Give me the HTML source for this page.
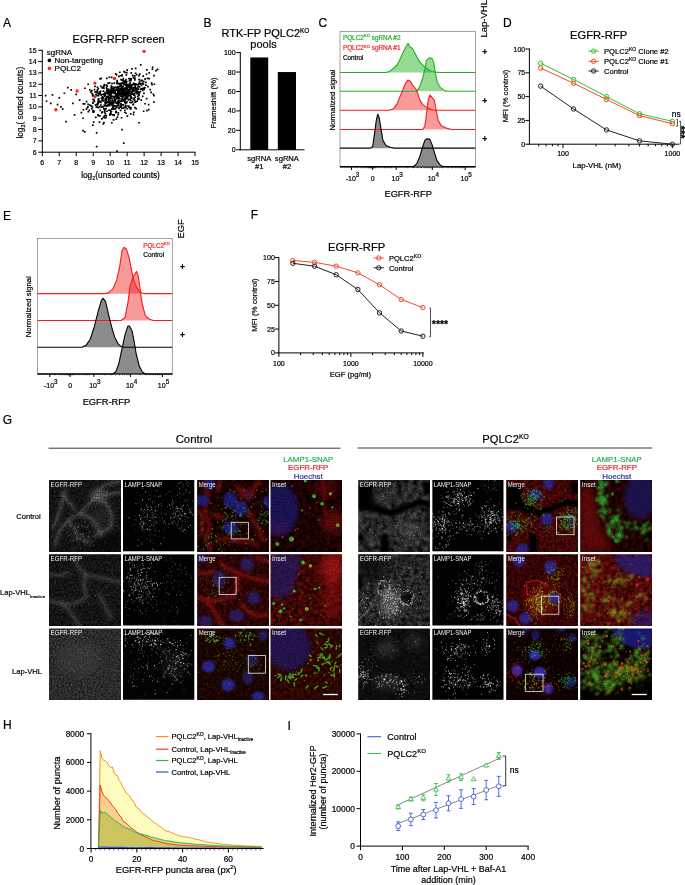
<!DOCTYPE html><html><head><meta charset="utf-8"><style>html,body{margin:0;padding:0;background:#fff;width:685px;height:885px;overflow:hidden;}svg{display:block;font-family:"Liberation Sans",sans-serif;will-change:transform;}</style></head><body><svg width="685" height="885" viewBox="0 0 685 885" font-family="'Liberation Sans', sans-serif"><defs>
<filter id="bl05" x="-20%" y="-20%" width="140%" height="140%"><feGaussianBlur stdDeviation="0.5"/></filter>
<filter id="bl1" x="-20%" y="-20%" width="140%" height="140%"><feGaussianBlur stdDeviation="1"/></filter>
<filter id="bl2" x="-30%" y="-30%" width="160%" height="160%"><feGaussianBlur stdDeviation="2"/></filter>
<filter id="bl4" x="-50%" y="-50%" width="200%" height="200%"><feGaussianBlur stdDeviation="4"/></filter>
<filter id="grainW" x="0" y="0" width="100%" height="100%"><feTurbulence type="fractalNoise" baseFrequency="0.9" numOctaves="1" seed="4"/><feColorMatrix type="matrix" values="0 0 0 0 1  0 0 0 0 1  0 0 0 0 1  2.2 0 0 0 -1.0"/></filter>
<filter id="grainK" x="0" y="0" width="100%" height="100%"><feTurbulence type="fractalNoise" baseFrequency="0.7" numOctaves="2" seed="9"/><feColorMatrix type="matrix" values="0 0 0 0 0  0 0 0 0 0  0 0 0 0 0  2.0 0 0 0 -0.85"/></filter>
<filter id="grainR" x="0" y="0" width="100%" height="100%"><feTurbulence type="fractalNoise" baseFrequency="0.45" numOctaves="2" seed="11"/><feColorMatrix type="matrix" values="0 0 0 0 0.85  0 0 0 0 0.05  0 0 0 0 0.05  2.4 0 0 0 -1.05"/></filter>
<filter id="nf1" x="0" y="0" width="100%" height="100%" color-interpolation-filters="sRGB"><feTurbulence type="fractalNoise" baseFrequency="0.4" numOctaves="2" seed="1"/><feColorMatrix type="matrix" values="0.275 0 0 0 -0.035  0.275 0 0 0 -0.035  0.275 0 0 0 -0.035  0 0 0 0 1.0"/></filter><filter id="nf2" x="0" y="0" width="100%" height="100%" color-interpolation-filters="sRGB"><feTurbulence type="fractalNoise" baseFrequency="0.8" numOctaves="1" seed="101"/><feColorMatrix type="matrix" values="0.000 0 0 0 0.000  0.000 0 0 0 0.000  0.000 0 0 0 0.000  0 1.375 0 0 -0.412"/></filter><filter id="nf3" x="0" y="0" width="100%" height="100%" color-interpolation-filters="sRGB"><feTurbulence type="fractalNoise" baseFrequency="0.3" numOctaves="3" seed="3"/><feColorMatrix type="matrix" values="0.461 0 0 0 -0.107  0.039 0 0 0 -0.012  0.039 0 0 0 -0.012  0 0 0 0 1.0"/></filter><filter id="nf4" x="0" y="0" width="100%" height="100%" color-interpolation-filters="sRGB"><feTurbulence type="fractalNoise" baseFrequency="0.8" numOctaves="1" seed="103"/><feColorMatrix type="matrix" values="0.000 0 0 0 0.000  0.000 0 0 0 0.000  0.000 0 0 0 0.000  0 1.125 0 0 -0.337"/></filter><filter id="nf5" x="0" y="0" width="100%" height="100%" color-interpolation-filters="sRGB"><feTurbulence type="fractalNoise" baseFrequency="0.25" numOctaves="3" seed="4"/><feColorMatrix type="matrix" values="0.510 0 0 0 -0.122  0.049 0 0 0 -0.015  0.049 0 0 0 -0.015  0 0 0 0 1.0"/></filter><filter id="nf6" x="0" y="0" width="100%" height="100%" color-interpolation-filters="sRGB"><feTurbulence type="fractalNoise" baseFrequency="0.8" numOctaves="1" seed="104"/><feColorMatrix type="matrix" values="0.000 0 0 0 0.000  0.000 0 0 0 0.000  0.000 0 0 0 0.000  0 1.125 0 0 -0.337"/></filter><filter id="nf7" x="0" y="0" width="100%" height="100%" color-interpolation-filters="sRGB"><feTurbulence type="fractalNoise" baseFrequency="0.4" numOctaves="2" seed="5"/><feColorMatrix type="matrix" values="0.255 0 0 0 -0.022  0.255 0 0 0 -0.022  0.255 0 0 0 -0.022  0 0 0 0 1.0"/></filter><filter id="nf8" x="0" y="0" width="100%" height="100%" color-interpolation-filters="sRGB"><feTurbulence type="fractalNoise" baseFrequency="0.8" numOctaves="1" seed="105"/><feColorMatrix type="matrix" values="0.000 0 0 0 0.000  0.000 0 0 0 0.000  0.000 0 0 0 0.000  0 1.250 0 0 -0.375"/></filter><filter id="nf9" x="0" y="0" width="100%" height="100%" color-interpolation-filters="sRGB"><feTurbulence type="fractalNoise" baseFrequency="0.3" numOctaves="3" seed="7"/><feColorMatrix type="matrix" values="0.549 0 0 0 -0.071  0.059 0 0 0 -0.010  0.059 0 0 0 -0.010  0 0 0 0 1.0"/></filter><filter id="nf10" x="0" y="0" width="100%" height="100%" color-interpolation-filters="sRGB"><feTurbulence type="fractalNoise" baseFrequency="0.8" numOctaves="1" seed="107"/><feColorMatrix type="matrix" values="0.000 0 0 0 0.000  0.000 0 0 0 0.000  0.000 0 0 0 0.000  0 1.000 0 0 -0.300"/></filter><filter id="nf11" x="0" y="0" width="100%" height="100%" color-interpolation-filters="sRGB"><feTurbulence type="fractalNoise" baseFrequency="0.25" numOctaves="3" seed="8"/><feColorMatrix type="matrix" values="0.686 0 0 0 -0.049  0.088 0 0 0 -0.015  0.088 0 0 0 -0.015  0 0 0 0 1.0"/></filter><filter id="nf12" x="0" y="0" width="100%" height="100%" color-interpolation-filters="sRGB"><feTurbulence type="fractalNoise" baseFrequency="0.8" numOctaves="1" seed="108"/><feColorMatrix type="matrix" values="0.000 0 0 0 0.000  0.000 0 0 0 0.000  0.000 0 0 0 0.000  0 1.000 0 0 -0.300"/></filter><filter id="nf13" x="0" y="0" width="100%" height="100%" color-interpolation-filters="sRGB"><feTurbulence type="fractalNoise" baseFrequency="0.5" numOctaves="2" seed="9"/><feColorMatrix type="matrix" values="0.353 0 0 0 0.027  0.353 0 0 0 0.027  0.353 0 0 0 0.027  0 0 0 0 1.0"/></filter><filter id="nf14" x="0" y="0" width="100%" height="100%" color-interpolation-filters="sRGB"><feTurbulence type="fractalNoise" baseFrequency="0.9" numOctaves="1" seed="109"/><feColorMatrix type="matrix" values="0.000 0 0 0 0.000  0.000 0 0 0 0.000  0.000 0 0 0 0.000  0 0.875 0 0 -0.263"/></filter><filter id="nf15" x="0" y="0" width="100%" height="100%" color-interpolation-filters="sRGB"><feTurbulence type="fractalNoise" baseFrequency="0.35" numOctaves="3" seed="11"/><feColorMatrix type="matrix" values="0.353 0 0 0 -0.051  0.059 0 0 0 -0.010  0.020 0 0 0 -0.006  0 0 0 0 1.0"/></filter><filter id="nf16" x="0" y="0" width="100%" height="100%" color-interpolation-filters="sRGB"><feTurbulence type="fractalNoise" baseFrequency="0.8" numOctaves="1" seed="111"/><feColorMatrix type="matrix" values="0.000 0 0 0 0.000  0.000 0 0 0 0.000  0.000 0 0 0 0.000  0 0.875 0 0 -0.263"/></filter><filter id="nf17" x="0" y="0" width="100%" height="100%" color-interpolation-filters="sRGB"><feTurbulence type="fractalNoise" baseFrequency="0.3" numOctaves="3" seed="12"/><feColorMatrix type="matrix" values="0.490 0 0 0 -0.029  0.078 0 0 0 -0.008  0.020 0 0 0 -0.006  0 0 0 0 1.0"/></filter><filter id="nf18" x="0" y="0" width="100%" height="100%" color-interpolation-filters="sRGB"><feTurbulence type="fractalNoise" baseFrequency="0.8" numOctaves="1" seed="112"/><feColorMatrix type="matrix" values="0.000 0 0 0 0.000  0.000 0 0 0 0.000  0.000 0 0 0 0.000  0 1.000 0 0 -0.300"/></filter><filter id="nf19" x="0" y="0" width="100%" height="100%" color-interpolation-filters="sRGB"><feTurbulence type="fractalNoise" baseFrequency="0.18" numOctaves="4" seed="13"/><feColorMatrix type="matrix" values="0.549 0 0 0 -0.078  0.549 0 0 0 -0.078  0.549 0 0 0 -0.078  0 0 0 0 1.0"/></filter><filter id="nf20" x="0" y="0" width="100%" height="100%" color-interpolation-filters="sRGB"><feTurbulence type="fractalNoise" baseFrequency="0.8" numOctaves="1" seed="113"/><feColorMatrix type="matrix" values="0.000 0 0 0 0.000  0.000 0 0 0 0.000  0.000 0 0 0 0.000  0 1.125 0 0 -0.337"/></filter><filter id="nf21" x="0" y="0" width="100%" height="100%" color-interpolation-filters="sRGB"><feTurbulence type="fractalNoise" baseFrequency="0.35" numOctaves="3" seed="15"/><feColorMatrix type="matrix" values="0.686 0 0 0 -0.029  0.098 0 0 0 -0.022  0.098 0 0 0 -0.022  0 0 0 0 1.0"/></filter><filter id="nf22" x="0" y="0" width="100%" height="100%" color-interpolation-filters="sRGB"><feTurbulence type="fractalNoise" baseFrequency="0.8" numOctaves="1" seed="115"/><feColorMatrix type="matrix" values="0.000 0 0 0 0.000  0.000 0 0 0 0.000  0.000 0 0 0 0.000  0 1.000 0 0 -0.300"/></filter><filter id="nf23" x="0" y="0" width="100%" height="100%" color-interpolation-filters="sRGB"><feTurbulence type="fractalNoise" baseFrequency="0.25" numOctaves="3" seed="16"/><feColorMatrix type="matrix" values="0.471 0 0 0 -0.094  0.049 0 0 0 -0.015  0.049 0 0 0 -0.015  0 0 0 0 1.0"/></filter><filter id="nf24" x="0" y="0" width="100%" height="100%" color-interpolation-filters="sRGB"><feTurbulence type="fractalNoise" baseFrequency="0.8" numOctaves="1" seed="116"/><feColorMatrix type="matrix" values="0.000 0 0 0 0.000  0.000 0 0 0 0.000  0.000 0 0 0 0.000  0 0.875 0 0 -0.263"/></filter><filter id="nf25" x="0" y="0" width="100%" height="100%" color-interpolation-filters="sRGB"><feTurbulence type="fractalNoise" baseFrequency="0.25" numOctaves="3" seed="17"/><feColorMatrix type="matrix" values="0.451 0 0 0 -0.057  0.451 0 0 0 -0.057  0.451 0 0 0 -0.057  0 0 0 0 1.0"/></filter><filter id="nf26" x="0" y="0" width="100%" height="100%" color-interpolation-filters="sRGB"><feTurbulence type="fractalNoise" baseFrequency="0.8" numOctaves="1" seed="117"/><feColorMatrix type="matrix" values="0.000 0 0 0 0.000  0.000 0 0 0 0.000  0.000 0 0 0 0.000  0 1.000 0 0 -0.300"/></filter><filter id="nf27" x="0" y="0" width="100%" height="100%" color-interpolation-filters="sRGB"><feTurbulence type="fractalNoise" baseFrequency="0.35" numOctaves="3" seed="19"/><feColorMatrix type="matrix" values="0.637 0 0 0 -0.074  0.078 0 0 0 -0.024  0.078 0 0 0 -0.024  0 0 0 0 1.0"/></filter><filter id="nf28" x="0" y="0" width="100%" height="100%" color-interpolation-filters="sRGB"><feTurbulence type="fractalNoise" baseFrequency="0.8" numOctaves="1" seed="119"/><feColorMatrix type="matrix" values="0.000 0 0 0 0.000  0.000 0 0 0 0.000  0.000 0 0 0 0.000  0 0.875 0 0 -0.263"/></filter><filter id="nf29" x="0" y="0" width="100%" height="100%" color-interpolation-filters="sRGB"><feTurbulence type="fractalNoise" baseFrequency="0.25" numOctaves="3" seed="20"/><feColorMatrix type="matrix" values="0.882 0 0 0 -0.069  0.118 0 0 0 -0.020  0.118 0 0 0 -0.020  0 0 0 0 1.0"/></filter><filter id="nf30" x="0" y="0" width="100%" height="100%" color-interpolation-filters="sRGB"><feTurbulence type="fractalNoise" baseFrequency="0.8" numOctaves="1" seed="120"/><feColorMatrix type="matrix" values="0.000 0 0 0 0.000  0.000 0 0 0 0.000  0.000 0 0 0 0.000  0 0.875 0 0 -0.263"/></filter><filter id="nf31" x="0" y="0" width="100%" height="100%" color-interpolation-filters="sRGB"><feTurbulence type="fractalNoise" baseFrequency="0.4" numOctaves="3" seed="21"/><feColorMatrix type="matrix" values="0.137 0 0 0 -0.018  0.137 0 0 0 -0.018  0.137 0 0 0 -0.018  0 0 0 0 1.0"/></filter><filter id="nf32" x="0" y="0" width="100%" height="100%" color-interpolation-filters="sRGB"><feTurbulence type="fractalNoise" baseFrequency="0.35" numOctaves="3" seed="23"/><feColorMatrix type="matrix" values="0.216 0 0 0 -0.049  0.020 0 0 0 -0.006  0.020 0 0 0 -0.006  0 0 0 0 1.0"/></filter><filter id="nf33" x="0" y="0" width="100%" height="100%" color-interpolation-filters="sRGB"><feTurbulence type="fractalNoise" baseFrequency="0.3" numOctaves="3" seed="24"/><feColorMatrix type="matrix" values="0.157 0 0 0 -0.039  0.029 0 0 0 -0.009  0.000 0 0 0 0.000  0 0 0 0 1.0"/></filter><filter id="nf34" x="0" y="0" width="100%" height="100%" color-interpolation-filters="sRGB"><feTurbulence type="fractalNoise" baseFrequency="0.8" numOctaves="1" seed="124"/><feColorMatrix type="matrix" values="0.000 0 0 0 0.000  0.000 0 0 0 0.000  0.000 0 0 0 0.000  0 0.875 0 0 -0.263"/></filter></defs><rect width="685" height="885" fill="#fff"/><text x="3.10" y="26.90" font-size="12" text-anchor="start" fill="#000" stroke="#000" stroke-width="0.2" >A</text>
<text x="203.40" y="26.80" font-size="12" text-anchor="start" fill="#000" stroke="#000" stroke-width="0.2" >B</text>
<text x="318.40" y="26.80" font-size="12" text-anchor="start" fill="#000" stroke="#000" stroke-width="0.2" >C</text>
<text x="502.90" y="26.60" font-size="12" text-anchor="start" fill="#000" stroke="#000" stroke-width="0.2" >D</text>
<text x="3.10" y="219.50" font-size="12" text-anchor="start" fill="#000" stroke="#000" stroke-width="0.2" >E</text>
<text x="250.70" y="219.40" font-size="12" text-anchor="start" fill="#000" stroke="#000" stroke-width="0.2" >F</text>
<text x="2.70" y="423.60" font-size="12" text-anchor="start" fill="#000" stroke="#000" stroke-width="0.2" >G</text>
<text x="3.10" y="728.80" font-size="12" text-anchor="start" fill="#000" stroke="#000" stroke-width="0.2" >H</text>
<text x="287.40" y="729.50" font-size="12" text-anchor="start" fill="#000" stroke="#000" stroke-width="0.2" >I</text>
<text x="118.60" y="42.80" font-size="11" text-anchor="middle" fill="#000" stroke="#000" stroke-width="0.2" >EGFR-RFP screen</text>
<line x1="42.30" y1="49.73" x2="42.30" y2="152.70" stroke="#000" stroke-width="1" />
<line x1="41.80" y1="152.20" x2="195.53" y2="152.20" stroke="#000" stroke-width="1" />
<line x1="38.30" y1="152.20" x2="42.30" y2="152.20" stroke="#000" stroke-width="1" />
<text x="36.60" y="154.70" font-size="7" text-anchor="end" fill="#000" stroke="#000" stroke-width="0.2" >6</text>
<line x1="42.30" y1="152.20" x2="42.30" y2="156.20" stroke="#000" stroke-width="1" />
<text x="42.30" y="164.60" font-size="7" text-anchor="middle" fill="#000" stroke="#000" stroke-width="0.2" >6</text>
<line x1="38.30" y1="140.87" x2="42.30" y2="140.87" stroke="#000" stroke-width="1" />
<text x="36.60" y="143.37" font-size="7" text-anchor="end" fill="#000" stroke="#000" stroke-width="0.2" >7</text>
<line x1="59.27" y1="152.20" x2="59.27" y2="156.20" stroke="#000" stroke-width="1" />
<text x="59.27" y="164.60" font-size="7" text-anchor="middle" fill="#000" stroke="#000" stroke-width="0.2" >7</text>
<line x1="38.30" y1="129.54" x2="42.30" y2="129.54" stroke="#000" stroke-width="1" />
<text x="36.60" y="132.04" font-size="7" text-anchor="end" fill="#000" stroke="#000" stroke-width="0.2" >8</text>
<line x1="76.24" y1="152.20" x2="76.24" y2="156.20" stroke="#000" stroke-width="1" />
<text x="76.24" y="164.60" font-size="7" text-anchor="middle" fill="#000" stroke="#000" stroke-width="0.2" >8</text>
<line x1="38.30" y1="118.21" x2="42.30" y2="118.21" stroke="#000" stroke-width="1" />
<text x="36.60" y="120.71" font-size="7" text-anchor="end" fill="#000" stroke="#000" stroke-width="0.2" >9</text>
<line x1="93.21" y1="152.20" x2="93.21" y2="156.20" stroke="#000" stroke-width="1" />
<text x="93.21" y="164.60" font-size="7" text-anchor="middle" fill="#000" stroke="#000" stroke-width="0.2" >9</text>
<line x1="38.30" y1="106.88" x2="42.30" y2="106.88" stroke="#000" stroke-width="1" />
<text x="36.60" y="109.38" font-size="7" text-anchor="end" fill="#000" stroke="#000" stroke-width="0.2" >10</text>
<line x1="110.18" y1="152.20" x2="110.18" y2="156.20" stroke="#000" stroke-width="1" />
<text x="110.18" y="164.60" font-size="7" text-anchor="middle" fill="#000" stroke="#000" stroke-width="0.2" >10</text>
<line x1="38.30" y1="95.55" x2="42.30" y2="95.55" stroke="#000" stroke-width="1" />
<text x="36.60" y="98.05" font-size="7" text-anchor="end" fill="#000" stroke="#000" stroke-width="0.2" >11</text>
<line x1="127.15" y1="152.20" x2="127.15" y2="156.20" stroke="#000" stroke-width="1" />
<text x="127.15" y="164.60" font-size="7" text-anchor="middle" fill="#000" stroke="#000" stroke-width="0.2" >11</text>
<line x1="38.30" y1="84.22" x2="42.30" y2="84.22" stroke="#000" stroke-width="1" />
<text x="36.60" y="86.72" font-size="7" text-anchor="end" fill="#000" stroke="#000" stroke-width="0.2" >12</text>
<line x1="144.12" y1="152.20" x2="144.12" y2="156.20" stroke="#000" stroke-width="1" />
<text x="144.12" y="164.60" font-size="7" text-anchor="middle" fill="#000" stroke="#000" stroke-width="0.2" >12</text>
<line x1="38.30" y1="72.89" x2="42.30" y2="72.89" stroke="#000" stroke-width="1" />
<text x="36.60" y="75.39" font-size="7" text-anchor="end" fill="#000" stroke="#000" stroke-width="0.2" >13</text>
<line x1="161.09" y1="152.20" x2="161.09" y2="156.20" stroke="#000" stroke-width="1" />
<text x="161.09" y="164.60" font-size="7" text-anchor="middle" fill="#000" stroke="#000" stroke-width="0.2" >13</text>
<line x1="38.30" y1="61.56" x2="42.30" y2="61.56" stroke="#000" stroke-width="1" />
<text x="36.60" y="64.06" font-size="7" text-anchor="end" fill="#000" stroke="#000" stroke-width="0.2" >14</text>
<line x1="178.06" y1="152.20" x2="178.06" y2="156.20" stroke="#000" stroke-width="1" />
<text x="178.06" y="164.60" font-size="7" text-anchor="middle" fill="#000" stroke="#000" stroke-width="0.2" >14</text>
<line x1="38.30" y1="50.23" x2="42.30" y2="50.23" stroke="#000" stroke-width="1" />
<text x="36.60" y="52.73" font-size="7" text-anchor="end" fill="#000" stroke="#000" stroke-width="0.2" >15</text>
<line x1="195.03" y1="152.20" x2="195.03" y2="156.20" stroke="#000" stroke-width="1" />
<text x="195.03" y="164.60" font-size="7" text-anchor="middle" fill="#000" stroke="#000" stroke-width="0.2" >15</text>
<text x="120.50" y="177.60" font-size="8.3" text-anchor="middle" fill="#000" stroke="#000" stroke-width="0.2" >log<tspan font-size="5.5" dy="2">2</tspan><tspan dy="-2">(unsorted counts)</tspan></text>
<text x="22.60" y="102.70" font-size="8.3" text-anchor="middle" fill="#000" stroke="#000" stroke-width="0.2" transform="rotate(-90 22.60 102.70)" >log<tspan font-size="5.5" dy="2">2</tspan><tspan dy="-2">( sorted counts)</tspan></text>
<path d="M114.3,91.2h1.7v1.7h-1.7zM114.7,98.3h1.7v1.7h-1.7zM105.2,100.1h1.7v1.7h-1.7zM132.9,86.7h1.7v1.7h-1.7zM131.9,88.6h1.7v1.7h-1.7zM123.2,91.6h1.7v1.7h-1.7zM95.2,93.5h1.7v1.7h-1.7zM124.7,88.4h1.7v1.7h-1.7zM94.9,116.6h1.7v1.7h-1.7zM105.7,102.2h1.7v1.7h-1.7zM122.0,93.9h1.7v1.7h-1.7zM124.9,98.4h1.7v1.7h-1.7zM122.0,90.0h1.7v1.7h-1.7zM108.8,82.0h1.7v1.7h-1.7zM125.4,82.0h1.7v1.7h-1.7zM109.4,103.6h1.7v1.7h-1.7zM113.1,97.0h1.7v1.7h-1.7zM126.4,90.1h1.7v1.7h-1.7zM111.7,104.9h1.7v1.7h-1.7zM110.7,85.9h1.7v1.7h-1.7zM106.8,95.6h1.7v1.7h-1.7zM123.6,106.2h1.7v1.7h-1.7zM118.5,83.0h1.7v1.7h-1.7zM90.5,105.2h1.7v1.7h-1.7zM116.4,102.3h1.7v1.7h-1.7zM124.6,93.4h1.7v1.7h-1.7zM97.9,93.0h1.7v1.7h-1.7zM126.9,83.8h1.7v1.7h-1.7zM137.4,86.0h1.7v1.7h-1.7zM119.4,105.7h1.7v1.7h-1.7zM126.2,97.8h1.7v1.7h-1.7zM111.7,107.6h1.7v1.7h-1.7zM104.7,103.1h1.7v1.7h-1.7zM135.3,107.7h1.7v1.7h-1.7zM98.0,98.1h1.7v1.7h-1.7zM137.4,84.1h1.7v1.7h-1.7zM92.0,124.2h1.7v1.7h-1.7zM122.7,99.8h1.7v1.7h-1.7zM102.6,90.3h1.7v1.7h-1.7zM132.8,89.1h1.7v1.7h-1.7zM121.2,89.9h1.7v1.7h-1.7zM139.5,83.2h1.7v1.7h-1.7zM124.9,87.9h1.7v1.7h-1.7zM96.5,89.3h1.7v1.7h-1.7zM130.8,86.4h1.7v1.7h-1.7zM91.0,107.8h1.7v1.7h-1.7zM129.3,107.5h1.7v1.7h-1.7zM115.3,86.4h1.7v1.7h-1.7zM100.0,85.5h1.7v1.7h-1.7zM125.3,93.9h1.7v1.7h-1.7zM122.2,87.7h1.7v1.7h-1.7zM119.4,84.1h1.7v1.7h-1.7zM108.8,100.9h1.7v1.7h-1.7zM132.0,90.5h1.7v1.7h-1.7zM105.9,89.7h1.7v1.7h-1.7zM137.7,93.1h1.7v1.7h-1.7zM99.1,101.1h1.7v1.7h-1.7zM115.8,97.9h1.7v1.7h-1.7zM136.9,98.4h1.7v1.7h-1.7zM134.9,101.1h1.7v1.7h-1.7zM107.1,92.1h1.7v1.7h-1.7zM133.1,82.8h1.7v1.7h-1.7zM122.5,92.1h1.7v1.7h-1.7zM119.9,89.0h1.7v1.7h-1.7zM115.4,92.9h1.7v1.7h-1.7zM125.6,92.5h1.7v1.7h-1.7zM128.2,86.8h1.7v1.7h-1.7zM145.1,84.2h1.7v1.7h-1.7zM112.0,99.6h1.7v1.7h-1.7zM117.6,86.6h1.7v1.7h-1.7zM113.2,92.6h1.7v1.7h-1.7zM142.8,110.4h1.7v1.7h-1.7zM102.6,96.8h1.7v1.7h-1.7zM123.2,91.1h1.7v1.7h-1.7zM112.0,90.6h1.7v1.7h-1.7zM121.6,98.2h1.7v1.7h-1.7zM150.8,82.3h1.7v1.7h-1.7zM110.3,97.7h1.7v1.7h-1.7zM114.8,96.1h1.7v1.7h-1.7zM82.5,108.9h1.7v1.7h-1.7zM131.5,101.2h1.7v1.7h-1.7zM116.9,86.5h1.7v1.7h-1.7zM129.4,78.3h1.7v1.7h-1.7zM94.7,104.3h1.7v1.7h-1.7zM113.2,90.5h1.7v1.7h-1.7zM132.6,113.5h1.7v1.7h-1.7zM132.6,103.3h1.7v1.7h-1.7zM127.1,105.3h1.7v1.7h-1.7zM120.2,83.5h1.7v1.7h-1.7zM115.8,93.6h1.7v1.7h-1.7zM128.6,90.4h1.7v1.7h-1.7zM116.6,81.5h1.7v1.7h-1.7zM132.0,93.3h1.7v1.7h-1.7zM153.1,94.9h1.7v1.7h-1.7zM130.2,93.6h1.7v1.7h-1.7zM119.6,88.0h1.7v1.7h-1.7zM120.8,88.2h1.7v1.7h-1.7zM97.1,113.9h1.7v1.7h-1.7zM126.2,100.9h1.7v1.7h-1.7zM103.9,111.6h1.7v1.7h-1.7zM135.0,83.3h1.7v1.7h-1.7zM137.8,97.4h1.7v1.7h-1.7zM117.8,104.8h1.7v1.7h-1.7zM128.2,77.7h1.7v1.7h-1.7zM105.7,84.3h1.7v1.7h-1.7zM131.2,92.5h1.7v1.7h-1.7zM91.0,89.8h1.7v1.7h-1.7zM116.5,100.4h1.7v1.7h-1.7zM123.2,89.6h1.7v1.7h-1.7zM138.2,98.0h1.7v1.7h-1.7zM133.2,77.2h1.7v1.7h-1.7zM137.5,90.8h1.7v1.7h-1.7zM107.7,88.5h1.7v1.7h-1.7zM119.4,93.2h1.7v1.7h-1.7zM137.2,91.6h1.7v1.7h-1.7zM86.6,106.9h1.7v1.7h-1.7zM92.6,94.5h1.7v1.7h-1.7zM122.1,98.9h1.7v1.7h-1.7zM117.7,87.4h1.7v1.7h-1.7zM118.9,82.7h1.7v1.7h-1.7zM117.0,85.7h1.7v1.7h-1.7zM138.1,74.8h1.7v1.7h-1.7zM108.7,89.5h1.7v1.7h-1.7zM92.3,111.4h1.7v1.7h-1.7zM91.2,92.7h1.7v1.7h-1.7zM101.1,99.5h1.7v1.7h-1.7zM115.2,95.7h1.7v1.7h-1.7zM109.8,94.9h1.7v1.7h-1.7zM142.1,87.5h1.7v1.7h-1.7zM125.0,83.8h1.7v1.7h-1.7zM115.1,106.6h1.7v1.7h-1.7zM110.3,87.3h1.7v1.7h-1.7zM95.5,106.3h1.7v1.7h-1.7zM131.5,83.9h1.7v1.7h-1.7zM117.9,87.6h1.7v1.7h-1.7zM120.1,104.5h1.7v1.7h-1.7zM96.6,106.3h1.7v1.7h-1.7zM130.3,96.2h1.7v1.7h-1.7zM105.6,104.9h1.7v1.7h-1.7zM97.0,101.6h1.7v1.7h-1.7zM101.8,96.0h1.7v1.7h-1.7zM85.8,100.8h1.7v1.7h-1.7zM109.1,114.3h1.7v1.7h-1.7zM127.7,94.4h1.7v1.7h-1.7zM87.5,110.9h1.7v1.7h-1.7zM121.8,97.6h1.7v1.7h-1.7zM128.4,85.1h1.7v1.7h-1.7zM126.9,89.3h1.7v1.7h-1.7zM135.9,83.8h1.7v1.7h-1.7zM123.9,111.4h1.7v1.7h-1.7zM130.0,79.7h1.7v1.7h-1.7zM113.8,100.0h1.7v1.7h-1.7zM144.2,102.9h1.7v1.7h-1.7zM124.2,71.5h1.7v1.7h-1.7zM105.2,92.1h1.7v1.7h-1.7zM143.4,88.6h1.7v1.7h-1.7zM125.4,84.6h1.7v1.7h-1.7zM105.5,98.9h1.7v1.7h-1.7zM121.8,86.3h1.7v1.7h-1.7zM117.3,96.6h1.7v1.7h-1.7zM104.0,101.7h1.7v1.7h-1.7zM129.9,90.4h1.7v1.7h-1.7zM106.2,105.4h1.7v1.7h-1.7zM153.1,74.7h1.7v1.7h-1.7zM126.5,115.2h1.7v1.7h-1.7zM126.3,88.1h1.7v1.7h-1.7zM140.7,84.5h1.7v1.7h-1.7zM116.9,90.3h1.7v1.7h-1.7zM91.4,93.0h1.7v1.7h-1.7zM122.2,99.7h1.7v1.7h-1.7zM135.8,73.7h1.7v1.7h-1.7zM98.8,105.9h1.7v1.7h-1.7zM121.8,92.0h1.7v1.7h-1.7zM112.4,104.8h1.7v1.7h-1.7zM146.6,77.5h1.7v1.7h-1.7zM101.6,111.1h1.7v1.7h-1.7zM140.9,79.5h1.7v1.7h-1.7zM142.5,80.6h1.7v1.7h-1.7zM106.0,95.7h1.7v1.7h-1.7zM88.5,109.5h1.7v1.7h-1.7zM117.0,90.3h1.7v1.7h-1.7zM107.9,98.6h1.7v1.7h-1.7zM124.0,89.6h1.7v1.7h-1.7zM126.5,90.4h1.7v1.7h-1.7zM113.4,89.0h1.7v1.7h-1.7zM118.5,101.8h1.7v1.7h-1.7zM109.3,97.1h1.7v1.7h-1.7zM116.3,93.7h1.7v1.7h-1.7zM117.8,93.1h1.7v1.7h-1.7zM116.0,106.3h1.7v1.7h-1.7zM123.5,83.8h1.7v1.7h-1.7zM123.7,94.7h1.7v1.7h-1.7zM123.9,101.5h1.7v1.7h-1.7zM92.1,101.4h1.7v1.7h-1.7zM105.2,91.7h1.7v1.7h-1.7zM103.1,121.8h1.7v1.7h-1.7zM103.7,84.7h1.7v1.7h-1.7zM112.6,108.3h1.7v1.7h-1.7zM107.5,93.0h1.7v1.7h-1.7zM124.6,91.2h1.7v1.7h-1.7zM138.0,82.8h1.7v1.7h-1.7zM117.5,89.5h1.7v1.7h-1.7zM140.3,79.8h1.7v1.7h-1.7zM131.7,100.4h1.7v1.7h-1.7zM115.8,88.8h1.7v1.7h-1.7zM113.8,86.4h1.7v1.7h-1.7zM125.9,84.4h1.7v1.7h-1.7zM114.9,73.0h1.7v1.7h-1.7zM134.6,91.9h1.7v1.7h-1.7zM119.0,71.4h1.7v1.7h-1.7zM113.2,88.3h1.7v1.7h-1.7zM131.1,90.9h1.7v1.7h-1.7zM102.0,97.5h1.7v1.7h-1.7zM122.7,83.3h1.7v1.7h-1.7zM128.4,91.5h1.7v1.7h-1.7zM129.4,86.7h1.7v1.7h-1.7zM120.6,93.4h1.7v1.7h-1.7zM114.5,89.6h1.7v1.7h-1.7zM103.5,104.3h1.7v1.7h-1.7zM117.9,107.6h1.7v1.7h-1.7zM111.9,114.1h1.7v1.7h-1.7zM108.5,92.3h1.7v1.7h-1.7zM125.5,93.0h1.7v1.7h-1.7zM114.7,108.1h1.7v1.7h-1.7zM142.6,83.2h1.7v1.7h-1.7zM132.7,98.3h1.7v1.7h-1.7zM115.3,111.5h1.7v1.7h-1.7zM128.4,83.5h1.7v1.7h-1.7zM92.1,102.4h1.7v1.7h-1.7zM126.4,107.9h1.7v1.7h-1.7zM93.0,111.1h1.7v1.7h-1.7zM109.3,109.5h1.7v1.7h-1.7zM118.2,92.4h1.7v1.7h-1.7zM126.4,86.1h1.7v1.7h-1.7zM138.2,78.7h1.7v1.7h-1.7zM100.0,104.2h1.7v1.7h-1.7zM103.4,108.3h1.7v1.7h-1.7zM116.7,95.0h1.7v1.7h-1.7zM124.5,106.9h1.7v1.7h-1.7zM101.0,99.6h1.7v1.7h-1.7zM115.1,98.2h1.7v1.7h-1.7zM117.0,101.7h1.7v1.7h-1.7zM127.3,88.9h1.7v1.7h-1.7zM116.6,101.0h1.7v1.7h-1.7zM115.5,118.3h1.7v1.7h-1.7zM104.5,98.1h1.7v1.7h-1.7zM97.4,98.7h1.7v1.7h-1.7zM119.8,106.3h1.7v1.7h-1.7zM114.4,98.4h1.7v1.7h-1.7zM124.1,87.5h1.7v1.7h-1.7zM117.3,102.4h1.7v1.7h-1.7zM115.9,95.8h1.7v1.7h-1.7zM127.8,89.3h1.7v1.7h-1.7zM108.0,109.4h1.7v1.7h-1.7zM112.7,102.7h1.7v1.7h-1.7zM102.7,100.0h1.7v1.7h-1.7zM111.1,95.6h1.7v1.7h-1.7zM124.9,96.4h1.7v1.7h-1.7zM149.4,88.7h1.7v1.7h-1.7zM132.8,89.4h1.7v1.7h-1.7zM133.0,111.4h1.7v1.7h-1.7zM107.6,95.4h1.7v1.7h-1.7zM126.0,71.8h1.7v1.7h-1.7zM122.2,82.2h1.7v1.7h-1.7zM128.2,83.4h1.7v1.7h-1.7zM124.7,94.1h1.7v1.7h-1.7zM124.7,102.3h1.7v1.7h-1.7zM133.9,99.2h1.7v1.7h-1.7zM121.2,75.0h1.7v1.7h-1.7zM114.8,95.4h1.7v1.7h-1.7zM133.6,90.0h1.7v1.7h-1.7zM106.9,95.5h1.7v1.7h-1.7zM125.7,86.2h1.7v1.7h-1.7zM107.3,82.2h1.7v1.7h-1.7zM140.4,88.2h1.7v1.7h-1.7zM121.5,97.5h1.7v1.7h-1.7zM137.0,95.5h1.7v1.7h-1.7zM127.0,96.4h1.7v1.7h-1.7zM108.4,91.0h1.7v1.7h-1.7zM135.9,89.7h1.7v1.7h-1.7zM108.6,90.1h1.7v1.7h-1.7zM117.1,92.1h1.7v1.7h-1.7zM138.5,78.9h1.7v1.7h-1.7zM110.8,76.5h1.7v1.7h-1.7zM117.9,87.7h1.7v1.7h-1.7zM109.0,97.6h1.7v1.7h-1.7zM94.1,85.6h1.7v1.7h-1.7zM136.4,100.2h1.7v1.7h-1.7zM97.4,114.8h1.7v1.7h-1.7zM133.8,94.3h1.7v1.7h-1.7zM117.0,97.7h1.7v1.7h-1.7zM116.2,104.8h1.7v1.7h-1.7zM118.1,107.3h1.7v1.7h-1.7zM116.8,92.2h1.7v1.7h-1.7zM124.2,95.0h1.7v1.7h-1.7zM105.5,96.7h1.7v1.7h-1.7zM111.2,82.7h1.7v1.7h-1.7zM128.2,92.8h1.7v1.7h-1.7zM111.4,102.7h1.7v1.7h-1.7zM105.1,101.4h1.7v1.7h-1.7zM121.8,89.0h1.7v1.7h-1.7zM125.5,74.0h1.7v1.7h-1.7zM108.2,97.3h1.7v1.7h-1.7zM153.1,101.3h1.7v1.7h-1.7zM110.7,95.2h1.7v1.7h-1.7zM119.9,90.5h1.7v1.7h-1.7zM114.6,92.4h1.7v1.7h-1.7zM118.5,87.7h1.7v1.7h-1.7zM92.1,109.7h1.7v1.7h-1.7zM117.8,103.8h1.7v1.7h-1.7zM103.6,93.1h1.7v1.7h-1.7zM109.0,91.6h1.7v1.7h-1.7zM127.9,89.2h1.7v1.7h-1.7zM124.7,93.7h1.7v1.7h-1.7zM98.7,100.3h1.7v1.7h-1.7zM124.0,97.6h1.7v1.7h-1.7zM116.5,88.5h1.7v1.7h-1.7zM105.9,92.4h1.7v1.7h-1.7zM143.1,92.5h1.7v1.7h-1.7zM119.8,95.5h1.7v1.7h-1.7zM138.7,86.0h1.7v1.7h-1.7zM130.0,97.4h1.7v1.7h-1.7zM117.6,94.8h1.7v1.7h-1.7zM93.7,88.7h1.7v1.7h-1.7zM130.0,106.7h1.7v1.7h-1.7zM127.9,93.0h1.7v1.7h-1.7zM123.9,89.8h1.7v1.7h-1.7zM97.5,102.3h1.7v1.7h-1.7zM138.1,94.1h1.7v1.7h-1.7zM103.9,110.6h1.7v1.7h-1.7zM101.2,96.4h1.7v1.7h-1.7zM140.8,84.5h1.7v1.7h-1.7zM121.1,74.0h1.7v1.7h-1.7zM110.8,102.6h1.7v1.7h-1.7zM125.0,87.8h1.7v1.7h-1.7zM104.0,108.9h1.7v1.7h-1.7zM121.8,91.4h1.7v1.7h-1.7zM100.1,101.5h1.7v1.7h-1.7zM110.4,92.7h1.7v1.7h-1.7zM116.2,95.9h1.7v1.7h-1.7zM113.0,86.7h1.7v1.7h-1.7zM136.7,92.6h1.7v1.7h-1.7zM129.3,98.2h1.7v1.7h-1.7zM118.8,87.8h1.7v1.7h-1.7zM138.4,92.3h1.7v1.7h-1.7zM116.8,93.2h1.7v1.7h-1.7zM97.5,100.3h1.7v1.7h-1.7zM108.6,94.0h1.7v1.7h-1.7zM102.5,116.5h1.7v1.7h-1.7zM118.3,92.3h1.7v1.7h-1.7zM110.4,88.9h1.7v1.7h-1.7zM114.1,101.1h1.7v1.7h-1.7zM124.3,106.7h1.7v1.7h-1.7zM108.6,97.5h1.7v1.7h-1.7zM129.3,92.9h1.7v1.7h-1.7zM122.0,99.3h1.7v1.7h-1.7zM121.9,78.9h1.7v1.7h-1.7zM108.5,76.4h1.7v1.7h-1.7zM109.1,97.0h1.7v1.7h-1.7zM120.2,85.0h1.7v1.7h-1.7zM101.0,118.0h1.7v1.7h-1.7zM126.0,85.4h1.7v1.7h-1.7zM126.3,69.3h1.7v1.7h-1.7zM120.6,91.7h1.7v1.7h-1.7zM130.4,87.9h1.7v1.7h-1.7zM140.4,99.3h1.7v1.7h-1.7zM112.7,119.1h1.7v1.7h-1.7zM128.8,94.9h1.7v1.7h-1.7zM130.4,72.1h1.7v1.7h-1.7zM117.7,97.0h1.7v1.7h-1.7zM111.0,104.0h1.7v1.7h-1.7zM109.3,91.5h1.7v1.7h-1.7zM118.3,94.0h1.7v1.7h-1.7zM115.5,87.3h1.7v1.7h-1.7zM124.5,94.1h1.7v1.7h-1.7zM126.8,93.5h1.7v1.7h-1.7zM102.2,86.2h1.7v1.7h-1.7zM124.1,101.4h1.7v1.7h-1.7zM132.5,87.5h1.7v1.7h-1.7zM96.6,86.4h1.7v1.7h-1.7zM122.3,85.6h1.7v1.7h-1.7zM120.5,95.3h1.7v1.7h-1.7zM96.8,92.0h1.7v1.7h-1.7zM118.2,97.1h1.7v1.7h-1.7zM122.6,92.7h1.7v1.7h-1.7zM127.0,95.4h1.7v1.7h-1.7zM117.3,113.7h1.7v1.7h-1.7zM112.1,90.3h1.7v1.7h-1.7zM136.0,92.8h1.7v1.7h-1.7zM116.2,81.2h1.7v1.7h-1.7zM113.4,89.5h1.7v1.7h-1.7zM140.6,88.0h1.7v1.7h-1.7zM134.5,96.3h1.7v1.7h-1.7zM120.6,94.6h1.7v1.7h-1.7zM119.4,84.3h1.7v1.7h-1.7zM150.3,91.5h1.7v1.7h-1.7zM110.0,92.5h1.7v1.7h-1.7zM103.5,94.3h1.7v1.7h-1.7zM125.6,95.0h1.7v1.7h-1.7zM125.0,106.4h1.7v1.7h-1.7zM128.1,105.5h1.7v1.7h-1.7zM108.4,102.3h1.7v1.7h-1.7zM112.4,88.6h1.7v1.7h-1.7zM118.9,97.9h1.7v1.7h-1.7zM125.2,78.7h1.7v1.7h-1.7zM117.9,91.4h1.7v1.7h-1.7zM134.6,87.6h1.7v1.7h-1.7zM100.4,77.6h1.7v1.7h-1.7zM147.8,103.8h1.7v1.7h-1.7zM117.3,91.2h1.7v1.7h-1.7zM130.9,85.1h1.7v1.7h-1.7zM114.1,105.0h1.7v1.7h-1.7zM119.2,85.2h1.7v1.7h-1.7zM103.0,107.9h1.7v1.7h-1.7zM117.5,111.9h1.7v1.7h-1.7zM114.3,99.5h1.7v1.7h-1.7zM123.9,99.2h1.7v1.7h-1.7zM105.8,101.5h1.7v1.7h-1.7zM117.1,100.8h1.7v1.7h-1.7zM118.0,88.0h1.7v1.7h-1.7zM133.9,75.1h1.7v1.7h-1.7zM107.2,101.4h1.7v1.7h-1.7zM84.1,87.4h1.7v1.7h-1.7zM108.0,97.8h1.7v1.7h-1.7zM124.9,104.7h1.7v1.7h-1.7zM124.1,93.2h1.7v1.7h-1.7zM93.0,99.1h1.7v1.7h-1.7zM134.0,106.7h1.7v1.7h-1.7zM128.8,89.8h1.7v1.7h-1.7zM124.3,89.0h1.7v1.7h-1.7zM135.5,91.7h1.7v1.7h-1.7zM129.7,95.0h1.7v1.7h-1.7zM127.7,99.1h1.7v1.7h-1.7zM116.3,79.8h1.7v1.7h-1.7zM123.9,94.4h1.7v1.7h-1.7zM102.3,106.0h1.7v1.7h-1.7zM120.4,85.7h1.7v1.7h-1.7zM123.6,88.4h1.7v1.7h-1.7zM117.2,82.9h1.7v1.7h-1.7zM112.5,101.0h1.7v1.7h-1.7zM129.9,90.8h1.7v1.7h-1.7zM114.0,100.9h1.7v1.7h-1.7zM114.3,90.2h1.7v1.7h-1.7zM122.6,104.0h1.7v1.7h-1.7zM123.6,91.5h1.7v1.7h-1.7zM104.2,91.7h1.7v1.7h-1.7zM114.0,98.7h1.7v1.7h-1.7zM128.6,80.0h1.7v1.7h-1.7zM108.5,93.4h1.7v1.7h-1.7zM105.9,77.6h1.7v1.7h-1.7zM111.1,86.0h1.7v1.7h-1.7zM109.0,90.0h1.7v1.7h-1.7zM147.9,108.7h1.7v1.7h-1.7zM111.9,91.9h1.7v1.7h-1.7zM116.6,101.0h1.7v1.7h-1.7zM147.0,85.8h1.7v1.7h-1.7zM95.5,93.4h1.7v1.7h-1.7zM94.4,91.1h1.7v1.7h-1.7zM110.0,95.6h1.7v1.7h-1.7zM134.9,88.9h1.7v1.7h-1.7zM98.9,115.0h1.7v1.7h-1.7zM133.9,83.7h1.7v1.7h-1.7zM106.7,90.2h1.7v1.7h-1.7zM124.6,87.1h1.7v1.7h-1.7zM87.1,106.0h1.7v1.7h-1.7zM130.0,84.8h1.7v1.7h-1.7zM129.8,113.1h1.7v1.7h-1.7zM120.1,89.7h1.7v1.7h-1.7zM152.5,93.4h1.7v1.7h-1.7zM113.3,95.6h1.7v1.7h-1.7zM129.8,95.2h1.7v1.7h-1.7zM133.4,97.3h1.7v1.7h-1.7zM121.4,98.3h1.7v1.7h-1.7zM120.0,100.2h1.7v1.7h-1.7zM96.1,91.1h1.7v1.7h-1.7zM121.9,98.5h1.7v1.7h-1.7zM120.5,85.2h1.7v1.7h-1.7zM104.5,99.4h1.7v1.7h-1.7zM125.1,88.0h1.7v1.7h-1.7zM113.3,114.6h1.7v1.7h-1.7zM134.7,87.1h1.7v1.7h-1.7zM118.0,97.1h1.7v1.7h-1.7zM121.4,97.5h1.7v1.7h-1.7zM103.9,105.1h1.7v1.7h-1.7zM109.7,102.4h1.7v1.7h-1.7zM102.1,93.5h1.7v1.7h-1.7zM100.0,93.9h1.7v1.7h-1.7zM104.0,95.4h1.7v1.7h-1.7zM136.5,87.7h1.7v1.7h-1.7zM107.9,97.1h1.7v1.7h-1.7zM119.8,109.5h1.7v1.7h-1.7zM109.6,95.6h1.7v1.7h-1.7zM111.4,95.8h1.7v1.7h-1.7zM127.8,85.1h1.7v1.7h-1.7zM130.1,86.1h1.7v1.7h-1.7zM113.9,96.0h1.7v1.7h-1.7zM114.1,98.5h1.7v1.7h-1.7zM115.4,110.6h1.7v1.7h-1.7zM113.3,96.2h1.7v1.7h-1.7zM104.6,98.6h1.7v1.7h-1.7zM124.8,94.2h1.7v1.7h-1.7zM146.0,109.8h1.7v1.7h-1.7zM115.0,111.6h1.7v1.7h-1.7zM131.1,68.0h1.7v1.7h-1.7zM83.8,103.1h1.7v1.7h-1.7zM124.9,95.4h1.7v1.7h-1.7zM125.3,112.4h1.7v1.7h-1.7zM129.4,88.2h1.7v1.7h-1.7zM118.1,99.8h1.7v1.7h-1.7zM126.5,96.6h1.7v1.7h-1.7zM120.8,98.4h1.7v1.7h-1.7zM87.3,103.5h1.7v1.7h-1.7zM120.6,87.3h1.7v1.7h-1.7zM105.9,98.3h1.7v1.7h-1.7zM126.2,91.1h1.7v1.7h-1.7zM134.7,72.4h1.7v1.7h-1.7zM105.5,115.1h1.7v1.7h-1.7zM129.4,77.9h1.7v1.7h-1.7zM130.3,84.0h1.7v1.7h-1.7zM109.4,103.4h1.7v1.7h-1.7zM129.9,99.4h1.7v1.7h-1.7zM93.2,110.4h1.7v1.7h-1.7zM151.6,68.2h1.7v1.7h-1.7zM108.5,103.8h1.7v1.7h-1.7zM121.0,100.4h1.7v1.7h-1.7zM135.6,90.4h1.7v1.7h-1.7zM103.1,87.3h1.7v1.7h-1.7zM109.9,95.0h1.7v1.7h-1.7zM117.6,97.5h1.7v1.7h-1.7zM122.2,99.6h1.7v1.7h-1.7zM92.8,121.2h1.7v1.7h-1.7zM100.6,106.2h1.7v1.7h-1.7zM117.5,94.3h1.7v1.7h-1.7zM125.4,91.5h1.7v1.7h-1.7zM107.0,104.0h1.7v1.7h-1.7zM89.1,104.3h1.7v1.7h-1.7zM124.4,88.2h1.7v1.7h-1.7zM116.2,96.7h1.7v1.7h-1.7zM130.5,91.0h1.7v1.7h-1.7zM127.8,86.7h1.7v1.7h-1.7zM120.7,82.3h1.7v1.7h-1.7zM110.0,100.1h1.7v1.7h-1.7zM106.8,104.8h1.7v1.7h-1.7zM138.9,73.2h1.7v1.7h-1.7zM118.1,89.6h1.7v1.7h-1.7zM133.8,83.1h1.7v1.7h-1.7zM134.2,101.3h1.7v1.7h-1.7zM109.1,93.1h1.7v1.7h-1.7zM137.3,88.3h1.7v1.7h-1.7zM106.2,101.1h1.7v1.7h-1.7zM108.8,104.8h1.7v1.7h-1.7zM138.2,94.5h1.7v1.7h-1.7zM118.1,75.5h1.7v1.7h-1.7zM133.9,87.2h1.7v1.7h-1.7zM109.5,93.4h1.7v1.7h-1.7zM139.8,83.0h1.7v1.7h-1.7zM134.9,89.0h1.7v1.7h-1.7zM124.8,94.5h1.7v1.7h-1.7zM123.6,81.6h1.7v1.7h-1.7zM98.4,100.7h1.7v1.7h-1.7zM121.1,98.8h1.7v1.7h-1.7zM113.6,88.9h1.7v1.7h-1.7zM145.0,81.5h1.7v1.7h-1.7zM122.2,107.2h1.7v1.7h-1.7zM144.0,86.7h1.7v1.7h-1.7zM117.4,104.7h1.7v1.7h-1.7zM117.0,104.6h1.7v1.7h-1.7zM118.8,90.3h1.7v1.7h-1.7zM118.2,92.1h1.7v1.7h-1.7zM106.3,85.3h1.7v1.7h-1.7zM108.9,113.3h1.7v1.7h-1.7zM115.3,102.2h1.7v1.7h-1.7zM104.1,101.7h1.7v1.7h-1.7zM121.8,104.0h1.7v1.7h-1.7zM115.9,82.6h1.7v1.7h-1.7zM127.1,93.4h1.7v1.7h-1.7zM119.5,95.3h1.7v1.7h-1.7zM117.2,88.4h1.7v1.7h-1.7zM116.6,116.3h1.7v1.7h-1.7zM117.5,102.6h1.7v1.7h-1.7zM126.7,97.6h1.7v1.7h-1.7zM119.8,74.9h1.7v1.7h-1.7zM103.6,108.6h1.7v1.7h-1.7zM98.7,121.2h1.7v1.7h-1.7zM92.3,98.6h1.7v1.7h-1.7zM109.2,113.6h1.7v1.7h-1.7zM97.7,94.9h1.7v1.7h-1.7zM107.3,100.9h1.7v1.7h-1.7zM122.3,81.5h1.7v1.7h-1.7zM144.2,78.2h1.7v1.7h-1.7zM119.8,92.5h1.7v1.7h-1.7zM142.3,75.2h1.7v1.7h-1.7zM113.6,91.8h1.7v1.7h-1.7zM121.7,93.1h1.7v1.7h-1.7zM111.0,108.3h1.7v1.7h-1.7zM110.6,110.4h1.7v1.7h-1.7zM134.4,85.3h1.7v1.7h-1.7zM101.4,87.0h1.7v1.7h-1.7zM129.9,108.2h1.7v1.7h-1.7zM142.8,80.5h1.7v1.7h-1.7zM145.8,97.7h1.7v1.7h-1.7zM125.0,88.9h1.7v1.7h-1.7zM120.6,92.4h1.7v1.7h-1.7zM132.1,103.9h1.7v1.7h-1.7zM101.0,111.7h1.7v1.7h-1.7zM110.2,102.2h1.7v1.7h-1.7zM122.8,90.9h1.7v1.7h-1.7zM118.2,100.6h1.7v1.7h-1.7zM111.8,88.0h1.7v1.7h-1.7zM128.2,90.9h1.7v1.7h-1.7zM113.4,82.2h1.7v1.7h-1.7zM109.7,91.2h1.7v1.7h-1.7zM133.5,92.7h1.7v1.7h-1.7zM129.0,101.4h1.7v1.7h-1.7zM131.6,89.1h1.7v1.7h-1.7zM96.3,94.8h1.7v1.7h-1.7zM105.7,86.8h1.7v1.7h-1.7zM108.6,98.7h1.7v1.7h-1.7zM121.7,96.6h1.7v1.7h-1.7zM121.3,98.6h1.7v1.7h-1.7zM126.9,92.1h1.7v1.7h-1.7zM120.7,116.9h1.7v1.7h-1.7zM133.6,90.0h1.7v1.7h-1.7zM93.6,100.6h1.7v1.7h-1.7zM124.2,83.5h1.7v1.7h-1.7zM103.1,85.1h1.7v1.7h-1.7zM115.7,74.1h1.7v1.7h-1.7zM115.8,89.2h1.7v1.7h-1.7zM112.8,106.0h1.7v1.7h-1.7zM132.7,82.5h1.7v1.7h-1.7zM138.7,81.3h1.7v1.7h-1.7zM110.0,111.6h1.7v1.7h-1.7zM109.0,103.1h1.7v1.7h-1.7zM106.7,92.7h1.7v1.7h-1.7zM122.3,95.8h1.7v1.7h-1.7zM120.2,95.3h1.7v1.7h-1.7zM120.7,87.2h1.7v1.7h-1.7zM130.8,97.1h1.7v1.7h-1.7zM97.4,87.8h1.7v1.7h-1.7zM119.4,84.5h1.7v1.7h-1.7zM95.5,103.9h1.7v1.7h-1.7zM118.2,107.3h1.7v1.7h-1.7zM110.8,90.3h1.7v1.7h-1.7zM132.5,76.5h1.7v1.7h-1.7zM106.1,110.4h1.7v1.7h-1.7zM124.9,84.4h1.7v1.7h-1.7zM120.4,105.5h1.7v1.7h-1.7zM128.4,84.7h1.7v1.7h-1.7zM125.3,96.9h1.7v1.7h-1.7zM121.9,86.6h1.7v1.7h-1.7zM110.2,113.1h1.7v1.7h-1.7zM122.3,89.2h1.7v1.7h-1.7zM118.0,86.8h1.7v1.7h-1.7zM109.9,97.7h1.7v1.7h-1.7zM113.7,90.8h1.7v1.7h-1.7zM139.5,90.8h1.7v1.7h-1.7zM145.7,73.4h1.7v1.7h-1.7zM128.5,86.5h1.7v1.7h-1.7zM141.9,89.6h1.7v1.7h-1.7zM116.3,104.5h1.7v1.7h-1.7zM124.2,81.0h1.7v1.7h-1.7zM125.0,88.9h1.7v1.7h-1.7zM115.1,94.0h1.7v1.7h-1.7zM98.5,90.9h1.7v1.7h-1.7zM112.2,106.0h1.7v1.7h-1.7zM107.6,104.8h1.7v1.7h-1.7zM129.4,82.1h1.7v1.7h-1.7zM99.4,91.7h1.7v1.7h-1.7zM129.9,96.4h1.7v1.7h-1.7zM97.6,106.9h1.7v1.7h-1.7zM109.2,94.1h1.7v1.7h-1.7zM113.0,114.0h1.7v1.7h-1.7zM121.0,107.4h1.7v1.7h-1.7zM130.1,101.9h1.7v1.7h-1.7zM108.4,104.9h1.7v1.7h-1.7zM110.4,85.3h1.7v1.7h-1.7zM129.4,86.1h1.7v1.7h-1.7zM122.1,107.2h1.7v1.7h-1.7zM110.7,101.6h1.7v1.7h-1.7zM104.5,93.9h1.7v1.7h-1.7zM107.8,103.8h1.7v1.7h-1.7zM103.6,116.9h1.7v1.7h-1.7zM125.9,80.7h1.7v1.7h-1.7zM120.2,102.7h1.7v1.7h-1.7zM82.5,103.1h1.7v1.7h-1.7zM134.3,87.4h1.7v1.7h-1.7zM130.4,78.1h1.7v1.7h-1.7zM133.1,94.3h1.7v1.7h-1.7zM132.1,83.8h1.7v1.7h-1.7zM96.9,104.1h1.7v1.7h-1.7zM98.5,101.1h1.7v1.7h-1.7zM125.7,101.9h1.7v1.7h-1.7zM89.9,91.1h1.7v1.7h-1.7zM122.9,80.3h1.7v1.7h-1.7zM99.8,90.4h1.7v1.7h-1.7zM146.0,69.1h1.7v1.7h-1.7zM115.0,93.1h1.7v1.7h-1.7zM115.7,86.5h1.7v1.7h-1.7zM131.9,90.0h1.7v1.7h-1.7zM99.4,93.3h1.7v1.7h-1.7zM111.4,90.9h1.7v1.7h-1.7zM121.4,79.3h1.7v1.7h-1.7zM133.3,94.4h1.7v1.7h-1.7zM122.6,77.8h1.7v1.7h-1.7zM110.5,92.9h1.7v1.7h-1.7zM134.0,79.1h1.7v1.7h-1.7zM124.9,104.4h1.7v1.7h-1.7zM100.7,97.3h1.7v1.7h-1.7zM123.1,70.7h1.7v1.7h-1.7zM106.1,87.9h1.7v1.7h-1.7zM128.3,106.5h1.7v1.7h-1.7zM106.7,96.3h1.7v1.7h-1.7zM111.1,97.9h1.7v1.7h-1.7zM124.2,100.1h1.7v1.7h-1.7zM124.1,98.5h1.7v1.7h-1.7zM110.4,92.0h1.7v1.7h-1.7zM110.0,94.3h1.7v1.7h-1.7zM139.5,88.4h1.7v1.7h-1.7zM115.8,88.8h1.7v1.7h-1.7zM112.9,86.5h1.7v1.7h-1.7zM100.4,94.1h1.7v1.7h-1.7zM110.9,103.7h1.7v1.7h-1.7zM141.8,95.5h1.7v1.7h-1.7zM141.7,82.2h1.7v1.7h-1.7zM137.5,97.8h1.7v1.7h-1.7zM134.1,77.3h1.7v1.7h-1.7zM116.2,96.3h1.7v1.7h-1.7zM151.2,83.8h1.7v1.7h-1.7zM112.1,101.9h1.7v1.7h-1.7zM123.9,90.1h1.7v1.7h-1.7zM120.2,78.8h1.7v1.7h-1.7zM113.4,91.8h1.7v1.7h-1.7zM137.6,98.0h1.7v1.7h-1.7zM131.9,74.6h1.7v1.7h-1.7zM99.4,109.6h1.7v1.7h-1.7zM103.7,115.0h1.7v1.7h-1.7zM124.0,109.4h1.7v1.7h-1.7zM124.6,80.0h1.7v1.7h-1.7zM95.9,103.6h1.7v1.7h-1.7zM91.8,95.1h1.7v1.7h-1.7zM107.8,99.9h1.7v1.7h-1.7zM118.6,89.7h1.7v1.7h-1.7zM113.1,95.9h1.7v1.7h-1.7zM110.4,95.8h1.7v1.7h-1.7zM101.9,98.6h1.7v1.7h-1.7zM91.6,106.4h1.7v1.7h-1.7zM143.8,86.7h1.7v1.7h-1.7zM100.7,97.2h1.7v1.7h-1.7zM104.6,113.0h1.7v1.7h-1.7zM107.8,91.0h1.7v1.7h-1.7zM123.0,94.1h1.7v1.7h-1.7zM105.2,107.8h1.7v1.7h-1.7zM136.1,87.4h1.7v1.7h-1.7zM104.9,117.0h1.7v1.7h-1.7zM99.2,78.0h1.7v1.7h-1.7zM102.2,99.8h1.7v1.7h-1.7zM120.7,95.3h1.7v1.7h-1.7zM114.0,107.9h1.7v1.7h-1.7zM103.5,83.8h1.7v1.7h-1.7zM107.5,90.1h1.7v1.7h-1.7zM44.8,94.7h1.7v1.7h-1.7zM45.7,100.4h1.7v1.7h-1.7zM51.6,94.1h1.7v1.7h-1.7zM56.7,103.8h1.7v1.7h-1.7zM60.1,106.0h1.7v1.7h-1.7zM63.5,92.4h1.7v1.7h-1.7zM66.9,86.8h1.7v1.7h-1.7zM70.3,89.0h1.7v1.7h-1.7zM73.7,114.0h1.7v1.7h-1.7zM65.2,120.8h1.7v1.7h-1.7zM82.2,129.8h1.7v1.7h-1.7zM83.9,131.0h1.7v1.7h-1.7zM95.8,132.1h1.7v1.7h-1.7zM95.8,145.7h1.7v1.7h-1.7zM116.1,150.2h1.7v1.7h-1.7zM122.9,142.3h1.7v1.7h-1.7zM121.2,128.7h1.7v1.7h-1.7zM138.2,121.9h1.7v1.7h-1.7zM82.2,117.4h1.7v1.7h-1.7zM102.5,123.0h1.7v1.7h-1.7zM111.0,121.9h1.7v1.7h-1.7zM155.1,69.8h1.7v1.7h-1.7zM151.8,66.4h1.7v1.7h-1.7zM148.4,72.0h1.7v1.7h-1.7zM139.9,64.1h1.7v1.7h-1.7zM153.5,83.4h1.7v1.7h-1.7zM148.4,77.7h1.7v1.7h-1.7zM156.8,68.6h1.7v1.7h-1.7zM134.8,67.5h1.7v1.7h-1.7zM58.4,97.0h1.7v1.7h-1.7zM72.0,102.6h1.7v1.7h-1.7zM78.8,99.2h1.7v1.7h-1.7zM75.4,93.6h1.7v1.7h-1.7zM85.6,108.3h1.7v1.7h-1.7zM80.5,111.7h1.7v1.7h-1.7zM49.9,102.6h1.7v1.7h-1.7zM61.8,108.3h1.7v1.7h-1.7zM89.0,89.0h1.7v1.7h-1.7zM87.3,83.4h1.7v1.7h-1.7zM90.7,104.9h1.7v1.7h-1.7z" fill="#000" stroke="none" stroke-width="1" />
<circle cx="55.88" cy="109.71" r="1.7" fill="#ee2a24"/>
<circle cx="77.09" cy="91.02" r="1.7" fill="#ee2a24"/>
<circle cx="94.91" cy="83.09" r="1.7" fill="#ee2a24"/>
<circle cx="94.91" cy="96.68" r="1.7" fill="#ee2a24"/>
<circle cx="114.42" cy="78.55" r="1.7" fill="#ee2a24"/>
<circle cx="144.12" cy="51.36" r="1.7" fill="#ee2a24"/>
<text x="46.70" y="54.60" font-size="8" text-anchor="start" fill="#000" stroke="#000" stroke-width="0.2" >sgRNA</text>
<circle cx="49.4" cy="60.4" r="1.8" fill="#000"/>
<text x="54.60" y="63.30" font-size="8" text-anchor="start" fill="#000" stroke="#000" stroke-width="0.2" >Non-targeting</text>
<circle cx="49.4" cy="68.4" r="1.8" fill="#ee2a24"/>
<text x="54.60" y="71.30" font-size="8" text-anchor="start" fill="#000" stroke="#000" stroke-width="0.2" >PQLC2</text>
<text x="265.50" y="37.00" font-size="11" text-anchor="middle" fill="#000" stroke="#000" stroke-width="0.2" >RTK-FP PQLC2<tspan font-size="6.5" dy="-4">KO</tspan></text>
<text x="263.50" y="47.50" font-size="11" text-anchor="middle" fill="#000" stroke="#000" stroke-width="0.2" >pools</text>
<line x1="240.30" y1="52.10" x2="240.30" y2="150.30" stroke="#000" stroke-width="1" />
<line x1="239.80" y1="149.80" x2="304.60" y2="149.80" stroke="#000" stroke-width="1" />
<line x1="236.30" y1="149.80" x2="240.30" y2="149.80" stroke="#000" stroke-width="1" />
<text x="235.60" y="152.30" font-size="7" text-anchor="end" fill="#000" stroke="#000" stroke-width="0.2" >0</text>
<line x1="236.30" y1="130.36" x2="240.30" y2="130.36" stroke="#000" stroke-width="1" />
<text x="235.60" y="132.86" font-size="7" text-anchor="end" fill="#000" stroke="#000" stroke-width="0.2" >20</text>
<line x1="236.30" y1="110.92" x2="240.30" y2="110.92" stroke="#000" stroke-width="1" />
<text x="235.60" y="113.42" font-size="7" text-anchor="end" fill="#000" stroke="#000" stroke-width="0.2" >40</text>
<line x1="236.30" y1="91.48" x2="240.30" y2="91.48" stroke="#000" stroke-width="1" />
<text x="235.60" y="93.98" font-size="7" text-anchor="end" fill="#000" stroke="#000" stroke-width="0.2" >60</text>
<line x1="236.30" y1="72.04" x2="240.30" y2="72.04" stroke="#000" stroke-width="1" />
<text x="235.60" y="74.54" font-size="7" text-anchor="end" fill="#000" stroke="#000" stroke-width="0.2" >80</text>
<line x1="236.30" y1="52.60" x2="240.30" y2="52.60" stroke="#000" stroke-width="1" />
<text x="235.60" y="55.10" font-size="7" text-anchor="end" fill="#000" stroke="#000" stroke-width="0.2" >100</text>
<rect x="250.3" y="57.46" width="17.9" height="92.34" fill="#000"/>
<rect x="277.8" y="72.04" width="18.2" height="77.76" fill="#000"/>
<text x="259.30" y="160.80" font-size="7.6" text-anchor="middle" fill="#000" stroke="#000" stroke-width="0.2" >sgRNA</text>
<text x="259.30" y="169.30" font-size="7.6" text-anchor="middle" fill="#000" stroke="#000" stroke-width="0.2" >#1</text>
<text x="286.90" y="160.80" font-size="7.6" text-anchor="middle" fill="#000" stroke="#000" stroke-width="0.2" >sgRNA</text>
<text x="286.90" y="169.30" font-size="7.6" text-anchor="middle" fill="#000" stroke="#000" stroke-width="0.2" >#2</text>
<text x="216.20" y="103.00" font-size="7.8" text-anchor="middle" fill="#000" stroke="#000" stroke-width="0.2" transform="rotate(-90 216.20 103.00)" >Frameshift (%)</text>
<rect x="340.0" y="31.6" width="135.39999999999998" height="135.4" fill="none" stroke="#8a8a8a" stroke-width="0.8"/>
<path d="M384.96,72.51 L384.96,72.51 L389.05,71.90 L394.98,66.99 L397.22,64.74 L399.47,60.45 L402.33,53.91 L405.20,47.98 L408.06,43.28 L409.90,46.96 L412.14,47.98 L414.60,52.48 L416.84,56.77 L419.71,61.88 L424.20,66.38 L427.88,69.24 L431.56,71.49 L435.85,72.10 L440.14,72.51 L440.14,72.51 Z" fill="#22b022" stroke="none" stroke-width="1" fill-opacity="0.48"/>
<path d="M415.62,91.31 L415.62,91.31 L416.84,91.11 L419.71,86.61 L422.77,78.03 L424.82,69.24 L426.45,60.45 L429.31,57.79 L432.17,58.61 L433.60,61.88 L435.03,70.67 L437.28,82.32 L440.35,87.43 L445.05,91.11 L448.32,91.31 L448.32,91.31 Z" fill="#22b022" stroke="none" stroke-width="1" fill-opacity="0.48"/>
<path d="M389.05,110.32 L389.05,110.32 L393.55,108.68 L397.22,103.57 L398.66,99.90 L402.33,91.11 L405.20,83.75 L407.85,80.07 L410.71,81.50 L412.55,85.18 L415.41,88.25 L416.84,91.11 L419.71,99.90 L422.77,104.60 L426.86,107.66 L431.97,109.71 L436.06,110.32 L436.06,110.32 Z" fill="#f41c1c" stroke="none" stroke-width="1" fill-opacity="0.45"/>
<path d="M422.77,129.53 L422.77,129.53 L424.82,126.06 L426.86,111.75 L428.29,99.49 L429.92,94.99 L431.97,97.44 L434.42,100.51 L436.06,109.71 L438.10,119.92 L441.16,125.65 L446.27,128.10 L451.38,129.53 L451.38,129.53 Z" fill="#f41c1c" stroke="none" stroke-width="1" fill-opacity="0.45"/>
<path d="M370.66,148.13 L370.66,148.13 L372.70,146.49 L374.74,132.19 L376.38,119.92 L377.81,114.20 L379.24,117.88 L380.87,128.10 L382.92,140.36 L385.98,145.47 L390.07,147.31 L394.16,148.13 L394.16,148.13 Z" fill="#000" stroke="none" stroke-width="1" fill-opacity="0.45"/>
<path d="M413.57,166.52 L413.57,166.52 L416.64,163.86 L419.71,156.71 L422.77,146.49 L424.82,140.36 L426.86,138.73 L429.92,139.34 L431.97,144.45 L434.42,152.62 L437.08,160.80 L440.14,164.89 L442.19,166.52 L442.19,166.52 Z" fill="#000" stroke="none" stroke-width="1" fill-opacity="0.45"/>
<path d="M340.00,72.51 L384.96,72.51 L389.05,71.90 L394.98,66.99 L397.22,64.74 L399.47,60.45 L402.33,53.91 L405.20,47.98 L408.06,43.28 L409.90,46.96 L412.14,47.98 L414.60,52.48 L416.84,56.77 L419.71,61.88 L424.20,66.38 L427.88,69.24 L431.56,71.49 L435.85,72.10 L440.14,72.51 L475.40,72.51" fill="none" stroke="#22b022" stroke-width="1.1" stroke-linejoin="round"/>
<path d="M340.00,91.31 L415.62,91.31 L416.84,91.11 L419.71,86.61 L422.77,78.03 L424.82,69.24 L426.45,60.45 L429.31,57.79 L432.17,58.61 L433.60,61.88 L435.03,70.67 L437.28,82.32 L440.35,87.43 L445.05,91.11 L448.32,91.31 L475.40,91.31" fill="none" stroke="#22b022" stroke-width="1.1" stroke-linejoin="round"/>
<path d="M340.00,110.32 L389.05,110.32 L393.55,108.68 L397.22,103.57 L398.66,99.90 L402.33,91.11 L405.20,83.75 L407.85,80.07 L410.71,81.50 L412.55,85.18 L415.41,88.25 L416.84,91.11 L419.71,99.90 L422.77,104.60 L426.86,107.66 L431.97,109.71 L436.06,110.32 L475.40,110.32" fill="none" stroke="#f41c1c" stroke-width="1.1" stroke-linejoin="round"/>
<path d="M340.00,129.53 L422.77,129.53 L424.82,126.06 L426.86,111.75 L428.29,99.49 L429.92,94.99 L431.97,97.44 L434.42,100.51 L436.06,109.71 L438.10,119.92 L441.16,125.65 L446.27,128.10 L451.38,129.53 L475.40,129.53" fill="none" stroke="#f41c1c" stroke-width="1.1" stroke-linejoin="round"/>
<path d="M340.00,148.13 L370.66,148.13 L372.70,146.49 L374.74,132.19 L376.38,119.92 L377.81,114.20 L379.24,117.88 L380.87,128.10 L382.92,140.36 L385.98,145.47 L390.07,147.31 L394.16,148.13 L475.40,148.13" fill="none" stroke="#000" stroke-width="1.1" stroke-linejoin="round"/>
<path d="M340.00,166.52 L413.57,166.52 L416.64,163.86 L419.71,156.71 L422.77,146.49 L424.82,140.36 L426.86,138.73 L429.92,139.34 L431.97,144.45 L434.42,152.62 L437.08,160.80 L440.14,164.89 L442.19,166.52 L475.40,166.52" fill="none" stroke="#000" stroke-width="1.1" stroke-linejoin="round"/>
<line x1="340.00" y1="167.00" x2="475.40" y2="167.00" stroke="#000" stroke-width="1" />
<line x1="351.50" y1="167.00" x2="351.50" y2="170.00" stroke="#000" stroke-width="1" />
<line x1="372.70" y1="167.00" x2="372.70" y2="170.00" stroke="#000" stroke-width="1" />
<line x1="396.20" y1="167.00" x2="396.20" y2="170.00" stroke="#000" stroke-width="1" />
<line x1="432.30" y1="167.00" x2="432.30" y2="170.00" stroke="#000" stroke-width="1" />
<line x1="465.20" y1="167.00" x2="465.20" y2="170.00" stroke="#000" stroke-width="1" />
<line x1="407.07" y1="167.00" x2="407.07" y2="168.30" stroke="#000" stroke-width="0.6" />
<line x1="413.42" y1="167.00" x2="413.42" y2="168.30" stroke="#000" stroke-width="0.6" />
<line x1="417.93" y1="167.00" x2="417.93" y2="168.30" stroke="#000" stroke-width="0.6" />
<line x1="421.43" y1="167.00" x2="421.43" y2="168.30" stroke="#000" stroke-width="0.6" />
<line x1="424.29" y1="167.00" x2="424.29" y2="168.30" stroke="#000" stroke-width="0.6" />
<line x1="426.71" y1="167.00" x2="426.71" y2="168.30" stroke="#000" stroke-width="0.6" />
<line x1="428.80" y1="167.00" x2="428.80" y2="168.30" stroke="#000" stroke-width="0.6" />
<line x1="430.65" y1="167.00" x2="430.65" y2="168.30" stroke="#000" stroke-width="0.6" />
<line x1="442.20" y1="167.00" x2="442.20" y2="168.30" stroke="#000" stroke-width="0.6" />
<line x1="448.00" y1="167.00" x2="448.00" y2="168.30" stroke="#000" stroke-width="0.6" />
<line x1="452.11" y1="167.00" x2="452.11" y2="168.30" stroke="#000" stroke-width="0.6" />
<line x1="455.30" y1="167.00" x2="455.30" y2="168.30" stroke="#000" stroke-width="0.6" />
<line x1="457.90" y1="167.00" x2="457.90" y2="168.30" stroke="#000" stroke-width="0.6" />
<line x1="460.10" y1="167.00" x2="460.10" y2="168.30" stroke="#000" stroke-width="0.6" />
<line x1="462.01" y1="167.00" x2="462.01" y2="168.30" stroke="#000" stroke-width="0.6" />
<line x1="463.69" y1="167.00" x2="463.69" y2="168.30" stroke="#000" stroke-width="0.6" />
<line x1="356.80" y1="167.00" x2="356.80" y2="168.30" stroke="#000" stroke-width="0.6" />
<line x1="362.10" y1="167.00" x2="362.10" y2="168.30" stroke="#000" stroke-width="0.6" />
<line x1="364.64" y1="167.00" x2="364.64" y2="168.30" stroke="#000" stroke-width="0.6" />
<line x1="366.76" y1="167.00" x2="366.76" y2="168.30" stroke="#000" stroke-width="0.6" />
<line x1="368.46" y1="167.00" x2="368.46" y2="168.30" stroke="#000" stroke-width="0.6" />
<line x1="369.73" y1="167.00" x2="369.73" y2="168.30" stroke="#000" stroke-width="0.6" />
<line x1="370.58" y1="167.00" x2="370.58" y2="168.30" stroke="#000" stroke-width="0.6" />
<line x1="371.22" y1="167.00" x2="371.22" y2="168.30" stroke="#000" stroke-width="0.6" />
<line x1="371.85" y1="167.00" x2="371.85" y2="168.30" stroke="#000" stroke-width="0.6" />
<line x1="372.28" y1="167.00" x2="372.28" y2="168.30" stroke="#000" stroke-width="0.6" />
<line x1="373.64" y1="167.00" x2="373.64" y2="168.30" stroke="#000" stroke-width="0.6" />
<line x1="374.58" y1="167.00" x2="374.58" y2="168.30" stroke="#000" stroke-width="0.6" />
<line x1="375.52" y1="167.00" x2="375.52" y2="168.30" stroke="#000" stroke-width="0.6" />
<line x1="377.40" y1="167.00" x2="377.40" y2="168.30" stroke="#000" stroke-width="0.6" />
<line x1="380.93" y1="167.00" x2="380.93" y2="168.30" stroke="#000" stroke-width="0.6" />
<line x1="384.45" y1="167.00" x2="384.45" y2="168.30" stroke="#000" stroke-width="0.6" />
<line x1="387.27" y1="167.00" x2="387.27" y2="168.30" stroke="#000" stroke-width="0.6" />
<line x1="389.62" y1="167.00" x2="389.62" y2="168.30" stroke="#000" stroke-width="0.6" />
<line x1="391.50" y1="167.00" x2="391.50" y2="168.30" stroke="#000" stroke-width="0.6" />
<text x="352.50" y="180.70" font-size="7" text-anchor="middle" fill="#000" stroke="#000" stroke-width="0.2" >-10<tspan font-size="6.3" dy="-3.4">3</tspan></text>
<text x="372.70" y="180.70" font-size="7" text-anchor="middle" fill="#000" stroke="#000" stroke-width="0.2" >0</text>
<text x="397.20" y="180.70" font-size="7" text-anchor="middle" fill="#000" stroke="#000" stroke-width="0.2" >10<tspan font-size="6.3" dy="-3.4">3</tspan></text>
<text x="433.30" y="180.70" font-size="7" text-anchor="middle" fill="#000" stroke="#000" stroke-width="0.2" >10<tspan font-size="6.3" dy="-3.4">4</tspan></text>
<text x="466.20" y="180.70" font-size="7" text-anchor="middle" fill="#000" stroke="#000" stroke-width="0.2" >10<tspan font-size="6.3" dy="-3.4">5</tspan></text>
<text x="408.20" y="197.20" font-size="9.3" text-anchor="middle" fill="#000" stroke="#000" stroke-width="0.2" >EGFR-RFP</text>
<text x="334.50" y="100.00" font-size="7.7" text-anchor="middle" fill="#000" stroke="#000" stroke-width="0.2" transform="rotate(-90 334.50 100.00)" >Normalized signal</text>
<text x="342.90" y="39.50" font-size="6.4" text-anchor="start" fill="#22b022" stroke="#22b022" stroke-width="0.2" >PQLC2<tspan font-size="4.2" dy="-2.3">KO</tspan><tspan dy="2.3"> sgRNA #2</tspan></text>
<text x="342.90" y="50.20" font-size="6.4" text-anchor="start" fill="#f41c1c" stroke="#f41c1c" stroke-width="0.2" >PQLC2<tspan font-size="4.2" dy="-2.3">KO</tspan><tspan dy="2.3"> sgRNA #1</tspan></text>
<text x="342.90" y="60.20" font-size="6.4" text-anchor="start" fill="#000" stroke="#000" stroke-width="0.2" >Control</text>
<text x="487.20" y="0.00" font-size="9.5" text-anchor="end" fill="#000" stroke="#000" stroke-width="0.2" transform="rotate(-90 487.20 0.00)" >Lap-VHL</text>
<text x="484.80" y="55.00" font-size="8.5" text-anchor="middle" fill="#000" stroke="#000" stroke-width="0.2" font-weight="bold">+</text>
<text x="484.80" y="103.80" font-size="8.5" text-anchor="middle" fill="#000" stroke="#000" stroke-width="0.2" font-weight="bold">+</text>
<text x="484.80" y="141.80" font-size="8.5" text-anchor="middle" fill="#000" stroke="#000" stroke-width="0.2" font-weight="bold">+</text>
<text x="598.60" y="38.80" font-size="11.2" text-anchor="middle" fill="#000" stroke="#000" stroke-width="0.2" >EGFR-RFP</text>
<line x1="529.40" y1="48.50" x2="529.40" y2="144.70" stroke="#000" stroke-width="1" />
<line x1="528.90" y1="144.20" x2="679.00" y2="144.20" stroke="#000" stroke-width="1" />
<line x1="525.40" y1="144.20" x2="529.40" y2="144.20" stroke="#000" stroke-width="1" />
<text x="525.20" y="146.70" font-size="7" text-anchor="end" fill="#000" stroke="#000" stroke-width="0.2" >0</text>
<line x1="525.40" y1="120.40" x2="529.40" y2="120.40" stroke="#000" stroke-width="1" />
<text x="525.20" y="122.90" font-size="7" text-anchor="end" fill="#000" stroke="#000" stroke-width="0.2" >25</text>
<line x1="525.40" y1="96.60" x2="529.40" y2="96.60" stroke="#000" stroke-width="1" />
<text x="525.20" y="99.10" font-size="7" text-anchor="end" fill="#000" stroke="#000" stroke-width="0.2" >50</text>
<line x1="525.40" y1="72.80" x2="529.40" y2="72.80" stroke="#000" stroke-width="1" />
<text x="525.20" y="75.30" font-size="7" text-anchor="end" fill="#000" stroke="#000" stroke-width="0.2" >75</text>
<line x1="525.40" y1="49.00" x2="529.40" y2="49.00" stroke="#000" stroke-width="1" />
<text x="525.20" y="51.50" font-size="7" text-anchor="end" fill="#000" stroke="#000" stroke-width="0.2" >100</text>
<line x1="538.73" y1="144.20" x2="538.73" y2="146.40" stroke="#000" stroke-width="1" />
<line x1="546.05" y1="144.20" x2="546.05" y2="146.40" stroke="#000" stroke-width="1" />
<line x1="552.40" y1="144.20" x2="552.40" y2="146.40" stroke="#000" stroke-width="1" />
<line x1="557.99" y1="144.20" x2="557.99" y2="146.40" stroke="#000" stroke-width="1" />
<line x1="563.00" y1="144.20" x2="563.00" y2="148.20" stroke="#000" stroke-width="1" />
<line x1="595.93" y1="144.20" x2="595.93" y2="146.40" stroke="#000" stroke-width="1" />
<line x1="615.20" y1="144.20" x2="615.20" y2="146.40" stroke="#000" stroke-width="1" />
<line x1="628.87" y1="144.20" x2="628.87" y2="146.40" stroke="#000" stroke-width="1" />
<line x1="639.47" y1="144.20" x2="639.47" y2="146.40" stroke="#000" stroke-width="1" />
<line x1="648.13" y1="144.20" x2="648.13" y2="146.40" stroke="#000" stroke-width="1" />
<line x1="655.45" y1="144.20" x2="655.45" y2="146.40" stroke="#000" stroke-width="1" />
<line x1="661.80" y1="144.20" x2="661.80" y2="146.40" stroke="#000" stroke-width="1" />
<line x1="667.39" y1="144.20" x2="667.39" y2="146.40" stroke="#000" stroke-width="1" />
<line x1="672.40" y1="144.20" x2="672.40" y2="148.20" stroke="#000" stroke-width="1" />
<text x="563.00" y="156.40" font-size="7" text-anchor="middle" fill="#000" stroke="#000" stroke-width="0.2" >100</text>
<text x="672.40" y="156.40" font-size="7" text-anchor="middle" fill="#000" stroke="#000" stroke-width="0.2" >1000</text>
<text x="596.80" y="167.90" font-size="7.75" text-anchor="middle" fill="#000" stroke="#000" stroke-width="0.2" >Lap-VHL (nM)</text>
<text x="508.30" y="96.00" font-size="7.7" text-anchor="middle" fill="#000" stroke="#000" stroke-width="0.2" transform="rotate(-90 508.30 96.00)" >MFI (% control)</text>
<path d="M540.67,63.28 L573.60,79.46 L606.53,96.60 L639.47,113.74 L672.40,121.35" fill="none" stroke="#2cc52c" stroke-width="1" />
<circle cx="540.67" cy="63.28" r="2.2" fill="#fff" fill-opacity="0.0" stroke="#2cc52c" stroke-width="1"/>
<circle cx="573.60" cy="79.46" r="2.2" fill="#fff" fill-opacity="0.0" stroke="#2cc52c" stroke-width="1"/>
<circle cx="606.53" cy="96.60" r="2.2" fill="#fff" fill-opacity="0.0" stroke="#2cc52c" stroke-width="1"/>
<circle cx="639.47" cy="113.74" r="2.2" fill="#fff" fill-opacity="0.0" stroke="#2cc52c" stroke-width="1"/>
<circle cx="672.40" cy="121.35" r="2.2" fill="#fff" fill-opacity="0.0" stroke="#2cc52c" stroke-width="1"/>
<path d="M540.67,68.04 L573.60,83.27 L606.53,99.46 L639.47,115.64 L672.40,123.73" fill="none" stroke="#f04a30" stroke-width="1" />
<circle cx="540.67" cy="68.04" r="2.2" fill="#fff" fill-opacity="0.0" stroke="#f04a30" stroke-width="1"/>
<circle cx="573.60" cy="83.27" r="2.2" fill="#fff" fill-opacity="0.0" stroke="#f04a30" stroke-width="1"/>
<circle cx="606.53" cy="99.46" r="2.2" fill="#fff" fill-opacity="0.0" stroke="#f04a30" stroke-width="1"/>
<circle cx="639.47" cy="115.64" r="2.2" fill="#fff" fill-opacity="0.0" stroke="#f04a30" stroke-width="1"/>
<circle cx="672.40" cy="123.73" r="2.2" fill="#fff" fill-opacity="0.0" stroke="#f04a30" stroke-width="1"/>
<path d="M540.67,86.13 L573.60,108.98 L606.53,129.92 L639.47,140.87 L672.40,144.20" fill="none" stroke="#222" stroke-width="1" />
<circle cx="540.67" cy="86.13" r="2.2" fill="#fff" fill-opacity="0.0" stroke="#222" stroke-width="1"/>
<circle cx="573.60" cy="108.98" r="2.2" fill="#fff" fill-opacity="0.0" stroke="#222" stroke-width="1"/>
<circle cx="606.53" cy="129.92" r="2.2" fill="#fff" fill-opacity="0.0" stroke="#222" stroke-width="1"/>
<circle cx="639.47" cy="140.87" r="2.2" fill="#fff" fill-opacity="0.0" stroke="#222" stroke-width="1"/>
<circle cx="672.40" cy="144.20" r="2.2" fill="#fff" fill-opacity="0.0" stroke="#222" stroke-width="1"/>
<line x1="588.40" y1="51.10" x2="598.80" y2="51.10" stroke="#2cc52c" stroke-width="1" />
<circle cx="593.6" cy="51.1" r="2.2" fill="none" stroke="#2cc52c" stroke-width="1"/>
<text x="604.00" y="53.80" font-size="7.6" text-anchor="start" fill="#000" stroke="#000" stroke-width="0.2" >PQLC2<tspan font-size="5" dy="-3">KO</tspan><tspan dy="3"> Clone #2</tspan></text>
<line x1="588.40" y1="61.30" x2="598.80" y2="61.30" stroke="#f04a30" stroke-width="1" />
<circle cx="593.6" cy="61.3" r="2.2" fill="none" stroke="#f04a30" stroke-width="1"/>
<text x="604.00" y="64.00" font-size="7.6" text-anchor="start" fill="#000" stroke="#000" stroke-width="0.2" >PQLC2<tspan font-size="5" dy="-3">KO</tspan><tspan dy="3"> Clone #1</tspan></text>
<line x1="588.40" y1="71.00" x2="598.80" y2="71.00" stroke="#222" stroke-width="1" />
<circle cx="593.6" cy="71" r="2.2" fill="none" stroke="#222" stroke-width="1"/>
<text x="604.00" y="73.70" font-size="7.6" text-anchor="start" fill="#000" stroke="#000" stroke-width="0.2" >Control</text>
<text x="671.80" y="117.40" font-size="8.4" text-anchor="start" fill="#000" stroke="#000" stroke-width="0.2" >ns</text>
<path d="M676.2,119.3 h1.2 v6.8 h-1.2" fill="none" stroke="#000" stroke-width="0.7" />
<path d="M679.2,121.3 h1.4 v22.7 h-1.4" fill="none" stroke="#000" stroke-width="0.7" />
<text x="677.30" y="132.20" font-size="11" text-anchor="middle" fill="#000" stroke="#000" stroke-width="0.2" transform="rotate(90 677.30 132.20)" font-weight="bold">***</text>
<rect x="37.5" y="238.5" width="134.8" height="135.5" fill="none" stroke="#8a8a8a" stroke-width="0.8"/>
<path d="M104.49,293.66 L104.49,293.66 L108.57,292.63 L112.66,289.16 L116.75,279.96 L119.82,265.66 L121.86,251.35 L123.90,247.26 L126.56,249.31 L129.01,257.48 L131.06,267.70 L133.10,277.92 L135.14,284.05 L137.19,288.14 L139.23,291.20 L142.30,293.25 L145.36,293.66 L145.36,293.66 Z" fill="#f41c1c" stroke="none" stroke-width="1" fill-opacity="0.45"/>
<path d="M120.84,320.43 L120.84,320.43 L124.92,317.77 L127.99,302.44 L130.03,286.09 L133.10,276.90 L135.14,273.83 L136.57,271.38 L138.21,275.87 L140.25,290.18 L142.30,304.49 L145.36,315.73 L149.45,319.20 L153.54,320.43 L153.54,320.43 Z" fill="#f41c1c" stroke="none" stroke-width="1" fill-opacity="0.45"/>
<path d="M82.01,347.20 L82.01,347.20 L86.09,345.36 L90.18,339.23 L94.27,326.97 L98.36,310.62 L101.42,300.40 L103.06,298.36 L105.51,301.42 L108.57,314.71 L111.64,326.97 L114.71,337.19 L117.77,343.32 L120.84,346.38 L124.92,347.20 L124.92,347.20 Z" fill="#000" stroke="none" stroke-width="1" fill-opacity="0.45"/>
<path d="M112.66,373.97 L112.66,373.97 L115.73,371.93 L118.79,363.76 L121.86,349.45 L124.92,335.14 L127.99,325.95 L129.42,325.95 L132.08,331.06 L134.12,341.27 L136.16,353.54 L139.23,365.80 L142.30,371.93 L145.36,373.97 L145.36,373.97 Z" fill="#000" stroke="none" stroke-width="1" fill-opacity="0.45"/>
<path d="M37.50,293.66 L104.49,293.66 L108.57,292.63 L112.66,289.16 L116.75,279.96 L119.82,265.66 L121.86,251.35 L123.90,247.26 L126.56,249.31 L129.01,257.48 L131.06,267.70 L133.10,277.92 L135.14,284.05 L137.19,288.14 L139.23,291.20 L142.30,293.25 L145.36,293.66 L172.30,293.66" fill="none" stroke="#f41c1c" stroke-width="1.1" stroke-linejoin="round"/>
<path d="M37.50,320.43 L120.84,320.43 L124.92,317.77 L127.99,302.44 L130.03,286.09 L133.10,276.90 L135.14,273.83 L136.57,271.38 L138.21,275.87 L140.25,290.18 L142.30,304.49 L145.36,315.73 L149.45,319.20 L153.54,320.43 L172.30,320.43" fill="none" stroke="#f41c1c" stroke-width="1.1" stroke-linejoin="round"/>
<path d="M37.50,347.20 L82.01,347.20 L86.09,345.36 L90.18,339.23 L94.27,326.97 L98.36,310.62 L101.42,300.40 L103.06,298.36 L105.51,301.42 L108.57,314.71 L111.64,326.97 L114.71,337.19 L117.77,343.32 L120.84,346.38 L124.92,347.20 L172.30,347.20" fill="none" stroke="#000" stroke-width="1.1" stroke-linejoin="round"/>
<path d="M37.50,373.97 L112.66,373.97 L115.73,371.93 L118.79,363.76 L121.86,349.45 L124.92,335.14 L127.99,325.95 L129.42,325.95 L132.08,331.06 L134.12,341.27 L136.16,353.54 L139.23,365.80 L142.30,371.93 L145.36,373.97 L172.30,373.97" fill="none" stroke="#000" stroke-width="1.1" stroke-linejoin="round"/>
<line x1="37.50" y1="374.00" x2="172.30" y2="374.00" stroke="#000" stroke-width="1" />
<line x1="49.80" y1="374.00" x2="49.80" y2="377.00" stroke="#000" stroke-width="1" />
<line x1="70.10" y1="374.00" x2="70.10" y2="377.00" stroke="#000" stroke-width="1" />
<line x1="93.80" y1="374.00" x2="93.80" y2="377.00" stroke="#000" stroke-width="1" />
<line x1="130.60" y1="374.00" x2="130.60" y2="377.00" stroke="#000" stroke-width="1" />
<line x1="162.50" y1="374.00" x2="162.50" y2="377.00" stroke="#000" stroke-width="1" />
<line x1="104.88" y1="374.00" x2="104.88" y2="375.30" stroke="#000" stroke-width="0.6" />
<line x1="111.36" y1="374.00" x2="111.36" y2="375.30" stroke="#000" stroke-width="0.6" />
<line x1="115.96" y1="374.00" x2="115.96" y2="375.30" stroke="#000" stroke-width="0.6" />
<line x1="119.52" y1="374.00" x2="119.52" y2="375.30" stroke="#000" stroke-width="0.6" />
<line x1="122.44" y1="374.00" x2="122.44" y2="375.30" stroke="#000" stroke-width="0.6" />
<line x1="124.90" y1="374.00" x2="124.90" y2="375.30" stroke="#000" stroke-width="0.6" />
<line x1="127.03" y1="374.00" x2="127.03" y2="375.30" stroke="#000" stroke-width="0.6" />
<line x1="128.92" y1="374.00" x2="128.92" y2="375.30" stroke="#000" stroke-width="0.6" />
<line x1="140.20" y1="374.00" x2="140.20" y2="375.30" stroke="#000" stroke-width="0.6" />
<line x1="145.82" y1="374.00" x2="145.82" y2="375.30" stroke="#000" stroke-width="0.6" />
<line x1="149.81" y1="374.00" x2="149.81" y2="375.30" stroke="#000" stroke-width="0.6" />
<line x1="152.90" y1="374.00" x2="152.90" y2="375.30" stroke="#000" stroke-width="0.6" />
<line x1="155.42" y1="374.00" x2="155.42" y2="375.30" stroke="#000" stroke-width="0.6" />
<line x1="157.56" y1="374.00" x2="157.56" y2="375.30" stroke="#000" stroke-width="0.6" />
<line x1="159.41" y1="374.00" x2="159.41" y2="375.30" stroke="#000" stroke-width="0.6" />
<line x1="161.04" y1="374.00" x2="161.04" y2="375.30" stroke="#000" stroke-width="0.6" />
<line x1="54.88" y1="374.00" x2="54.88" y2="375.30" stroke="#000" stroke-width="0.6" />
<line x1="59.95" y1="374.00" x2="59.95" y2="375.30" stroke="#000" stroke-width="0.6" />
<line x1="62.39" y1="374.00" x2="62.39" y2="375.30" stroke="#000" stroke-width="0.6" />
<line x1="64.42" y1="374.00" x2="64.42" y2="375.30" stroke="#000" stroke-width="0.6" />
<line x1="66.04" y1="374.00" x2="66.04" y2="375.30" stroke="#000" stroke-width="0.6" />
<line x1="67.26" y1="374.00" x2="67.26" y2="375.30" stroke="#000" stroke-width="0.6" />
<line x1="68.07" y1="374.00" x2="68.07" y2="375.30" stroke="#000" stroke-width="0.6" />
<line x1="68.68" y1="374.00" x2="68.68" y2="375.30" stroke="#000" stroke-width="0.6" />
<line x1="69.29" y1="374.00" x2="69.29" y2="375.30" stroke="#000" stroke-width="0.6" />
<line x1="69.69" y1="374.00" x2="69.69" y2="375.30" stroke="#000" stroke-width="0.6" />
<line x1="71.05" y1="374.00" x2="71.05" y2="375.30" stroke="#000" stroke-width="0.6" />
<line x1="72.00" y1="374.00" x2="72.00" y2="375.30" stroke="#000" stroke-width="0.6" />
<line x1="72.94" y1="374.00" x2="72.94" y2="375.30" stroke="#000" stroke-width="0.6" />
<line x1="74.84" y1="374.00" x2="74.84" y2="375.30" stroke="#000" stroke-width="0.6" />
<line x1="78.39" y1="374.00" x2="78.39" y2="375.30" stroke="#000" stroke-width="0.6" />
<line x1="81.95" y1="374.00" x2="81.95" y2="375.30" stroke="#000" stroke-width="0.6" />
<line x1="84.79" y1="374.00" x2="84.79" y2="375.30" stroke="#000" stroke-width="0.6" />
<line x1="87.16" y1="374.00" x2="87.16" y2="375.30" stroke="#000" stroke-width="0.6" />
<line x1="89.06" y1="374.00" x2="89.06" y2="375.30" stroke="#000" stroke-width="0.6" />
<text x="50.80" y="387.60" font-size="7" text-anchor="middle" fill="#000" stroke="#000" stroke-width="0.2" >-10<tspan font-size="6.3" dy="-3.4">3</tspan></text>
<text x="70.10" y="387.60" font-size="7" text-anchor="middle" fill="#000" stroke="#000" stroke-width="0.2" >0</text>
<text x="94.80" y="387.60" font-size="7" text-anchor="middle" fill="#000" stroke="#000" stroke-width="0.2" >10<tspan font-size="6.3" dy="-3.4">3</tspan></text>
<text x="131.60" y="387.60" font-size="7" text-anchor="middle" fill="#000" stroke="#000" stroke-width="0.2" >10<tspan font-size="6.3" dy="-3.4">4</tspan></text>
<text x="163.50" y="387.60" font-size="7" text-anchor="middle" fill="#000" stroke="#000" stroke-width="0.2" >10<tspan font-size="6.3" dy="-3.4">5</tspan></text>
<text x="106.40" y="405.00" font-size="9.3" text-anchor="middle" fill="#000" stroke="#000" stroke-width="0.2" >EGFR-RFP</text>
<text x="31.00" y="306.80" font-size="7.7" text-anchor="middle" fill="#000" stroke="#000" stroke-width="0.2" transform="rotate(-90 31.00 306.80)" >Normalized signal</text>
<text x="143.20" y="247.50" font-size="7.0" text-anchor="start" fill="#f41c1c" stroke="#f41c1c" stroke-width="0.2" textLength="26.6" lengthAdjust="spacingAndGlyphs">PQLC2<tspan font-size="4.4" dy="-2.1">KO</tspan></text>
<text x="143.20" y="257.10" font-size="7.0" text-anchor="start" fill="#000" stroke="#000" stroke-width="0.2" textLength="21" lengthAdjust="spacingAndGlyphs">Control</text>
<text x="184.00" y="238.50" font-size="9.3" text-anchor="start" fill="#000" stroke="#000" stroke-width="0.2" transform="rotate(-90 184.00 238.50)" >EGF</text>
<text x="182.40" y="270.10" font-size="8.5" text-anchor="middle" fill="#000" stroke="#000" stroke-width="0.2" font-weight="bold">+</text>
<text x="182.40" y="337.80" font-size="8.5" text-anchor="middle" fill="#000" stroke="#000" stroke-width="0.2" font-weight="bold">+</text>
<text x="356.60" y="250.60" font-size="11.2" text-anchor="middle" fill="#000" stroke="#000" stroke-width="0.2" >EGFR-RFP</text>
<line x1="278.90" y1="257.10" x2="278.90" y2="353.40" stroke="#000" stroke-width="1" />
<line x1="278.40" y1="352.90" x2="424.00" y2="352.90" stroke="#000" stroke-width="1" />
<line x1="274.90" y1="352.90" x2="278.90" y2="352.90" stroke="#000" stroke-width="1" />
<text x="274.80" y="355.40" font-size="7" text-anchor="end" fill="#000" stroke="#000" stroke-width="0.2" >0</text>
<line x1="274.90" y1="329.07" x2="278.90" y2="329.07" stroke="#000" stroke-width="1" />
<text x="274.80" y="331.57" font-size="7" text-anchor="end" fill="#000" stroke="#000" stroke-width="0.2" >25</text>
<line x1="274.90" y1="305.25" x2="278.90" y2="305.25" stroke="#000" stroke-width="1" />
<text x="274.80" y="307.75" font-size="7" text-anchor="end" fill="#000" stroke="#000" stroke-width="0.2" >50</text>
<line x1="274.90" y1="281.42" x2="278.90" y2="281.42" stroke="#000" stroke-width="1" />
<text x="274.80" y="283.92" font-size="7" text-anchor="end" fill="#000" stroke="#000" stroke-width="0.2" >75</text>
<line x1="274.90" y1="257.60" x2="278.90" y2="257.60" stroke="#000" stroke-width="1" />
<text x="274.80" y="260.10" font-size="7" text-anchor="end" fill="#000" stroke="#000" stroke-width="0.2" >100</text>
<line x1="278.90" y1="352.90" x2="278.90" y2="356.90" stroke="#000" stroke-width="1" />
<line x1="300.57" y1="352.90" x2="300.57" y2="355.10" stroke="#000" stroke-width="1" />
<line x1="313.25" y1="352.90" x2="313.25" y2="355.10" stroke="#000" stroke-width="1" />
<line x1="322.25" y1="352.90" x2="322.25" y2="355.10" stroke="#000" stroke-width="1" />
<line x1="329.23" y1="352.90" x2="329.23" y2="355.10" stroke="#000" stroke-width="1" />
<line x1="334.93" y1="352.90" x2="334.93" y2="355.10" stroke="#000" stroke-width="1" />
<line x1="339.75" y1="352.90" x2="339.75" y2="355.10" stroke="#000" stroke-width="1" />
<line x1="343.92" y1="352.90" x2="343.92" y2="355.10" stroke="#000" stroke-width="1" />
<line x1="347.61" y1="352.90" x2="347.61" y2="355.10" stroke="#000" stroke-width="1" />
<line x1="350.90" y1="352.90" x2="350.90" y2="356.90" stroke="#000" stroke-width="1" />
<line x1="372.57" y1="352.90" x2="372.57" y2="355.10" stroke="#000" stroke-width="1" />
<line x1="385.25" y1="352.90" x2="385.25" y2="355.10" stroke="#000" stroke-width="1" />
<line x1="394.25" y1="352.90" x2="394.25" y2="355.10" stroke="#000" stroke-width="1" />
<line x1="401.23" y1="352.90" x2="401.23" y2="355.10" stroke="#000" stroke-width="1" />
<line x1="406.93" y1="352.90" x2="406.93" y2="355.10" stroke="#000" stroke-width="1" />
<line x1="411.75" y1="352.90" x2="411.75" y2="355.10" stroke="#000" stroke-width="1" />
<line x1="415.92" y1="352.90" x2="415.92" y2="355.10" stroke="#000" stroke-width="1" />
<line x1="419.61" y1="352.90" x2="419.61" y2="355.10" stroke="#000" stroke-width="1" />
<line x1="422.90" y1="352.90" x2="422.90" y2="356.90" stroke="#000" stroke-width="1" />
<text x="278.90" y="365.60" font-size="7" text-anchor="middle" fill="#000" stroke="#000" stroke-width="0.2" >100</text>
<text x="350.90" y="365.60" font-size="7" text-anchor="middle" fill="#000" stroke="#000" stroke-width="0.2" >1000</text>
<text x="422.90" y="365.60" font-size="7" text-anchor="middle" fill="#000" stroke="#000" stroke-width="0.2" >10000</text>
<text x="350.40" y="376.80" font-size="7.6" text-anchor="middle" fill="#000" stroke="#000" stroke-width="0.2" >EGF (pg/ml)</text>
<text x="257.30" y="305.00" font-size="7.8" text-anchor="middle" fill="#000" stroke="#000" stroke-width="0.2" transform="rotate(-90 257.30 305.00)" >MFI (% control)</text>
<path d="M292.86,260.46 L314.53,262.37 L336.20,266.18 L357.88,272.85 L379.55,284.76 L401.23,299.53 L422.90,307.63" fill="none" stroke="#f04a30" stroke-width="1" />
<circle cx="292.86" cy="260.46" r="2.2" fill="none" stroke="#f04a30" stroke-width="1"/>
<circle cx="314.53" cy="262.37" r="2.2" fill="none" stroke="#f04a30" stroke-width="1"/>
<circle cx="336.20" cy="266.18" r="2.2" fill="none" stroke="#f04a30" stroke-width="1"/>
<circle cx="357.88" cy="272.85" r="2.2" fill="none" stroke="#f04a30" stroke-width="1"/>
<circle cx="379.55" cy="284.76" r="2.2" fill="none" stroke="#f04a30" stroke-width="1"/>
<circle cx="401.23" cy="299.53" r="2.2" fill="none" stroke="#f04a30" stroke-width="1"/>
<circle cx="422.90" cy="307.63" r="2.2" fill="none" stroke="#f04a30" stroke-width="1"/>
<path d="M292.86,263.32 L314.53,266.18 L336.20,274.75 L357.88,289.53 L379.55,312.87 L401.23,330.98 L422.90,336.22" fill="none" stroke="#222" stroke-width="1" />
<circle cx="292.86" cy="263.32" r="2.2" fill="none" stroke="#222" stroke-width="1"/>
<circle cx="314.53" cy="266.18" r="2.2" fill="none" stroke="#222" stroke-width="1"/>
<circle cx="336.20" cy="274.75" r="2.2" fill="none" stroke="#222" stroke-width="1"/>
<circle cx="357.88" cy="289.53" r="2.2" fill="none" stroke="#222" stroke-width="1"/>
<circle cx="379.55" cy="312.87" r="2.2" fill="none" stroke="#222" stroke-width="1"/>
<circle cx="401.23" cy="330.98" r="2.2" fill="none" stroke="#222" stroke-width="1"/>
<circle cx="422.90" cy="336.22" r="2.2" fill="none" stroke="#222" stroke-width="1"/>
<line x1="373.60" y1="258.00" x2="383.80" y2="258.00" stroke="#f04a30" stroke-width="1" />
<circle cx="378.7" cy="258" r="2.2" fill="none" stroke="#f04a30" stroke-width="1"/>
<text x="388.90" y="260.70" font-size="7.6" text-anchor="start" fill="#000" stroke="#000" stroke-width="0.2" >PQLC2<tspan font-size="5" dy="-3">KO</tspan></text>
<line x1="373.60" y1="267.80" x2="383.80" y2="267.80" stroke="#222" stroke-width="1" />
<circle cx="378.7" cy="267.8" r="2.2" fill="none" stroke="#222" stroke-width="1"/>
<text x="388.90" y="270.50" font-size="7.6" text-anchor="start" fill="#000" stroke="#000" stroke-width="0.2" >Control</text>
<path d="M429.2,308.2 h1.3 v28.6 h-1.3" fill="none" stroke="#222" stroke-width="0.8" />
<text x="440.00" y="328.40" font-size="10.5" text-anchor="middle" fill="#000" stroke="#000" stroke-width="0.2" font-weight="bold">****</text>
<path d="M91.10,848.50 L91.10,848.50 L98.42,848.50 L100.25,750.78 L101.97,758.20 L103.68,760.52 L105.40,760.96 L107.11,762.21 L108.83,765.92 L110.54,767.44 L112.26,766.88 L113.97,772.20 L115.69,775.30 L117.41,775.59 L119.12,780.49 L120.84,782.33 L122.55,786.54 L124.27,789.09 L125.98,792.94 L127.70,793.95 L129.42,795.73 L131.13,798.99 L132.85,800.84 L134.56,803.38 L136.28,807.05 L137.99,807.98 L139.71,809.98 L141.43,812.07 L143.14,814.08 L144.86,814.19 L146.57,816.40 L148.29,817.57 L150.00,818.90 L151.72,820.71 L153.43,821.63 L155.15,823.49 L156.87,824.17 L158.58,825.77 L160.30,826.41 L162.01,827.67 L163.73,829.62 L165.44,830.73 L167.16,831.33 L168.88,831.36 L170.59,832.48 L172.31,833.00 L174.02,833.92 L175.74,834.45 L177.45,835.20 L179.17,835.89 L180.88,836.08 L182.60,836.42 L184.32,836.58 L186.03,837.05 L187.75,837.25 L189.46,837.63 L191.18,837.91 L192.89,838.41 L194.61,839.10 L196.32,839.22 L198.04,839.63 L199.76,840.11 L201.47,840.70 L203.19,841.09 L204.90,841.71 L206.62,841.92 L208.33,842.25 L210.05,842.57 L211.77,842.87 L213.48,842.89 L215.20,843.09 L216.91,843.57 L218.63,843.63 L220.34,843.95 L222.06,844.18 L223.78,844.32 L225.49,844.40 L227.21,844.55 L228.92,844.89 L230.64,844.95 L232.35,845.23 L234.07,845.28 L235.78,845.41 L237.50,845.41 L239.22,845.47 L240.93,845.62 L242.65,845.63 L244.36,845.80 L246.08,845.91 L247.79,845.92 L249.51,846.07 L251.22,846.12 L252.94,846.18 L254.66,846.23 L256.37,846.36 L258.09,846.45 L259.80,846.44 L261.52,846.57 L261.52,848.50 Z" fill="#fefbbf" stroke="none" stroke-width="1" />
<path d="M91.10,848.50 L91.10,848.50 L98.42,848.50 L100.25,785.10 L101.97,791.62 L103.68,795.37 L105.40,797.14 L107.11,799.00 L108.83,800.69 L110.54,802.88 L112.26,805.31 L113.97,807.53 L115.69,809.17 L117.41,812.52 L119.12,815.04 L120.84,816.85 L122.55,820.08 L124.27,822.30 L125.98,822.75 L127.70,824.79 L129.42,826.10 L131.13,828.13 L132.85,828.97 L134.56,830.13 L136.28,832.06 L137.99,832.81 L139.71,833.73 L141.43,835.08 L143.14,835.48 L144.86,836.46 L146.57,837.18 L148.29,838.26 L150.00,838.91 L151.72,839.77 L153.43,840.56 L155.15,840.97 L156.87,841.13 L158.58,841.46 L160.30,842.18 L162.01,842.54 L163.73,842.94 L165.44,843.46 L167.16,843.68 L168.88,843.93 L170.59,844.15 L172.31,844.33 L174.02,844.64 L175.74,844.85 L177.45,845.01 L179.17,845.39 L180.88,845.36 L182.60,845.39 L184.32,845.54 L186.03,845.62 L187.75,845.59 L189.46,845.75 L191.18,845.83 L192.89,845.86 L194.61,845.88 L196.32,846.04 L198.04,846.08 L199.76,846.14 L201.47,846.14 L203.19,846.26 L204.90,846.28 L206.62,846.42 L208.33,846.44 L210.05,846.44 L211.77,846.46 L213.48,846.55 L215.20,846.62 L216.91,846.68 L218.63,846.67 L220.34,846.75 L222.06,846.73 L223.78,846.77 L225.49,846.88 L227.21,846.91 L228.92,846.90 L230.64,846.94 L232.35,846.94 L234.07,847.01 L235.78,847.05 L237.50,847.05 L239.22,847.03 L240.93,847.10 L242.65,847.11 L244.36,847.13 L246.08,847.15 L247.79,847.17 L249.51,847.15 L251.22,847.24 L252.94,847.27 L254.66,847.22 L256.37,847.25 L258.09,847.26 L259.80,847.32 L261.52,847.31 L261.52,848.50 Z" fill="rgb(244,140,60)" stroke="none" stroke-width="1" fill-opacity="0.38"/>
<path d="M91.10,848.50 L91.10,848.50 L98.42,848.50 L100.25,810.04 L101.97,813.25 L103.68,812.28 L105.40,812.58 L107.11,814.11 L108.83,815.56 L110.54,817.15 L112.26,818.36 L113.97,819.90 L115.69,821.49 L117.41,821.98 L119.12,823.79 L120.84,824.38 L122.55,826.79 L124.27,827.02 L125.98,828.06 L127.70,828.47 L129.42,829.19 L131.13,829.88 L132.85,830.91 L134.56,832.16 L136.28,832.10 L137.99,833.32 L139.71,833.72 L141.43,833.91 L143.14,834.54 L144.86,835.14 L146.57,835.24 L148.29,836.00 L150.00,836.71 L151.72,837.28 L153.43,837.32 L155.15,838.02 L156.87,838.29 L158.58,838.99 L160.30,839.52 L162.01,839.79 L163.73,840.10 L165.44,840.86 L167.16,840.81 L168.88,841.00 L170.59,841.29 L172.31,841.52 L174.02,842.09 L175.74,842.08 L177.45,842.23 L179.17,842.76 L180.88,842.84 L182.60,843.01 L184.32,843.08 L186.03,843.28 L187.75,843.43 L189.46,843.50 L191.18,843.89 L192.89,844.03 L194.61,844.13 L196.32,844.24 L198.04,844.38 L199.76,844.27 L201.47,844.42 L203.19,844.72 L204.90,844.74 L206.62,844.90 L208.33,845.02 L210.05,845.13 L211.77,845.19 L213.48,845.32 L215.20,845.49 L216.91,845.63 L218.63,845.73 L220.34,845.87 L222.06,845.85 L223.78,845.88 L225.49,845.98 L227.21,846.08 L228.92,846.12 L230.64,846.14 L232.35,846.16 L234.07,846.19 L235.78,846.29 L237.50,846.29 L239.22,846.37 L240.93,846.44 L242.65,846.50 L244.36,846.54 L246.08,846.57 L247.79,846.65 L249.51,846.67 L251.22,846.75 L252.94,846.82 L254.66,846.85 L256.37,846.88 L258.09,846.99 L259.80,847.01 L261.52,847.07 L261.52,848.50 Z" fill="rgb(150,180,40)" stroke="none" stroke-width="1" fill-opacity="0.45"/>
<path d="M91.10,848.50 L98.42,848.50 L100.25,750.78 L101.97,758.20 L103.68,760.52 L105.40,760.96 L107.11,762.21 L108.83,765.92 L110.54,767.44 L112.26,766.88 L113.97,772.20 L115.69,775.30 L117.41,775.59 L119.12,780.49 L120.84,782.33 L122.55,786.54 L124.27,789.09 L125.98,792.94 L127.70,793.95 L129.42,795.73 L131.13,798.99 L132.85,800.84 L134.56,803.38 L136.28,807.05 L137.99,807.98 L139.71,809.98 L141.43,812.07 L143.14,814.08 L144.86,814.19 L146.57,816.40 L148.29,817.57 L150.00,818.90 L151.72,820.71 L153.43,821.63 L155.15,823.49 L156.87,824.17 L158.58,825.77 L160.30,826.41 L162.01,827.67 L163.73,829.62 L165.44,830.73 L167.16,831.33 L168.88,831.36 L170.59,832.48 L172.31,833.00 L174.02,833.92 L175.74,834.45 L177.45,835.20 L179.17,835.89 L180.88,836.08 L182.60,836.42 L184.32,836.58 L186.03,837.05 L187.75,837.25 L189.46,837.63 L191.18,837.91 L192.89,838.41 L194.61,839.10 L196.32,839.22 L198.04,839.63 L199.76,840.11 L201.47,840.70 L203.19,841.09 L204.90,841.71 L206.62,841.92 L208.33,842.25 L210.05,842.57 L211.77,842.87 L213.48,842.89 L215.20,843.09 L216.91,843.57 L218.63,843.63 L220.34,843.95 L222.06,844.18 L223.78,844.32 L225.49,844.40 L227.21,844.55 L228.92,844.89 L230.64,844.95 L232.35,845.23 L234.07,845.28 L235.78,845.41 L237.50,845.41 L239.22,845.47 L240.93,845.62 L242.65,845.63 L244.36,845.80 L246.08,845.91 L247.79,845.92 L249.51,846.07 L251.22,846.12 L252.94,846.18 L254.66,846.23 L256.37,846.36 L258.09,846.45 L259.80,846.44 L261.52,846.57" fill="none" stroke="#f7941d" stroke-width="1" stroke-linejoin="round"/>
<path d="M91.10,848.50 L98.42,848.50 L100.25,785.10 L101.97,791.62 L103.68,795.37 L105.40,797.14 L107.11,799.00 L108.83,800.69 L110.54,802.88 L112.26,805.31 L113.97,807.53 L115.69,809.17 L117.41,812.52 L119.12,815.04 L120.84,816.85 L122.55,820.08 L124.27,822.30 L125.98,822.75 L127.70,824.79 L129.42,826.10 L131.13,828.13 L132.85,828.97 L134.56,830.13 L136.28,832.06 L137.99,832.81 L139.71,833.73 L141.43,835.08 L143.14,835.48 L144.86,836.46 L146.57,837.18 L148.29,838.26 L150.00,838.91 L151.72,839.77 L153.43,840.56 L155.15,840.97 L156.87,841.13 L158.58,841.46 L160.30,842.18 L162.01,842.54 L163.73,842.94 L165.44,843.46 L167.16,843.68 L168.88,843.93 L170.59,844.15 L172.31,844.33 L174.02,844.64 L175.74,844.85 L177.45,845.01 L179.17,845.39 L180.88,845.36 L182.60,845.39 L184.32,845.54 L186.03,845.62 L187.75,845.59 L189.46,845.75 L191.18,845.83 L192.89,845.86 L194.61,845.88 L196.32,846.04 L198.04,846.08 L199.76,846.14 L201.47,846.14 L203.19,846.26 L204.90,846.28 L206.62,846.42 L208.33,846.44 L210.05,846.44 L211.77,846.46 L213.48,846.55 L215.20,846.62 L216.91,846.68 L218.63,846.67 L220.34,846.75 L222.06,846.73 L223.78,846.77 L225.49,846.88 L227.21,846.91 L228.92,846.90 L230.64,846.94 L232.35,846.94 L234.07,847.01 L235.78,847.05 L237.50,847.05 L239.22,847.03 L240.93,847.10 L242.65,847.11 L244.36,847.13 L246.08,847.15 L247.79,847.17 L249.51,847.15 L251.22,847.24 L252.94,847.27 L254.66,847.22 L256.37,847.25 L258.09,847.26 L259.80,847.32 L261.52,847.31" fill="none" stroke="#ef3a24" stroke-width="1" stroke-linejoin="round"/>
<path d="M91.10,848.50 L98.42,848.50 L100.25,810.04 L101.97,813.25 L103.68,812.28 L105.40,812.58 L107.11,814.11 L108.83,815.56 L110.54,817.15 L112.26,818.36 L113.97,819.90 L115.69,821.49 L117.41,821.98 L119.12,823.79 L120.84,824.38 L122.55,826.79 L124.27,827.02 L125.98,828.06 L127.70,828.47 L129.42,829.19 L131.13,829.88 L132.85,830.91 L134.56,832.16 L136.28,832.10 L137.99,833.32 L139.71,833.72 L141.43,833.91 L143.14,834.54 L144.86,835.14 L146.57,835.24 L148.29,836.00 L150.00,836.71 L151.72,837.28 L153.43,837.32 L155.15,838.02 L156.87,838.29 L158.58,838.99 L160.30,839.52 L162.01,839.79 L163.73,840.10 L165.44,840.86 L167.16,840.81 L168.88,841.00 L170.59,841.29 L172.31,841.52 L174.02,842.09 L175.74,842.08 L177.45,842.23 L179.17,842.76 L180.88,842.84 L182.60,843.01 L184.32,843.08 L186.03,843.28 L187.75,843.43 L189.46,843.50 L191.18,843.89 L192.89,844.03 L194.61,844.13 L196.32,844.24 L198.04,844.38 L199.76,844.27 L201.47,844.42 L203.19,844.72 L204.90,844.74 L206.62,844.90 L208.33,845.02 L210.05,845.13 L211.77,845.19 L213.48,845.32 L215.20,845.49 L216.91,845.63 L218.63,845.73 L220.34,845.87 L222.06,845.85 L223.78,845.88 L225.49,845.98 L227.21,846.08 L228.92,846.12 L230.64,846.14 L232.35,846.16 L234.07,846.19 L235.78,846.29 L237.50,846.29 L239.22,846.37 L240.93,846.44 L242.65,846.50 L244.36,846.54 L246.08,846.57 L247.79,846.65 L249.51,846.67 L251.22,846.75 L252.94,846.82 L254.66,846.85 L256.37,846.88 L258.09,846.99 L259.80,847.01 L261.52,847.07" fill="none" stroke="#2db34a" stroke-width="1" stroke-linejoin="round"/>
<path d="M91.10,848.50 L98.42,848.50 L100.25,847.01 L101.97,847.01 L103.68,847.31 L105.40,847.07 L107.11,847.15 L108.83,847.42 L110.54,847.35 L112.26,847.52 L113.97,847.23 L115.69,847.32 L117.41,847.24 L119.12,847.31 L120.84,847.38 L122.55,847.37 L124.27,847.47 L125.98,847.67 L127.70,847.50 L129.42,847.74 L131.13,847.70 L132.85,847.49 L134.56,847.77 L136.28,847.77 L137.99,847.79 L139.71,847.54 L141.43,847.79 L143.14,847.85 L144.86,847.61 L146.57,847.85 L148.29,847.64 L150.00,847.71 L151.72,847.68 L153.43,847.67 L155.15,847.79 L156.87,847.75 L158.58,847.97 L160.30,847.79 L162.01,847.87 L163.73,847.84 L165.44,848.00 L167.16,847.87 L168.88,847.84 L170.59,848.05 L172.31,848.01 L174.02,847.98 L175.74,847.94 L177.45,848.07 L179.17,848.10 L180.88,848.10 L182.60,848.05 L184.32,848.03 L186.03,848.10 L187.75,848.11 L189.46,848.11 L191.18,848.12 L192.89,848.12 L194.61,848.18 L196.32,848.12 L198.04,848.05 L199.76,848.14 L201.47,848.10 L203.19,848.19 L204.90,848.12 L206.62,848.12 L208.33,848.14 L210.05,848.17 L211.77,848.18 L213.48,848.16 L215.20,848.14 L216.91,848.24 L218.63,848.25 L220.34,848.18 L222.06,848.16 L223.78,848.22 L225.49,848.23 L227.21,848.21 L228.92,848.27 L230.64,848.27 L232.35,848.28 L234.07,848.25 L235.78,848.28 L237.50,848.29 L239.22,848.26 L240.93,848.24 L242.65,848.30 L244.36,848.27 L246.08,848.30 L247.79,848.28 L249.51,848.30 L251.22,848.33 L252.94,848.34 L254.66,848.36 L256.37,848.34 L258.09,848.35 L259.80,848.37 L261.52,848.36" fill="none" stroke="#2850e8" stroke-width="1.2" stroke-linejoin="round"/>
<line x1="90.90" y1="733.20" x2="90.90" y2="849.00" stroke="#000" stroke-width="1" />
<line x1="90.40" y1="848.50" x2="263.66" y2="848.50" stroke="#000" stroke-width="1" />
<line x1="86.90" y1="848.50" x2="90.90" y2="848.50" stroke="#000" stroke-width="1" />
<text x="84.20" y="851.50" font-size="8.3" text-anchor="end" fill="#000" stroke="#000" stroke-width="0.2" >0</text>
<line x1="86.90" y1="819.80" x2="90.90" y2="819.80" stroke="#000" stroke-width="1" />
<text x="84.20" y="822.80" font-size="8.3" text-anchor="end" fill="#000" stroke="#000" stroke-width="0.2" >2000</text>
<line x1="86.90" y1="791.10" x2="90.90" y2="791.10" stroke="#000" stroke-width="1" />
<text x="84.20" y="794.10" font-size="8.3" text-anchor="end" fill="#000" stroke="#000" stroke-width="0.2" >4000</text>
<line x1="86.90" y1="762.40" x2="90.90" y2="762.40" stroke="#000" stroke-width="1" />
<text x="84.20" y="765.40" font-size="8.3" text-anchor="end" fill="#000" stroke="#000" stroke-width="0.2" >6000</text>
<line x1="86.90" y1="733.70" x2="90.90" y2="733.70" stroke="#000" stroke-width="1" />
<text x="84.20" y="736.70" font-size="8.3" text-anchor="end" fill="#000" stroke="#000" stroke-width="0.2" >8000</text>
<line x1="91.10" y1="848.50" x2="91.10" y2="852.50" stroke="#000" stroke-width="1" />
<line x1="95.67" y1="848.50" x2="95.67" y2="850.50" stroke="#1c2d8c" stroke-width="0.7" />
<line x1="100.25" y1="848.50" x2="100.25" y2="850.50" stroke="#1c2d8c" stroke-width="0.7" />
<line x1="104.82" y1="848.50" x2="104.82" y2="850.50" stroke="#1c2d8c" stroke-width="0.7" />
<line x1="109.40" y1="848.50" x2="109.40" y2="850.50" stroke="#1c2d8c" stroke-width="0.7" />
<line x1="113.97" y1="848.50" x2="113.97" y2="850.50" stroke="#1c2d8c" stroke-width="0.7" />
<line x1="118.55" y1="848.50" x2="118.55" y2="850.50" stroke="#1c2d8c" stroke-width="0.7" />
<line x1="123.12" y1="848.50" x2="123.12" y2="850.50" stroke="#1c2d8c" stroke-width="0.7" />
<line x1="127.70" y1="848.50" x2="127.70" y2="850.50" stroke="#1c2d8c" stroke-width="0.7" />
<line x1="132.28" y1="848.50" x2="132.28" y2="850.50" stroke="#1c2d8c" stroke-width="0.7" />
<line x1="136.85" y1="848.50" x2="136.85" y2="852.50" stroke="#000" stroke-width="1" />
<line x1="141.43" y1="848.50" x2="141.43" y2="850.50" stroke="#1c2d8c" stroke-width="0.7" />
<line x1="146.00" y1="848.50" x2="146.00" y2="850.50" stroke="#1c2d8c" stroke-width="0.7" />
<line x1="150.57" y1="848.50" x2="150.57" y2="850.50" stroke="#1c2d8c" stroke-width="0.7" />
<line x1="155.15" y1="848.50" x2="155.15" y2="850.50" stroke="#1c2d8c" stroke-width="0.7" />
<line x1="159.72" y1="848.50" x2="159.72" y2="850.50" stroke="#1c2d8c" stroke-width="0.7" />
<line x1="164.30" y1="848.50" x2="164.30" y2="850.50" stroke="#1c2d8c" stroke-width="0.7" />
<line x1="168.88" y1="848.50" x2="168.88" y2="850.50" stroke="#1c2d8c" stroke-width="0.7" />
<line x1="173.45" y1="848.50" x2="173.45" y2="850.50" stroke="#1c2d8c" stroke-width="0.7" />
<line x1="178.02" y1="848.50" x2="178.02" y2="850.50" stroke="#1c2d8c" stroke-width="0.7" />
<line x1="182.60" y1="848.50" x2="182.60" y2="852.50" stroke="#000" stroke-width="1" />
<line x1="187.18" y1="848.50" x2="187.18" y2="850.50" stroke="#1c2d8c" stroke-width="0.7" />
<line x1="191.75" y1="848.50" x2="191.75" y2="850.50" stroke="#1c2d8c" stroke-width="0.7" />
<line x1="196.32" y1="848.50" x2="196.32" y2="850.50" stroke="#1c2d8c" stroke-width="0.7" />
<line x1="200.90" y1="848.50" x2="200.90" y2="850.50" stroke="#1c2d8c" stroke-width="0.7" />
<line x1="205.47" y1="848.50" x2="205.47" y2="850.50" stroke="#1c2d8c" stroke-width="0.7" />
<line x1="210.05" y1="848.50" x2="210.05" y2="850.50" stroke="#1c2d8c" stroke-width="0.7" />
<line x1="214.62" y1="848.50" x2="214.62" y2="850.50" stroke="#1c2d8c" stroke-width="0.7" />
<line x1="219.20" y1="848.50" x2="219.20" y2="850.50" stroke="#1c2d8c" stroke-width="0.7" />
<line x1="223.78" y1="848.50" x2="223.78" y2="850.50" stroke="#1c2d8c" stroke-width="0.7" />
<line x1="228.35" y1="848.50" x2="228.35" y2="852.50" stroke="#000" stroke-width="1" />
<line x1="232.93" y1="848.50" x2="232.93" y2="850.50" stroke="#1c2d8c" stroke-width="0.7" />
<line x1="237.50" y1="848.50" x2="237.50" y2="850.50" stroke="#1c2d8c" stroke-width="0.7" />
<line x1="242.07" y1="848.50" x2="242.07" y2="850.50" stroke="#1c2d8c" stroke-width="0.7" />
<line x1="246.65" y1="848.50" x2="246.65" y2="850.50" stroke="#1c2d8c" stroke-width="0.7" />
<line x1="251.22" y1="848.50" x2="251.22" y2="850.50" stroke="#1c2d8c" stroke-width="0.7" />
<line x1="255.80" y1="848.50" x2="255.80" y2="850.50" stroke="#1c2d8c" stroke-width="0.7" />
<line x1="260.38" y1="848.50" x2="260.38" y2="850.50" stroke="#1c2d8c" stroke-width="0.7" />
<text x="91.10" y="862.40" font-size="8.3" text-anchor="middle" fill="#000" stroke="#000" stroke-width="0.2" >0</text>
<text x="136.85" y="862.40" font-size="8.3" text-anchor="middle" fill="#000" stroke="#000" stroke-width="0.2" >20</text>
<text x="182.60" y="862.40" font-size="8.3" text-anchor="middle" fill="#000" stroke="#000" stroke-width="0.2" >40</text>
<text x="228.35" y="862.40" font-size="8.3" text-anchor="middle" fill="#000" stroke="#000" stroke-width="0.2" >60</text>
<text x="176.20" y="872.60" font-size="9.3" text-anchor="middle" fill="#000" stroke="#000" stroke-width="0.2" >EGFR-RFP puncta area (px<tspan font-size="6" dy="-3.5">2</tspan><tspan dy="3.5">)</tspan></text>
<text x="59.80" y="793.20" font-size="9.2" text-anchor="middle" fill="#000" stroke="#000" stroke-width="0.2" transform="rotate(-90 59.80 793.20)" >Number of puncta</text>
<line x1="156.00" y1="736.60" x2="168.40" y2="736.60" stroke="#f7941d" stroke-width="1.2" />
<text x="171.50" y="739.30" font-size="7.6" text-anchor="start" fill="#000" stroke="#000" stroke-width="0.2" >PQLC2<tspan font-size="5" dy="-3">KO</tspan><tspan dy="3">, Lap-VHL</tspan><tspan font-size="4.5" dy="2">Inactive</tspan></text>
<line x1="156.00" y1="749.20" x2="168.40" y2="749.20" stroke="#ef3a24" stroke-width="1.2" />
<text x="171.50" y="751.90" font-size="7.6" text-anchor="start" fill="#000" stroke="#000" stroke-width="0.2" >Control, Lap-VHL<tspan font-size="4.5" dy="2">Inactive</tspan></text>
<line x1="156.00" y1="760.50" x2="168.40" y2="760.50" stroke="#2db34a" stroke-width="1.2" />
<text x="171.50" y="763.20" font-size="7.6" text-anchor="start" fill="#000" stroke="#000" stroke-width="0.2" >PQLC2<tspan font-size="5" dy="-3">KO</tspan><tspan dy="3">, Lap-VHL</tspan></text>
<line x1="156.00" y1="772.00" x2="168.40" y2="772.00" stroke="#2850e8" stroke-width="1.2" />
<text x="171.50" y="774.70" font-size="7.6" text-anchor="start" fill="#000" stroke="#000" stroke-width="0.2" >Control, Lap-VHL</text>
<line x1="360.50" y1="733.40" x2="360.50" y2="846.60" stroke="#000" stroke-width="1" />
<line x1="360.00" y1="846.10" x2="528.60" y2="846.10" stroke="#000" stroke-width="1" />
<line x1="356.50" y1="846.10" x2="360.50" y2="846.10" stroke="#000" stroke-width="1" />
<text x="355.00" y="849.10" font-size="8.4" text-anchor="end" fill="#000" stroke="#000" stroke-width="0.2" >0</text>
<line x1="356.50" y1="808.70" x2="360.50" y2="808.70" stroke="#000" stroke-width="1" />
<text x="355.00" y="811.70" font-size="8.4" text-anchor="end" fill="#000" stroke="#000" stroke-width="0.2" >10000</text>
<line x1="356.50" y1="771.30" x2="360.50" y2="771.30" stroke="#000" stroke-width="1" />
<text x="355.00" y="774.30" font-size="8.4" text-anchor="end" fill="#000" stroke="#000" stroke-width="0.2" >20000</text>
<line x1="356.50" y1="733.90" x2="360.50" y2="733.90" stroke="#000" stroke-width="1" />
<text x="355.00" y="736.90" font-size="8.4" text-anchor="end" fill="#000" stroke="#000" stroke-width="0.2" >30000</text>
<line x1="360.50" y1="846.10" x2="360.50" y2="850.10" stroke="#000" stroke-width="1" />
<text x="360.50" y="859.60" font-size="8.4" text-anchor="middle" fill="#000" stroke="#000" stroke-width="0.2" >0</text>
<line x1="402.40" y1="846.10" x2="402.40" y2="850.10" stroke="#000" stroke-width="1" />
<text x="402.40" y="859.60" font-size="8.4" text-anchor="middle" fill="#000" stroke="#000" stroke-width="0.2" >100</text>
<line x1="444.30" y1="846.10" x2="444.30" y2="850.10" stroke="#000" stroke-width="1" />
<text x="444.30" y="859.60" font-size="8.4" text-anchor="middle" fill="#000" stroke="#000" stroke-width="0.2" >200</text>
<line x1="486.20" y1="846.10" x2="486.20" y2="850.10" stroke="#000" stroke-width="1" />
<text x="486.20" y="859.60" font-size="8.4" text-anchor="middle" fill="#000" stroke="#000" stroke-width="0.2" >300</text>
<line x1="528.10" y1="846.10" x2="528.10" y2="850.10" stroke="#000" stroke-width="1" />
<text x="528.10" y="859.60" font-size="8.4" text-anchor="middle" fill="#000" stroke="#000" stroke-width="0.2" >400</text>
<text x="448.50" y="871.50" font-size="9.0" text-anchor="middle" fill="#000" stroke="#000" stroke-width="0.2" >Time after Lap-VHL + Baf-A1</text>
<text x="448.50" y="882.50" font-size="9.0" text-anchor="middle" fill="#000" stroke="#000" stroke-width="0.2" >addition (min)</text>
<text x="315.80" y="791.00" font-size="9.1" text-anchor="middle" fill="#000" stroke="#000" stroke-width="0.2" transform="rotate(-90 315.80 791.00)" >Internalized Her2-GFP</text>
<text x="326.40" y="791.50" font-size="9.0" text-anchor="middle" fill="#000" stroke="#000" stroke-width="0.2" transform="rotate(-90 326.40 791.50)" >(number of puncta)</text>
<line x1="396.00" y1="824.30" x2="501.40" y2="784.60" stroke="#555" stroke-width="0.7" />
<line x1="396.00" y1="805.70" x2="501.40" y2="757.30" stroke="#555" stroke-width="0.7" />
<path d="M398.21,821.85 V830.45 M396.21,821.85 h4 M396.21,830.45 h4" fill="none" stroke="#3a5fe0" stroke-width="0.9" />
<circle cx="398.21" cy="826.15" r="2.4" fill="#fff" stroke="#3a5fe0" stroke-width="0.9"/>
<path d="M410.78,813.23 V825.63 M408.78,813.23 h4 M408.78,825.63 h4" fill="none" stroke="#3a5fe0" stroke-width="0.9" />
<circle cx="410.78" cy="819.43" r="2.4" fill="#fff" stroke="#3a5fe0" stroke-width="0.9"/>
<path d="M423.35,809.52 V819.52 M421.35,809.52 h4 M421.35,819.52 h4" fill="none" stroke="#3a5fe0" stroke-width="0.9" />
<circle cx="423.35" cy="814.52" r="2.4" fill="#fff" stroke="#3a5fe0" stroke-width="0.9"/>
<path d="M435.92,802.40 V818.00 M433.92,802.40 h4 M433.92,818.00 h4" fill="none" stroke="#3a5fe0" stroke-width="0.9" />
<circle cx="435.92" cy="810.20" r="2.4" fill="#fff" stroke="#3a5fe0" stroke-width="0.9"/>
<path d="M448.49,795.78 V810.78 M446.49,795.78 h4 M446.49,810.78 h4" fill="none" stroke="#3a5fe0" stroke-width="0.9" />
<circle cx="448.49" cy="803.28" r="2.4" fill="#fff" stroke="#3a5fe0" stroke-width="0.9"/>
<path d="M461.06,789.77 V808.37 M459.06,789.77 h4 M459.06,808.37 h4" fill="none" stroke="#3a5fe0" stroke-width="0.9" />
<circle cx="461.06" cy="799.07" r="2.4" fill="#fff" stroke="#3a5fe0" stroke-width="0.9"/>
<path d="M473.63,788.57 V804.57 M471.63,788.57 h4 M471.63,804.57 h4" fill="none" stroke="#3a5fe0" stroke-width="0.9" />
<circle cx="473.63" cy="796.57" r="2.4" fill="#fff" stroke="#3a5fe0" stroke-width="0.9"/>
<path d="M486.20,780.35 V799.75 M484.20,780.35 h4 M484.20,799.75 h4" fill="none" stroke="#3a5fe0" stroke-width="0.9" />
<circle cx="486.20" cy="790.05" r="2.4" fill="#fff" stroke="#3a5fe0" stroke-width="0.9"/>
<path d="M498.77,776.34 V796.34 M496.77,776.34 h4 M496.77,796.34 h4" fill="none" stroke="#3a5fe0" stroke-width="0.9" />
<circle cx="498.77" cy="786.34" r="2.4" fill="#fff" stroke="#3a5fe0" stroke-width="0.9"/>
<path d="M398.21,805.19 V808.79 M396.21,805.19 h4 M396.21,808.79 h4" fill="none" stroke="#3cc04a" stroke-width="0.9" />
<path d="M398.21,804.39 L400.61,808.59 L395.81,808.59 Z" fill="#fff" stroke="#3cc04a" stroke-width="0.9"/>
<path d="M410.78,797.07 V801.07 M408.78,797.07 h4 M408.78,801.07 h4" fill="none" stroke="#3cc04a" stroke-width="0.9" />
<path d="M410.78,796.47 L413.18,800.67 L408.38,800.67 Z" fill="#fff" stroke="#3cc04a" stroke-width="0.9"/>
<path d="M423.35,794.77 V800.77 M421.35,794.77 h4 M421.35,800.77 h4" fill="none" stroke="#3cc04a" stroke-width="0.9" />
<path d="M423.35,795.17 L425.75,799.37 L420.95,799.37 Z" fill="#fff" stroke="#3cc04a" stroke-width="0.9"/>
<path d="M435.92,783.55 V795.55 M433.92,783.55 h4 M433.92,795.55 h4" fill="none" stroke="#3cc04a" stroke-width="0.9" />
<path d="M435.92,786.95 L438.32,791.15 L433.52,791.15 Z" fill="#fff" stroke="#3cc04a" stroke-width="0.9"/>
<path d="M448.49,774.72 V782.12 M446.49,774.72 h4 M446.49,782.12 h4" fill="none" stroke="#3cc04a" stroke-width="0.9" />
<path d="M448.49,775.82 L450.89,780.02 L446.09,780.02 Z" fill="#fff" stroke="#3cc04a" stroke-width="0.9"/>
<path d="M461.06,773.72 V780.52 M459.06,773.72 h4 M459.06,780.52 h4" fill="none" stroke="#3cc04a" stroke-width="0.9" />
<path d="M461.06,774.52 L463.46,778.72 L458.66,778.72 Z" fill="#fff" stroke="#3cc04a" stroke-width="0.9"/>
<path d="M473.63,776.52 L476.03,780.72 L471.23,780.72 Z" fill="#fff" stroke="#3cc04a" stroke-width="0.9"/>
<path d="M486.20,762.88 L488.60,767.08 L483.80,767.08 Z" fill="#fff" stroke="#3cc04a" stroke-width="0.9"/>
<path d="M498.77,752.46 V759.46 M496.77,752.46 h4 M496.77,759.46 h4" fill="none" stroke="#3cc04a" stroke-width="0.9" />
<path d="M498.77,753.36 L501.17,757.56 L496.37,757.56 Z" fill="#fff" stroke="#3cc04a" stroke-width="0.9"/>
<line x1="367.40" y1="736.70" x2="381.00" y2="736.70" stroke="#3a5fe0" stroke-width="1.1" />
<text x="387.30" y="739.80" font-size="9.1" text-anchor="start" fill="#000" stroke="#000" stroke-width="0.2" >Control</text>
<line x1="367.40" y1="753.50" x2="381.00" y2="753.50" stroke="#3cc04a" stroke-width="1.1" />
<text x="387.30" y="756.60" font-size="9.1" text-anchor="start" fill="#000" stroke="#000" stroke-width="0.2" >PQLC2<tspan font-size="6" dy="-3.5">KO</tspan></text>
<path d="M502.5,756 h3.2 v29.8 h-3.2" fill="none" stroke="#000" stroke-width="0.8" />
<text x="509.80" y="772.50" font-size="8.5" text-anchor="start" fill="#000" stroke="#000" stroke-width="0.2" >ns</text>
<svg x="49.0" y="480.0" width="71.3" height="71.3" viewBox="0 0 71.3 71.3" overflow="hidden"><rect x="0" y="0" width="71.3" height="71.3" filter="url(#nf1)" opacity="1"/><path d="M40.00,72.00 L46.00,60.00 L56.00,55.00 L72.00,53.00 L72.00,72.00 Z" fill="#000" opacity="0.45" filter="url(#bl2)"/><ellipse cx="50.00" cy="16.00" rx="10.00" ry="8.00" fill="#7a7a7a" opacity="0.55" filter="url(#bl2)"/><ellipse cx="52.00" cy="38.00" rx="10.00" ry="14.00" fill="#3a3a3a" opacity="0.6" filter="url(#bl4)"/><path d="M47.00,17.00 L40.00,24.00 L31.50,33.60 L24.00,37.00 L18.00,42.00 L12.60,48.00 L9.00,55.00 L6.00,65.00" fill="none" stroke="#8c8c8c" stroke-width="4.5" stroke-linejoin="round" stroke-linecap="round" opacity="0.32" filter="url(#bl2)"/><path d="M47.00,17.00 L40.00,24.00 L31.50,33.60 L24.00,37.00 L18.00,42.00 L12.60,48.00 L9.00,55.00 L6.00,65.00" fill="none" stroke="#a0a0a0" stroke-width="1.8" stroke-linejoin="round" stroke-linecap="round" opacity="0.38" filter="url(#bl1)"/><path d="M15.80,10.50 L13.70,21.00 L10.50,31.50 L8.00,40.00 L4.00,48.00" fill="none" stroke="#8c8c8c" stroke-width="4.5" stroke-linejoin="round" stroke-linecap="round" opacity="0.32" filter="url(#bl2)"/><path d="M15.80,10.50 L13.70,21.00 L10.50,31.50 L8.00,40.00 L4.00,48.00" fill="none" stroke="#a0a0a0" stroke-width="1.8" stroke-linejoin="round" stroke-linecap="round" opacity="0.38" filter="url(#bl1)"/><path d="M13.70,14.70 L23.00,26.00 L25.00,29.00" fill="none" stroke="#8c8c8c" stroke-width="4.5" stroke-linejoin="round" stroke-linecap="round" opacity="0.32" filter="url(#bl2)"/><path d="M13.70,14.70 L23.00,26.00 L25.00,29.00" fill="none" stroke="#a0a0a0" stroke-width="1.8" stroke-linejoin="round" stroke-linecap="round" opacity="0.38" filter="url(#bl1)"/><path d="M47.00,17.00 L55.00,22.00 L59.00,26.00 L63.00,37.00 L62.00,47.00 L52.60,52.60 L46.00,55.00" fill="none" stroke="#8c8c8c" stroke-width="4.5" stroke-linejoin="round" stroke-linecap="round" opacity="0.32" filter="url(#bl2)"/><path d="M47.00,17.00 L55.00,22.00 L59.00,26.00 L63.00,37.00 L62.00,47.00 L52.60,52.60 L46.00,55.00" fill="none" stroke="#a0a0a0" stroke-width="1.8" stroke-linejoin="round" stroke-linecap="round" opacity="0.38" filter="url(#bl1)"/><path d="M31.50,33.60 L42.00,38.00 L47.30,44.00 L50.50,51.50 L52.00,56.00" fill="none" stroke="#8c8c8c" stroke-width="4.5" stroke-linejoin="round" stroke-linecap="round" opacity="0.32" filter="url(#bl2)"/><path d="M31.50,33.60 L42.00,38.00 L47.30,44.00 L50.50,51.50 L52.00,56.00" fill="none" stroke="#a0a0a0" stroke-width="1.8" stroke-linejoin="round" stroke-linecap="round" opacity="0.38" filter="url(#bl1)"/><path d="M47.00,17.00 L52.00,8.00 L58.00,4.00 L70.00,2.00" fill="none" stroke="#8c8c8c" stroke-width="4.5" stroke-linejoin="round" stroke-linecap="round" opacity="0.32" filter="url(#bl2)"/><path d="M47.00,17.00 L52.00,8.00 L58.00,4.00 L70.00,2.00" fill="none" stroke="#a0a0a0" stroke-width="1.8" stroke-linejoin="round" stroke-linecap="round" opacity="0.38" filter="url(#bl1)"/><path d="M47.00,17.00 L60.00,14.00 L72.00,12.00" fill="none" stroke="#8c8c8c" stroke-width="4.5" stroke-linejoin="round" stroke-linecap="round" opacity="0.32" filter="url(#bl2)"/><path d="M47.00,17.00 L60.00,14.00 L72.00,12.00" fill="none" stroke="#a0a0a0" stroke-width="1.8" stroke-linejoin="round" stroke-linecap="round" opacity="0.38" filter="url(#bl1)"/><path d="M20.00,42.00 L26.00,50.00 L30.00,58.00 L40.00,62.00" fill="none" stroke="#8c8c8c" stroke-width="4.5" stroke-linejoin="round" stroke-linecap="round" opacity="0.32" filter="url(#bl2)"/><path d="M20.00,42.00 L26.00,50.00 L30.00,58.00 L40.00,62.00" fill="none" stroke="#a0a0a0" stroke-width="1.8" stroke-linejoin="round" stroke-linecap="round" opacity="0.38" filter="url(#bl1)"/><g><path d="M44.9 65.1h0M34.0 55.9h0M44.3 56.4h0M29.2 44.1h0M39.2 45.9h0M46.3 45.9h0M39.3 56.1h0M37.9 62.8h0M47.0 57.9h0M33.6 46.4h0M7.4 53.5h0M36.4 47.1h0M20.5 54.8h0M18.4 52.7h0M33.7 55.1h0M29.4 47.5h0M21.7 60.6h0M28.6 47.0h0M32.8 45.5h0M27.5 59.9h0" stroke="#fff" stroke-opacity="0.5" stroke-width="1.0" stroke-linecap="round"/><path d="M21.1 55.2h0M32.1 54.5h0M24.4 60.3h0M27.2 57.7h0M35.9 42.3h0M43.5 45.4h0M39.9 57.1h0M25.1 68.0h0M34.0 53.7h0M26.5 53.2h0M34.7 60.9h0M28.3 59.1h0M40.4 52.3h0" stroke="#fff" stroke-opacity="0.75" stroke-width="1.0" stroke-linecap="round"/><path d="M35.2 71.7h0M38.7 47.4h0M22.1 54.1h0M30.5 63.8h0M51.0 59.9h0M31.4 68.4h0M42.8 61.2h0M41.8 56.0h0M48.6 64.5h0M36.1 65.1h0M22.8 67.6h0M37.3 57.2h0" stroke="#fff" stroke-opacity="0.25" stroke-width="1.0" stroke-linecap="round"/><path d="M34.2 62.2h0M34.2 62.6h0M17.5 47.1h0M31.6 47.7h0" stroke="#fff" stroke-opacity="0.25" stroke-width="0.5" stroke-linecap="round"/><path d="M21.2 58.1h0M51.8 54.3h0M39.1 55.9h0M38.6 62.2h0M35.6 46.9h0M43.7 61.3h0M52.0 50.9h0" stroke="#fff" stroke-opacity="0.5" stroke-width="0.5" stroke-linecap="round"/><path d="M41.6 63.9h0M26.5 47.1h0M3.0 57.0h0M34.2 56.2h0" stroke="#fff" stroke-opacity="0.75" stroke-width="0.5" stroke-linecap="round"/></g><g><path d="M18.6 55.6h0M20.9 23.3h0M28.4 68.1h0M45.0 38.8h0M50.5 20.1h0M60.8 48.8h0M53.3 28.0h0M45.5 28.0h0M62.3 26.5h0M33.4 57.4h0M49.7 18.4h0M9.0 15.9h0M35.3 38.5h0M49.7 51.4h0M43.4 12.6h0M54.7 -0.7h0M23.2 35.3h0M19.1 42.2h0M21.2 11.8h0M27.6 39.5h0M45.5 10.5h0M35.3 32.7h0M21.0 11.0h0M36.9 55.7h0M30.0 61.3h0M11.3 54.7h0M62.7 22.9h0M40.8 58.0h0M19.7 51.6h0M56.2 26.1h0M45.7 27.2h0" stroke="#fff" stroke-opacity="0.25" stroke-width="0.5" stroke-linecap="round"/><path d="M56.9 12.0h0M50.8 34.1h0M50.6 38.7h0M16.8 4.2h0M51.0 21.1h0M8.8 21.6h0M55.2 61.6h0" stroke="#fff" stroke-opacity="0.25" stroke-width="1.0" stroke-linecap="round"/><path d="M30.4 21.5h0M28.2 48.4h0M62.8 44.2h0M47.9 25.7h0M39.7 27.0h0M46.0 1.1h0M46.7 27.0h0M16.6 1.2h0M45.0 46.8h0" stroke="#fff" stroke-opacity="0.5" stroke-width="0.5" stroke-linecap="round"/><path d="M31.9 37.3h0M34.9 38.0h0M11.0 44.8h0" stroke="#fff" stroke-opacity="0.5" stroke-width="1.0" stroke-linecap="round"/></g><rect x="0" y="0" width="71.3" height="71.3" filter="url(#nf2)" opacity="1"/><text x="1.6" y="6.8" font-size="6.9" fill="#f4f4f4" textLength="31.6" lengthAdjust="spacingAndGlyphs">EGFR-RFP</text></svg>
<svg x="123.0" y="480.0" width="71.3" height="71.3" viewBox="0 0 71.3 71.3" overflow="hidden"><rect x="0" y="0" width="71.3" height="71.3" fill="#020202" /><g><path d="M42.4 30.7h0M26.1 43.1h0M24.7 24.1h0M30.3 59.6h0M30.0 39.5h0M17.4 24.7h0M34.9 42.0h0M18.4 48.0h0M29.6 45.2h0M18.6 48.4h0M36.6 42.5h0M38.1 29.0h0M30.4 51.6h0M28.9 21.2h0M35.9 56.7h0M27.2 42.4h0M23.8 59.5h0M28.8 37.2h0M26.0 54.6h0M17.7 57.2h0M31.1 48.0h0M28.4 45.1h0M22.6 33.1h0M34.7 43.4h0M33.9 26.0h0M28.0 51.5h0M31.6 55.5h0M30.9 10.4h0M22.8 18.1h0M22.3 41.0h0M9.4 45.6h0M23.9 37.0h0" stroke="#fff" stroke-opacity="0.25" stroke-width="0.5" stroke-linecap="round"/><path d="M31.8 20.4h0M18.5 28.2h0M34.3 34.5h0M27.6 40.7h0M0.6 36.7h0M24.7 32.0h0M29.8 35.0h0M32.7 50.5h0M31.3 41.4h0M21.1 41.7h0M32.1 49.1h0M20.0 32.9h0M17.1 22.3h0M23.1 43.7h0M18.3 46.8h0M21.6 32.6h0M14.8 12.5h0M21.2 52.1h0M34.1 30.9h0M42.6 14.4h0M22.5 36.5h0M23.8 24.8h0M23.2 49.5h0M17.3 41.8h0M22.0 28.5h0M24.8 45.1h0M16.7 47.1h0M21.4 49.4h0M23.5 58.9h0M22.6 45.3h0M26.1 50.4h0M30.4 28.0h0M31.3 45.6h0M22.4 37.2h0M29.4 23.3h0M31.9 16.2h0M24.1 34.0h0M19.3 50.7h0M19.8 43.6h0M26.7 37.7h0M40.2 58.2h0M24.1 26.3h0M32.6 29.8h0M37.1 39.9h0M38.8 34.5h0M31.6 31.3h0M33.1 40.6h0" stroke="#fff" stroke-opacity="0.25" stroke-width="1.0" stroke-linecap="round"/><path d="M19.7 45.9h0M35.8 24.5h0M17.6 44.1h0M32.3 30.8h0M24.2 48.8h0M6.0 37.9h0M28.2 27.4h0M18.1 37.4h0M18.9 41.6h0M25.7 19.5h0M22.5 11.8h0M26.5 40.5h0M28.7 29.4h0M21.3 29.6h0M20.6 44.1h0M37.2 16.0h0M18.4 29.3h0M37.4 63.8h0M32.8 72.2h0M27.1 49.7h0M16.6 35.5h0M14.9 65.7h0" stroke="#fff" stroke-opacity="0.75" stroke-width="1.0" stroke-linecap="round"/><path d="M15.2 60.2h0M30.0 38.0h0M31.1 33.6h0M17.5 39.5h0M24.0 36.1h0M33.5 42.9h0M35.6 26.4h0M31.2 37.3h0M29.6 69.6h0M19.9 49.8h0M19.4 19.6h0M24.5 49.7h0M24.8 29.5h0M23.9 26.4h0M42.7 43.6h0M26.5 30.7h0M21.1 44.3h0M19.6 20.3h0M27.5 26.1h0M32.5 37.2h0M18.1 64.1h0M19.7 8.3h0M38.6 25.6h0M21.0 37.3h0M20.6 31.0h0M39.4 38.1h0M24.5 34.6h0M30.9 69.8h0M35.6 16.5h0M27.4 61.6h0M17.2 30.3h0M27.1 46.3h0M24.3 29.2h0M19.8 47.6h0M27.5 18.7h0M29.2 32.4h0M25.0 27.3h0M12.8 23.7h0M32.6 26.7h0M32.9 37.4h0M17.5 38.9h0M16.7 35.2h0M24.7 36.3h0" stroke="#fff" stroke-opacity="0.5" stroke-width="1.0" stroke-linecap="round"/><path d="M27.0 15.4h0M12.8 39.9h0M22.8 30.8h0M31.1 45.1h0M28.6 44.9h0M38.1 23.7h0M21.1 42.7h0M29.6 21.5h0M11.3 44.3h0M16.4 43.2h0M23.9 39.3h0M29.6 35.8h0M19.3 46.2h0M20.3 42.6h0M29.1 29.9h0" stroke="#fff" stroke-opacity="0.75" stroke-width="0.5" stroke-linecap="round"/><path d="M29.5 68.0h0M32.5 42.6h0M41.1 57.3h0M30.1 41.7h0M26.8 55.1h0M18.2 38.0h0M31.6 22.4h0M19.2 48.6h0M36.4 50.9h0M20.6 40.8h0M18.1 46.4h0M37.2 32.7h0M14.0 23.7h0M27.5 59.3h0M35.8 37.2h0M30.5 63.6h0M36.3 51.3h0M28.5 34.3h0M20.3 42.6h0M12.8 50.0h0M30.2 46.0h0M12.6 36.1h0M40.3 49.2h0M20.1 14.0h0M30.6 43.2h0M23.7 24.8h0M30.1 34.8h0M28.9 54.8h0M20.6 34.6h0M41.6 33.0h0M26.5 49.6h0M32.3 54.9h0M33.2 50.7h0M22.4 42.9h0M34.4 31.1h0M18.8 62.5h0M27.1 31.9h0M27.7 37.7h0" stroke="#fff" stroke-opacity="0.5" stroke-width="0.5" stroke-linecap="round"/></g><g><path d="M45.3 47.7h0M61.1 21.2h0M62.5 41.7h0M59.9 26.2h0M57.9 34.5h0M59.9 45.0h0M58.8 29.3h0M52.2 36.0h0M56.5 38.7h0M67.8 31.0h0M63.6 21.2h0M62.0 39.5h0M47.3 28.6h0M53.6 38.5h0M65.1 46.5h0M58.7 35.7h0M63.3 36.4h0M71.5 25.8h0M59.0 48.9h0M54.8 42.3h0M61.3 36.4h0M61.3 36.0h0M49.4 19.3h0" stroke="#fff" stroke-opacity="0.5" stroke-width="0.5" stroke-linecap="round"/><path d="M51.5 37.4h0M66.7 32.9h0M48.0 38.5h0M41.3 41.0h0M43.1 34.3h0M61.4 33.7h0M40.7 42.2h0M60.6 25.4h0M56.7 38.6h0M55.3 35.4h0M53.1 28.9h0M50.8 22.8h0M65.5 47.4h0M52.8 34.9h0M51.0 40.8h0M55.1 36.1h0M62.5 20.0h0M59.5 29.9h0M66.4 29.8h0M64.4 37.8h0M68.1 32.8h0M72.2 27.0h0M69.4 20.8h0M58.2 34.8h0M57.4 39.1h0M67.5 31.8h0M56.0 31.4h0M49.8 27.2h0M59.4 31.4h0M46.5 11.5h0M56.6 48.8h0M53.7 31.3h0M50.8 37.7h0M54.4 15.3h0" stroke="#fff" stroke-opacity="0.5" stroke-width="1.0" stroke-linecap="round"/><path d="M50.5 33.9h0M60.2 51.4h0M53.8 26.7h0M49.6 43.1h0M54.2 45.0h0M61.5 49.7h0M62.2 33.4h0M49.6 21.4h0M67.6 45.5h0M61.4 33.8h0M58.8 35.5h0M69.3 34.7h0M54.5 28.6h0M54.7 28.2h0M57.8 28.8h0M52.6 33.2h0M46.5 25.1h0M46.1 44.0h0" stroke="#fff" stroke-opacity="0.75" stroke-width="1.0" stroke-linecap="round"/><path d="M67.9 33.0h0M49.1 23.6h0M54.7 36.4h0M66.0 37.2h0M65.1 24.9h0M47.7 28.3h0M57.1 28.0h0M64.1 24.9h0M54.9 47.2h0M44.8 26.7h0M66.2 29.4h0M49.3 42.8h0M52.7 42.3h0M57.0 47.4h0M50.0 24.2h0M48.6 42.2h0M58.9 47.0h0M62.3 34.4h0M50.4 29.3h0M55.9 28.6h0M44.2 26.9h0M52.8 28.1h0M67.7 31.2h0M64.9 21.0h0M60.2 49.5h0M59.0 40.1h0M47.9 37.3h0M50.8 45.3h0M58.7 26.6h0M56.7 38.4h0" stroke="#fff" stroke-opacity="0.25" stroke-width="1.0" stroke-linecap="round"/><path d="M50.7 39.0h0M53.0 22.0h0M64.6 29.7h0M51.4 41.3h0M48.7 23.3h0M41.0 42.2h0M53.5 36.5h0M66.9 53.7h0M61.0 47.0h0M49.9 50.5h0M67.1 28.4h0M70.0 27.2h0M62.7 40.2h0M70.5 35.2h0M61.1 41.5h0M48.2 37.7h0M43.2 34.0h0M57.8 43.1h0M58.9 28.6h0M51.5 16.6h0M67.0 32.3h0M53.1 22.1h0M63.5 36.7h0M64.4 42.2h0M60.1 35.0h0M51.7 27.9h0M57.3 32.7h0M58.8 15.0h0M51.0 33.3h0" stroke="#fff" stroke-opacity="0.25" stroke-width="0.5" stroke-linecap="round"/><path d="M56.8 33.4h0M58.2 50.8h0M49.0 25.0h0M54.8 31.1h0M48.9 34.7h0M62.4 34.3h0M59.5 41.0h0M59.7 27.2h0M55.4 41.1h0M63.7 50.7h0M51.9 36.6h0M68.9 28.4h0M47.8 36.3h0" stroke="#fff" stroke-opacity="0.75" stroke-width="0.5" stroke-linecap="round"/></g><g><path d="M72.0 5.3h0M66.7 12.6h0M63.2 9.8h0M56.7 13.5h0M57.8 2.4h0M63.0 0.3h0M67.8 -0.8h0M56.7 8.9h0M55.4 3.6h0M64.7 2.7h0" stroke="#fff" stroke-opacity="0.5" stroke-width="1.0" stroke-linecap="round"/><path d="M60.5 13.7h0M67.6 11.4h0M61.7 14.5h0M63.7 4.1h0M63.5 11.6h0M51.1 4.2h0M66.6 11.0h0M63.9 12.5h0M51.7 7.9h0M61.0 4.1h0" stroke="#fff" stroke-opacity="0.25" stroke-width="0.5" stroke-linecap="round"/><path d="M60.5 7.7h0M68.0 7.2h0M63.8 3.3h0M60.5 4.7h0M71.0 3.9h0M56.8 3.1h0M66.8 3.8h0M56.6 8.0h0M59.2 5.7h0" stroke="#fff" stroke-opacity="0.5" stroke-width="0.5" stroke-linecap="round"/><path d="M62.1 9.9h0M60.0 14.3h0M65.5 6.3h0M64.5 5.3h0M57.7 17.3h0M54.4 6.4h0" stroke="#fff" stroke-opacity="0.25" stroke-width="1.0" stroke-linecap="round"/></g><g><path d="M60.6 25.7h0M48.2 15.9h0M65.0 20.8h0M42.3 41.7h0M33.0 30.7h0M45.4 24.1h0M17.6 15.4h0M39.1 22.7h0M65.3 20.0h0M57.9 29.6h0M48.6 12.9h0M56.5 17.5h0M29.2 24.1h0M57.5 22.8h0M26.1 42.2h0M47.9 22.3h0M36.1 37.1h0M58.5 26.2h0M57.7 12.9h0M50.6 31.1h0M40.3 21.2h0M27.3 17.6h0M29.7 5.4h0" stroke="#fff" stroke-opacity="0.25" stroke-width="0.5" stroke-linecap="round"/><path d="M52.1 31.0h0M48.8 25.7h0" stroke="#fff" stroke-opacity="0.5" stroke-width="0.5" stroke-linecap="round"/><path d="M38.7 32.0h0M27.9 41.2h0M44.2 13.2h0" stroke="#fff" stroke-opacity="0.25" stroke-width="1.0" stroke-linecap="round"/><path d="M33.9 10.7h0" stroke="#fff" stroke-opacity="0.5" stroke-width="1.0" stroke-linecap="round"/></g><text x="1.6" y="6.8" font-size="6.9" fill="#f4f4f4" textLength="37.6" lengthAdjust="spacingAndGlyphs">LAMP1-SNAP</text></svg>
<svg x="197.1" y="480.0" width="71.3" height="71.3" viewBox="0 0 71.3 71.3" overflow="hidden"><rect x="0" y="0" width="71.3" height="71.3" filter="url(#nf3)" opacity="1"/><path d="M8.00,0.00 L10.00,15.00 L8.00,30.00 L12.00,45.00 L10.00,60.00 L14.00,72.00" fill="none" stroke="#b01616" stroke-width="5" stroke-linejoin="round" stroke-linecap="round" opacity="0.5" filter="url(#bl2)"/><path d="M8.00,0.00 L10.00,15.00 L8.00,30.00 L12.00,45.00 L10.00,60.00 L14.00,72.00" fill="none" stroke="#c01a1a" stroke-width="2.2" stroke-linejoin="round" stroke-linecap="round" opacity="0.35" filter="url(#bl1)"/><path d="M2.00,30.00 L6.00,40.00 L4.00,55.00" fill="none" stroke="#b01616" stroke-width="5" stroke-linejoin="round" stroke-linecap="round" opacity="0.5" filter="url(#bl2)"/><path d="M2.00,30.00 L6.00,40.00 L4.00,55.00" fill="none" stroke="#c01a1a" stroke-width="2.2" stroke-linejoin="round" stroke-linecap="round" opacity="0.35" filter="url(#bl1)"/><path d="M20.00,10.00 L24.00,0.00" fill="none" stroke="#b01616" stroke-width="5" stroke-linejoin="round" stroke-linecap="round" opacity="0.5" filter="url(#bl2)"/><path d="M20.00,10.00 L24.00,0.00" fill="none" stroke="#c01a1a" stroke-width="2.2" stroke-linejoin="round" stroke-linecap="round" opacity="0.35" filter="url(#bl1)"/><path d="M40.00,8.00 L46.00,12.00 L52.00,18.00 L56.00,10.00 L62.00,0.00" fill="none" stroke="#b01616" stroke-width="5" stroke-linejoin="round" stroke-linecap="round" opacity="0.5" filter="url(#bl2)"/><path d="M40.00,8.00 L46.00,12.00 L52.00,18.00 L56.00,10.00 L62.00,0.00" fill="none" stroke="#c01a1a" stroke-width="2.2" stroke-linejoin="round" stroke-linecap="round" opacity="0.35" filter="url(#bl1)"/><path d="M20.00,60.00 L30.00,58.00 L40.00,62.00 L52.00,60.00 L60.00,66.00" fill="none" stroke="#b01616" stroke-width="5" stroke-linejoin="round" stroke-linecap="round" opacity="0.5" filter="url(#bl2)"/><path d="M20.00,60.00 L30.00,58.00 L40.00,62.00 L52.00,60.00 L60.00,66.00" fill="none" stroke="#c01a1a" stroke-width="2.2" stroke-linejoin="round" stroke-linecap="round" opacity="0.35" filter="url(#bl1)"/><path d="M16.00,34.00 L22.00,38.00 L26.00,36.00" fill="none" stroke="#b01616" stroke-width="5" stroke-linejoin="round" stroke-linecap="round" opacity="0.5" filter="url(#bl2)"/><path d="M16.00,34.00 L22.00,38.00 L26.00,36.00" fill="none" stroke="#c01a1a" stroke-width="2.2" stroke-linejoin="round" stroke-linecap="round" opacity="0.35" filter="url(#bl1)"/><path d="M50.00,30.00 L56.00,40.00 L62.00,50.00 L66.00,60.00" fill="none" stroke="#b01616" stroke-width="5" stroke-linejoin="round" stroke-linecap="round" opacity="0.5" filter="url(#bl2)"/><path d="M50.00,30.00 L56.00,40.00 L62.00,50.00 L66.00,60.00" fill="none" stroke="#c01a1a" stroke-width="2.2" stroke-linejoin="round" stroke-linecap="round" opacity="0.35" filter="url(#bl1)"/><ellipse cx="48.00" cy="14.00" rx="8.00" ry="6.00" fill="#a01414" opacity="0.6" filter="url(#bl4)"/><ellipse cx="12.60" cy="4.00" rx="5.30" ry="6.00" fill="#2828a8" opacity="0.88" filter="url(#bl1)"/><ellipse cx="5.00" cy="20.50" rx="7.00" ry="5.80" fill="#2828a8" opacity="0.88" filter="url(#bl1)"/><ellipse cx="33.10" cy="20.00" rx="6.80" ry="8.40" fill="#2828a8" opacity="0.88" filter="url(#bl1)"/><ellipse cx="43.60" cy="28.40" rx="6.80" ry="7.40" fill="#2828a8" opacity="0.88" filter="url(#bl1)"/><ellipse cx="33.40" cy="47.90" rx="7.60" ry="6.80" fill="#2828a8" opacity="0.88" filter="url(#bl1)"/><ellipse cx="71.00" cy="21.50" rx="5.00" ry="6.00" fill="#2828a8" opacity="0.88" filter="url(#bl1)"/><ellipse cx="51.50" cy="15.80" rx="2.50" ry="2.50" fill="#2828a8" opacity="0.88" filter="url(#bl1)"/><g><path d="M39.2 58.8h0M20.7 17.4h0M51.6 36.5h0M25.2 39.3h0M48.1 31.2h0M27.2 24.1h0M52.4 33.5h0M36.1 39.3h0M23.0 5.5h0M28.5 32.8h0M26.1 54.8h0M38.4 36.5h0M42.9 32.8h0M42.1 27.0h0M40.8 28.5h0M51.8 28.4h0M11.7 58.3h0M47.8 43.7h0M63.2 35.3h0M33.5 51.9h0M27.5 32.7h0M45.1 44.5h0M26.6 46.0h0M18.5 34.8h0M56.4 24.1h0M37.8 5.0h0M29.2 51.2h0M30.8 23.9h0M43.9 34.9h0M51.6 30.9h0M42.0 50.9h0M25.3 41.9h0M45.2 22.8h0M28.8 42.2h0M41.7 50.8h0M58.6 55.6h0M20.9 29.1h0M24.2 46.7h0M41.1 15.0h0M44.5 36.6h0M34.9 48.6h0M22.8 63.2h0M41.4 48.9h0M31.1 45.9h0M30.1 25.1h0M43.6 57.3h0" stroke="#3adc3a" stroke-opacity="0.75" stroke-width="1.0" stroke-linecap="round"/><path d="M34.6 36.1h0M19.5 56.5h0M64.8 11.3h0M63.2 48.0h0M37.6 69.8h0M32.9 48.0h0M38.7 38.4h0M44.0 33.6h0M32.2 62.5h0M28.2 63.3h0M20.6 42.6h0M55.6 15.0h0M35.0 61.9h0M24.7 17.6h0M31.4 53.2h0M21.7 33.6h0M21.2 25.6h0M29.4 27.1h0M8.9 31.6h0" stroke="#3adc3a" stroke-opacity="1.0" stroke-width="1.0" stroke-linecap="round"/><path d="M37.4 50.9h0M35.8 35.2h0M37.0 43.6h0M59.5 10.2h0M36.0 29.9h0M35.0 37.0h0M38.9 52.7h0M27.9 27.9h0M32.9 52.2h0M42.3 51.1h0M37.3 11.5h0M43.2 51.2h0M49.8 53.4h0M40.6 25.6h0M14.1 53.9h0M43.1 18.5h0M38.0 60.8h0M51.3 48.8h0M42.9 36.3h0M25.9 40.5h0M30.5 36.1h0M24.5 29.0h0M38.5 21.2h0M28.2 39.7h0M43.2 44.3h0M47.0 10.2h0M33.7 28.3h0M43.5 34.9h0M35.6 32.4h0" stroke="#3adc3a" stroke-opacity="0.75" stroke-width="1.5" stroke-linecap="round"/><path d="M45.6 25.4h0M42.3 35.3h0M57.8 54.2h0M36.1 45.6h0M42.3 54.5h0M55.8 42.6h0M32.3 16.3h0M48.7 29.1h0M35.1 53.3h0M44.4 42.6h0M20.4 51.1h0M51.8 52.1h0M38.6 35.5h0M15.6 29.0h0M29.2 34.0h0M50.4 35.9h0M56.9 34.6h0M46.7 17.2h0M49.7 44.4h0" stroke="#3adc3a" stroke-opacity="0.5" stroke-width="1.0" stroke-linecap="round"/><path d="M32.8 9.8h0M13.7 23.6h0M37.0 45.3h0M29.7 38.2h0M69.1 41.1h0M54.4 26.9h0M48.9 63.4h0M55.0 59.2h0M56.1 60.0h0M37.9 31.1h0M34.3 50.0h0M46.2 28.1h0" stroke="#3adc3a" stroke-opacity="1.0" stroke-width="1.5" stroke-linecap="round"/><path d="M62.7 3.9h0M31.9 64.7h0M34.6 49.9h0M43.3 54.8h0M26.3 47.4h0M8.8 54.7h0M28.9 33.5h0M25.0 47.9h0M54.3 34.2h0M39.7 22.2h0M23.2 6.2h0M32.7 54.5h0M49.8 68.4h0M36.7 54.7h0M40.9 50.9h0" stroke="#3adc3a" stroke-opacity="0.5" stroke-width="1.5" stroke-linecap="round"/></g><g><path d="M72.1 27.6h0M69.0 9.9h0M63.1 48.6h0M69.5 59.3h0M64.4 26.5h0M67.8 32.8h0M68.3 22.9h0M61.9 40.4h0M64.6 43.3h0M58.6 16.8h0M62.7 38.0h0M70.7 42.6h0M65.6 43.1h0M70.5 31.7h0" stroke="#3adc3a" stroke-opacity="0.75" stroke-width="1.5" stroke-linecap="round"/><path d="M65.2 22.2h0M60.8 46.7h0M61.8 38.0h0M62.5 40.1h0M67.9 48.1h0M65.4 41.2h0M61.7 28.3h0M67.8 20.5h0M59.6 7.1h0M67.1 37.0h0M63.8 24.5h0M58.0 23.1h0M69.5 35.7h0M62.0 63.0h0" stroke="#3adc3a" stroke-opacity="0.5" stroke-width="1.0" stroke-linecap="round"/><path d="M68.0 39.8h0M63.1 21.8h0M68.9 31.8h0M66.2 34.8h0M68.7 43.9h0M71.5 24.2h0M62.8 33.6h0M65.1 39.8h0M68.3 60.1h0M66.6 58.2h0M65.7 11.7h0M66.3 28.5h0M64.7 31.2h0M60.9 22.8h0M56.2 18.0h0M64.3 26.1h0" stroke="#3adc3a" stroke-opacity="0.75" stroke-width="1.0" stroke-linecap="round"/><path d="M68.4 36.1h0M60.2 39.9h0M71.9 41.8h0M69.5 41.3h0M65.9 40.4h0" stroke="#3adc3a" stroke-opacity="0.5" stroke-width="1.5" stroke-linecap="round"/><path d="M60.9 42.9h0M67.0 34.3h0M64.7 33.5h0M64.0 31.1h0M64.3 35.1h0M66.2 51.2h0" stroke="#3adc3a" stroke-opacity="1.0" stroke-width="1.0" stroke-linecap="round"/><path d="M70.6 33.8h0" stroke="#3adc3a" stroke-opacity="1.0" stroke-width="1.5" stroke-linecap="round"/></g><g><path d="M26.8 61.3h0M10.6 66.3h0M4.0 70.1h0M14.4 56.9h0M7.4 61.0h0M8.6 61.1h0M3.9 35.2h0M18.5 56.8h0M12.5 56.7h0M23.5 65.1h0M19.7 60.7h0" stroke="#3adc3a" stroke-opacity="0.75" stroke-width="1.0" stroke-linecap="round"/><path d="M6.6 68.9h0M3.4 44.6h0M4.7 42.1h0M8.7 65.1h0M1.0 55.8h0" stroke="#3adc3a" stroke-opacity="0.75" stroke-width="1.5" stroke-linecap="round"/><path d="M19.4 62.1h0M30.2 55.9h0M25.0 48.5h0M9.3 56.9h0M16.1 57.7h0M7.9 55.9h0M5.7 63.0h0M10.7 65.3h0M19.1 60.8h0" stroke="#3adc3a" stroke-opacity="0.5" stroke-width="1.0" stroke-linecap="round"/><path d="M21.8 69.1h0M15.1 49.1h0M5.6 49.4h0M14.1 62.3h0M0.7 66.2h0M7.5 58.5h0M11.4 63.8h0" stroke="#3adc3a" stroke-opacity="1.0" stroke-width="1.5" stroke-linecap="round"/><path d="M19.7 61.8h0M18.4 55.6h0M14.3 57.2h0M11.6 57.3h0M24.7 71.7h0" stroke="#3adc3a" stroke-opacity="1.0" stroke-width="1.0" stroke-linecap="round"/><path d="M30.1 45.6h0" stroke="#3adc3a" stroke-opacity="0.5" stroke-width="1.5" stroke-linecap="round"/></g><g><path d="M29.5 32.0h0M38.4 57.3h0M15.2 52.0h0M46.2 59.6h0M56.3 48.1h0M32.3 34.3h0M31.6 64.9h0" stroke="#d06010" stroke-opacity="0.5" stroke-width="1.0" stroke-linecap="round"/><path d="M40.6 41.3h0M43.6 46.9h0M25.0 69.2h0M20.6 53.9h0M45.3 41.9h0M45.8 42.8h0M23.3 46.2h0M26.3 64.7h0" stroke="#d06010" stroke-opacity="0.75" stroke-width="1.0" stroke-linecap="round"/><path d="M34.4 54.5h0M49.2 54.3h0M51.9 48.7h0M72.2 52.5h0" stroke="#d06010" stroke-opacity="1.0" stroke-width="1.0" stroke-linecap="round"/></g><rect x="0" y="0" width="71.3" height="71.3" filter="url(#nf4)" opacity="1"/><rect x="34.10" y="42.30" width="17.30" height="16.60" fill="none" stroke="#e8e8e8" stroke-width="0.8"/><text x="1.6" y="6.8" font-size="6.9" fill="#f4f4f4" textLength="17.0" lengthAdjust="spacingAndGlyphs">Merge</text></svg>
<svg x="270.5" y="480.0" width="71.3" height="71.3" viewBox="0 0 71.3 71.3" overflow="hidden"><rect x="0" y="0" width="71.3" height="71.3" filter="url(#nf5)" opacity="1"/><ellipse cx="62.00" cy="42.00" rx="12.00" ry="12.00" fill="#b01414" opacity="0.55" filter="url(#bl4)"/><ellipse cx="55.00" cy="8.00" rx="12.00" ry="10.00" fill="#901010" opacity="0.45" filter="url(#bl4)"/><path d="M52.00,0.00 L54.00,12.00 L53.00,25.00 L56.00,35.00" fill="none" stroke="#a01414" stroke-width="3" stroke-linejoin="round" stroke-linecap="round" opacity="0.5" filter="url(#bl1)"/><ellipse cx="9.00" cy="30.00" rx="19.00" ry="26.00" fill="#241c78" opacity="0.85" filter="url(#bl2)"/><ellipse cx="8.00" cy="48.00" rx="10.00" ry="8.00" fill="#6a1a6a" opacity="0.35" filter="url(#bl4)"/><ellipse cx="43.60" cy="16.30" rx="2.00" ry="2.00" fill="#3adc3a" opacity="1" filter="url(#bl05)"/><ellipse cx="51.50" cy="23.70" rx="1.80" ry="1.80" fill="#3adc3a" opacity="1" filter="url(#bl05)"/><ellipse cx="34.70" cy="1.00" rx="1.50" ry="1.50" fill="#3adc3a" opacity="1" filter="url(#bl05)"/><ellipse cx="21.00" cy="58.90" rx="2.50" ry="2.50" fill="#3adc3a" opacity="1" filter="url(#bl05)"/><ellipse cx="6.80" cy="64.10" rx="2.00" ry="2.00" fill="#3adc3a" opacity="1" filter="url(#bl05)"/><ellipse cx="31.50" cy="30.50" rx="1.00" ry="1.00" fill="#3adc3a" opacity="1" filter="url(#bl05)"/><ellipse cx="62.00" cy="27.30" rx="1.00" ry="1.00" fill="#3adc3a" opacity="1" filter="url(#bl05)"/><ellipse cx="60.00" cy="13.70" rx="1.80" ry="1.80" fill="#d0a020" opacity="1" filter="url(#bl05)"/><ellipse cx="67.30" cy="45.20" rx="2.00" ry="2.00" fill="#90b030" opacity="1" filter="url(#bl05)"/><ellipse cx="22.00" cy="59.00" rx="1.20" ry="1.20" fill="#e08020" opacity="1" filter="url(#bl05)"/><ellipse cx="25.00" cy="50.00" rx="0.80" ry="0.80" fill="#3adc3a" opacity="1" filter="url(#bl05)"/><ellipse cx="12.00" cy="57.00" rx="0.80" ry="0.80" fill="#3adc3a" opacity="1" filter="url(#bl05)"/><ellipse cx="48.00" cy="40.00" rx="0.80" ry="0.80" fill="#3adc3a" opacity="1" filter="url(#bl05)"/><ellipse cx="39.40" cy="27.90" rx="1.00" ry="1.00" fill="#e02020" opacity="0.8" filter="url(#bl05)"/><ellipse cx="27.30" cy="48.90" rx="1.00" ry="1.00" fill="#e02020" opacity="0.8" filter="url(#bl05)"/><ellipse cx="21.50" cy="6.30" rx="1.00" ry="1.00" fill="#e02020" opacity="0.8" filter="url(#bl05)"/><ellipse cx="46.30" cy="22.60" rx="1.00" ry="1.00" fill="#e02020" opacity="0.8" filter="url(#bl05)"/><rect x="0" y="0" width="71.3" height="71.3" filter="url(#nf6)" opacity="1"/><text x="1.6" y="6.8" font-size="6.9" fill="#f4f4f4" textLength="14.0" lengthAdjust="spacingAndGlyphs">Inset</text></svg>
<svg x="49.0" y="554.2" width="71.3" height="71.3" viewBox="0 0 71.3 71.3" overflow="hidden"><rect x="0" y="0" width="71.3" height="71.3" filter="url(#nf7)" opacity="1"/><path d="M26.00,6.00 L30.00,14.00 L36.00,20.00 L44.00,22.00 L54.00,24.00 L72.00,28.00" fill="none" stroke="#707070" stroke-width="4.5" stroke-linejoin="round" stroke-linecap="round" opacity="0.35" filter="url(#bl2)"/><path d="M26.00,6.00 L30.00,14.00 L36.00,20.00 L44.00,22.00 L54.00,24.00 L72.00,28.00" fill="none" stroke="#808080" stroke-width="1.8" stroke-linejoin="round" stroke-linecap="round" opacity="0.4" filter="url(#bl1)"/><path d="M36.00,20.00 L35.00,32.00 L38.00,42.00 L30.00,48.00 L18.00,50.00 L5.00,48.00 L0.00,46.00" fill="none" stroke="#707070" stroke-width="4.5" stroke-linejoin="round" stroke-linecap="round" opacity="0.35" filter="url(#bl2)"/><path d="M36.00,20.00 L35.00,32.00 L38.00,42.00 L30.00,48.00 L18.00,50.00 L5.00,48.00 L0.00,46.00" fill="none" stroke="#808080" stroke-width="1.8" stroke-linejoin="round" stroke-linecap="round" opacity="0.4" filter="url(#bl1)"/><path d="M12.00,48.00 L20.00,56.00 L26.00,64.00 L30.00,72.00" fill="none" stroke="#707070" stroke-width="4.5" stroke-linejoin="round" stroke-linecap="round" opacity="0.35" filter="url(#bl2)"/><path d="M12.00,48.00 L20.00,56.00 L26.00,64.00 L30.00,72.00" fill="none" stroke="#808080" stroke-width="1.8" stroke-linejoin="round" stroke-linecap="round" opacity="0.4" filter="url(#bl1)"/><path d="M50.00,40.00 L56.00,52.00 L62.00,64.00" fill="none" stroke="#707070" stroke-width="4.5" stroke-linejoin="round" stroke-linecap="round" opacity="0.35" filter="url(#bl2)"/><path d="M50.00,40.00 L56.00,52.00 L62.00,64.00" fill="none" stroke="#808080" stroke-width="1.8" stroke-linejoin="round" stroke-linecap="round" opacity="0.4" filter="url(#bl1)"/><path d="M0.00,20.00 L10.00,22.00 L20.00,18.00" fill="none" stroke="#707070" stroke-width="4.5" stroke-linejoin="round" stroke-linecap="round" opacity="0.35" filter="url(#bl2)"/><path d="M0.00,20.00 L10.00,22.00 L20.00,18.00" fill="none" stroke="#808080" stroke-width="1.8" stroke-linejoin="round" stroke-linecap="round" opacity="0.4" filter="url(#bl1)"/><g><path d="M12.4 13.0h0M58.0 40.1h0M39.5 49.5h0M47.1 67.7h0M61.9 56.9h0M46.0 41.4h0" stroke="#fff" stroke-opacity="0.5" stroke-width="1.0" stroke-linecap="round"/><path d="M44.0 30.3h0M10.9 28.9h0M49.2 25.6h0M66.1 36.6h0M45.6 15.2h0M71.0 40.0h0M19.4 31.2h0M11.9 10.3h0M58.8 67.1h0M19.6 38.2h0M63.2 29.0h0" stroke="#fff" stroke-opacity="0.25" stroke-width="0.5" stroke-linecap="round"/><path d="M37.2 24.3h0M34.1 29.4h0M39.3 41.4h0M58.8 40.8h0" stroke="#fff" stroke-opacity="0.25" stroke-width="1.0" stroke-linecap="round"/><path d="M28.3 29.0h0M6.8 28.7h0M40.5 41.8h0M42.2 36.4h0M25.5 51.5h0M51.3 45.9h0M23.8 44.2h0M15.9 41.8h0M57.7 32.7h0" stroke="#fff" stroke-opacity="0.5" stroke-width="0.5" stroke-linecap="round"/></g><rect x="0" y="0" width="71.3" height="71.3" filter="url(#nf8)" opacity="1"/><text x="1.6" y="6.8" font-size="6.9" fill="#f4f4f4" textLength="31.6" lengthAdjust="spacingAndGlyphs">EGFR-RFP</text></svg>
<svg x="123.0" y="554.2" width="71.3" height="71.3" viewBox="0 0 71.3 71.3" overflow="hidden"><rect x="0" y="0" width="71.3" height="71.3" fill="#020202" /><g><path d="M20.5 6.7h0M20.0 45.5h0M20.5 11.3h0M29.5 42.9h0M21.0 34.8h0M2.6 53.2h0M24.4 32.2h0M12.7 27.0h0M6.3 54.4h0M24.9 34.5h0M12.8 33.0h0M10.5 37.7h0M3.1 0.9h0M30.1 53.6h0M30.9 39.1h0M19.5 28.0h0M30.2 42.3h0M16.7 46.9h0M9.5 11.2h0M17.5 21.2h0M36.0 35.1h0M4.4 22.9h0M11.5 29.4h0M31.9 17.2h0M0.5 27.1h0M28.4 26.7h0M39.8 28.7h0M33.9 28.2h0M15.5 29.3h0M17.6 42.6h0M15.9 40.2h0M8.3 35.6h0M11.8 13.2h0M4.0 22.7h0M23.0 56.9h0M23.0 22.9h0M34.7 32.0h0M8.5 45.5h0M18.1 30.9h0M22.1 32.8h0M5.2 19.2h0M13.4 25.9h0M18.5 35.7h0M9.0 24.4h0M23.2 33.2h0M19.7 46.4h0M21.7 32.3h0M18.7 48.1h0M16.2 29.9h0M15.4 21.6h0M16.1 39.8h0M16.2 36.5h0M23.8 30.6h0" stroke="#fff" stroke-opacity="0.5" stroke-width="1.0" stroke-linecap="round"/><path d="M29.3 30.1h0M14.8 16.7h0M22.7 28.8h0M6.9 6.1h0M19.1 15.0h0M15.7 43.4h0M8.9 21.1h0M26.8 39.0h0M23.7 21.1h0M31.3 29.0h0M3.4 24.0h0M17.5 20.9h0M13.3 44.1h0M18.9 29.6h0M10.3 33.0h0M19.7 9.2h0M20.2 14.1h0M23.2 17.8h0M12.6 34.6h0M33.3 29.1h0M11.6 29.8h0M12.9 36.1h0M18.6 37.4h0M0.4 36.5h0M20.1 32.8h0M8.0 26.9h0M15.5 26.1h0M26.2 27.4h0M6.8 41.3h0M15.6 19.4h0M25.0 48.7h0M20.1 25.1h0M21.9 14.4h0M18.4 42.9h0M7.4 21.1h0M28.6 9.0h0M17.0 43.7h0M17.5 26.0h0M19.7 48.8h0M34.7 31.2h0M17.5 56.7h0M17.1 45.5h0M6.6 8.8h0M18.4 15.8h0M30.3 29.3h0M17.6 33.6h0M24.6 27.2h0M7.1 21.4h0M11.5 10.9h0" stroke="#fff" stroke-opacity="0.75" stroke-width="1.0" stroke-linecap="round"/><path d="M5.2 45.9h0M27.4 24.8h0M11.1 30.7h0M13.1 31.4h0M26.9 43.4h0M18.0 26.3h0M13.2 25.8h0M6.4 15.3h0M17.7 16.1h0M30.7 35.4h0M24.4 32.5h0M15.9 36.9h0M15.3 15.7h0M12.9 31.3h0M6.6 42.1h0M4.1 47.6h0M14.4 12.7h0M12.4 36.5h0M7.0 17.9h0M20.3 25.3h0M6.6 40.3h0M23.4 23.2h0M7.7 28.9h0M14.6 52.6h0M9.1 20.8h0M10.6 39.8h0M11.3 22.0h0M10.1 13.5h0M18.2 25.9h0M6.6 23.7h0M19.8 41.0h0M7.0 38.8h0M4.7 23.5h0M24.4 39.7h0M14.4 24.5h0M16.2 37.3h0M28.2 45.6h0M11.9 28.5h0M24.8 13.9h0M18.9 18.1h0M17.2 26.0h0M24.1 25.0h0M20.0 37.8h0M0.3 36.8h0M30.9 34.4h0M27.9 12.5h0M14.6 28.1h0" stroke="#fff" stroke-opacity="0.75" stroke-width="0.5" stroke-linecap="round"/><path d="M7.4 14.1h0M19.0 18.2h0M8.1 32.3h0M7.7 15.9h0M29.2 31.8h0M26.1 14.2h0" stroke="#fff" stroke-opacity="1.0" stroke-width="1.0" stroke-linecap="round"/><path d="M25.9 42.8h0M0.3 31.8h0M21.7 0.6h0M21.4 31.6h0M22.5 45.6h0M22.5 46.7h0M17.5 26.3h0M15.4 31.0h0M6.5 11.2h0M10.6 28.2h0M17.9 40.7h0M21.2 24.0h0M15.1 38.0h0M11.6 24.4h0M24.3 32.1h0M7.4 20.2h0M17.5 12.3h0M28.8 5.1h0M23.6 30.1h0M10.0 35.1h0M18.5 36.2h0M31.1 23.4h0M18.9 33.9h0" stroke="#fff" stroke-opacity="0.25" stroke-width="0.5" stroke-linecap="round"/><path d="M15.5 28.0h0M14.9 44.7h0M23.7 44.4h0M25.3 27.1h0M14.0 34.3h0M6.4 25.8h0M16.6 30.4h0M-1.0 34.6h0M4.9 14.5h0M25.5 41.2h0M37.5 48.8h0M18.2 24.8h0M14.0 10.0h0M10.5 47.4h0M23.4 39.0h0M19.5 26.4h0M22.7 38.9h0M11.9 46.3h0M12.6 30.6h0M15.0 31.8h0M10.0 31.6h0M13.1 22.6h0M1.7 38.1h0M20.2 31.1h0M14.1 32.0h0M22.2 24.9h0M27.8 29.3h0M28.8 30.6h0M16.9 31.9h0M28.2 26.6h0M8.7 35.0h0M22.6 27.7h0M17.0 25.4h0" stroke="#fff" stroke-opacity="0.25" stroke-width="1.0" stroke-linecap="round"/><path d="M9.6 39.0h0M34.6 30.3h0M6.2 24.2h0M9.8 35.8h0M13.1 35.7h0M11.6 23.7h0M5.6 40.8h0M5.6 27.8h0" stroke="#fff" stroke-opacity="1.0" stroke-width="0.5" stroke-linecap="round"/><path d="M24.6 42.1h0M9.7 23.1h0M5.9 30.8h0M25.8 37.1h0M20.3 38.6h0M11.1 36.0h0M23.9 22.8h0M19.0 40.7h0M23.0 37.3h0M9.7 9.4h0M9.9 24.4h0M26.3 62.5h0M28.3 50.6h0M7.0 32.6h0M13.9 25.4h0M16.0 30.6h0M22.2 31.4h0M13.6 23.8h0M2.4 50.3h0M10.8 44.4h0M20.4 49.2h0M10.3 49.1h0M15.2 28.8h0M14.6 30.4h0M32.8 25.0h0M25.3 12.9h0M28.5 45.7h0M33.4 46.8h0M4.2 61.6h0M16.6 25.1h0M18.5 41.4h0M9.1 8.4h0" stroke="#fff" stroke-opacity="0.5" stroke-width="0.5" stroke-linecap="round"/></g><g><path d="M51.6 26.5h0M44.9 21.6h0M34.8 56.1h0M52.4 10.2h0M19.3 59.1h0M57.6 11.0h0M46.3 56.8h0M54.7 57.0h0M53.3 53.0h0M57.7 40.6h0M32.3 34.3h0M29.6 31.2h0M54.1 59.1h0M37.5 28.9h0M53.6 40.8h0M62.2 31.4h0M55.1 15.3h0M68.7 23.7h0M29.5 42.2h0M46.3 40.0h0M61.8 13.8h0M33.6 50.1h0M43.9 38.6h0M23.0 34.3h0M24.9 33.8h0M48.2 17.4h0M48.0 3.7h0M48.9 28.8h0M63.2 20.1h0M26.4 37.7h0" stroke="#fff" stroke-opacity="0.5" stroke-width="1.0" stroke-linecap="round"/><path d="M47.2 23.7h0M58.0 15.6h0M41.1 56.0h0M54.6 70.4h0M14.7 27.2h0M7.2 8.1h0M20.9 42.7h0M25.4 37.0h0M40.3 66.9h0M56.0 20.6h0M46.4 14.6h0M14.0 43.3h0M33.4 57.4h0M63.9 18.0h0M24.5 40.7h0M45.5 39.8h0M22.1 54.1h0M43.3 28.3h0M50.0 33.7h0M49.8 51.6h0M55.4 56.9h0M22.6 34.0h0M41.8 69.9h0M58.4 18.9h0M29.5 35.5h0M34.5 10.1h0M30.4 3.1h0M51.5 67.2h0M67.4 21.1h0M56.0 31.5h0" stroke="#fff" stroke-opacity="0.5" stroke-width="0.5" stroke-linecap="round"/><path d="M59.1 46.9h0M22.6 45.0h0M43.5 58.2h0M15.3 47.4h0M41.3 29.1h0M-0.4 5.0h0M38.3 33.2h0M27.9 29.3h0M18.9 25.2h0M60.8 48.9h0M31.0 42.8h0M33.7 28.0h0M40.6 23.4h0M59.5 38.4h0M45.9 38.0h0M42.8 47.2h0M37.3 36.0h0M65.9 54.9h0M66.2 35.5h0M40.5 64.0h0M27.3 38.9h0M46.0 27.3h0M66.8 26.9h0M42.3 42.2h0M52.2 55.9h0M45.3 44.5h0M60.1 27.0h0M20.7 62.6h0M14.0 2.7h0M44.6 32.0h0M18.3 50.2h0M50.9 57.3h0M21.5 34.9h0" stroke="#fff" stroke-opacity="0.25" stroke-width="0.5" stroke-linecap="round"/><path d="M42.6 35.5h0M11.2 56.4h0M54.8 28.4h0M28.7 23.9h0M56.0 37.3h0M31.5 44.9h0M50.4 34.7h0M23.1 44.4h0M48.5 21.7h0M50.6 7.7h0M66.0 37.6h0M36.8 30.2h0M43.3 33.8h0M33.4 42.8h0M45.1 49.2h0M36.7 71.9h0M41.8 48.5h0M57.0 26.7h0M48.4 52.6h0M58.6 38.8h0M25.1 40.8h0M42.9 6.3h0M62.8 51.3h0M41.6 71.4h0M55.1 54.8h0M11.3 36.2h0M37.6 29.4h0M26.7 32.2h0M49.5 12.4h0M44.2 27.6h0M9.6 47.6h0" stroke="#fff" stroke-opacity="0.25" stroke-width="1.0" stroke-linecap="round"/></g><text x="1.6" y="6.8" font-size="6.9" fill="#f4f4f4" textLength="37.6" lengthAdjust="spacingAndGlyphs">LAMP1-SNAP</text></svg>
<svg x="197.1" y="554.2" width="71.3" height="71.3" viewBox="0 0 71.3 71.3" overflow="hidden"><rect x="0" y="0" width="71.3" height="71.3" filter="url(#nf9)" opacity="1"/><path d="M24.00,10.00 L34.70,15.80 L44.00,20.00 L55.70,24.20 L72.00,27.30" fill="none" stroke="#d01c1c" stroke-width="5" stroke-linejoin="round" stroke-linecap="round" opacity="0.35" filter="url(#bl2)"/><path d="M24.00,10.00 L34.70,15.80 L44.00,20.00 L55.70,24.20 L72.00,27.30" fill="none" stroke="#d42020" stroke-width="2.0" stroke-linejoin="round" stroke-linecap="round" opacity="0.45" filter="url(#bl1)"/><path d="M0.00,44.00 L15.80,46.30 L34.70,43.00 L41.00,34.70 L40.00,22.00" fill="none" stroke="#d01c1c" stroke-width="5" stroke-linejoin="round" stroke-linecap="round" opacity="0.35" filter="url(#bl2)"/><path d="M0.00,44.00 L15.80,46.30 L34.70,43.00 L41.00,34.70 L40.00,22.00" fill="none" stroke="#d42020" stroke-width="2.0" stroke-linejoin="round" stroke-linecap="round" opacity="0.45" filter="url(#bl1)"/><path d="M58.90,3.20 L72.00,7.40" fill="none" stroke="#d01c1c" stroke-width="5" stroke-linejoin="round" stroke-linecap="round" opacity="0.35" filter="url(#bl2)"/><path d="M58.90,3.20 L72.00,7.40" fill="none" stroke="#d42020" stroke-width="2.0" stroke-linejoin="round" stroke-linecap="round" opacity="0.45" filter="url(#bl1)"/><path d="M10.00,48.00 L18.00,58.00 L26.00,72.00" fill="none" stroke="#d01c1c" stroke-width="5" stroke-linejoin="round" stroke-linecap="round" opacity="0.35" filter="url(#bl2)"/><path d="M10.00,48.00 L18.00,58.00 L26.00,72.00" fill="none" stroke="#d42020" stroke-width="2.0" stroke-linejoin="round" stroke-linecap="round" opacity="0.45" filter="url(#bl1)"/><path d="M0.00,18.00 L8.00,20.00 L16.00,16.00" fill="none" stroke="#d01c1c" stroke-width="5" stroke-linejoin="round" stroke-linecap="round" opacity="0.35" filter="url(#bl2)"/><path d="M0.00,18.00 L8.00,20.00 L16.00,16.00" fill="none" stroke="#d42020" stroke-width="2.0" stroke-linejoin="round" stroke-linecap="round" opacity="0.45" filter="url(#bl1)"/><path d="M44.00,50.00 L52.00,58.00 L60.00,62.00 L72.00,60.00" fill="none" stroke="#d01c1c" stroke-width="5" stroke-linejoin="round" stroke-linecap="round" opacity="0.35" filter="url(#bl2)"/><path d="M44.00,50.00 L52.00,58.00 L60.00,62.00 L72.00,60.00" fill="none" stroke="#d42020" stroke-width="2.0" stroke-linejoin="round" stroke-linecap="round" opacity="0.45" filter="url(#bl1)"/><ellipse cx="4.00" cy="4.00" rx="5.50" ry="5.50" fill="#3434c0" opacity="0.55" filter="url(#bl1)"/><ellipse cx="50.00" cy="10.00" rx="6.80" ry="6.80" fill="#3434c0" opacity="0.55" filter="url(#bl1)"/><ellipse cx="22.30" cy="25.20" rx="6.50" ry="8.40" fill="#3434c0" opacity="0.55" filter="url(#bl1)"/><ellipse cx="56.80" cy="43.40" rx="6.30" ry="7.00" fill="#3434c0" opacity="0.55" filter="url(#bl1)"/><ellipse cx="39.40" cy="61.30" rx="7.90" ry="6.00" fill="#3434c0" opacity="0.55" filter="url(#bl1)"/><ellipse cx="8.00" cy="67.00" rx="7.00" ry="6.00" fill="#3434c0" opacity="0.55" filter="url(#bl1)"/><g><path d="M15.7 38.1h0M2.8 11.1h0M20.7 31.4h0M23.0 46.4h0M17.0 22.2h0M0.9 1.8h0M6.2 51.3h0M5.6 30.4h0M14.1 39.9h0M39.9 36.3h0M10.0 50.7h0M0.3 48.9h0M1.3 41.8h0M16.3 31.7h0M3.9 24.3h0M12.2 8.7h0M22.2 61.1h0M17.7 29.7h0M34.4 41.7h0" stroke="#78d23a" stroke-opacity="0.5" stroke-width="1.0" stroke-linecap="round"/><path d="M9.6 29.4h0M20.8 36.7h0M14.0 20.5h0M4.9 34.9h0M20.2 37.2h0M10.9 39.6h0M24.9 38.8h0M25.2 33.7h0M18.0 18.3h0M17.9 42.0h0M17.4 44.5h0M16.2 16.9h0M3.2 24.8h0M24.0 35.9h0M22.1 7.0h0M23.6 37.8h0M20.9 23.6h0M14.4 20.3h0M7.3 15.9h0" stroke="#78d23a" stroke-opacity="0.75" stroke-width="0.5" stroke-linecap="round"/><path d="M27.3 35.0h0M3.0 42.3h0M14.9 30.7h0M4.8 41.9h0M7.9 43.7h0M25.6 10.3h0M20.9 39.8h0M12.0 27.0h0M21.1 33.7h0M16.4 35.3h0M14.2 27.5h0M7.9 34.9h0M27.1 18.0h0M26.2 28.8h0M34.1 32.5h0M20.6 26.5h0M35.0 30.6h0M9.8 30.9h0M5.4 24.0h0" stroke="#78d23a" stroke-opacity="0.5" stroke-width="0.5" stroke-linecap="round"/><path d="M10.7 34.9h0M18.4 47.7h0M31.0 36.3h0M23.5 24.7h0M9.3 25.6h0M22.7 38.6h0M26.6 38.4h0M10.1 43.4h0M30.6 19.7h0M25.7 49.9h0M27.8 14.6h0M20.0 39.7h0M23.5 20.4h0M29.4 41.0h0M21.6 36.9h0M28.2 49.8h0M30.8 28.8h0M12.0 42.6h0M0.3 44.8h0M18.1 41.7h0M9.9 22.7h0M7.4 36.4h0M26.0 33.2h0M17.4 38.3h0" stroke="#78d23a" stroke-opacity="0.75" stroke-width="1.0" stroke-linecap="round"/><path d="M15.0 36.6h0M16.0 31.2h0M14.9 39.5h0M27.4 28.5h0M15.3 26.4h0M42.0 45.7h0" stroke="#78d23a" stroke-opacity="1.0" stroke-width="1.0" stroke-linecap="round"/><path d="M19.6 46.3h0M11.3 44.2h0" stroke="#78d23a" stroke-opacity="0.25" stroke-width="0.5" stroke-linecap="round"/></g><g><path d="M1.1 26.5h0M26.9 37.8h0M38.0 42.8h0M26.3 49.4h0M66.7 52.7h0M28.7 14.7h0M20.0 37.9h0" stroke="#78d23a" stroke-opacity="0.25" stroke-width="0.5" stroke-linecap="round"/><path d="M51.5 43.8h0M37.6 17.3h0M5.9 41.1h0M37.3 53.1h0M33.8 55.7h0M19.0 43.4h0M54.1 40.4h0M43.7 41.0h0M32.2 3.8h0M38.9 26.3h0M22.3 40.7h0M37.4 38.8h0" stroke="#78d23a" stroke-opacity="0.5" stroke-width="0.5" stroke-linecap="round"/><path d="M40.9 25.1h0M17.7 39.6h0M42.7 15.2h0" stroke="#78d23a" stroke-opacity="0.25" stroke-width="1.0" stroke-linecap="round"/><path d="M47.8 36.6h0M21.3 68.4h0M69.8 57.5h0M21.0 28.7h0M50.2 39.0h0M59.7 24.1h0M16.4 30.9h0M38.5 40.1h0M48.3 51.0h0M27.0 15.6h0" stroke="#78d23a" stroke-opacity="0.5" stroke-width="1.0" stroke-linecap="round"/><path d="M50.7 56.3h0M62.3 36.1h0M51.4 52.6h0" stroke="#78d23a" stroke-opacity="0.75" stroke-width="0.5" stroke-linecap="round"/><path d="M54.0 56.8h0M51.3 8.3h0M38.4 27.9h0" stroke="#78d23a" stroke-opacity="0.75" stroke-width="1.0" stroke-linecap="round"/></g><rect x="0" y="0" width="71.3" height="71.3" filter="url(#nf10)" opacity="1"/><rect x="22.10" y="23.10" width="16.90" height="17.20" fill="none" stroke="#e8e8e8" stroke-width="0.8"/><text x="1.6" y="6.8" font-size="6.9" fill="#f4f4f4" textLength="17.0" lengthAdjust="spacingAndGlyphs">Merge</text></svg>
<svg x="270.5" y="554.2" width="71.3" height="71.3" viewBox="0 0 71.3 71.3" overflow="hidden"><rect x="0" y="0" width="71.3" height="71.3" filter="url(#nf11)" opacity="1"/><ellipse cx="62.00" cy="14.00" rx="12.00" ry="16.00" fill="#d01c1c" opacity="0.75" filter="url(#bl4)"/><ellipse cx="62.00" cy="45.00" rx="10.00" ry="20.00" fill="#c01818" opacity="0.45" filter="url(#bl4)"/><path d="M0.00,0.00 L30.00,0.00 L28.00,15.00 L24.00,28.00 L20.00,40.00 L10.00,44.00 L0.00,42.00 Z" fill="#2c2090" opacity="0.65" filter="url(#bl2)"/><ellipse cx="32.60" cy="8.40" rx="2.00" ry="2.00" fill="#3adc3a" opacity="1" filter="url(#bl05)"/><ellipse cx="40.00" cy="11.60" rx="1.80" ry="1.80" fill="#b0c020" opacity="1" filter="url(#bl05)"/><ellipse cx="23.70" cy="36.80" rx="1.60" ry="1.60" fill="#3adc3a" opacity="1" filter="url(#bl05)"/><ellipse cx="10.00" cy="57.30" rx="2.00" ry="2.00" fill="#3adc3a" opacity="1" filter="url(#bl05)"/><ellipse cx="3.20" cy="49.40" rx="1.50" ry="1.50" fill="#3adc3a" opacity="1" filter="url(#bl05)"/><ellipse cx="36.30" cy="54.70" rx="2.00" ry="2.00" fill="#b0c020" opacity="1" filter="url(#bl05)"/><ellipse cx="30.00" cy="65.70" rx="1.30" ry="1.30" fill="#3adc3a" opacity="1" filter="url(#bl05)"/><ellipse cx="44.70" cy="34.70" rx="1.30" ry="1.30" fill="#3adc3a" opacity="1" filter="url(#bl05)"/><ellipse cx="48.90" cy="33.60" rx="1.00" ry="1.00" fill="#3adc3a" opacity="1" filter="url(#bl05)"/><ellipse cx="54.70" cy="51.50" rx="1.00" ry="1.00" fill="#3adc3a" opacity="1" filter="url(#bl05)"/><ellipse cx="11.60" cy="50.50" rx="1.20" ry="1.20" fill="#3adc3a" opacity="1" filter="url(#bl05)"/><ellipse cx="13.70" cy="54.20" rx="1.20" ry="1.20" fill="#3adc3a" opacity="1" filter="url(#bl05)"/><ellipse cx="28.00" cy="20.00" rx="0.80" ry="0.80" fill="#3adc3a" opacity="1" filter="url(#bl05)"/><ellipse cx="40.00" cy="44.00" rx="0.80" ry="0.80" fill="#3adc3a" opacity="1" filter="url(#bl05)"/><ellipse cx="20.00" cy="62.00" rx="0.80" ry="0.80" fill="#3adc3a" opacity="1" filter="url(#bl05)"/><ellipse cx="19.50" cy="57.30" rx="1.10" ry="1.10" fill="#f02020" opacity="0.8" filter="url(#bl05)"/><ellipse cx="7.90" cy="57.80" rx="1.10" ry="1.10" fill="#f02020" opacity="0.8" filter="url(#bl05)"/><ellipse cx="32.00" cy="38.40" rx="1.10" ry="1.10" fill="#f02020" opacity="0.8" filter="url(#bl05)"/><g><path d="M47.5 63.4h0M39.9 54.7h0M9.6 69.3h0M5.2 49.1h0M44.6 50.8h0M31.3 39.1h0M45.2 59.0h0M20.9 51.2h0" stroke="#60d040" stroke-opacity="0.5" stroke-width="0.5" stroke-linecap="round"/><path d="M41.0 50.0h0M50.5 56.4h0M17.1 65.6h0M7.3 40.8h0M31.9 62.2h0M38.8 50.7h0M56.4 45.6h0M23.8 51.8h0M22.0 51.8h0M26.1 36.8h0M30.7 35.8h0M32.5 64.5h0" stroke="#60d040" stroke-opacity="0.5" stroke-width="1.0" stroke-linecap="round"/><path d="M12.1 54.1h0M47.5 45.4h0M11.2 47.4h0M18.8 59.6h0" stroke="#60d040" stroke-opacity="0.75" stroke-width="0.5" stroke-linecap="round"/><path d="M1.2 64.2h0M8.3 65.9h0M4.9 49.4h0M29.4 38.8h0M35.6 42.9h0M31.6 57.9h0M26.1 31.4h0" stroke="#60d040" stroke-opacity="0.25" stroke-width="1.0" stroke-linecap="round"/><path d="M47.2 40.8h0M40.5 38.2h0M38.1 69.5h0M18.8 44.8h0" stroke="#60d040" stroke-opacity="0.25" stroke-width="0.5" stroke-linecap="round"/><path d="M50.0 60.6h0M22.3 54.4h0" stroke="#60d040" stroke-opacity="0.75" stroke-width="1.0" stroke-linecap="round"/></g><rect x="0" y="0" width="71.3" height="71.3" filter="url(#nf12)" opacity="1"/><text x="1.6" y="6.8" font-size="6.9" fill="#f4f4f4" textLength="14.0" lengthAdjust="spacingAndGlyphs">Inset</text></svg>
<svg x="49.0" y="628.5" width="71.3" height="71.3" viewBox="0 0 71.3 71.3" overflow="hidden"><rect x="0" y="0" width="71.3" height="71.3" filter="url(#nf13)" opacity="1"/><ellipse cx="30.00" cy="30.00" rx="22.00" ry="18.00" fill="#555" opacity="0.4" filter="url(#bl4)"/><g><path d="M21.2 34.5h0M40.7 39.7h0M32.9 65.7h0M31.7 24.2h0M48.4 30.9h0M29.2 24.1h0M63.9 44.9h0M38.4 9.0h0M45.1 49.2h0M65.7 38.9h0M15.7 34.6h0M22.4 60.2h0M54.5 41.5h0" stroke="#fff" stroke-opacity="0.5" stroke-width="0.5" stroke-linecap="round"/><path d="M63.6 31.0h0M33.7 9.0h0M53.3 39.9h0M60.8 33.1h0M22.3 39.7h0M27.7 6.3h0M36.6 28.3h0M48.3 8.1h0M24.3 41.3h0M33.9 19.4h0M61.8 43.2h0M10.2 39.4h0M27.9 27.8h0M46.2 26.0h0M30.0 60.5h0M44.4 67.0h0" stroke="#fff" stroke-opacity="0.25" stroke-width="1.0" stroke-linecap="round"/><path d="M13.9 20.7h0M10.9 11.4h0M32.4 34.0h0M44.9 25.4h0M40.7 32.5h0M64.0 38.5h0M42.3 57.4h0M17.1 62.7h0M27.3 35.6h0M67.2 27.6h0M33.3 38.7h0M57.1 14.0h0M42.7 16.1h0M15.3 36.9h0M59.2 13.9h0M33.1 9.1h0M43.8 26.2h0M31.1 11.6h0M30.2 22.1h0" stroke="#fff" stroke-opacity="0.25" stroke-width="0.5" stroke-linecap="round"/><path d="M50.2 29.9h0M49.2 22.1h0" stroke="#fff" stroke-opacity="0.5" stroke-width="1.0" stroke-linecap="round"/></g><rect x="0" y="0" width="71.3" height="71.3" filter="url(#nf14)" opacity="1"/><text x="1.6" y="6.8" font-size="6.9" fill="#f4f4f4" textLength="31.6" lengthAdjust="spacingAndGlyphs">EGFR-RFP</text></svg>
<svg x="123.0" y="628.5" width="71.3" height="71.3" viewBox="0 0 71.3 71.3" overflow="hidden"><rect x="0" y="0" width="71.3" height="71.3" fill="#030303" /><g><path d="M14.6 8.8h0M19.6 15.9h0M35.5 12.1h0M32.9 8.9h0M40.7 23.0h0M12.6 1.6h0M24.0 10.5h0M44.1 11.6h0M16.3 4.7h0M15.7 21.5h0M32.4 23.4h0M19.8 17.7h0M39.8 23.6h0M36.8 20.9h0M31.9 11.3h0M41.4 24.8h0M17.7 6.0h0M30.6 18.4h0M40.9 14.2h0M30.7 17.8h0M37.1 18.7h0M20.5 10.6h0M10.6 5.8h0M31.7 15.9h0M13.2 3.8h0M31.9 1.3h0M43.1 14.8h0" stroke="#fff" stroke-opacity="0.5" stroke-width="1.0" stroke-linecap="round"/><path d="M38.1 -0.0h0M64.7 10.0h0M33.5 16.2h0M22.5 10.0h0M31.1 15.2h0M39.4 11.3h0M26.0 13.9h0M31.6 5.6h0M39.4 13.9h0M23.2 14.0h0M14.0 5.5h0M39.5 20.8h0M36.5 6.7h0M48.0 20.9h0" stroke="#fff" stroke-opacity="0.25" stroke-width="1.0" stroke-linecap="round"/><path d="M15.6 11.2h0M50.3 11.5h0M10.6 0.1h0M54.5 13.4h0M10.5 18.4h0M0.9 5.6h0M33.6 5.6h0M29.8 10.4h0M16.2 10.1h0" stroke="#fff" stroke-opacity="1.0" stroke-width="0.5" stroke-linecap="round"/><path d="M32.2 12.0h0M2.2 12.3h0M15.9 8.5h0M28.9 20.5h0M16.1 16.3h0M33.9 16.2h0M57.3 12.0h0M22.3 4.0h0M17.7 10.1h0M12.2 13.2h0M37.3 12.5h0M2.5 6.5h0M31.5 12.0h0M45.1 23.1h0M28.2 17.3h0M17.7 3.7h0M47.2 14.1h0M36.9 0.0h0M28.3 4.6h0M15.2 4.9h0M26.5 16.8h0M34.8 10.6h0M44.7 10.4h0M16.4 13.7h0M68.0 6.8h0M27.1 12.5h0M29.5 12.4h0M25.5 11.1h0M15.5 13.9h0" stroke="#fff" stroke-opacity="0.75" stroke-width="1.0" stroke-linecap="round"/><path d="M19.9 2.5h0M8.0 23.2h0M19.0 14.7h0M19.4 18.1h0M24.8 13.0h0M29.2 2.2h0M46.7 25.3h0M39.2 5.4h0M32.5 16.2h0M20.2 13.0h0M32.2 14.5h0M19.6 25.0h0M39.0 1.3h0M39.4 4.6h0M41.0 22.3h0M38.1 13.4h0M27.5 16.1h0M4.5 14.0h0M25.7 4.2h0" stroke="#fff" stroke-opacity="0.75" stroke-width="0.5" stroke-linecap="round"/><path d="M23.3 13.0h0M19.6 12.3h0M12.8 11.9h0M23.3 5.0h0M2.6 17.5h0M57.6 16.4h0M21.3 8.6h0M32.5 5.2h0M31.1 14.7h0M14.5 8.7h0M2.8 10.2h0M31.9 15.6h0M28.2 4.1h0M26.1 5.5h0M32.6 12.4h0M46.9 13.7h0M26.7 8.4h0M9.1 16.1h0M28.4 16.1h0M49.2 15.3h0M16.4 13.2h0M22.7 7.6h0" stroke="#fff" stroke-opacity="1.0" stroke-width="1.0" stroke-linecap="round"/><path d="M22.0 17.4h0M33.9 13.0h0M2.0 3.2h0M42.1 4.6h0M32.0 13.3h0M11.4 11.7h0M29.3 10.9h0M26.8 2.4h0M13.5 9.2h0M22.8 15.8h0M45.5 19.0h0M37.8 16.9h0M24.5 14.0h0M27.0 9.0h0M18.6 20.1h0M0.1 15.4h0M19.5 5.6h0M32.8 6.5h0M19.5 23.2h0" stroke="#fff" stroke-opacity="0.5" stroke-width="0.5" stroke-linecap="round"/><path d="M36.1 14.2h0M12.5 16.3h0M1.6 15.8h0" stroke="#fff" stroke-opacity="0.25" stroke-width="0.5" stroke-linecap="round"/></g><g><path d="M38.2 26.1h0M67.4 35.3h0M50.7 26.6h0M42.1 20.3h0M46.5 21.8h0M42.3 25.5h0M60.3 21.4h0M59.2 37.3h0M53.1 49.0h0M50.8 26.5h0M44.0 27.6h0M47.9 46.9h0M43.1 22.1h0M56.1 44.3h0M64.2 36.3h0M40.9 55.9h0M61.0 61.1h0M53.1 24.0h0M54.3 16.8h0" stroke="#fff" stroke-opacity="0.75" stroke-width="0.5" stroke-linecap="round"/><path d="M58.1 47.7h0M56.9 46.7h0M45.6 40.0h0M62.0 25.6h0M52.5 21.2h0M45.1 10.0h0M43.6 30.7h0M51.8 47.7h0M51.1 42.8h0M68.9 36.5h0M50.5 32.6h0M63.2 40.3h0M57.9 22.9h0M62.3 26.1h0M60.2 17.0h0M46.2 38.9h0M36.3 34.7h0M60.5 30.1h0M49.2 37.9h0M52.8 32.5h0M38.3 34.5h0M55.8 33.2h0M62.3 35.7h0M53.9 50.7h0M67.0 45.6h0M51.6 40.7h0M48.3 44.9h0M37.3 28.3h0M60.7 26.7h0M63.7 14.7h0M46.4 22.5h0M52.0 48.6h0M45.9 36.7h0M58.4 33.8h0M40.4 46.4h0" stroke="#fff" stroke-opacity="0.5" stroke-width="1.0" stroke-linecap="round"/><path d="M53.7 28.2h0M31.6 37.3h0M65.1 43.6h0M64.7 37.6h0M57.3 34.1h0M53.1 34.3h0M54.1 51.5h0M37.7 15.9h0M38.7 32.4h0M45.0 39.6h0M60.8 35.1h0M38.1 15.8h0M59.6 29.6h0M58.3 26.0h0" stroke="#fff" stroke-opacity="1.0" stroke-width="1.0" stroke-linecap="round"/><path d="M24.5 38.4h0M46.5 14.2h0M52.6 14.2h0M50.9 16.6h0M57.9 53.8h0M34.3 19.6h0M54.4 27.5h0M63.0 25.1h0M54.3 32.9h0M59.2 27.2h0M56.3 31.2h0M52.7 35.2h0M48.4 42.6h0M53.3 39.7h0M47.2 32.3h0M24.6 40.2h0M49.7 55.6h0M57.7 37.3h0M44.1 64.1h0M59.4 23.6h0M52.5 40.5h0M41.4 48.1h0M34.6 53.0h0M46.5 44.9h0M55.3 27.5h0M55.9 29.6h0M60.8 24.6h0M61.7 40.5h0M53.7 21.2h0M54.5 17.3h0M46.6 37.3h0M26.4 47.9h0M49.2 15.0h0M65.2 34.8h0" stroke="#fff" stroke-opacity="0.75" stroke-width="1.0" stroke-linecap="round"/><path d="M68.4 21.8h0M50.1 40.0h0M66.8 26.2h0M50.6 46.8h0M50.0 29.2h0M64.7 27.1h0M40.7 48.8h0M48.9 40.3h0M52.0 52.2h0M43.0 42.8h0M53.2 46.1h0" stroke="#fff" stroke-opacity="1.0" stroke-width="0.5" stroke-linecap="round"/><path d="M41.4 42.8h0M64.7 44.2h0M52.6 34.7h0M60.3 26.9h0M42.8 29.3h0M52.0 11.9h0" stroke="#fff" stroke-opacity="0.25" stroke-width="0.5" stroke-linecap="round"/><path d="M59.5 44.3h0M43.6 29.0h0M49.5 46.7h0M60.5 33.9h0M46.5 60.1h0M60.5 40.6h0M51.8 47.9h0M48.4 55.4h0M58.7 48.6h0M65.3 28.3h0M53.9 18.8h0M47.1 37.4h0M43.9 33.1h0M57.6 25.0h0" stroke="#fff" stroke-opacity="0.25" stroke-width="1.0" stroke-linecap="round"/><path d="M63.7 25.3h0M39.7 32.6h0M49.3 33.6h0M59.9 52.0h0M57.2 26.3h0M53.9 29.0h0M59.3 20.4h0M33.7 25.0h0M52.5 30.5h0M34.0 17.4h0M52.6 49.6h0M43.1 21.5h0M45.7 12.8h0M52.6 37.4h0M55.7 18.2h0M41.1 41.4h0" stroke="#fff" stroke-opacity="0.5" stroke-width="0.5" stroke-linecap="round"/></g><g><path d="M32.2 62.2h0M10.3 50.6h0M12.9 34.3h0M0.8 25.5h0M20.4 27.7h0M20.8 27.4h0M5.4 52.6h0M25.2 33.8h0M15.8 43.6h0M20.6 53.1h0M16.9 71.7h0M29.9 49.2h0" stroke="#fff" stroke-opacity="0.75" stroke-width="0.5" stroke-linecap="round"/><path d="M29.5 31.8h0M26.1 68.7h0M23.4 27.4h0M12.7 42.6h0M38.2 49.2h0M15.6 35.8h0M23.1 14.0h0M34.9 42.2h0M21.0 45.7h0M24.9 44.0h0" stroke="#fff" stroke-opacity="0.25" stroke-width="0.5" stroke-linecap="round"/><path d="M15.5 40.3h0M0.0 33.7h0M20.7 39.2h0M29.5 52.2h0M18.1 21.6h0M34.2 25.4h0M28.3 47.5h0M11.3 40.2h0M33.0 39.9h0M14.0 58.3h0M24.2 35.5h0M15.5 30.9h0M20.1 51.1h0M7.2 47.9h0M35.0 50.2h0M17.1 24.8h0M19.1 38.4h0" stroke="#fff" stroke-opacity="0.5" stroke-width="1.0" stroke-linecap="round"/><path d="M24.1 27.4h0M29.3 22.2h0M18.0 37.0h0M9.4 59.3h0M15.8 47.7h0M42.9 45.1h0M19.2 18.6h0M9.4 56.6h0M21.7 65.9h0M21.6 23.5h0M7.7 39.2h0M31.4 51.0h0M31.4 65.3h0" stroke="#fff" stroke-opacity="0.5" stroke-width="0.5" stroke-linecap="round"/><path d="M10.7 46.3h0M26.8 53.7h0M16.8 29.6h0M9.6 47.4h0M28.2 26.8h0M18.0 70.4h0M8.3 36.1h0M0.3 41.8h0M8.0 49.5h0M10.6 47.7h0M25.8 41.8h0M35.9 53.7h0M14.6 50.7h0M10.1 44.4h0M40.3 38.2h0M21.6 44.2h0M13.8 43.3h0" stroke="#fff" stroke-opacity="0.25" stroke-width="1.0" stroke-linecap="round"/><path d="M42.0 44.4h0M32.3 65.4h0M9.3 54.0h0M11.7 57.3h0M10.1 57.7h0M23.8 37.0h0M45.1 41.0h0" stroke="#fff" stroke-opacity="0.75" stroke-width="1.0" stroke-linecap="round"/></g><ellipse cx="50.00" cy="36.00" rx="12.00" ry="14.00" fill="#fff" opacity="0.06" filter="url(#bl4)"/><text x="1.6" y="6.8" font-size="6.9" fill="#f4f4f4" textLength="37.6" lengthAdjust="spacingAndGlyphs">LAMP1-SNAP</text></svg>
<svg x="197.1" y="628.5" width="71.3" height="71.3" viewBox="0 0 71.3 71.3" overflow="hidden"><rect x="0" y="0" width="71.3" height="71.3" filter="url(#nf15)" opacity="1"/><ellipse cx="32.30" cy="14.70" rx="5.50" ry="5.80" fill="#3030c0" opacity="0.85" filter="url(#bl1)"/><ellipse cx="11.30" cy="38.10" rx="6.60" ry="6.10" fill="#3030c0" opacity="0.85" filter="url(#bl1)"/><ellipse cx="31.00" cy="56.50" rx="6.80" ry="6.50" fill="#3030c0" opacity="0.85" filter="url(#bl1)"/><ellipse cx="61.00" cy="68.00" rx="6.30" ry="5.00" fill="#3030c0" opacity="0.85" filter="url(#bl1)"/><ellipse cx="50.70" cy="49.00" rx="5.60" ry="6.50" fill="#3030a0" opacity="0.6" filter="url(#bl1)"/><ellipse cx="55.00" cy="31.30" rx="5.50" ry="6.60" fill="#3030a0" opacity="0.6" filter="url(#bl1)"/><ellipse cx="66.00" cy="7.00" rx="5.00" ry="5.50" fill="#3030a0" opacity="0.6" filter="url(#bl1)"/><g><path d="M11.1 11.1h0M29.2 9.9h0M16.4 7.0h0M19.8 8.2h0M17.0 12.9h0M13.0 12.4h0M9.9 12.6h0M16.7 11.7h0" stroke="#5ad23a" stroke-opacity="0.75" stroke-width="1.5" stroke-linecap="round"/><path d="M10.7 9.8h0M11.1 6.1h0M26.3 9.1h0M8.8 12.1h0M10.1 10.0h0M21.1 11.9h0M16.7 8.2h0M18.4 14.5h0M19.1 12.1h0M25.7 15.3h0M20.5 12.1h0M26.0 11.9h0M15.7 15.6h0M8.7 7.9h0M14.7 10.4h0M21.8 9.5h0M13.2 7.9h0M15.5 7.1h0M16.0 10.5h0M8.1 12.3h0M18.9 8.0h0M12.9 10.7h0" stroke="#5ad23a" stroke-opacity="0.75" stroke-width="1.0" stroke-linecap="round"/><path d="M22.1 12.9h0M16.4 10.4h0M14.8 12.0h0M18.2 11.5h0M16.5 7.3h0M8.8 7.3h0M22.2 7.0h0M20.0 7.2h0M21.3 10.8h0M13.6 2.9h0" stroke="#5ad23a" stroke-opacity="0.5" stroke-width="1.0" stroke-linecap="round"/><path d="M17.1 12.1h0M18.3 9.0h0M12.9 2.7h0" stroke="#5ad23a" stroke-opacity="0.75" stroke-width="0.5" stroke-linecap="round"/><path d="M23.5 8.5h0M18.9 14.3h0" stroke="#5ad23a" stroke-opacity="0.5" stroke-width="0.5" stroke-linecap="round"/><path d="M19.1 11.4h0M15.5 5.3h0M12.4 13.7h0M21.0 12.1h0M17.4 13.0h0M19.1 12.7h0" stroke="#5ad23a" stroke-opacity="1.0" stroke-width="1.5" stroke-linecap="round"/><path d="M23.1 9.0h0M15.4 2.9h0M14.1 9.3h0M9.6 10.5h0M20.5 11.7h0M8.9 12.1h0M14.5 6.7h0M12.7 7.5h0" stroke="#5ad23a" stroke-opacity="1.0" stroke-width="1.0" stroke-linecap="round"/><path d="M16.7 10.6h0" stroke="#5ad23a" stroke-opacity="1.0" stroke-width="0.5" stroke-linecap="round"/></g><g><path d="M57.6 7.5h0M48.1 5.6h0M57.9 8.3h0M57.3 6.5h0M38.6 5.9h0M43.7 14.1h0M53.3 7.0h0M51.7 10.7h0M56.0 11.3h0M50.8 14.4h0M51.0 9.4h0M42.0 6.5h0M42.6 7.6h0M49.5 3.9h0M51.9 17.6h0" stroke="#5ad23a" stroke-opacity="0.5" stroke-width="1.0" stroke-linecap="round"/><path d="M51.4 7.2h0M51.4 9.0h0M49.1 11.6h0M47.7 0.7h0M54.0 5.1h0M51.5 12.8h0M45.8 6.8h0M39.8 12.2h0M49.1 6.6h0M65.3 5.6h0M44.0 8.5h0M44.0 12.4h0M42.6 7.2h0M45.9 7.6h0M38.2 7.8h0M38.4 9.6h0M45.9 0.6h0M46.1 0.4h0M49.2 16.8h0M45.9 1.6h0M49.5 6.5h0M56.5 8.2h0M45.1 3.6h0M60.0 8.0h0M51.5 7.9h0" stroke="#5ad23a" stroke-opacity="0.75" stroke-width="1.0" stroke-linecap="round"/><path d="M45.5 14.6h0M41.3 11.5h0M49.7 12.0h0" stroke="#5ad23a" stroke-opacity="0.5" stroke-width="0.5" stroke-linecap="round"/><path d="M48.5 8.3h0M50.9 6.6h0M57.7 6.4h0M55.0 22.0h0M53.6 4.4h0M43.6 -0.0h0" stroke="#5ad23a" stroke-opacity="0.5" stroke-width="1.5" stroke-linecap="round"/><path d="M43.0 3.7h0M43.5 11.6h0M53.4 16.4h0M47.4 11.6h0M55.2 11.1h0M51.9 10.5h0M48.8 7.9h0M43.3 5.2h0M52.8 4.3h0" stroke="#5ad23a" stroke-opacity="1.0" stroke-width="1.5" stroke-linecap="round"/><path d="M41.2 3.6h0M55.3 11.2h0M38.0 6.4h0M53.2 5.7h0M55.0 6.0h0" stroke="#5ad23a" stroke-opacity="1.0" stroke-width="1.0" stroke-linecap="round"/><path d="M52.5 7.1h0M38.8 7.3h0M44.5 4.3h0M53.5 15.5h0M48.7 7.4h0M44.5 4.2h0" stroke="#5ad23a" stroke-opacity="0.75" stroke-width="1.5" stroke-linecap="round"/><path d="M52.8 7.2h0" stroke="#5ad23a" stroke-opacity="1.0" stroke-width="0.5" stroke-linecap="round"/></g><g><path d="M29.1 32.9h0M19.6 21.3h0M37.5 38.6h0M25.5 20.4h0M32.6 26.5h0M38.0 20.1h0M37.4 25.0h0M43.0 36.5h0M28.0 24.6h0M34.9 36.7h0M28.4 24.5h0M30.8 41.1h0M21.4 27.0h0" stroke="#5ad23a" stroke-opacity="0.75" stroke-width="0.5" stroke-linecap="round"/><path d="M21.8 26.7h0M40.4 42.6h0M32.0 27.1h0M49.5 38.7h0M38.6 28.9h0M30.3 20.0h0M28.5 27.3h0M23.8 25.4h0M46.4 42.5h0M27.5 35.5h0M32.2 55.1h0M43.6 37.0h0M16.6 7.7h0M38.7 33.8h0M31.0 34.9h0M29.0 33.3h0M35.9 40.9h0M20.8 26.8h0M33.1 26.9h0M35.2 31.9h0M45.2 27.3h0M38.1 18.2h0M41.5 13.7h0M41.2 33.8h0M27.7 40.5h0M20.9 41.6h0M48.7 30.1h0M22.0 31.3h0M18.0 32.9h0M30.4 23.6h0M26.4 25.0h0M29.6 37.8h0" stroke="#5ad23a" stroke-opacity="0.75" stroke-width="1.0" stroke-linecap="round"/><path d="M44.8 29.6h0M29.6 28.0h0M20.0 28.0h0M32.8 32.8h0M19.5 34.7h0M54.2 29.7h0M21.3 23.1h0M29.0 27.1h0M36.6 18.3h0M25.8 33.2h0M31.5 9.7h0M22.5 25.9h0M50.6 19.5h0M34.5 22.7h0M26.3 36.4h0M16.8 27.9h0M29.4 16.1h0M18.0 27.9h0M41.8 38.6h0M33.3 44.2h0M30.8 48.8h0M10.4 23.4h0M52.8 36.7h0M34.9 34.4h0M38.2 33.5h0M36.8 24.0h0M35.4 28.0h0M59.8 31.8h0M31.8 36.0h0M42.9 26.1h0" stroke="#5ad23a" stroke-opacity="0.5" stroke-width="1.0" stroke-linecap="round"/><path d="M31.6 31.4h0M35.1 30.8h0M24.8 37.3h0M31.4 12.8h0M47.1 40.5h0M49.5 22.4h0M28.1 33.8h0M25.8 53.0h0M36.2 31.0h0M29.1 37.2h0M38.3 18.5h0" stroke="#5ad23a" stroke-opacity="0.5" stroke-width="0.5" stroke-linecap="round"/><path d="M27.6 32.4h0M39.4 22.1h0M39.1 35.6h0" stroke="#5ad23a" stroke-opacity="1.0" stroke-width="1.0" stroke-linecap="round"/><path d="M21.3 28.1h0" stroke="#5ad23a" stroke-opacity="1.0" stroke-width="0.5" stroke-linecap="round"/></g><g><path d="M59.2 37.7h0M53.9 31.5h0M62.2 33.1h0M55.2 37.1h0M60.1 46.4h0M55.9 45.6h0" stroke="#5ad23a" stroke-opacity="0.5" stroke-width="0.5" stroke-linecap="round"/><path d="M59.7 42.6h0M59.2 28.9h0M59.9 36.6h0M52.1 45.4h0M54.6 38.4h0M53.1 37.8h0M64.2 30.0h0M46.2 45.4h0M58.1 34.9h0M62.6 44.6h0M66.8 43.0h0" stroke="#5ad23a" stroke-opacity="0.5" stroke-width="1.0" stroke-linecap="round"/><path d="M63.6 37.0h0M57.1 40.6h0M68.5 38.8h0M63.3 40.6h0M62.6 43.6h0M64.2 35.7h0M64.0 47.4h0M49.8 35.7h0M66.6 49.8h0M61.7 40.8h0M55.2 35.7h0M56.4 37.0h0M51.9 41.2h0M46.1 34.8h0M56.0 27.3h0M71.3 31.7h0" stroke="#5ad23a" stroke-opacity="0.75" stroke-width="1.0" stroke-linecap="round"/><path d="M61.8 32.7h0M55.5 28.9h0M61.3 32.6h0M54.9 52.4h0" stroke="#5ad23a" stroke-opacity="0.75" stroke-width="0.5" stroke-linecap="round"/><path d="M53.7 45.1h0" stroke="#5ad23a" stroke-opacity="1.0" stroke-width="0.5" stroke-linecap="round"/><path d="M53.6 38.3h0M58.5 30.0h0" stroke="#5ad23a" stroke-opacity="1.0" stroke-width="1.0" stroke-linecap="round"/></g><g><path d="M41.7 67.4h0M51.5 60.0h0M26.3 71.2h0M16.4 71.9h0M10.1 49.2h0M16.6 69.9h0M23.9 54.8h0M26.0 34.3h0M23.7 61.2h0M5.2 60.2h0" stroke="#5ad23a" stroke-opacity="0.5" stroke-width="0.5" stroke-linecap="round"/><path d="M20.5 54.9h0M57.8 41.7h0M8.2 28.3h0M23.6 70.6h0M22.9 46.5h0" stroke="#5ad23a" stroke-opacity="0.25" stroke-width="0.5" stroke-linecap="round"/><path d="M17.6 58.8h0M10.9 56.3h0M24.6 63.0h0M4.6 67.7h0M21.7 65.1h0M10.6 55.0h0M6.0 68.6h0M0.5 44.1h0M49.4 66.5h0" stroke="#5ad23a" stroke-opacity="0.5" stroke-width="1.0" stroke-linecap="round"/><path d="M8.7 61.8h0M27.9 50.2h0M26.8 56.8h0M44.5 40.8h0M22.2 65.1h0M2.9 60.4h0M30.5 60.1h0M12.7 41.7h0M21.7 47.9h0" stroke="#5ad23a" stroke-opacity="0.25" stroke-width="1.0" stroke-linecap="round"/></g><rect x="0" y="0" width="71.3" height="71.3" filter="url(#nf16)" opacity="1"/><rect x="51.20" y="27.10" width="17.10" height="17.60" fill="none" stroke="#e8e8e8" stroke-width="0.8"/><text x="1.6" y="6.8" font-size="6.9" fill="#f4f4f4" textLength="17.0" lengthAdjust="spacingAndGlyphs">Merge</text></svg>
<svg x="270.5" y="628.5" width="71.3" height="71.3" viewBox="0 0 71.3 71.3" overflow="hidden"><rect x="0" y="0" width="71.3" height="71.3" filter="url(#nf17)" opacity="1"/><ellipse cx="18.00" cy="19.00" rx="22.00" ry="23.00" fill="#2a1c80" opacity="0.72" filter="url(#bl2)"/><path d="M58.4 15.3l2.6 2.4M63.7 39.3l-0.5 3.0M63.8 44.8l-0.0 3.6M78.2 34.7l3.0 1.8M38.9 26.7l1.9 1.3M69.3 41.6l-0.2 2.0M57.3 33.8l2.3 1.7M43.0 36.9l3.5 0.9M70.7 25.2l-2.5 2.6M64.3 37.4l3.3 0.9M51.9 26.3l0.6 3.4M51.7 25.5l-1.6 0.3M69.4 -5.8l-2.7 2.7M49.8 26.0l0.3 3.3M57.0 13.3l-1.6 0.3M53.4 28.1l1.7 3.6M75.3 57.5l-3.1 0.9M65.5 33.8l-1.0 1.4M54.8 34.3l-3.3 1.8M69.3 16.5l-0.4 1.6M40.9 31.0l-1.1 1.1M59.9 28.3l-1.7 0.4M48.1 38.8l-1.7 0.7M54.9 53.7l1.8 0.5M78.4 33.9l2.0 1.8M37.6 57.2l-1.9 2.4M48.9 28.8l-1.5 0.9M50.6 19.3l1.7 2.0M60.5 46.6l1.5 0.3M58.5 33.1l-2.6 1.0M49.2 4.5l3.4 1.9M48.5 39.1l0.1 3.2M56.7 18.2l-2.2 1.3M55.9 58.0l-3.4 1.4M47.1 57.7l-3.0 2.5M57.1 -33.8l0.2 3.4M58.1 10.1l-0.0 2.5M61.9 17.2l-2.0 2.1M53.9 15.6l3.1 0.8M61.2 39.2l-1.3 1.0M66.2 17.4l-0.6 3.1M57.8 29.1l-1.9 2.3M45.3 6.5l1.3 1.4M59.1 27.0l-0.2 3.1M59.7 26.2l-1.0 1.4M8.7 48.2l-1.4 0.7M21.9 45.3l1.2 3.8M24.4 46.0l1.6 0.0M22.5 46.2l-2.7 2.2M31.7 40.6l-1.4 3.3M7.7 45.8l2.8 0.6M31.9 46.8l-1.2 1.5M9.6 47.4l-1.7 1.5M15.6 47.4l-0.9 3.7M10.9 49.9l-0.4 2.0M19.7 45.0l-1.4 3.7M16.8 51.2l1.5 2.7M26.2 50.3l-1.6 1.3M17.6 48.7l2.8 1.5M28.0 43.8l0.4 2.2M23.6 54.2l0.2 3.2M20.9 48.8l2.2 0.1M11.4 48.8l-1.2 3.0" stroke="#5cd030" stroke-width="1.6" stroke-linecap="round" opacity="0.85" filter="url(#bl05)"/><g filter="url(#bl05)"><path d="M37.5 35.3h0M46.7 44.2h0M47.7 26.2h0" stroke="#e0a020" stroke-opacity="0.5" stroke-width="2.0" stroke-linecap="round"/><path d="M61.7 32.9h0M58.6 43.9h0M69.2 41.3h0M60.0 41.5h0M60.7 54.7h0M66.6 28.9h0M70.3 36.6h0M53.8 46.6h0M62.1 42.6h0M59.8 34.6h0" stroke="#e0a020" stroke-opacity="0.75" stroke-width="1.5" stroke-linecap="round"/><path d="M47.1 14.3h0M44.2 44.7h0" stroke="#e0a020" stroke-opacity="0.75" stroke-width="2.0" stroke-linecap="round"/><path d="M47.6 31.7h0" stroke="#e0a020" stroke-opacity="1.0" stroke-width="2.0" stroke-linecap="round"/><path d="M42.6 23.0h0M46.5 12.5h0" stroke="#e0a020" stroke-opacity="0.5" stroke-width="1.5" stroke-linecap="round"/></g><g filter="url(#bl05)"><path d="M33.4 47.1h0M34.0 51.9h0M25.9 43.3h0" stroke="#e0a020" stroke-opacity="0.5" stroke-width="1.5" stroke-linecap="round"/><path d="M5.0 47.1h0" stroke="#e0a020" stroke-opacity="1.0" stroke-width="1.5" stroke-linecap="round"/><path d="M24.8 39.4h0" stroke="#e0a020" stroke-opacity="0.5" stroke-width="1.0" stroke-linecap="round"/><path d="M35.8 47.0h0" stroke="#e0a020" stroke-opacity="1.0" stroke-width="2.0" stroke-linecap="round"/><path d="M23.2 46.0h0M30.6 42.3h0" stroke="#e0a020" stroke-opacity="0.75" stroke-width="1.5" stroke-linecap="round"/></g><rect x="0" y="0" width="71.3" height="71.3" filter="url(#nf18)" opacity="1"/><line x1="52.6" y1="66.0" x2="67.3" y2="66.0" stroke="#fff" stroke-width="1.3"/><text x="1.6" y="6.8" font-size="6.9" fill="#f4f4f4" textLength="14.0" lengthAdjust="spacingAndGlyphs">Inset</text></svg>
<svg x="358.2" y="480.0" width="71.3" height="71.3" viewBox="0 0 71.3 71.3" overflow="hidden"><rect x="0" y="0" width="71.3" height="71.3" filter="url(#nf19)" opacity="1"/><path d="M0.00,5.00 L15.00,5.00 L15.00,14.00 L17.00,22.00 L14.00,30.00 L0.00,30.00 Z" fill="#050505" opacity="1" filter="url(#bl1)"/><path d="M13.00,21.00 L22.00,25.00 L32.00,30.00 L40.00,27.00 L50.00,24.00 L60.00,19.00 L72.00,21.00 L72.00,28.00 L62.00,25.00 L52.00,29.00 L42.00,33.00 L32.00,36.00 L22.00,34.00 L13.00,30.00 Z" fill="#050505" opacity="1" filter="url(#bl1)"/><path d="M64.00,2.00 L72.00,2.00 L72.00,14.00 L66.00,13.00 Z" fill="#050505" opacity="1" filter="url(#bl1)"/><path d="M23.00,54.00 L30.00,53.00 L31.00,72.00 L23.00,72.00 Z" fill="#050505" opacity="1" filter="url(#bl1)"/><path d="M0.00,55.00 L6.00,56.00 L5.00,61.00 L0.00,60.00 Z" fill="#050505" opacity="1" filter="url(#bl1)"/><ellipse cx="50.00" cy="50.00" rx="12.00" ry="10.00" fill="#6a6a6a" opacity="0.5" filter="url(#bl4)"/><ellipse cx="22.00" cy="18.00" rx="8.00" ry="6.00" fill="#5a5a5a" opacity="0.5" filter="url(#bl4)"/><g><path d="M47.0 65.2h0M44.5 60.2h0M56.0 33.1h0M57.1 33.8h0M59.4 47.1h0M54.4 51.5h0M61.9 52.3h0M39.7 58.3h0M52.3 65.5h0M57.7 59.4h0M47.2 45.3h0M56.0 55.5h0M39.3 45.5h0M68.1 42.3h0M37.6 39.3h0M56.4 43.1h0M36.8 45.5h0M58.4 47.3h0M29.1 59.4h0M36.3 53.3h0" stroke="#fff" stroke-opacity="0.5" stroke-width="1.0" stroke-linecap="round"/><path d="M51.4 56.7h0M39.6 58.0h0M57.5 58.5h0M38.4 45.1h0M51.2 58.9h0M43.1 57.2h0M44.1 59.4h0M46.5 54.1h0M45.7 67.4h0M68.3 49.3h0M69.8 54.0h0" stroke="#fff" stroke-opacity="0.25" stroke-width="0.5" stroke-linecap="round"/><path d="M47.4 44.7h0M27.9 51.4h0M47.7 61.1h0M34.5 48.8h0M47.0 65.2h0M65.3 58.7h0M51.8 46.3h0M36.8 69.0h0M57.1 50.2h0M31.3 36.8h0M48.4 69.5h0M22.9 55.2h0M40.5 41.5h0M52.3 45.8h0M61.3 53.9h0M61.1 50.7h0M48.7 53.2h0M44.8 35.4h0M60.9 62.0h0" stroke="#fff" stroke-opacity="0.25" stroke-width="1.0" stroke-linecap="round"/><path d="M57.6 50.7h0M68.3 44.4h0M29.2 44.4h0M41.0 52.2h0M51.9 59.0h0M43.5 45.5h0M64.3 38.2h0M34.5 61.2h0M32.7 40.3h0M34.0 43.5h0M42.5 57.0h0M54.5 54.6h0M33.9 45.7h0M45.1 53.7h0M55.3 55.9h0M60.0 55.3h0M58.8 50.3h0M49.2 43.6h0M62.3 53.3h0M36.5 51.3h0M21.2 47.2h0M69.8 50.0h0M57.5 36.3h0M57.1 51.4h0M38.3 58.0h0M25.4 47.5h0M31.6 51.2h0M64.9 41.6h0M43.3 41.1h0" stroke="#fff" stroke-opacity="0.5" stroke-width="0.5" stroke-linecap="round"/></g><rect x="0" y="0" width="71.3" height="71.3" filter="url(#nf20)" opacity="1"/><text x="1.6" y="6.8" font-size="6.9" fill="#f4f4f4" textLength="31.6" lengthAdjust="spacingAndGlyphs">EGFR-RFP</text></svg>
<svg x="432.2" y="480.0" width="71.3" height="71.3" viewBox="0 0 71.3 71.3" overflow="hidden"><rect x="0" y="0" width="71.3" height="71.3" fill="#020202" /><g><path d="M35.5 22.8h0M21.9 18.6h0M38.0 15.0h0M20.8 12.2h0M26.2 23.6h0M38.5 23.7h0M32.1 17.9h0M39.2 15.5h0M13.9 16.6h0M36.5 25.3h0M14.8 17.4h0M19.8 25.8h0M14.6 7.2h0M34.3 16.6h0M28.2 9.8h0M25.0 23.7h0M33.8 19.7h0M27.0 30.8h0M45.8 8.6h0M38.1 19.1h0" stroke="#fff" stroke-opacity="1.0" stroke-width="1.0" stroke-linecap="round"/><path d="M26.3 21.8h0M23.5 25.2h0M30.6 19.1h0M25.5 21.1h0M27.5 13.2h0M22.4 21.7h0M27.9 13.7h0M30.4 21.0h0M36.8 20.9h0M26.4 17.7h0M33.8 20.3h0M27.5 19.2h0M22.2 11.2h0M22.6 19.6h0M25.7 14.9h0M19.9 22.5h0M16.5 17.0h0M32.4 12.9h0M15.7 16.0h0M25.9 23.4h0M23.7 14.4h0M40.9 21.2h0M25.4 14.1h0M18.2 25.6h0M14.6 23.2h0M41.6 12.5h0M33.6 18.0h0M37.5 21.8h0M24.2 19.5h0M25.0 11.1h0M27.5 29.4h0M30.2 15.5h0M29.0 13.5h0M26.7 13.0h0M21.3 20.7h0M30.8 20.5h0M21.4 22.2h0" stroke="#fff" stroke-opacity="0.75" stroke-width="1.0" stroke-linecap="round"/><path d="M30.7 20.4h0M26.2 27.0h0M34.0 17.3h0M15.9 11.7h0M16.4 18.9h0M37.9 18.9h0M21.8 23.3h0M28.6 21.4h0M27.1 24.8h0M27.3 29.6h0M26.4 15.2h0M38.2 12.3h0M17.7 21.5h0M27.5 21.8h0M22.2 22.8h0M24.6 28.7h0M24.2 16.6h0M29.2 14.6h0M33.5 17.2h0M23.1 19.4h0M25.8 20.9h0M27.2 17.7h0M10.1 17.8h0M25.9 17.1h0M21.8 21.2h0M42.5 14.1h0M25.1 8.7h0M14.8 17.3h0M25.0 18.2h0M32.2 26.0h0M21.6 15.0h0M38.3 24.7h0M29.9 17.4h0M31.8 8.4h0M28.3 15.0h0M29.1 15.9h0M25.2 14.8h0M35.8 16.5h0" stroke="#fff" stroke-opacity="0.5" stroke-width="1.0" stroke-linecap="round"/><path d="M17.2 15.7h0M26.7 20.3h0M15.0 27.3h0M30.4 16.2h0M37.1 22.0h0M28.8 28.7h0M20.2 18.9h0M26.9 21.7h0M30.4 30.7h0M21.8 19.9h0M21.9 21.1h0M14.9 23.6h0M30.3 15.4h0M24.6 24.1h0M31.6 11.1h0M25.3 15.4h0M22.8 17.7h0M30.4 22.5h0M24.4 29.5h0M29.4 19.5h0" stroke="#fff" stroke-opacity="0.75" stroke-width="0.5" stroke-linecap="round"/><path d="M31.5 21.2h0M32.9 13.7h0M26.7 23.0h0M23.6 21.0h0M18.0 24.0h0M23.7 19.2h0M22.1 12.7h0M28.6 13.9h0M17.7 27.7h0M20.5 21.9h0M35.2 18.9h0M14.1 12.3h0M17.6 19.0h0M34.4 18.0h0M37.3 24.4h0M16.6 16.0h0M27.5 25.1h0M11.6 17.7h0M27.4 17.2h0M22.3 29.0h0M47.8 26.8h0M15.7 20.2h0M17.5 9.0h0M19.4 16.3h0M29.3 23.5h0M21.7 19.7h0M8.8 15.4h0" stroke="#fff" stroke-opacity="0.5" stroke-width="0.5" stroke-linecap="round"/><path d="M18.6 14.2h0M28.3 16.0h0M33.3 19.8h0M15.3 12.4h0M24.9 16.2h0M28.7 18.0h0M19.8 21.9h0" stroke="#fff" stroke-opacity="0.25" stroke-width="0.5" stroke-linecap="round"/><path d="M29.5 26.8h0M26.8 15.5h0M19.5 18.5h0M36.3 11.3h0M27.1 25.6h0M38.8 23.4h0M25.7 16.9h0M22.3 17.8h0M30.3 11.5h0M25.6 17.7h0M33.1 21.0h0M33.6 21.1h0M25.7 23.1h0" stroke="#fff" stroke-opacity="0.25" stroke-width="1.0" stroke-linecap="round"/><path d="M36.2 17.3h0M18.4 18.2h0M31.5 24.4h0M28.5 9.6h0M21.9 6.5h0M36.7 15.5h0M17.2 24.8h0M29.3 19.7h0" stroke="#fff" stroke-opacity="1.0" stroke-width="0.5" stroke-linecap="round"/></g><g><path d="M9.8 41.6h0M11.5 44.8h0M12.5 43.9h0M0.2 33.5h0M10.5 37.8h0M9.7 49.7h0M13.3 52.4h0M12.0 40.7h0M13.6 36.4h0M13.8 50.0h0M4.0 48.1h0M24.3 47.1h0M5.2 40.7h0M13.0 34.5h0M17.5 50.8h0M27.6 49.3h0M11.9 50.4h0M24.9 52.4h0M12.1 47.4h0M10.2 48.5h0M7.8 39.0h0M2.2 41.2h0M12.7 39.6h0M1.7 46.5h0M6.3 45.1h0M11.9 42.5h0M17.2 34.3h0M13.5 48.6h0M10.5 31.7h0M3.9 49.9h0M7.6 48.8h0M10.6 52.8h0M11.6 27.3h0M12.5 42.2h0M6.3 53.2h0M12.0 39.1h0M9.7 48.3h0M11.4 46.0h0M8.5 44.3h0M0.6 50.0h0M3.9 39.4h0M23.9 53.2h0M3.5 44.5h0" stroke="#fff" stroke-opacity="0.75" stroke-width="1.0" stroke-linecap="round"/><path d="M9.2 38.9h0M19.4 42.7h0M26.0 53.0h0M4.9 37.6h0M4.6 56.2h0M12.1 40.4h0M10.5 41.6h0M14.9 38.8h0M6.6 32.1h0M2.3 42.4h0M9.9 35.1h0M14.4 41.5h0M11.7 32.0h0M16.3 45.7h0M13.1 37.0h0M10.1 39.2h0M6.3 43.0h0M15.8 41.0h0M11.0 36.9h0M24.2 33.7h0M1.3 58.0h0M20.3 45.2h0M1.4 43.6h0M22.8 34.3h0M8.0 45.5h0M11.0 35.3h0M12.3 46.0h0M13.2 54.1h0M-0.7 39.5h0M13.1 49.8h0M5.4 43.4h0M23.7 43.3h0M7.6 37.8h0" stroke="#fff" stroke-opacity="0.5" stroke-width="1.0" stroke-linecap="round"/><path d="M22.8 37.8h0M12.7 42.7h0M15.6 26.8h0M27.7 49.1h0M18.0 45.9h0M0.6 34.5h0M17.3 33.6h0M17.4 41.8h0M2.7 45.1h0M9.9 35.2h0M15.1 41.8h0M11.5 43.3h0M21.4 48.4h0M18.6 48.8h0M7.6 30.9h0M7.7 39.5h0" stroke="#fff" stroke-opacity="0.25" stroke-width="1.0" stroke-linecap="round"/><path d="M10.7 46.0h0M11.8 46.6h0M12.6 41.9h0M19.0 39.2h0M4.2 47.7h0M8.8 49.7h0M2.2 36.9h0M20.0 44.6h0M24.4 40.9h0M7.9 37.0h0M11.7 44.6h0M0.6 41.8h0M16.8 41.5h0M3.8 44.9h0M29.3 35.7h0M21.1 44.8h0M9.1 41.9h0M17.0 42.0h0M15.9 45.3h0M18.1 50.7h0M6.7 36.8h0M2.9 38.4h0M7.2 43.4h0M12.0 51.2h0M10.3 36.8h0M14.6 50.8h0" stroke="#fff" stroke-opacity="0.5" stroke-width="0.5" stroke-linecap="round"/><path d="M14.6 43.7h0M31.0 34.8h0M10.3 49.6h0M3.0 45.3h0M6.7 48.4h0M21.0 40.6h0M12.2 40.6h0M10.9 51.0h0M16.4 40.8h0M5.6 41.3h0M20.8 31.4h0M17.8 56.3h0M10.8 39.8h0M17.6 44.5h0M3.4 42.4h0M9.6 51.9h0M10.2 40.2h0M35.9 54.8h0M18.8 33.3h0M10.0 48.6h0" stroke="#fff" stroke-opacity="0.75" stroke-width="0.5" stroke-linecap="round"/><path d="M11.4 45.7h0M13.2 22.7h0M0.2 52.1h0M16.1 56.8h0M10.6 46.9h0M16.2 24.4h0" stroke="#fff" stroke-opacity="1.0" stroke-width="0.5" stroke-linecap="round"/><path d="M15.5 40.4h0M12.6 43.8h0M14.1 40.7h0M9.9 29.5h0M13.4 47.8h0M6.8 42.9h0M13.2 24.8h0" stroke="#fff" stroke-opacity="0.25" stroke-width="0.5" stroke-linecap="round"/><path d="M10.1 38.8h0M9.1 46.0h0M11.7 21.7h0M7.9 50.6h0M6.2 41.7h0M10.4 48.6h0M16.5 32.9h0M15.8 42.2h0M1.6 36.9h0" stroke="#fff" stroke-opacity="1.0" stroke-width="1.0" stroke-linecap="round"/></g><g><path d="M30.5 35.6h0M37.8 38.6h0M46.7 51.2h0M41.9 50.5h0M40.8 44.5h0M36.9 44.7h0M49.6 58.7h0M49.9 44.2h0M31.0 46.9h0M34.4 50.7h0M38.2 42.1h0M31.2 43.4h0" stroke="#fff" stroke-opacity="0.75" stroke-width="1.0" stroke-linecap="round"/><path d="M39.2 41.2h0M42.4 47.7h0M39.6 43.6h0M43.3 33.9h0M58.3 42.3h0M27.9 42.4h0M44.1 46.4h0M41.1 48.5h0M39.3 55.8h0" stroke="#fff" stroke-opacity="0.75" stroke-width="0.5" stroke-linecap="round"/><path d="M48.0 44.9h0M40.2 50.1h0M43.2 43.4h0M37.2 43.1h0M35.8 51.7h0M34.9 41.5h0M36.5 44.0h0M47.6 54.7h0M45.6 45.3h0M31.3 44.5h0M38.9 39.5h0M42.5 35.0h0" stroke="#fff" stroke-opacity="0.25" stroke-width="0.5" stroke-linecap="round"/><path d="M35.2 44.5h0M36.4 48.4h0M30.7 44.9h0M47.7 48.9h0M39.3 44.3h0M31.8 40.6h0M27.3 41.9h0M43.3 40.5h0M30.9 46.6h0M38.8 49.2h0M29.4 45.7h0" stroke="#fff" stroke-opacity="0.25" stroke-width="1.0" stroke-linecap="round"/><path d="M36.9 44.7h0M45.6 52.7h0M27.2 47.2h0M24.6 43.2h0M32.5 47.6h0M29.7 48.7h0M45.0 36.6h0M31.1 42.5h0M33.7 45.0h0M23.2 42.9h0M35.0 50.9h0M27.5 43.5h0M47.4 36.2h0M45.3 44.1h0M40.7 49.0h0M35.7 43.0h0M47.0 38.3h0M38.8 54.4h0M42.6 46.7h0M37.6 45.4h0M29.7 37.8h0M39.0 45.7h0M40.6 43.8h0" stroke="#fff" stroke-opacity="0.5" stroke-width="1.0" stroke-linecap="round"/><path d="M32.4 44.3h0M37.3 48.9h0M33.9 50.3h0M34.0 48.4h0M38.2 40.6h0M32.0 46.9h0M32.7 45.1h0M30.8 43.2h0M35.4 46.4h0M34.1 54.0h0M33.3 46.5h0M33.6 43.8h0M30.1 50.0h0" stroke="#fff" stroke-opacity="0.5" stroke-width="0.5" stroke-linecap="round"/></g><g><path d="M71.6 22.6h0M56.6 35.8h0M55.8 35.8h0M67.5 37.1h0M60.7 40.7h0M59.2 51.1h0M57.1 29.9h0M48.1 51.1h0M58.1 34.3h0M69.1 33.3h0M63.0 39.5h0M56.0 34.4h0M63.8 38.0h0M59.4 27.4h0M69.9 40.1h0M68.4 29.6h0M71.4 44.9h0M65.7 36.3h0M67.2 23.8h0" stroke="#fff" stroke-opacity="0.75" stroke-width="0.5" stroke-linecap="round"/><path d="M70.0 48.5h0M53.3 39.3h0M49.9 40.7h0M61.5 41.8h0M61.7 27.6h0M70.2 46.1h0M58.1 42.9h0M58.6 36.3h0M54.9 21.5h0M61.4 49.1h0M56.1 30.6h0M64.7 32.3h0M65.9 40.5h0M67.8 42.7h0M69.8 50.0h0M48.3 47.2h0M71.8 28.0h0M61.3 45.8h0M51.7 33.0h0M53.1 42.4h0M49.4 35.1h0M56.1 31.4h0M53.6 39.5h0M56.9 51.7h0M46.9 46.6h0M49.5 40.9h0M58.3 19.6h0M64.6 43.1h0M51.7 37.8h0M56.0 45.8h0M55.6 47.1h0M54.6 38.4h0M49.9 30.4h0M61.9 30.7h0M45.3 46.7h0M52.6 45.8h0M60.0 38.2h0M71.4 41.2h0M55.5 43.5h0M58.8 34.1h0M58.1 41.2h0M53.5 37.5h0" stroke="#fff" stroke-opacity="0.5" stroke-width="1.0" stroke-linecap="round"/><path d="M57.7 43.0h0M60.7 41.0h0M59.3 36.6h0M57.3 38.1h0M57.4 43.3h0M54.9 47.5h0M57.2 34.9h0M67.7 40.1h0M48.6 34.5h0M59.5 50.5h0" stroke="#fff" stroke-opacity="0.25" stroke-width="1.0" stroke-linecap="round"/><path d="M63.4 47.9h0M61.6 25.2h0M58.8 34.2h0M57.6 48.9h0M51.3 51.6h0M50.4 36.9h0M52.1 31.8h0M62.7 25.8h0M59.4 39.9h0M57.4 39.5h0M61.0 40.4h0M62.9 37.6h0M64.3 43.8h0M58.3 39.6h0M55.3 45.9h0M57.2 44.8h0M65.5 38.9h0M61.9 39.1h0M58.9 41.3h0M55.5 36.1h0M56.8 42.1h0M64.8 35.2h0M62.5 34.2h0M61.8 35.4h0M64.3 34.1h0M52.6 25.7h0M53.5 40.0h0M53.7 26.5h0M58.1 38.7h0M49.5 37.0h0M52.8 49.0h0M49.5 27.7h0M60.1 33.3h0M67.0 38.8h0M60.8 33.0h0M57.4 42.0h0M58.3 37.6h0M52.9 47.0h0M62.8 35.0h0M58.3 42.3h0M57.0 28.7h0M56.6 35.4h0" stroke="#fff" stroke-opacity="0.75" stroke-width="1.0" stroke-linecap="round"/><path d="M50.3 28.1h0M60.6 31.7h0M63.7 48.8h0M63.3 42.1h0M66.3 31.7h0M59.2 31.9h0M58.8 31.8h0M64.6 51.8h0M70.1 37.0h0M53.8 42.5h0M56.2 53.4h0M53.6 41.7h0M61.8 40.1h0M57.7 37.3h0M62.0 35.4h0M59.5 43.3h0M52.5 35.2h0M67.6 40.6h0M53.0 39.9h0M60.4 35.5h0" stroke="#fff" stroke-opacity="1.0" stroke-width="1.0" stroke-linecap="round"/><path d="M62.2 48.5h0M48.1 44.0h0M50.4 31.3h0M52.8 39.1h0M48.8 53.9h0M54.5 45.6h0M59.4 42.4h0M61.2 34.0h0M51.7 35.5h0M55.4 52.8h0M49.8 36.8h0M48.2 32.1h0M59.7 47.2h0M59.0 37.9h0M65.1 26.8h0M58.8 31.4h0M66.9 41.6h0M56.4 22.0h0M53.0 44.6h0M56.8 46.8h0M55.6 37.3h0M54.9 34.1h0M57.9 43.5h0M65.1 31.9h0M62.7 37.7h0M66.8 47.0h0" stroke="#fff" stroke-opacity="0.5" stroke-width="0.5" stroke-linecap="round"/><path d="M58.1 34.6h0M60.5 43.7h0M67.0 47.7h0M63.4 40.5h0M54.2 31.2h0M53.1 41.4h0M58.8 31.5h0M54.6 30.5h0M65.5 45.8h0" stroke="#fff" stroke-opacity="0.25" stroke-width="0.5" stroke-linecap="round"/><path d="M53.8 44.1h0M58.9 42.2h0M62.8 39.1h0M72.0 54.6h0M59.9 40.1h0M54.5 25.4h0M54.7 39.4h0M58.6 42.9h0M66.3 37.3h0M53.8 43.8h0M65.7 35.7h0" stroke="#fff" stroke-opacity="1.0" stroke-width="0.5" stroke-linecap="round"/></g><g><path d="M10.2 71.7h0M14.9 65.3h0M10.1 67.2h0M13.0 66.2h0M7.7 63.6h0M9.1 56.8h0M5.6 68.8h0M10.5 57.6h0M13.7 64.4h0" stroke="#fff" stroke-opacity="0.75" stroke-width="1.0" stroke-linecap="round"/><path d="M3.4 68.4h0M11.8 68.6h0M15.5 61.4h0M9.4 58.5h0M18.7 57.1h0M14.3 67.2h0M16.2 64.6h0M18.0 55.3h0M17.2 59.3h0M3.2 66.9h0M20.9 55.4h0" stroke="#fff" stroke-opacity="0.5" stroke-width="1.0" stroke-linecap="round"/><path d="M18.0 68.3h0M15.8 57.2h0M13.3 58.7h0" stroke="#fff" stroke-opacity="0.25" stroke-width="0.5" stroke-linecap="round"/><path d="M7.6 64.5h0M21.9 58.7h0M16.6 62.7h0M16.9 60.3h0" stroke="#fff" stroke-opacity="0.75" stroke-width="0.5" stroke-linecap="round"/><path d="M7.7 65.8h0" stroke="#fff" stroke-opacity="0.5" stroke-width="0.5" stroke-linecap="round"/><path d="M13.3 59.2h0" stroke="#fff" stroke-opacity="0.25" stroke-width="1.0" stroke-linecap="round"/></g><g><path d="M53.5 4.1h0M49.6 5.8h0M61.0 0.8h0M62.4 4.8h0M54.8 11.9h0M60.0 9.9h0M61.5 1.5h0M63.0 1.4h0M62.3 7.3h0M55.9 4.8h0" stroke="#fff" stroke-opacity="0.25" stroke-width="1.0" stroke-linecap="round"/><path d="M64.0 5.1h0M58.7 5.1h0M48.0 0.3h0M51.4 9.5h0M52.1 0.4h0M50.5 3.2h0M67.3 3.7h0" stroke="#fff" stroke-opacity="0.5" stroke-width="0.5" stroke-linecap="round"/><path d="M54.7 7.4h0M63.0 7.9h0M60.4 6.0h0M54.5 0.9h0M57.4 10.6h0" stroke="#fff" stroke-opacity="0.25" stroke-width="0.5" stroke-linecap="round"/><path d="M56.2 0.9h0M61.5 8.8h0M56.2 7.7h0M52.4 5.9h0M62.9 0.3h0M64.0 10.4h0" stroke="#fff" stroke-opacity="0.5" stroke-width="1.0" stroke-linecap="round"/></g><text x="1.6" y="6.8" font-size="6.9" fill="#f4f4f4" textLength="37.6" lengthAdjust="spacingAndGlyphs">LAMP1-SNAP</text></svg>
<svg x="506.2" y="480.0" width="71.3" height="71.3" viewBox="0 0 71.3 71.3" overflow="hidden"><rect x="0" y="0" width="71.3" height="71.3" filter="url(#nf21)" opacity="1"/><path d="M0.00,5.00 L15.00,5.00 L15.00,14.00 L17.00,22.00 L14.00,30.00 L0.00,30.00 Z" fill="#050000" opacity="1" filter="url(#bl1)"/><path d="M13.00,21.00 L22.00,25.00 L32.00,30.00 L40.00,27.00 L50.00,24.00 L60.00,19.00 L72.00,21.00 L72.00,28.00 L62.00,25.00 L52.00,29.00 L42.00,33.00 L32.00,36.00 L22.00,34.00 L13.00,30.00 Z" fill="#050000" opacity="1" filter="url(#bl1)"/><path d="M64.00,2.00 L72.00,2.00 L72.00,14.00 L66.00,13.00 Z" fill="#050000" opacity="1" filter="url(#bl1)"/><path d="M23.00,54.00 L30.00,53.00 L31.00,72.00 L23.00,72.00 Z" fill="#050000" opacity="1" filter="url(#bl1)"/><path d="M0.00,55.00 L6.00,56.00 L5.00,61.00 L0.00,60.00 Z" fill="#050000" opacity="1" filter="url(#bl1)"/><ellipse cx="42.60" cy="3.50" rx="5.00" ry="6.00" fill="#3030c8" opacity="0.8" filter="url(#bl1)"/><ellipse cx="29.00" cy="14.70" rx="6.00" ry="6.00" fill="#3030c8" opacity="0.8" filter="url(#bl1)"/><ellipse cx="40.70" cy="39.00" rx="6.00" ry="6.00" fill="#3030c8" opacity="0.8" filter="url(#bl1)"/><ellipse cx="6.00" cy="46.50" rx="6.50" ry="6.00" fill="#3030c8" opacity="0.8" filter="url(#bl1)"/><ellipse cx="16.00" cy="69.00" rx="6.00" ry="5.00" fill="#3030c8" opacity="0.8" filter="url(#bl1)"/><ellipse cx="64.00" cy="40.00" rx="4.00" ry="7.00" fill="#3030a0" opacity="0.5" filter="url(#bl1)"/><g><path d="M27.7 18.8h0M33.4 11.1h0M27.7 25.3h0M21.1 23.0h0M31.5 28.0h0M29.5 17.6h0M25.3 15.8h0M27.6 17.6h0M36.9 15.9h0M24.5 19.1h0M22.8 18.2h0" stroke="#3adc3a" stroke-opacity="0.5" stroke-width="1.5" stroke-linecap="round"/><path d="M27.9 18.9h0M25.2 20.0h0M16.5 14.1h0M17.6 20.9h0M23.9 19.0h0M27.4 23.3h0M22.0 16.6h0M21.3 13.7h0M21.6 28.6h0M24.1 25.2h0M29.9 20.1h0M34.4 25.0h0M31.1 25.1h0M21.4 16.0h0M29.1 26.2h0M30.5 15.6h0M27.4 13.1h0M25.2 15.0h0M34.2 28.9h0M24.9 23.4h0M20.4 8.7h0M28.2 10.3h0M24.0 23.0h0M34.3 12.8h0M19.4 19.9h0M38.1 16.7h0M27.1 14.0h0M18.7 26.9h0M29.9 15.2h0M9.9 23.3h0M28.9 22.2h0M34.7 28.6h0M24.4 24.5h0M15.1 15.7h0M22.0 24.4h0M16.3 18.0h0" stroke="#3adc3a" stroke-opacity="0.75" stroke-width="1.5" stroke-linecap="round"/><path d="M40.0 2.8h0M32.3 16.3h0M24.1 11.6h0M29.8 18.0h0M23.4 25.3h0M34.4 19.7h0M29.1 17.4h0M21.5 17.9h0M24.1 10.7h0M28.1 17.7h0M21.4 19.8h0M27.2 31.1h0M22.8 15.4h0M32.7 14.0h0M28.3 14.2h0M30.0 11.8h0M30.9 7.9h0M23.3 16.7h0M25.9 17.9h0M28.5 14.5h0M27.9 17.0h0M27.4 9.9h0M33.7 28.9h0M19.3 19.9h0M26.1 11.4h0M34.4 14.3h0M22.6 23.4h0M34.7 22.5h0" stroke="#3adc3a" stroke-opacity="0.75" stroke-width="1.0" stroke-linecap="round"/><path d="M25.9 15.1h0M28.7 17.5h0M30.7 16.5h0M34.5 14.1h0M25.6 15.4h0M24.3 14.6h0M16.9 16.7h0M21.5 16.4h0M25.8 17.1h0M24.2 11.7h0M27.0 24.8h0M37.3 23.5h0M29.2 18.2h0M31.4 23.9h0M25.5 20.5h0M27.5 20.9h0M24.1 16.6h0" stroke="#3adc3a" stroke-opacity="0.5" stroke-width="1.0" stroke-linecap="round"/><path d="M37.7 6.7h0M29.7 19.3h0M26.8 14.9h0M28.5 18.8h0M24.2 18.7h0M26.5 12.7h0M20.1 24.4h0M24.4 37.2h0M18.4 21.0h0M32.2 17.4h0M31.4 17.0h0M35.9 14.8h0M26.2 12.1h0M25.7 20.4h0M27.2 21.6h0M25.6 23.0h0M24.5 16.1h0" stroke="#3adc3a" stroke-opacity="1.0" stroke-width="1.0" stroke-linecap="round"/><path d="M22.1 19.2h0M30.9 10.9h0M27.8 14.5h0M22.2 21.2h0M29.5 17.2h0M19.5 24.2h0M24.2 19.0h0M24.2 21.4h0M21.9 11.1h0M18.0 14.1h0M35.9 20.0h0" stroke="#3adc3a" stroke-opacity="1.0" stroke-width="1.5" stroke-linecap="round"/></g><g><path d="M69.4 40.6h0M66.0 47.7h0M69.7 39.6h0M63.9 44.0h0M53.9 47.1h0M61.5 45.5h0M60.6 47.5h0M54.6 40.8h0M53.7 33.0h0M69.1 28.0h0M63.2 35.4h0M64.6 39.5h0M66.1 35.8h0M69.6 31.2h0M68.2 37.9h0M60.8 36.8h0" stroke="#3adc3a" stroke-opacity="1.0" stroke-width="1.5" stroke-linecap="round"/><path d="M65.9 30.2h0M67.8 39.2h0M68.2 46.2h0M67.2 42.9h0M57.5 42.0h0M56.1 43.6h0M57.9 33.5h0M70.6 33.0h0M54.2 34.0h0M66.1 36.2h0M64.5 46.1h0M64.2 52.4h0M66.7 47.4h0M61.4 36.8h0M61.3 43.6h0M56.1 21.0h0M59.8 36.6h0" stroke="#3adc3a" stroke-opacity="0.5" stroke-width="1.5" stroke-linecap="round"/><path d="M50.6 38.5h0M58.2 39.6h0M52.0 52.4h0M61.8 33.5h0M55.4 43.9h0M62.2 29.7h0M62.4 34.7h0M65.4 32.0h0M68.5 46.9h0M59.9 47.2h0M61.5 33.4h0M57.7 44.3h0M55.7 49.0h0M63.1 37.7h0M57.2 54.4h0M57.2 41.9h0M58.4 36.4h0M61.8 46.5h0M59.2 42.9h0M66.2 44.7h0M57.5 47.1h0M59.5 39.2h0M69.3 38.5h0M59.7 39.3h0M50.7 43.8h0M58.0 45.4h0M55.3 40.7h0M63.4 37.7h0M59.1 11.3h0M54.9 35.8h0M59.9 49.4h0M60.8 48.5h0M58.7 36.9h0M59.8 35.7h0M58.0 38.5h0M56.2 59.4h0" stroke="#3adc3a" stroke-opacity="0.75" stroke-width="1.5" stroke-linecap="round"/><path d="M61.8 39.1h0M59.9 49.1h0M66.9 44.1h0M59.5 44.6h0M59.3 36.0h0M65.1 35.2h0M67.7 47.5h0M66.2 51.5h0M67.8 51.9h0M60.7 32.2h0M62.4 38.0h0M58.0 41.6h0M61.8 49.9h0M60.9 41.3h0M60.7 38.9h0M62.3 47.1h0M58.7 41.7h0M55.4 43.5h0M71.3 43.5h0M59.0 39.7h0M55.0 37.3h0M56.7 45.9h0M52.1 39.6h0M60.6 32.8h0M53.3 37.1h0M64.1 51.4h0M61.6 36.1h0M63.8 39.4h0M57.3 34.3h0M54.2 44.2h0M63.8 41.3h0M55.8 37.3h0M53.6 37.9h0" stroke="#3adc3a" stroke-opacity="0.75" stroke-width="1.0" stroke-linecap="round"/><path d="M66.6 32.1h0M61.4 40.6h0M63.0 50.8h0M64.9 37.1h0M70.2 44.5h0M64.1 35.6h0M57.4 35.2h0M68.0 32.7h0M61.6 38.8h0M60.9 30.0h0M69.3 36.1h0M53.5 37.8h0M60.6 31.3h0M61.2 27.5h0M61.9 44.8h0M63.9 30.6h0M64.5 47.8h0" stroke="#3adc3a" stroke-opacity="1.0" stroke-width="1.0" stroke-linecap="round"/><path d="M56.1 32.2h0M61.8 37.5h0M69.0 33.4h0M56.2 44.9h0M62.9 48.7h0M61.5 47.6h0M55.3 42.2h0M61.8 27.8h0M58.3 45.8h0M61.2 39.4h0M62.5 47.9h0M61.1 32.5h0M64.0 36.5h0M59.5 41.8h0M63.0 42.1h0M60.5 22.2h0M53.7 45.5h0" stroke="#3adc3a" stroke-opacity="0.5" stroke-width="1.0" stroke-linecap="round"/></g><g><path d="M5.7 47.0h0M5.6 55.9h0M14.6 50.7h0M7.7 48.2h0M15.8 56.2h0M7.6 45.6h0M13.1 42.0h0M8.2 46.0h0M8.5 32.0h0M17.3 51.8h0M31.8 38.5h0M17.2 46.8h0M5.0 47.3h0M5.0 37.4h0M6.9 46.9h0M4.4 45.0h0M0.7 45.3h0M9.0 44.0h0M20.0 39.2h0M17.7 47.1h0M11.6 46.9h0M12.4 41.0h0M14.4 33.9h0M-0.4 46.1h0M24.2 42.9h0M12.0 47.6h0" stroke="#3adc3a" stroke-opacity="0.5" stroke-width="1.0" stroke-linecap="round"/><path d="M14.6 45.2h0M7.9 51.8h0M5.4 32.8h0M28.3 40.3h0M19.4 40.2h0M9.3 41.3h0M4.8 41.2h0M14.4 49.9h0M12.9 41.2h0M37.6 34.3h0M5.5 36.1h0M12.3 38.2h0M2.6 53.9h0M22.0 39.6h0M21.1 41.0h0M6.9 41.0h0M26.5 47.4h0" stroke="#3adc3a" stroke-opacity="0.5" stroke-width="1.5" stroke-linecap="round"/><path d="M6.6 48.3h0M11.0 53.1h0M12.1 45.6h0M9.4 55.3h0M22.0 38.0h0M16.2 51.6h0M9.4 45.6h0M0.5 44.7h0M19.7 46.0h0M6.6 44.3h0M12.2 39.0h0M13.1 45.0h0M14.0 48.2h0M12.7 46.0h0" stroke="#3adc3a" stroke-opacity="1.0" stroke-width="1.5" stroke-linecap="round"/><path d="M14.8 53.4h0M20.5 42.5h0M11.3 44.7h0M6.1 47.7h0M12.8 35.2h0M-0.7 41.1h0M16.6 39.3h0M5.0 44.2h0M15.7 46.3h0M16.7 46.3h0M5.2 41.7h0M26.9 52.5h0M3.3 41.4h0M24.3 50.8h0M14.6 33.5h0M21.6 44.4h0M12.6 47.7h0M19.6 64.4h0M7.8 50.3h0M15.0 44.9h0M12.9 47.7h0M5.0 43.6h0M9.4 40.5h0M25.7 34.0h0" stroke="#3adc3a" stroke-opacity="0.75" stroke-width="1.0" stroke-linecap="round"/><path d="M11.8 48.8h0M6.8 32.1h0M3.4 42.3h0M15.9 47.0h0M9.2 35.8h0M10.4 48.0h0M11.1 47.4h0M11.9 43.8h0M5.1 48.9h0M28.0 52.9h0M8.5 46.2h0M11.1 41.9h0M22.2 42.0h0M27.8 36.5h0M24.0 41.3h0M11.4 43.7h0" stroke="#3adc3a" stroke-opacity="1.0" stroke-width="1.0" stroke-linecap="round"/><path d="M25.6 33.9h0M11.3 45.7h0M10.2 46.0h0M10.8 42.4h0M7.4 41.3h0M18.6 42.6h0M15.6 49.3h0M0.7 39.6h0M1.1 55.6h0M16.1 40.9h0M20.2 40.1h0M5.6 48.4h0M1.3 36.3h0M25.2 45.2h0M13.2 44.3h0M37.5 35.3h0M13.0 36.1h0M10.7 54.7h0M17.1 41.4h0M20.0 48.5h0M25.1 43.2h0M10.2 42.9h0M0.8 39.5h0" stroke="#3adc3a" stroke-opacity="0.75" stroke-width="1.5" stroke-linecap="round"/></g><g><path d="M35.5 44.0h0M41.3 53.8h0M44.7 47.5h0M59.2 46.5h0M44.2 45.9h0M56.9 56.3h0M25.4 55.2h0M50.0 59.3h0M44.4 53.0h0M45.0 49.2h0M49.7 50.2h0M29.3 48.7h0M40.3 46.9h0M50.4 52.8h0M39.3 51.2h0M30.2 49.0h0M47.4 49.9h0M38.5 47.8h0M40.9 50.6h0" stroke="#3adc3a" stroke-opacity="0.5" stroke-width="1.0" stroke-linecap="round"/><path d="M36.6 56.5h0M37.2 48.0h0M38.1 42.7h0M43.6 51.7h0M44.0 46.7h0M42.9 52.4h0M37.8 52.3h0M53.2 52.9h0M42.8 48.5h0M53.6 49.4h0M39.0 51.3h0M41.7 46.9h0M40.6 47.4h0M33.9 47.1h0" stroke="#3adc3a" stroke-opacity="0.75" stroke-width="1.0" stroke-linecap="round"/><path d="M41.5 53.3h0" stroke="#3adc3a" stroke-opacity="0.5" stroke-width="0.5" stroke-linecap="round"/><path d="M38.0 52.6h0M47.3 45.1h0M36.8 47.9h0" stroke="#3adc3a" stroke-opacity="0.25" stroke-width="1.0" stroke-linecap="round"/><path d="M40.8 46.8h0M42.5 46.0h0" stroke="#3adc3a" stroke-opacity="0.75" stroke-width="0.5" stroke-linecap="round"/><path d="M50.4 48.5h0" stroke="#3adc3a" stroke-opacity="0.25" stroke-width="0.5" stroke-linecap="round"/></g><rect x="0" y="0" width="71.3" height="71.3" filter="url(#nf22)" opacity="1"/><rect x="50.30" y="37.00" width="17.50" height="17.70" fill="none" stroke="#e8e8e8" stroke-width="0.8"/><text x="1.6" y="6.8" font-size="6.9" fill="#f4f4f4" textLength="17.0" lengthAdjust="spacingAndGlyphs">Merge</text></svg>
<svg x="580.2" y="480.0" width="71.3" height="71.3" viewBox="0 0 71.3 71.3" overflow="hidden"><rect x="0" y="0" width="71.3" height="71.3" filter="url(#nf23)" opacity="1"/><path d="M0.00,6.00 L12.00,6.00 L16.00,30.00 L22.00,50.00 L28.00,62.00 L30.00,72.00 L0.00,72.00 Z" fill="#8a0e0e" opacity="0.75" filter="url(#bl4)"/><ellipse cx="60.00" cy="17.00" rx="16.00" ry="22.00" fill="#241c78" opacity="0.75" filter="url(#bl2)"/><g filter="url(#bl1)"><path d="M18.4 8.1h0M21.4 8.6h0M19.1 2.0h0" stroke="#40d840" stroke-opacity="0.75" stroke-width="2.5" stroke-linecap="round"/><path d="M16.7 7.8h0M21.5 8.0h0M19.7 8.7h0" stroke="#40d840" stroke-opacity="0.75" stroke-width="2.0" stroke-linecap="round"/><path d="M24.0 5.2h0" stroke="#40d840" stroke-opacity="0.5" stroke-width="2.5" stroke-linecap="round"/><path d="M20.9 2.0h0M18.9 8.0h0" stroke="#40d840" stroke-opacity="1.0" stroke-width="3.0" stroke-linecap="round"/><path d="M20.8 12.4h0M24.8 5.7h0M20.9 4.4h0M24.5 3.1h0M26.8 3.2h0" stroke="#40d840" stroke-opacity="0.75" stroke-width="3.0" stroke-linecap="round"/><path d="M20.7 6.0h0" stroke="#40d840" stroke-opacity="0.75" stroke-width="3.5" stroke-linecap="round"/><path d="M22.1 0.9h0M17.9 2.3h0M21.2 6.6h0" stroke="#40d840" stroke-opacity="0.5" stroke-width="2.0" stroke-linecap="round"/></g><g filter="url(#bl1)"><path d="M38.3 1.6h0" stroke="#40d840" stroke-opacity="0.5" stroke-width="3.5" stroke-linecap="round"/><path d="M35.6 0.6h0" stroke="#40d840" stroke-opacity="0.5" stroke-width="3.0" stroke-linecap="round"/><path d="M35.6 1.7h0" stroke="#40d840" stroke-opacity="1.0" stroke-width="2.5" stroke-linecap="round"/><path d="M36.4 2.0h0" stroke="#40d840" stroke-opacity="0.5" stroke-width="2.5" stroke-linecap="round"/></g><g filter="url(#bl1)"><path d="M16.5 20.6h0M23.5 16.6h0M27.2 25.0h0" stroke="#40d840" stroke-opacity="0.5" stroke-width="2.5" stroke-linecap="round"/><path d="M24.3 19.6h0M22.7 24.2h0M19.4 13.5h0" stroke="#40d840" stroke-opacity="1.0" stroke-width="3.0" stroke-linecap="round"/><path d="M20.4 19.0h0M25.0 20.3h0M19.1 21.6h0M21.0 12.8h0M23.9 18.2h0M22.8 19.6h0" stroke="#40d840" stroke-opacity="0.75" stroke-width="2.0" stroke-linecap="round"/><path d="M23.4 20.4h0" stroke="#40d840" stroke-opacity="1.0" stroke-width="2.5" stroke-linecap="round"/><path d="M22.6 28.3h0M22.4 21.8h0M26.3 22.1h0M20.5 23.6h0M17.2 18.5h0M20.3 21.0h0" stroke="#40d840" stroke-opacity="0.75" stroke-width="3.0" stroke-linecap="round"/><path d="M21.0 22.5h0M21.9 9.2h0M23.1 23.6h0" stroke="#40d840" stroke-opacity="0.5" stroke-width="2.0" stroke-linecap="round"/><path d="M25.0 18.8h0M17.4 20.0h0M22.9 24.8h0M23.1 11.4h0" stroke="#40d840" stroke-opacity="0.75" stroke-width="2.5" stroke-linecap="round"/><path d="M21.2 17.9h0" stroke="#40d840" stroke-opacity="0.5" stroke-width="3.0" stroke-linecap="round"/><path d="M20.6 17.2h0M27.1 16.0h0" stroke="#40d840" stroke-opacity="0.75" stroke-width="3.5" stroke-linecap="round"/><path d="M22.1 16.8h0" stroke="#40d840" stroke-opacity="0.5" stroke-width="3.5" stroke-linecap="round"/></g><g filter="url(#bl1)"><path d="M25.6 33.2h0M23.6 29.2h0" stroke="#40d840" stroke-opacity="1.0" stroke-width="2.0" stroke-linecap="round"/><path d="M20.3 35.8h0M17.6 31.2h0" stroke="#40d840" stroke-opacity="0.75" stroke-width="2.5" stroke-linecap="round"/><path d="M21.9 36.5h0" stroke="#40d840" stroke-opacity="1.0" stroke-width="2.5" stroke-linecap="round"/><path d="M24.4 33.9h0" stroke="#40d840" stroke-opacity="0.75" stroke-width="2.0" stroke-linecap="round"/><path d="M25.6 30.3h0" stroke="#40d840" stroke-opacity="0.5" stroke-width="3.5" stroke-linecap="round"/><path d="M25.5 32.6h0" stroke="#40d840" stroke-opacity="0.5" stroke-width="3.0" stroke-linecap="round"/><path d="M21.0 31.0h0" stroke="#40d840" stroke-opacity="0.75" stroke-width="3.5" stroke-linecap="round"/><path d="M24.4 32.2h0" stroke="#40d840" stroke-opacity="0.75" stroke-width="3.0" stroke-linecap="round"/></g><g filter="url(#bl1)"><path d="M30.1 36.5h0M33.0 36.0h0M32.9 41.6h0" stroke="#40d840" stroke-opacity="0.75" stroke-width="2.0" stroke-linecap="round"/><path d="M31.9 42.7h0" stroke="#40d840" stroke-opacity="0.5" stroke-width="2.5" stroke-linecap="round"/><path d="M29.6 30.6h0M35.0 38.2h0M36.7 36.4h0M38.2 30.0h0M23.9 38.8h0M35.2 37.6h0" stroke="#40d840" stroke-opacity="0.75" stroke-width="3.0" stroke-linecap="round"/><path d="M29.7 46.3h0M32.0 39.9h0" stroke="#40d840" stroke-opacity="0.75" stroke-width="2.5" stroke-linecap="round"/><path d="M39.5 40.9h0M37.2 36.9h0M39.0 35.3h0" stroke="#40d840" stroke-opacity="0.5" stroke-width="3.0" stroke-linecap="round"/><path d="M31.0 42.8h0" stroke="#40d840" stroke-opacity="0.75" stroke-width="3.5" stroke-linecap="round"/><path d="M37.4 37.1h0M34.6 38.4h0M38.3 41.3h0M29.2 38.0h0" stroke="#40d840" stroke-opacity="0.5" stroke-width="2.0" stroke-linecap="round"/><path d="M36.6 39.8h0" stroke="#40d840" stroke-opacity="1.0" stroke-width="3.5" stroke-linecap="round"/><path d="M33.4 40.2h0" stroke="#40d840" stroke-opacity="1.0" stroke-width="2.5" stroke-linecap="round"/></g><g filter="url(#bl1)"><path d="M29.4 54.1h0" stroke="#40d840" stroke-opacity="1.0" stroke-width="3.5" stroke-linecap="round"/><path d="M27.3 51.5h0M26.9 45.0h0M28.8 49.9h0" stroke="#40d840" stroke-opacity="0.75" stroke-width="3.0" stroke-linecap="round"/><path d="M28.3 49.9h0" stroke="#40d840" stroke-opacity="0.5" stroke-width="2.5" stroke-linecap="round"/><path d="M41.2 48.5h0" stroke="#40d840" stroke-opacity="0.75" stroke-width="2.5" stroke-linecap="round"/><path d="M30.9 47.1h0M33.9 43.1h0M26.8 44.5h0" stroke="#40d840" stroke-opacity="0.75" stroke-width="2.0" stroke-linecap="round"/><path d="M33.5 46.7h0M30.1 50.1h0M28.4 47.7h0" stroke="#40d840" stroke-opacity="1.0" stroke-width="2.0" stroke-linecap="round"/></g><g filter="url(#bl1)"><path d="M42.1 47.1h0M43.8 42.0h0" stroke="#40d840" stroke-opacity="1.0" stroke-width="2.0" stroke-linecap="round"/><path d="M39.3 53.9h0" stroke="#40d840" stroke-opacity="0.75" stroke-width="3.5" stroke-linecap="round"/><path d="M38.6 52.7h0M32.1 45.5h0M40.5 47.6h0M38.9 46.7h0" stroke="#40d840" stroke-opacity="0.5" stroke-width="2.0" stroke-linecap="round"/><path d="M37.8 48.6h0M41.2 50.3h0M35.8 45.9h0M39.2 44.9h0" stroke="#40d840" stroke-opacity="0.75" stroke-width="2.0" stroke-linecap="round"/><path d="M40.1 52.6h0M36.4 54.3h0M46.6 57.1h0" stroke="#40d840" stroke-opacity="0.75" stroke-width="2.5" stroke-linecap="round"/><path d="M41.4 48.7h0M41.2 53.5h0M36.8 50.5h0" stroke="#40d840" stroke-opacity="0.5" stroke-width="2.5" stroke-linecap="round"/><path d="M36.1 60.9h0" stroke="#40d840" stroke-opacity="1.0" stroke-width="3.0" stroke-linecap="round"/><path d="M33.6 42.8h0" stroke="#40d840" stroke-opacity="0.5" stroke-width="3.0" stroke-linecap="round"/><path d="M41.3 56.2h0M46.9 46.7h0" stroke="#40d840" stroke-opacity="0.75" stroke-width="3.0" stroke-linecap="round"/><path d="M38.2 43.0h0" stroke="#40d840" stroke-opacity="1.0" stroke-width="2.5" stroke-linecap="round"/></g><g filter="url(#bl1)"><path d="M34.1 58.1h0" stroke="#40d840" stroke-opacity="1.0" stroke-width="2.0" stroke-linecap="round"/><path d="M37.4 55.5h0M39.6 55.8h0M35.5 60.6h0" stroke="#40d840" stroke-opacity="0.75" stroke-width="3.0" stroke-linecap="round"/><path d="M37.5 61.0h0M37.8 55.6h0" stroke="#40d840" stroke-opacity="0.75" stroke-width="2.0" stroke-linecap="round"/><path d="M34.4 57.7h0" stroke="#40d840" stroke-opacity="0.5" stroke-width="2.5" stroke-linecap="round"/><path d="M30.4 51.7h0M41.9 56.6h0" stroke="#40d840" stroke-opacity="0.5" stroke-width="3.0" stroke-linecap="round"/><path d="M32.3 56.2h0" stroke="#40d840" stroke-opacity="0.75" stroke-width="3.5" stroke-linecap="round"/><path d="M38.8 59.4h0" stroke="#40d840" stroke-opacity="1.0" stroke-width="2.5" stroke-linecap="round"/><path d="M38.2 56.2h0" stroke="#40d840" stroke-opacity="0.75" stroke-width="2.5" stroke-linecap="round"/></g><g filter="url(#bl1)"><path d="M49.6 43.1h0M55.1 41.9h0M56.2 47.2h0" stroke="#40d840" stroke-opacity="0.75" stroke-width="2.5" stroke-linecap="round"/><path d="M56.6 48.7h0M46.4 43.2h0" stroke="#40d840" stroke-opacity="0.75" stroke-width="3.0" stroke-linecap="round"/><path d="M54.2 43.5h0" stroke="#40d840" stroke-opacity="0.75" stroke-width="2.0" stroke-linecap="round"/><path d="M51.4 49.2h0" stroke="#40d840" stroke-opacity="0.5" stroke-width="3.5" stroke-linecap="round"/><path d="M55.1 46.6h0" stroke="#40d840" stroke-opacity="0.5" stroke-width="3.0" stroke-linecap="round"/></g><g filter="url(#bl1)"><path d="M65.3 45.7h0M69.9 48.4h0" stroke="#40d840" stroke-opacity="1.0" stroke-width="2.5" stroke-linecap="round"/><path d="M63.2 52.4h0" stroke="#40d840" stroke-opacity="0.75" stroke-width="3.5" stroke-linecap="round"/><path d="M69.0 48.2h0M65.3 49.4h0M64.0 51.2h0M71.8 45.4h0M67.6 49.7h0" stroke="#40d840" stroke-opacity="0.5" stroke-width="2.5" stroke-linecap="round"/><path d="M67.2 42.8h0M63.3 47.6h0M64.4 50.9h0" stroke="#40d840" stroke-opacity="0.75" stroke-width="3.0" stroke-linecap="round"/><path d="M60.1 48.9h0M61.8 53.0h0M63.5 44.7h0M66.4 59.6h0" stroke="#40d840" stroke-opacity="0.75" stroke-width="2.5" stroke-linecap="round"/></g><g filter="url(#bl1)"><path d="M31.5 15.1h0" stroke="#40d840" stroke-opacity="0.5" stroke-width="3.0" stroke-linecap="round"/><path d="M32.6 13.5h0" stroke="#40d840" stroke-opacity="1.0" stroke-width="3.0" stroke-linecap="round"/><path d="M32.6 12.9h0" stroke="#40d840" stroke-opacity="0.75" stroke-width="2.5" stroke-linecap="round"/></g><g filter="url(#bl1)"><path d="M41.4 21.5h0" stroke="#40d840" stroke-opacity="1.0" stroke-width="2.0" stroke-linecap="round"/><path d="M41.1 21.2h0" stroke="#40d840" stroke-opacity="0.5" stroke-width="2.0" stroke-linecap="round"/></g><g filter="url(#bl05)"><path d="M21.7 29.8h0M61.2 37.6h0M7.7 16.3h0M17.6 44.4h0" stroke="#c02020" stroke-opacity="0.5" stroke-width="1.0" stroke-linecap="round"/><path d="M23.9 42.0h0M31.2 37.5h0M27.9 33.2h0M42.1 53.1h0M27.7 64.1h0" stroke="#c02020" stroke-opacity="0.75" stroke-width="1.0" stroke-linecap="round"/><path d="M29.0 32.7h0M19.4 8.5h0" stroke="#c02020" stroke-opacity="0.75" stroke-width="2.0" stroke-linecap="round"/><path d="M43.5 52.7h0M30.3 33.1h0M29.0 28.5h0M38.6 7.9h0M27.3 23.1h0" stroke="#c02020" stroke-opacity="0.5" stroke-width="1.5" stroke-linecap="round"/><path d="M7.8 33.2h0" stroke="#c02020" stroke-opacity="0.5" stroke-width="2.0" stroke-linecap="round"/></g><rect x="0" y="0" width="71.3" height="71.3" filter="url(#nf24)" opacity="1"/><text x="1.6" y="6.8" font-size="6.9" fill="#f4f4f4" textLength="14.0" lengthAdjust="spacingAndGlyphs">Inset</text></svg>
<svg x="358.2" y="554.2" width="71.3" height="71.3" viewBox="0 0 71.3 71.3" overflow="hidden"><rect x="0" y="0" width="71.3" height="71.3" filter="url(#nf25)" opacity="1"/><ellipse cx="12.00" cy="12.00" rx="16.00" ry="12.00" fill="#101010" opacity="0.7" filter="url(#bl4)"/><ellipse cx="1.00" cy="28.00" rx="3.00" ry="8.00" fill="#000" opacity="0.9" filter="url(#bl1)"/><ellipse cx="32.00" cy="48.00" rx="11.00" ry="15.00" fill="#a0a0a0" opacity="0.55" filter="url(#bl4)"/><ellipse cx="48.50" cy="43.50" rx="6.50" ry="6.50" fill="#101010" opacity="0.85" filter="url(#bl1)"/><g><path d="M40.9 42.4h0M45.6 50.9h0M50.0 36.9h0M41.5 45.0h0M45.5 50.1h0M54.1 44.4h0M42.0 45.4h0" stroke="#fff" stroke-opacity="0.75" stroke-width="0.5" stroke-linecap="round"/><path d="M47.1 38.6h0M55.9 39.4h0M48.8 36.5h0M50.5 50.1h0M53.5 48.5h0" stroke="#fff" stroke-opacity="0.25" stroke-width="1.0" stroke-linecap="round"/><path d="M54.4 44.5h0M54.6 40.1h0M50.2 48.2h0M43.9 38.2h0M41.3 44.6h0M48.5 36.3h0M55.5 40.3h0M50.5 51.9h0M56.9 42.4h0" stroke="#fff" stroke-opacity="0.5" stroke-width="0.5" stroke-linecap="round"/><path d="M45.3 50.7h0M42.6 47.7h0M52.6 49.2h0M55.5 41.5h0M41.2 44.7h0M42.3 41.2h0M45.6 49.7h0M47.6 36.7h0M55.7 44.4h0M54.2 48.2h0M55.8 39.8h0M41.5 40.3h0M45.9 48.2h0M44.4 48.0h0M51.3 50.8h0M47.8 49.7h0M54.4 47.7h0M44.6 49.1h0M42.7 48.4h0M50.7 37.1h0M43.0 47.2h0M42.5 46.5h0M53.6 49.9h0M53.7 46.3h0M48.1 49.9h0M50.1 35.8h0M53.0 48.4h0M49.4 49.7h0M49.0 51.0h0M48.0 50.1h0M54.4 44.7h0M47.5 50.2h0M52.7 49.2h0" stroke="#fff" stroke-opacity="0.75" stroke-width="1.0" stroke-linecap="round"/><path d="M55.1 45.7h0M49.5 37.3h0M41.1 40.7h0M42.3 40.2h0M43.0 47.4h0M46.3 51.2h0M43.8 47.2h0M55.4 42.1h0M46.4 49.5h0M49.1 37.4h0M55.9 42.9h0M52.5 38.1h0M54.6 45.8h0M55.3 42.4h0M47.7 36.7h0M48.8 51.2h0M53.5 48.4h0M50.2 36.3h0M52.2 48.9h0M43.0 43.8h0M49.0 37.4h0M54.3 36.8h0M49.7 35.7h0M50.3 51.3h0M45.2 37.1h0M53.9 38.2h0M41.5 44.3h0M46.6 49.8h0M55.2 41.4h0M45.3 49.3h0" stroke="#fff" stroke-opacity="0.5" stroke-width="1.0" stroke-linecap="round"/><path d="M42.1 47.9h0M50.8 49.4h0M54.9 44.7h0" stroke="#fff" stroke-opacity="0.25" stroke-width="0.5" stroke-linecap="round"/><path d="M53.7 44.4h0M52.3 38.8h0" stroke="#fff" stroke-opacity="1.0" stroke-width="1.0" stroke-linecap="round"/><path d="M43.0 49.6h0" stroke="#fff" stroke-opacity="1.0" stroke-width="0.5" stroke-linecap="round"/></g><g><path d="M32.0 31.9h0M29.3 40.0h0M20.6 37.4h0M29.7 35.7h0M24.4 41.4h0M23.7 27.0h0M27.0 41.4h0M20.8 33.0h0M31.8 37.1h0M28.7 40.0h0M29.9 37.7h0M20.9 39.9h0" stroke="#fff" stroke-opacity="0.75" stroke-width="0.5" stroke-linecap="round"/><path d="M31.6 36.3h0M30.1 36.8h0M20.2 30.6h0M22.9 39.7h0" stroke="#fff" stroke-opacity="0.25" stroke-width="1.0" stroke-linecap="round"/><path d="M30.1 38.1h0M31.1 38.5h0M27.0 41.7h0M24.1 26.7h0M32.2 34.4h0M19.6 36.5h0M25.1 41.7h0M19.9 36.2h0M28.7 40.4h0M31.5 35.5h0M26.0 26.6h0M30.4 37.9h0M20.4 30.5h0M30.2 35.5h0M27.9 26.8h0M20.0 37.8h0M20.3 35.2h0M23.1 40.3h0M31.0 34.4h0M20.9 29.0h0M29.8 29.0h0M21.7 39.3h0M20.9 36.1h0M30.1 30.5h0M31.7 32.9h0M22.1 29.0h0M32.2 34.2h0M24.1 39.6h0M25.8 41.4h0" stroke="#fff" stroke-opacity="0.5" stroke-width="1.0" stroke-linecap="round"/><path d="M21.9 28.3h0" stroke="#fff" stroke-opacity="0.25" stroke-width="0.5" stroke-linecap="round"/><path d="M32.1 34.2h0M20.0 32.4h0M30.8 30.8h0M20.5 39.6h0M19.9 38.7h0M21.8 27.0h0M19.7 37.1h0M30.9 33.9h0M27.7 27.2h0M22.5 28.0h0M19.7 33.7h0M22.4 40.6h0M28.2 27.6h0M23.8 26.6h0M23.0 41.8h0M20.7 29.7h0M31.6 32.1h0M31.6 32.3h0M19.1 34.2h0M20.3 39.0h0M25.6 26.7h0M31.0 34.4h0M28.8 41.1h0M31.0 33.5h0M22.7 26.3h0M31.0 30.6h0M27.6 41.1h0M27.1 40.7h0M27.8 41.7h0" stroke="#fff" stroke-opacity="0.75" stroke-width="1.0" stroke-linecap="round"/><path d="M29.4 40.9h0M25.0 41.8h0M27.4 41.2h0M19.8 30.6h0M29.6 27.7h0M22.3 26.4h0M25.2 41.1h0M30.6 38.1h0M21.3 30.3h0M30.0 27.8h0M28.4 38.5h0M29.9 29.6h0" stroke="#fff" stroke-opacity="0.5" stroke-width="0.5" stroke-linecap="round"/><path d="M20.3 29.0h0" stroke="#fff" stroke-opacity="1.0" stroke-width="1.0" stroke-linecap="round"/><path d="M23.8 26.5h0M30.2 38.3h0" stroke="#fff" stroke-opacity="1.0" stroke-width="0.5" stroke-linecap="round"/></g><g><path d="M34.8 65.0h0M29.7 50.9h0M40.7 42.1h0M39.7 44.2h0M31.0 33.2h0M30.7 63.7h0M28.7 34.9h0M25.2 60.7h0M27.0 47.0h0M42.4 37.2h0M31.4 40.0h0M39.8 45.9h0M18.7 54.7h0M39.7 53.6h0M29.8 52.5h0M23.4 51.2h0M34.5 48.7h0M35.3 58.8h0M26.6 56.9h0M31.1 56.6h0M46.9 55.5h0M40.5 56.7h0M28.8 44.9h0" stroke="#fff" stroke-opacity="0.75" stroke-width="0.5" stroke-linecap="round"/><path d="M25.2 64.2h0M25.5 41.3h0M36.4 34.4h0M27.2 63.0h0M26.1 35.6h0M39.4 61.5h0M31.6 60.8h0M24.0 57.5h0M25.5 48.6h0M39.7 30.3h0M25.3 63.1h0M30.1 40.2h0M35.1 71.5h0M42.3 57.1h0M34.9 57.9h0M38.9 53.0h0M33.9 56.9h0M30.8 54.3h0M42.5 45.4h0M32.7 45.3h0M23.0 57.0h0M40.1 34.4h0M44.2 49.9h0M25.6 27.1h0M39.8 56.3h0M34.7 43.1h0M38.1 37.5h0M26.4 45.8h0M20.4 65.8h0M26.3 43.9h0M32.3 49.6h0M36.5 47.6h0M33.8 26.9h0M53.7 50.3h0M30.5 43.2h0M32.4 51.4h0M36.0 39.9h0M32.8 39.7h0M26.3 31.4h0M32.1 40.7h0M28.0 36.4h0M32.5 42.9h0M37.3 61.3h0M36.6 33.9h0M40.0 44.4h0M31.3 26.8h0M22.0 61.0h0M37.6 49.7h0M42.6 58.5h0M21.6 29.6h0M36.9 60.4h0M32.6 44.6h0M34.9 49.5h0M34.0 43.6h0M34.6 41.2h0M38.3 52.2h0M29.4 37.5h0M35.1 50.2h0M38.9 59.9h0M50.2 46.3h0M34.6 40.1h0M29.7 58.1h0M41.3 31.2h0M38.7 44.7h0" stroke="#fff" stroke-opacity="0.75" stroke-width="1.0" stroke-linecap="round"/><path d="M28.1 54.0h0M37.6 49.9h0M37.2 45.5h0M30.2 57.3h0M39.4 52.1h0M31.0 42.5h0M37.2 55.9h0M28.5 32.3h0M27.8 35.6h0M32.8 40.2h0M29.4 46.2h0M43.1 62.4h0M39.1 54.7h0M44.9 48.3h0M34.0 57.6h0M35.1 45.6h0M15.1 55.4h0M19.6 51.3h0M38.7 38.0h0M35.0 58.9h0M34.3 58.9h0M25.1 58.9h0M44.1 49.8h0M33.2 30.7h0M35.2 50.7h0M42.4 56.6h0M30.4 40.7h0M46.8 40.0h0M35.1 35.1h0M28.2 51.6h0M31.8 62.7h0M24.0 64.0h0M33.5 39.6h0M24.7 54.1h0M29.3 50.1h0M31.5 32.5h0M45.7 52.7h0M37.5 51.8h0M26.8 43.7h0M36.0 64.8h0M26.8 50.4h0M49.0 47.5h0M30.7 37.1h0M40.6 33.3h0M42.1 66.7h0M32.2 38.2h0M38.2 44.2h0M38.4 71.7h0M20.9 38.0h0M41.2 47.7h0M25.4 48.7h0M37.6 53.0h0M43.3 28.2h0M21.1 57.4h0M31.6 60.7h0M37.0 59.0h0M35.1 37.9h0M39.5 59.2h0M23.8 52.0h0M32.3 44.3h0M27.4 45.2h0M25.4 41.3h0M33.6 43.5h0M27.3 33.6h0M45.8 37.2h0M35.3 66.5h0M34.0 62.1h0M36.1 58.4h0M39.2 52.2h0M34.3 56.1h0M32.1 30.6h0M39.0 55.3h0M33.4 47.4h0M37.2 35.7h0M39.7 49.7h0M25.1 39.0h0M45.0 37.7h0M27.3 38.4h0M32.3 31.6h0M42.1 35.2h0" stroke="#fff" stroke-opacity="0.5" stroke-width="1.0" stroke-linecap="round"/><path d="M36.9 58.8h0M33.1 54.5h0M38.2 56.4h0M32.9 71.6h0M22.1 47.0h0M34.1 43.2h0M25.5 22.4h0M21.5 58.6h0M28.6 67.9h0M26.0 47.6h0M30.6 63.7h0M27.7 43.1h0M26.8 40.7h0M40.4 46.0h0M23.2 37.0h0M28.7 43.4h0M26.5 32.5h0M34.7 31.8h0M38.8 46.7h0M37.6 44.3h0M35.1 56.2h0M30.2 62.8h0M28.6 51.7h0M27.3 45.8h0M27.0 58.3h0M31.3 27.9h0M38.4 56.5h0" stroke="#fff" stroke-opacity="1.0" stroke-width="1.0" stroke-linecap="round"/><path d="M28.9 62.0h0M28.4 42.2h0M29.8 40.8h0M41.7 53.5h0M27.7 36.6h0M39.3 43.2h0M32.5 51.3h0M47.0 57.4h0M29.4 24.1h0M34.4 52.3h0M32.4 55.1h0M37.0 46.6h0M23.4 49.4h0M28.5 59.9h0M29.1 40.0h0M31.0 35.9h0M28.3 37.4h0M21.2 58.9h0M32.3 63.6h0M35.2 38.4h0M30.6 41.5h0M34.4 53.0h0M39.6 34.0h0M28.2 58.8h0" stroke="#fff" stroke-opacity="0.25" stroke-width="1.0" stroke-linecap="round"/><path d="M26.4 52.8h0M24.2 49.5h0M36.5 47.5h0M33.9 44.5h0M30.6 54.3h0M35.7 49.1h0M30.4 59.0h0M36.6 54.7h0M33.5 58.0h0" stroke="#fff" stroke-opacity="1.0" stroke-width="0.5" stroke-linecap="round"/><path d="M37.6 43.5h0M33.1 56.9h0M45.5 48.9h0M33.4 52.8h0M35.0 48.3h0M48.1 55.1h0M33.6 41.6h0" stroke="#fff" stroke-opacity="0.25" stroke-width="0.5" stroke-linecap="round"/><path d="M32.3 39.0h0M36.0 55.8h0M33.4 36.6h0M30.1 26.0h0M33.7 38.0h0M29.6 41.2h0M27.0 45.6h0M34.8 45.6h0M32.7 44.4h0M27.3 58.1h0M22.5 50.2h0M35.7 56.2h0M32.4 35.7h0M32.4 53.7h0M29.4 36.3h0M36.8 60.6h0M41.6 38.7h0M22.0 37.5h0M33.6 64.4h0M44.3 52.2h0M27.3 35.7h0M22.2 64.0h0M34.9 48.2h0M38.9 55.6h0M35.9 48.7h0" stroke="#fff" stroke-opacity="0.5" stroke-width="0.5" stroke-linecap="round"/></g><g><path d="M7.0 44.0h0M9.5 44.1h0M9.0 43.6h0M16.9 46.2h0M8.0 61.2h0M5.7 47.7h0M13.2 49.6h0M5.8 49.1h0M8.8 43.8h0M7.1 60.1h0M2.8 38.2h0M11.9 49.2h0M16.7 36.1h0M11.2 63.4h0M8.2 44.3h0M8.3 42.9h0M10.6 48.4h0M0.5 44.8h0M4.5 62.0h0M2.5 42.7h0M10.4 29.2h0M10.0 47.0h0M5.8 60.6h0M12.0 61.2h0" stroke="#fff" stroke-opacity="0.5" stroke-width="1.0" stroke-linecap="round"/><path d="M2.8 47.9h0M3.1 53.0h0M3.8 54.1h0M1.5 37.4h0M16.4 56.1h0M2.9 48.7h0M1.8 51.2h0" stroke="#fff" stroke-opacity="0.5" stroke-width="0.5" stroke-linecap="round"/><path d="M4.3 45.2h0M5.0 39.2h0M17.7 71.0h0" stroke="#fff" stroke-opacity="1.0" stroke-width="1.0" stroke-linecap="round"/><path d="M10.4 44.5h0M9.8 38.3h0M6.9 53.7h0M6.4 61.8h0M11.5 66.2h0M9.1 58.6h0M14.3 59.5h0M8.5 50.6h0M2.9 46.5h0M15.8 59.2h0M7.0 53.7h0M8.0 53.4h0M1.2 60.5h0M3.5 46.3h0M12.7 49.4h0M5.4 52.7h0M2.8 62.6h0" stroke="#fff" stroke-opacity="0.75" stroke-width="1.0" stroke-linecap="round"/><path d="M6.8 42.7h0M17.2 46.8h0M9.6 52.2h0M6.4 55.7h0M12.7 48.6h0M13.3 50.6h0M3.1 59.3h0M11.4 48.9h0M4.2 54.9h0" stroke="#fff" stroke-opacity="0.75" stroke-width="0.5" stroke-linecap="round"/><path d="M7.0 56.8h0M5.3 53.7h0" stroke="#fff" stroke-opacity="0.25" stroke-width="1.0" stroke-linecap="round"/><path d="M7.5 44.8h0M19.7 47.3h0M19.2 45.5h0" stroke="#fff" stroke-opacity="0.25" stroke-width="0.5" stroke-linecap="round"/><path d="M8.2 44.3h0" stroke="#fff" stroke-opacity="1.0" stroke-width="0.5" stroke-linecap="round"/></g><g><path d="M44.8 50.2h0M60.4 4.4h0M51.1 57.6h0M50.8 57.7h0M45.9 25.0h0M45.0 54.3h0M45.8 45.8h0M61.9 31.8h0M44.7 40.5h0M62.4 45.3h0M53.5 44.6h0M63.5 5.4h0M55.9 9.7h0M42.3 44.7h0M54.2 23.5h0M64.2 37.6h0M57.6 46.4h0M60.6 23.1h0M49.0 32.7h0M69.3 14.7h0M65.8 1.3h0M48.8 16.3h0M71.0 28.4h0M60.5 68.0h0M63.1 22.7h0M54.3 43.3h0M61.0 42.9h0M58.7 27.6h0M50.4 14.5h0M50.0 28.7h0M65.4 60.5h0M66.9 42.3h0M62.7 28.8h0M58.6 54.3h0M54.8 61.7h0M68.2 49.5h0M62.9 42.9h0" stroke="#fff" stroke-opacity="0.5" stroke-width="1.0" stroke-linecap="round"/><path d="M57.5 62.0h0M52.8 37.2h0M39.5 30.3h0M50.9 60.2h0M49.3 50.2h0M61.2 61.2h0M43.6 35.8h0M67.8 34.3h0M46.8 8.2h0M60.8 48.0h0M66.7 59.5h0M57.7 39.1h0M37.1 42.3h0M68.6 12.5h0M61.8 47.5h0M65.1 9.6h0M53.9 30.0h0M61.2 25.7h0M52.6 24.9h0M57.4 28.4h0M49.2 19.2h0M62.0 62.3h0M58.5 34.6h0M58.4 49.7h0M61.8 33.0h0M54.8 4.1h0M50.1 32.8h0" stroke="#fff" stroke-opacity="0.5" stroke-width="0.5" stroke-linecap="round"/><path d="M59.0 54.3h0M57.3 40.2h0M55.8 27.7h0M62.4 61.3h0M60.0 17.6h0M58.3 45.4h0M42.6 39.2h0M52.1 19.3h0M55.5 44.8h0M72.0 35.6h0M56.1 34.7h0" stroke="#fff" stroke-opacity="0.25" stroke-width="0.5" stroke-linecap="round"/><path d="M70.2 6.6h0M53.2 10.2h0M64.0 68.7h0M67.3 50.9h0M64.3 18.2h0M64.3 27.9h0M58.7 9.0h0M50.9 20.4h0" stroke="#fff" stroke-opacity="0.75" stroke-width="0.5" stroke-linecap="round"/><path d="M63.7 29.7h0M58.3 5.0h0M58.3 22.3h0M53.2 71.1h0M59.7 22.5h0M49.3 35.2h0M58.2 36.0h0M63.1 22.5h0M54.8 16.0h0M56.9 14.0h0M44.7 9.6h0M51.0 51.5h0M58.6 33.2h0" stroke="#fff" stroke-opacity="0.25" stroke-width="1.0" stroke-linecap="round"/><path d="M50.8 13.4h0M69.6 55.2h0M62.3 46.3h0M71.6 41.3h0M60.8 38.4h0M51.1 33.1h0" stroke="#fff" stroke-opacity="0.75" stroke-width="1.0" stroke-linecap="round"/></g><g><path d="M41.8 23.3h0M38.7 7.0h0M45.1 19.5h0M41.2 11.1h0M49.2 11.9h0M37.1 19.5h0M39.4 15.1h0M35.5 20.3h0M35.5 26.2h0M42.7 25.7h0M25.2 13.2h0M69.3 19.3h0" stroke="#fff" stroke-opacity="0.25" stroke-width="0.5" stroke-linecap="round"/><path d="M49.3 13.7h0M56.0 27.7h0M26.6 25.5h0M56.2 23.5h0M51.2 14.7h0M55.5 16.5h0M62.4 8.6h0M46.2 30.9h0M37.8 19.1h0M38.9 9.1h0M52.9 12.5h0M33.9 24.7h0M39.4 18.4h0" stroke="#fff" stroke-opacity="0.5" stroke-width="0.5" stroke-linecap="round"/><path d="M43.1 20.4h0M38.6 7.5h0M53.0 17.8h0M28.5 17.1h0M26.0 18.7h0M40.4 3.7h0M61.7 33.7h0M38.3 19.6h0" stroke="#fff" stroke-opacity="0.5" stroke-width="1.0" stroke-linecap="round"/><path d="M44.9 17.8h0M38.6 11.0h0M55.7 22.5h0M53.9 15.1h0M70.8 20.0h0M52.1 25.7h0M45.6 13.1h0M47.1 24.1h0M57.8 20.2h0M46.6 12.6h0M33.2 12.7h0M66.4 13.6h0M33.4 22.0h0M54.0 21.1h0M47.5 9.9h0M58.8 22.0h0" stroke="#fff" stroke-opacity="0.25" stroke-width="1.0" stroke-linecap="round"/></g><path d="M0.00,66.00 L8.00,58.00 L16.00,50.00" fill="none" stroke="#8a8a8a" stroke-width="1.5" stroke-linejoin="round" stroke-linecap="round" opacity="0.5" filter="url(#bl05)"/><rect x="0" y="0" width="71.3" height="71.3" filter="url(#nf26)" opacity="1"/><text x="1.6" y="6.8" font-size="6.9" fill="#f4f4f4" textLength="31.6" lengthAdjust="spacingAndGlyphs">EGFR-RFP</text></svg>
<svg x="432.2" y="554.2" width="71.3" height="71.3" viewBox="0 0 71.3 71.3" overflow="hidden"><rect x="0" y="0" width="71.3" height="71.3" fill="#020202" /><g><path d="M34.8 55.4h0M29.4 37.0h0M29.5 34.2h0M39.2 40.3h0M31.5 50.8h0M36.0 39.4h0M46.2 44.4h0M34.0 57.4h0M38.9 36.6h0M32.4 51.7h0M29.6 43.6h0M31.8 45.3h0M35.9 41.7h0M34.7 60.3h0M37.2 52.8h0M31.5 47.9h0M28.4 51.3h0M25.8 47.3h0M29.3 40.2h0M36.3 42.3h0M24.9 53.4h0M34.5 53.4h0M31.3 47.6h0M39.5 42.7h0M35.1 41.0h0M37.5 47.2h0M40.8 39.3h0M29.7 42.9h0" stroke="#fff" stroke-opacity="0.5" stroke-width="0.5" stroke-linecap="round"/><path d="M26.8 46.5h0M31.7 51.3h0M23.7 43.8h0M35.8 51.3h0M35.8 40.7h0M34.5 51.0h0M24.1 53.3h0M38.6 41.7h0M34.4 46.4h0M31.7 49.8h0M31.1 50.4h0M29.3 48.0h0M31.4 39.7h0M24.4 39.1h0M28.3 49.3h0M36.4 44.3h0M34.1 37.9h0M27.9 42.4h0M29.5 38.1h0M31.3 41.6h0M28.6 49.1h0M32.9 49.6h0M35.6 45.5h0M31.6 49.6h0M26.2 48.2h0M34.0 38.8h0M20.5 47.1h0M32.8 39.7h0M32.8 47.3h0M29.0 47.1h0M31.3 50.8h0M37.8 51.4h0" stroke="#fff" stroke-opacity="0.5" stroke-width="1.0" stroke-linecap="round"/><path d="M28.4 35.0h0M34.0 56.1h0M31.5 48.3h0M30.1 45.4h0M22.4 43.2h0M38.3 41.6h0M34.0 44.9h0M30.2 43.6h0M32.7 55.6h0M28.2 52.8h0M33.6 50.3h0M31.1 47.3h0M31.5 49.3h0M32.4 56.9h0M33.5 47.0h0M25.6 54.4h0M34.3 61.2h0M33.4 36.1h0" stroke="#fff" stroke-opacity="1.0" stroke-width="1.0" stroke-linecap="round"/><path d="M32.3 51.1h0M33.3 57.1h0M30.1 39.1h0M37.7 52.5h0M27.6 56.8h0M26.5 37.0h0M28.9 48.8h0M29.3 40.0h0M30.0 46.8h0M28.0 49.4h0M35.7 56.8h0M32.4 34.6h0M33.8 41.3h0M35.6 49.7h0M26.0 53.0h0M36.7 46.8h0M31.8 48.5h0M32.0 48.9h0M35.4 44.6h0M25.4 48.3h0M30.4 52.5h0M31.3 43.9h0M29.0 29.6h0M33.9 42.3h0M26.3 44.3h0M32.0 48.5h0M26.1 61.9h0M42.3 47.6h0M29.1 40.8h0M29.5 52.9h0M32.0 54.8h0M26.7 56.0h0M25.6 42.8h0M36.3 58.8h0M33.3 36.8h0M36.1 40.8h0M26.5 45.4h0M35.2 37.6h0M34.8 46.3h0M28.8 38.8h0M31.5 53.4h0M29.8 40.1h0M26.8 49.4h0M32.4 44.8h0M29.0 52.2h0M30.9 30.2h0M33.9 47.4h0M30.7 49.1h0M28.7 39.5h0M41.9 41.1h0M32.9 44.6h0M36.9 38.4h0M25.7 42.0h0M30.1 31.5h0M37.7 30.1h0M39.0 42.8h0M36.4 48.9h0M28.0 33.1h0M32.1 51.8h0" stroke="#fff" stroke-opacity="0.75" stroke-width="1.0" stroke-linecap="round"/><path d="M32.8 51.8h0M28.6 39.0h0M35.2 43.7h0M29.8 39.3h0M40.3 34.8h0M25.8 45.6h0M36.2 34.2h0M35.0 37.3h0M37.6 41.9h0M27.9 62.3h0M31.6 48.1h0M31.8 48.6h0M28.4 54.9h0M20.4 26.2h0M34.5 56.1h0M35.6 47.4h0M33.2 45.3h0M29.2 46.9h0" stroke="#fff" stroke-opacity="1.0" stroke-width="0.5" stroke-linecap="round"/><path d="M34.2 48.1h0M35.4 41.4h0M26.7 40.4h0M29.8 44.7h0M31.5 45.4h0" stroke="#fff" stroke-opacity="0.25" stroke-width="0.5" stroke-linecap="round"/><path d="M19.2 42.6h0M29.7 44.3h0M30.6 44.7h0M29.8 39.1h0M31.4 51.2h0M29.7 61.2h0M36.3 33.6h0M32.2 50.4h0M33.8 54.9h0M34.3 29.7h0M31.4 63.3h0M36.6 42.1h0M27.3 24.8h0M33.7 37.9h0M32.5 44.4h0M36.4 44.2h0M30.9 44.4h0M31.5 56.4h0M30.1 41.2h0M24.9 45.6h0M28.5 60.7h0M25.4 39.5h0M30.3 49.0h0M30.0 37.8h0M26.6 38.9h0M25.3 48.7h0M44.1 45.2h0M27.0 49.3h0M32.9 44.1h0M28.2 44.7h0" stroke="#fff" stroke-opacity="0.75" stroke-width="0.5" stroke-linecap="round"/><path d="M42.2 62.0h0M24.6 45.1h0M34.7 44.2h0M31.2 47.3h0M42.9 37.7h0M33.2 56.7h0M35.7 36.5h0M36.1 39.1h0M32.4 40.6h0M31.6 45.9h0" stroke="#fff" stroke-opacity="0.25" stroke-width="1.0" stroke-linecap="round"/></g><g><path d="M45.8 36.4h0M56.5 46.9h0M43.5 46.2h0M55.7 43.6h0M42.6 47.0h0M50.3 48.7h0M44.8 39.2h0M55.0 44.3h0M42.3 42.7h0M44.1 38.1h0M53.5 48.2h0M55.0 42.9h0M55.8 44.0h0M47.4 49.2h0M48.7 49.2h0M48.4 37.3h0M55.8 41.7h0M55.3 42.7h0M55.2 41.4h0M46.3 48.2h0M48.1 49.5h0M45.8 49.4h0M48.1 50.4h0M48.7 37.1h0M55.2 48.1h0M43.6 42.5h0M41.8 43.4h0M56.7 45.4h0M48.2 50.7h0M51.7 50.0h0M41.1 45.6h0M44.7 48.6h0M51.6 38.6h0M56.1 45.1h0" stroke="#fff" stroke-opacity="0.75" stroke-width="1.0" stroke-linecap="round"/><path d="M49.7 37.9h0M50.2 50.1h0M48.8 50.1h0M44.6 48.5h0M49.0 48.9h0M46.8 49.8h0M50.1 49.1h0M54.1 37.0h0M42.0 43.6h0M42.9 42.6h0M43.9 47.1h0M43.3 42.7h0M42.5 41.8h0M45.3 47.9h0M48.1 36.8h0M52.3 38.4h0" stroke="#fff" stroke-opacity="0.5" stroke-width="1.0" stroke-linecap="round"/><path d="M46.8 38.0h0M49.9 37.2h0M43.6 44.8h0M46.4 37.4h0M55.7 38.6h0M50.7 50.0h0M45.2 37.6h0M47.5 49.2h0M47.8 49.8h0M43.7 45.2h0M42.9 47.8h0M54.9 44.3h0M48.9 36.8h0M51.3 49.1h0M50.7 49.1h0M45.5 38.6h0M51.3 49.7h0M41.8 44.3h0M45.0 48.3h0M54.8 46.4h0M51.2 49.5h0" stroke="#fff" stroke-opacity="0.5" stroke-width="0.5" stroke-linecap="round"/><path d="M54.4 48.6h0M45.0 46.4h0M47.1 38.1h0M44.2 49.0h0M43.1 47.3h0M47.0 50.3h0M45.0 47.6h0M55.7 46.5h0" stroke="#fff" stroke-opacity="1.0" stroke-width="0.5" stroke-linecap="round"/><path d="M45.2 38.7h0M53.6 48.5h0M51.9 37.5h0M49.0 36.0h0M42.9 43.3h0M54.4 38.0h0M44.5 43.8h0" stroke="#fff" stroke-opacity="1.0" stroke-width="1.0" stroke-linecap="round"/><path d="M55.7 44.6h0M43.9 47.8h0M46.5 49.0h0M55.8 46.4h0M42.6 43.1h0M55.3 45.9h0M43.7 40.2h0M43.7 40.2h0M54.7 43.7h0" stroke="#fff" stroke-opacity="0.25" stroke-width="1.0" stroke-linecap="round"/><path d="M53.0 48.2h0M46.2 49.7h0M56.4 45.8h0M47.2 38.0h0M51.0 49.3h0M43.3 45.2h0M42.3 42.6h0M50.6 49.0h0M49.0 50.8h0M43.9 47.0h0M54.9 38.1h0M42.7 43.2h0M45.9 48.4h0M48.4 36.6h0" stroke="#fff" stroke-opacity="0.75" stroke-width="0.5" stroke-linecap="round"/><path d="M55.8 44.6h0" stroke="#fff" stroke-opacity="0.25" stroke-width="0.5" stroke-linecap="round"/></g><g><path d="M66.8 57.9h0M58.3 61.2h0M63.7 55.8h0M65.4 40.9h0M67.0 60.1h0M59.3 52.4h0M63.9 47.6h0M70.1 59.3h0M71.0 46.2h0M69.2 41.7h0M61.7 63.6h0M65.5 65.2h0M62.7 62.0h0M59.6 42.0h0M62.4 47.1h0M57.7 53.7h0M63.1 56.0h0M61.4 55.5h0" stroke="#fff" stroke-opacity="0.5" stroke-width="0.5" stroke-linecap="round"/><path d="M65.4 41.2h0M66.8 51.8h0M58.8 54.7h0M68.6 48.5h0M61.0 55.3h0M63.9 53.0h0M66.0 52.2h0M65.0 45.2h0M60.7 53.2h0M65.5 61.2h0M63.7 38.0h0M65.1 50.9h0" stroke="#fff" stroke-opacity="0.25" stroke-width="1.0" stroke-linecap="round"/><path d="M70.3 53.4h0M55.3 53.3h0M69.3 56.7h0M55.1 52.6h0M68.6 47.2h0M58.3 65.7h0M65.5 66.2h0M57.7 40.0h0M69.7 49.5h0M61.4 42.3h0M64.2 67.9h0M63.9 56.6h0M61.6 50.1h0M67.1 57.2h0M61.4 63.4h0M67.3 48.6h0M65.4 45.1h0M64.0 46.3h0M67.0 56.9h0M64.4 57.7h0M68.5 70.5h0M63.0 34.0h0M61.2 40.6h0M65.0 50.8h0M65.2 56.3h0M57.5 51.4h0M64.4 44.7h0M58.9 55.6h0M60.1 43.3h0M54.5 55.0h0" stroke="#fff" stroke-opacity="0.5" stroke-width="1.0" stroke-linecap="round"/><path d="M66.9 48.1h0M64.7 58.5h0M68.5 46.8h0M67.7 47.2h0M61.7 52.7h0M58.7 49.7h0M58.4 46.1h0M60.0 55.0h0M65.6 41.4h0M63.4 48.9h0M56.9 56.1h0" stroke="#fff" stroke-opacity="0.25" stroke-width="0.5" stroke-linecap="round"/><path d="M60.3 44.8h0M64.3 53.6h0M57.6 44.9h0M61.3 49.1h0M70.1 67.4h0M58.8 58.4h0M64.1 55.5h0M67.0 56.2h0M62.7 61.9h0M68.0 58.3h0M66.4 56.3h0M61.5 59.3h0M63.3 57.0h0M62.3 51.4h0M56.5 51.0h0M67.9 57.7h0M64.2 44.1h0M65.1 55.4h0" stroke="#fff" stroke-opacity="0.75" stroke-width="0.5" stroke-linecap="round"/><path d="M63.8 59.2h0M68.0 57.5h0M67.8 59.8h0M65.3 47.8h0M57.9 53.6h0M66.2 53.9h0M56.3 56.4h0M65.9 47.9h0M60.0 42.3h0M60.4 46.3h0M61.6 46.7h0M61.6 51.7h0M59.7 51.2h0M60.8 53.0h0M67.2 60.7h0M59.6 54.9h0M55.5 47.5h0M60.2 47.9h0M62.3 48.1h0M59.3 48.9h0M62.7 47.6h0" stroke="#fff" stroke-opacity="0.75" stroke-width="1.0" stroke-linecap="round"/><path d="M67.9 56.6h0M63.6 51.5h0M63.9 52.3h0M63.3 45.4h0" stroke="#fff" stroke-opacity="1.0" stroke-width="0.5" stroke-linecap="round"/><path d="M66.0 51.2h0M64.3 59.0h0M60.4 42.8h0" stroke="#fff" stroke-opacity="1.0" stroke-width="1.0" stroke-linecap="round"/></g><g><path d="M56.9 29.2h0M41.3 34.6h0M65.0 19.3h0M62.5 27.7h0M48.2 30.9h0M55.1 20.9h0M24.3 36.6h0M46.7 20.4h0M16.0 30.5h0M38.7 22.2h0M43.8 23.5h0" stroke="#fff" stroke-opacity="0.75" stroke-width="0.5" stroke-linecap="round"/><path d="M39.4 29.2h0M41.4 22.6h0M60.7 22.5h0M37.7 26.7h0M55.9 29.5h0M48.5 27.9h0M38.6 21.9h0M38.9 27.8h0M52.6 26.0h0M43.0 26.2h0M43.0 16.0h0M42.1 25.5h0M33.2 21.9h0M34.9 26.9h0M50.0 20.9h0M39.4 36.0h0M51.7 34.1h0M47.1 21.8h0M48.8 26.8h0M42.8 21.9h0M26.9 20.9h0M59.3 23.2h0M67.4 22.2h0M48.9 23.2h0M46.5 21.8h0M39.7 29.9h0M48.5 26.3h0M61.2 24.9h0M36.8 29.9h0M33.4 23.7h0" stroke="#fff" stroke-opacity="0.25" stroke-width="0.5" stroke-linecap="round"/><path d="M44.0 28.6h0M29.8 26.0h0M36.2 21.0h0M53.1 17.0h0M37.7 21.2h0M57.0 26.8h0M57.8 28.5h0M49.1 29.6h0M42.1 15.8h0M50.8 32.2h0M41.4 22.0h0M38.9 32.1h0M38.2 26.7h0M33.9 27.5h0M38.8 28.4h0M50.3 24.2h0M15.9 27.8h0M44.2 30.7h0M29.6 35.9h0M52.3 30.2h0" stroke="#fff" stroke-opacity="0.25" stroke-width="1.0" stroke-linecap="round"/><path d="M42.4 29.5h0M51.1 23.8h0M23.8 29.5h0M40.4 22.0h0M32.1 17.0h0M52.5 41.4h0M49.1 28.2h0M28.8 35.3h0" stroke="#fff" stroke-opacity="0.75" stroke-width="1.0" stroke-linecap="round"/><path d="M36.3 15.7h0M47.3 23.6h0M32.1 26.1h0M57.5 24.2h0M41.3 25.7h0M27.6 26.6h0M40.0 31.5h0M50.1 20.0h0M45.6 26.0h0M44.9 31.0h0M43.7 18.6h0M47.5 31.8h0M31.2 25.1h0M47.4 30.0h0M59.2 29.4h0M54.0 28.4h0M40.1 22.3h0M62.9 31.8h0M45.7 27.3h0M22.1 32.5h0M52.2 25.4h0M34.4 23.2h0M50.3 28.3h0M27.1 20.8h0M29.9 36.1h0M57.4 26.9h0" stroke="#fff" stroke-opacity="0.5" stroke-width="0.5" stroke-linecap="round"/><path d="M51.3 23.7h0M45.5 30.8h0M39.3 23.7h0M60.1 29.0h0M60.6 18.5h0M47.4 18.9h0M34.7 19.3h0M53.9 27.0h0M23.3 37.5h0M45.4 26.1h0M40.7 29.3h0M42.5 29.6h0M46.8 12.4h0M5.9 23.0h0M34.5 26.0h0M30.0 30.2h0M34.2 25.0h0M50.2 24.6h0M39.5 25.2h0M64.5 26.1h0M35.8 29.3h0M31.5 26.0h0M47.2 34.7h0M34.4 25.6h0M49.4 24.6h0" stroke="#fff" stroke-opacity="0.5" stroke-width="1.0" stroke-linecap="round"/></g><g><path d="M49.3 63.7h0M45.3 61.0h0M37.8 65.9h0M48.4 60.1h0M46.4 60.5h0M44.7 65.4h0M50.7 58.5h0" stroke="#fff" stroke-opacity="0.5" stroke-width="1.0" stroke-linecap="round"/><path d="M44.2 59.5h0M50.8 63.7h0M40.9 59.8h0M47.0 65.6h0M48.6 62.0h0M40.6 65.3h0M49.3 61.4h0M46.2 65.6h0M44.6 62.2h0M39.3 61.8h0" stroke="#fff" stroke-opacity="0.25" stroke-width="0.5" stroke-linecap="round"/><path d="M52.3 63.5h0M48.2 65.9h0M47.6 62.2h0M49.9 65.9h0M49.1 60.9h0M41.2 62.6h0" stroke="#fff" stroke-opacity="0.25" stroke-width="1.0" stroke-linecap="round"/><path d="M45.4 60.5h0M40.7 64.0h0M37.7 70.0h0M43.5 62.1h0M48.8 59.9h0M45.0 64.0h0M44.0 66.3h0M48.0 65.7h0M49.5 61.5h0M48.3 65.8h0M51.0 65.4h0" stroke="#fff" stroke-opacity="0.5" stroke-width="0.5" stroke-linecap="round"/><path d="M52.4 62.4h0M50.1 61.3h0M46.4 70.2h0M45.9 64.9h0" stroke="#fff" stroke-opacity="0.75" stroke-width="0.5" stroke-linecap="round"/><path d="M39.5 65.1h0M51.0 65.0h0" stroke="#fff" stroke-opacity="0.75" stroke-width="1.0" stroke-linecap="round"/></g><g><path d="M50.0 15.8h0M50.3 16.1h0M53.8 10.2h0M49.4 12.2h0M43.2 10.9h0M50.5 12.2h0" stroke="#fff" stroke-opacity="0.5" stroke-width="1.0" stroke-linecap="round"/><path d="M51.8 3.4h0M56.5 10.4h0M44.5 7.8h0M50.5 7.7h0M49.2 8.3h0M41.8 13.9h0M59.1 7.1h0M49.2 9.2h0M49.1 2.7h0M53.2 8.7h0M48.7 10.4h0M48.0 7.5h0M53.6 11.4h0M50.1 17.9h0M47.1 15.6h0M48.2 18.9h0M52.2 5.7h0" stroke="#fff" stroke-opacity="0.25" stroke-width="0.5" stroke-linecap="round"/><path d="M50.2 15.2h0M47.3 17.8h0M49.6 8.3h0M45.6 16.4h0M44.4 9.0h0M49.2 13.7h0M58.4 6.0h0M54.3 16.3h0" stroke="#fff" stroke-opacity="0.25" stroke-width="1.0" stroke-linecap="round"/><path d="M49.7 7.9h0M48.9 14.5h0M46.4 11.6h0M48.1 18.0h0M54.7 16.9h0M51.9 12.2h0M47.5 9.0h0M48.7 14.1h0M53.0 7.3h0" stroke="#fff" stroke-opacity="0.5" stroke-width="0.5" stroke-linecap="round"/></g><g><path d="M18.6 61.0h0M16.1 64.7h0M27.6 60.0h0M19.7 62.9h0M20.9 49.5h0M23.9 60.1h0M22.9 62.4h0M19.8 65.2h0M2.9 57.6h0M12.6 54.5h0M18.2 65.2h0M15.5 48.1h0M22.6 60.4h0M15.5 63.6h0" stroke="#fff" stroke-opacity="0.25" stroke-width="0.5" stroke-linecap="round"/><path d="M20.0 60.0h0M15.3 64.4h0M25.2 61.6h0M28.1 61.8h0M16.0 60.3h0" stroke="#fff" stroke-opacity="0.5" stroke-width="0.5" stroke-linecap="round"/><path d="M25.9 60.0h0M15.8 50.4h0" stroke="#fff" stroke-opacity="0.25" stroke-width="1.0" stroke-linecap="round"/><path d="M18.1 59.7h0M22.0 58.0h0M23.3 56.6h0M32.2 62.2h0" stroke="#fff" stroke-opacity="0.5" stroke-width="1.0" stroke-linecap="round"/></g><text x="1.6" y="6.8" font-size="6.9" fill="#f4f4f4" textLength="37.6" lengthAdjust="spacingAndGlyphs">LAMP1-SNAP</text></svg>
<svg x="506.2" y="554.2" width="71.3" height="71.3" viewBox="0 0 71.3 71.3" overflow="hidden"><rect x="0" y="0" width="71.3" height="71.3" filter="url(#nf27)" opacity="1"/><ellipse cx="36.00" cy="46.00" rx="18.00" ry="18.00" fill="#a01212" opacity="0.5" filter="url(#bl4)"/><path d="M20.00,29.00 L21.00,40.00 L27.00,43.00" fill="none" stroke="#e01c1c" stroke-width="1.5" stroke-linejoin="round" stroke-linecap="round" opacity="0.7" filter="url(#bl05)"/><path d="M20.00,28.00 L31.00,26.00 L42.00,31.00" fill="none" stroke="#e01c1c" stroke-width="1.5" stroke-linejoin="round" stroke-linecap="round" opacity="0.7" filter="url(#bl05)"/><path d="M0.00,60.00 L10.00,66.00 L14.00,72.00" fill="none" stroke="#e01c1c" stroke-width="1.5" stroke-linejoin="round" stroke-linecap="round" opacity="0.7" filter="url(#bl05)"/><ellipse cx="13.00" cy="6.50" rx="6.00" ry="6.00" fill="#3434d0" opacity="0.75" filter="url(#bl1)"/><ellipse cx="44.00" cy="13.00" rx="6.00" ry="7.00" fill="#3434d0" opacity="0.75" filter="url(#bl1)"/><ellipse cx="6.50" cy="51.70" rx="6.00" ry="6.00" fill="#3434d0" opacity="0.75" filter="url(#bl1)"/><ellipse cx="19.00" cy="64.00" rx="6.00" ry="6.00" fill="#3434d0" opacity="0.75" filter="url(#bl1)"/><ellipse cx="48.30" cy="44.00" rx="5.30" ry="5.30" fill="#3434d0" opacity="0.75" filter="url(#bl1)"/><g><path d="M27.7 35.4h0M35.8 52.4h0M32.6 50.9h0M25.2 56.4h0M39.2 55.5h0M35.6 28.8h0M26.0 50.6h0M30.8 55.9h0M31.2 45.3h0M29.8 43.5h0M32.0 43.7h0M26.7 38.6h0M34.9 43.4h0M34.4 47.4h0M36.1 58.2h0M28.9 37.9h0M33.1 56.6h0M30.5 53.6h0M30.2 45.9h0M39.1 32.1h0M33.9 58.4h0M41.7 47.4h0M33.5 52.3h0M20.1 49.3h0M33.6 46.2h0M39.1 49.6h0M34.1 30.7h0M34.8 46.1h0M30.2 51.6h0M31.0 55.0h0M31.4 51.0h0M26.7 48.8h0M32.5 45.1h0M36.2 46.4h0M25.7 65.2h0M29.9 49.2h0M24.1 37.6h0M35.7 37.3h0M34.7 34.0h0M27.3 33.8h0M37.0 49.6h0M30.8 59.6h0M22.1 47.5h0M30.1 48.0h0M25.1 60.2h0M34.9 29.0h0M35.5 55.5h0M23.5 45.3h0M29.8 48.5h0M36.1 49.0h0M29.1 41.6h0M37.3 44.1h0M27.4 51.4h0M33.8 52.5h0M39.9 52.0h0M31.7 51.8h0M21.0 45.0h0M28.0 37.4h0M35.8 61.9h0M36.1 44.7h0M36.0 53.0h0M34.9 53.3h0M20.2 51.0h0M33.7 35.7h0M28.5 58.3h0M34.6 57.9h0M30.7 54.4h0M27.9 44.1h0M28.9 56.9h0M30.5 41.2h0M30.7 55.6h0M25.4 45.5h0M35.1 45.8h0M28.7 41.9h0M25.3 21.8h0M30.5 56.2h0M37.1 44.9h0M35.1 45.8h0M26.0 46.4h0M20.5 58.1h0M32.2 54.8h0M35.6 39.7h0M43.0 49.4h0M29.2 60.2h0M39.7 42.1h0M36.5 57.4h0M29.3 47.3h0M36.8 46.1h0M26.9 49.8h0M34.1 36.0h0M30.7 56.1h0M24.5 54.4h0M36.8 53.5h0M23.6 45.6h0M24.4 52.4h0M25.8 44.4h0M25.8 46.6h0M26.9 57.4h0M30.9 60.7h0M34.8 47.9h0M33.7 41.5h0M29.0 54.8h0M30.4 49.9h0M35.7 33.0h0M26.6 58.8h0M34.2 52.8h0M36.3 40.1h0M33.3 47.6h0M34.4 43.5h0M39.5 45.2h0M31.2 43.2h0M27.3 33.3h0M23.7 46.1h0M27.3 41.4h0M30.6 57.1h0M22.9 63.6h0M32.9 50.1h0M41.0 41.4h0M31.5 41.2h0M32.5 49.8h0M31.0 51.7h0M33.4 36.2h0M31.7 50.2h0M27.6 61.0h0M36.0 44.3h0M25.2 45.6h0M18.8 46.6h0M22.3 55.6h0M23.5 50.0h0M30.2 48.5h0M35.7 49.3h0M40.0 52.4h0M36.1 51.7h0M24.4 52.0h0M24.5 64.8h0M42.7 46.3h0" stroke="#c8c828" stroke-opacity="0.75" stroke-width="1.0" stroke-linecap="round"/><path d="M17.4 64.8h0M31.7 54.2h0M30.8 33.7h0M30.2 45.3h0M38.5 56.2h0M28.5 35.7h0M31.6 51.3h0M30.6 49.2h0M27.0 56.0h0M20.9 46.5h0M34.3 42.5h0M32.8 44.1h0M36.5 55.5h0M34.4 48.5h0M35.4 58.3h0M30.5 53.0h0M43.7 55.9h0M38.7 47.2h0M24.3 46.5h0M31.6 64.7h0M34.5 64.5h0M19.7 46.3h0M30.9 47.5h0M34.0 38.3h0M35.5 60.7h0M38.1 30.5h0M20.1 38.2h0M33.6 39.7h0M36.8 39.8h0M39.3 46.2h0M39.7 57.8h0M34.2 47.5h0M26.7 53.6h0M34.7 52.7h0M31.8 37.7h0M31.1 48.1h0M35.2 33.8h0M22.5 61.2h0M22.3 47.9h0M33.0 44.8h0M23.5 44.9h0M30.9 53.4h0M39.0 59.4h0M21.8 44.3h0M29.9 46.7h0M34.6 55.4h0M34.1 47.8h0M20.3 49.8h0M30.3 44.5h0M35.0 52.6h0M38.6 45.9h0M34.9 50.6h0M37.6 56.9h0M31.1 47.7h0M28.8 49.3h0M30.5 50.1h0M20.7 52.7h0M32.4 48.6h0M31.3 32.9h0M31.0 47.9h0M30.0 41.4h0M34.9 54.9h0M33.5 49.4h0M31.0 49.8h0M33.5 43.3h0M34.3 37.7h0M30.7 60.4h0M40.1 43.6h0M33.0 35.4h0M38.7 47.6h0M36.5 50.8h0M29.7 58.4h0M26.9 53.7h0M28.9 43.7h0M32.8 39.6h0M38.0 57.1h0" stroke="#c8c828" stroke-opacity="0.5" stroke-width="1.0" stroke-linecap="round"/><path d="M29.5 42.3h0M26.7 48.0h0M29.4 48.8h0M37.4 48.4h0M38.4 43.5h0M31.2 64.6h0M29.6 54.9h0M29.7 69.8h0M25.1 44.9h0M30.1 42.5h0M36.7 54.9h0M34.1 48.5h0M46.2 49.6h0M35.2 40.9h0M34.4 50.4h0M32.8 43.5h0M30.3 43.8h0M32.8 43.7h0M27.5 46.7h0M41.9 49.3h0M35.9 54.0h0M20.8 57.8h0M35.0 57.0h0M34.8 57.9h0M36.5 54.3h0M27.5 51.7h0M27.1 45.7h0M35.7 53.9h0M32.7 57.6h0M33.5 56.3h0M25.1 46.6h0M35.1 44.5h0M22.6 47.1h0M24.2 52.9h0M26.7 43.8h0M30.8 54.6h0M38.0 47.9h0M31.3 39.7h0M37.1 60.9h0M35.4 42.7h0M32.9 46.6h0M39.0 42.6h0M32.8 41.5h0M29.1 42.8h0M20.1 51.1h0M32.9 50.1h0M33.2 37.6h0M36.5 55.8h0M30.2 36.5h0M25.6 67.1h0M33.8 43.0h0M32.5 39.7h0M30.4 62.8h0M21.2 40.3h0M29.7 46.2h0M34.1 42.9h0M31.8 51.2h0M23.8 44.0h0M41.3 51.2h0M28.6 52.9h0M34.0 49.8h0" stroke="#c8c828" stroke-opacity="1.0" stroke-width="1.0" stroke-linecap="round"/><path d="M35.2 44.2h0M24.0 47.6h0M27.0 43.4h0M40.5 64.7h0M39.5 46.0h0M39.2 54.9h0M30.9 53.4h0M34.0 33.7h0M38.5 48.1h0M30.2 44.8h0M32.6 52.2h0M26.5 43.6h0M23.8 54.3h0M32.4 56.5h0" stroke="#c8c828" stroke-opacity="0.75" stroke-width="0.5" stroke-linecap="round"/><path d="M29.4 59.4h0M25.6 50.8h0M31.9 31.3h0M32.3 46.7h0" stroke="#c8c828" stroke-opacity="0.5" stroke-width="0.5" stroke-linecap="round"/><path d="M33.6 57.3h0M26.3 51.9h0M32.0 53.0h0M30.1 47.4h0M25.6 57.5h0M22.6 45.9h0" stroke="#c8c828" stroke-opacity="1.0" stroke-width="0.5" stroke-linecap="round"/><path d="M35.4 55.3h0M39.6 52.7h0M31.7 40.0h0M44.5 45.9h0M38.4 41.5h0M33.4 56.0h0M31.0 44.5h0" stroke="#c8c828" stroke-opacity="0.75" stroke-width="1.5" stroke-linecap="round"/><path d="M18.3 31.6h0M30.2 45.3h0M25.8 53.1h0M36.1 37.6h0" stroke="#c8c828" stroke-opacity="1.0" stroke-width="1.5" stroke-linecap="round"/><path d="M30.2 41.6h0M26.1 48.7h0M27.8 61.7h0M34.6 55.6h0M28.6 45.1h0M32.6 42.9h0M32.1 48.1h0M32.5 54.9h0M35.9 41.4h0" stroke="#c8c828" stroke-opacity="0.5" stroke-width="1.5" stroke-linecap="round"/></g><g><path d="M37.6 22.0h0M42.1 12.7h0M38.4 19.1h0M48.5 19.1h0M49.2 10.1h0M57.7 30.2h0M57.0 17.3h0M45.0 19.9h0M52.5 21.9h0M42.8 18.5h0M41.9 15.0h0M51.6 25.6h0M50.0 8.1h0M62.0 21.9h0M53.4 24.4h0M50.6 14.1h0M50.3 25.3h0M54.6 29.6h0M41.6 18.1h0M49.2 29.9h0M53.7 4.8h0M46.1 23.5h0M58.7 23.9h0M41.4 22.1h0M55.6 16.8h0M50.4 25.3h0M51.6 23.1h0M47.6 23.4h0M49.0 30.7h0M54.5 21.0h0M47.3 24.7h0M40.0 17.0h0M48.1 32.2h0M51.0 16.7h0M45.7 23.8h0M42.4 17.8h0M42.5 27.4h0M49.2 30.3h0M45.2 13.3h0M46.0 24.3h0M52.7 20.2h0M56.4 16.3h0M48.1 20.8h0M46.2 20.8h0M51.8 25.5h0M42.7 25.3h0M48.8 9.7h0M60.5 29.8h0M46.2 9.4h0M44.8 24.3h0M49.5 12.4h0M57.4 21.3h0M53.3 18.2h0" stroke="#b8c020" stroke-opacity="0.5" stroke-width="1.0" stroke-linecap="round"/><path d="M53.0 32.4h0M51.0 20.5h0M42.5 23.1h0M51.5 29.5h0M57.2 17.1h0M59.6 28.4h0M46.0 17.3h0M39.4 28.4h0M50.8 25.0h0M51.6 21.9h0M48.2 33.8h0M42.4 23.7h0M47.0 30.8h0M45.7 22.5h0M43.6 17.6h0M51.7 19.0h0M49.1 19.0h0M51.8 17.5h0M44.5 24.4h0M51.1 24.7h0M42.3 18.2h0M39.4 29.0h0M47.6 25.2h0M41.7 21.3h0M52.1 25.0h0M48.9 21.2h0M52.2 20.8h0M42.6 19.4h0M53.8 21.3h0M45.9 28.0h0M55.5 31.9h0M52.0 13.9h0M40.3 24.5h0M58.4 14.5h0M56.4 19.9h0M45.8 22.4h0M45.5 15.2h0M51.3 25.4h0M52.6 18.3h0" stroke="#b8c020" stroke-opacity="0.75" stroke-width="1.0" stroke-linecap="round"/><path d="M52.0 23.9h0M47.8 25.2h0M47.2 16.1h0M47.8 15.7h0M55.6 14.0h0M48.5 25.6h0" stroke="#b8c020" stroke-opacity="1.0" stroke-width="1.0" stroke-linecap="round"/><path d="M50.7 25.0h0M53.6 21.5h0M52.9 19.5h0M42.8 21.4h0M50.5 24.4h0M50.2 29.3h0M49.7 25.1h0M48.7 20.3h0M60.5 16.6h0M45.7 25.5h0M51.8 12.0h0M53.2 29.3h0M50.0 20.3h0M52.7 33.7h0M47.6 27.1h0M46.8 24.4h0M38.7 21.5h0M59.0 20.6h0M50.1 29.5h0M43.7 8.7h0M62.9 22.1h0M39.4 26.4h0M55.1 29.4h0" stroke="#b8c020" stroke-opacity="0.5" stroke-width="0.5" stroke-linecap="round"/><path d="M53.5 28.0h0M64.1 19.5h0M48.7 14.5h0M54.6 18.8h0M56.5 32.3h0M53.1 14.2h0M51.1 26.2h0M34.7 23.4h0M45.0 22.9h0M47.3 30.1h0M59.9 31.6h0M53.2 24.4h0M52.8 16.9h0M53.4 17.8h0M39.2 10.6h0" stroke="#b8c020" stroke-opacity="0.75" stroke-width="0.5" stroke-linecap="round"/><path d="M46.1 15.1h0M47.6 21.0h0M52.2 28.1h0" stroke="#b8c020" stroke-opacity="0.25" stroke-width="1.0" stroke-linecap="round"/><path d="M48.2 35.4h0" stroke="#b8c020" stroke-opacity="0.25" stroke-width="0.5" stroke-linecap="round"/></g><g><path d="M68.2 58.0h0M63.3 47.0h0M70.4 40.4h0M66.8 49.7h0M65.0 63.3h0M56.4 43.5h0M64.7 44.8h0M55.6 48.7h0M66.7 51.3h0M61.5 57.0h0M63.8 48.9h0M63.1 50.1h0M62.0 45.2h0M70.2 52.9h0M64.6 50.4h0M67.1 40.7h0M60.7 48.5h0" stroke="#b8c820" stroke-opacity="0.5" stroke-width="0.5" stroke-linecap="round"/><path d="M61.2 51.3h0M61.6 55.9h0M61.9 54.6h0M67.1 55.9h0M67.1 56.1h0M61.7 56.6h0M55.7 46.4h0M61.2 58.0h0M60.2 49.3h0M71.3 51.1h0" stroke="#b8c820" stroke-opacity="0.75" stroke-width="0.5" stroke-linecap="round"/><path d="M57.5 49.8h0M71.7 37.5h0M60.8 40.0h0M64.5 47.2h0M61.6 43.8h0M62.4 38.6h0M65.6 56.3h0M65.9 61.4h0M61.1 68.7h0M63.9 41.5h0M57.7 54.7h0M57.4 51.3h0M61.9 48.8h0M58.8 44.7h0M60.2 53.5h0M71.4 61.1h0M67.8 36.0h0M63.4 48.3h0M58.0 59.9h0M69.2 54.9h0M59.2 60.4h0M59.1 50.7h0M67.9 48.1h0M60.7 54.1h0M64.8 51.0h0M64.4 47.5h0M61.8 57.2h0M60.9 60.6h0M61.3 63.4h0M61.9 43.0h0M66.3 52.7h0M69.9 42.4h0M61.8 42.2h0M67.0 47.7h0M65.5 51.7h0" stroke="#b8c820" stroke-opacity="0.5" stroke-width="1.0" stroke-linecap="round"/><path d="M55.2 47.8h0M64.0 42.8h0M66.9 55.6h0M67.0 58.7h0M65.3 50.6h0M65.2 59.6h0M67.0 54.8h0M66.4 58.3h0M63.7 54.5h0M66.8 49.2h0M64.8 57.1h0M67.8 49.5h0M64.4 61.4h0M63.5 45.8h0M69.4 47.8h0M64.3 53.2h0M63.8 52.6h0M58.7 45.1h0M67.0 49.7h0M66.3 43.9h0M65.4 49.9h0M62.1 44.3h0M65.6 40.3h0M59.9 46.7h0M67.0 51.4h0M60.8 35.0h0M63.4 58.1h0M72.3 62.9h0M61.7 67.1h0M67.4 54.9h0M68.1 52.1h0M59.0 45.7h0M64.8 63.1h0M63.7 46.0h0M63.8 61.5h0M64.0 56.6h0M68.4 50.4h0M60.8 51.2h0M62.1 45.3h0M58.5 55.9h0" stroke="#b8c820" stroke-opacity="0.75" stroke-width="1.0" stroke-linecap="round"/><path d="M62.2 49.8h0M64.3 39.0h0" stroke="#b8c820" stroke-opacity="0.25" stroke-width="0.5" stroke-linecap="round"/><path d="M64.7 45.3h0M62.8 60.5h0M65.3 56.7h0" stroke="#b8c820" stroke-opacity="0.25" stroke-width="1.0" stroke-linecap="round"/><path d="M65.9 47.4h0" stroke="#b8c820" stroke-opacity="1.0" stroke-width="1.0" stroke-linecap="round"/></g><g><path d="M53.6 47.2h0M51.1 51.7h0M46.7 38.4h0M42.2 44.6h0M44.1 48.8h0M46.6 38.5h0M54.0 40.6h0M48.0 38.1h0M42.5 47.6h0M48.9 50.6h0M42.2 46.6h0M46.8 39.1h0M47.1 49.9h0M43.4 40.9h0M43.3 39.6h0M42.6 43.0h0M43.2 42.5h0M42.8 46.2h0M52.9 48.1h0M44.5 49.0h0M43.2 41.9h0M42.6 47.3h0M49.3 50.7h0" stroke="#70e030" stroke-opacity="0.75" stroke-width="1.0" stroke-linecap="round"/><path d="M42.7 44.6h0M43.3 41.2h0M53.1 39.3h0M54.0 42.2h0M50.6 51.4h0M54.1 44.0h0M43.8 48.9h0M43.4 41.8h0M42.1 44.8h0M54.3 41.5h0M45.0 38.5h0M48.1 37.5h0M41.9 42.9h0M47.8 50.5h0M43.2 40.5h0M54.5 44.2h0M42.8 48.4h0" stroke="#70e030" stroke-opacity="0.5" stroke-width="1.0" stroke-linecap="round"/><path d="M44.4 50.0h0M50.3 37.3h0M44.4 37.8h0M43.1 42.3h0M42.2 39.9h0M54.1 39.6h0M42.9 44.2h0M44.1 39.7h0M46.1 51.3h0M51.0 38.1h0M47.9 37.0h0M47.6 37.3h0M52.0 39.8h0M44.2 49.3h0M46.1 49.5h0M46.5 37.0h0M46.0 37.3h0M45.9 38.3h0M53.6 47.5h0M43.5 48.6h0M42.6 39.6h0M48.8 37.1h0M50.2 37.7h0M52.8 48.5h0" stroke="#70e030" stroke-opacity="1.0" stroke-width="1.0" stroke-linecap="round"/><path d="M46.8 50.8h0" stroke="#70e030" stroke-opacity="0.75" stroke-width="0.5" stroke-linecap="round"/><path d="M45.8 37.9h0M41.6 40.9h0" stroke="#70e030" stroke-opacity="0.5" stroke-width="0.5" stroke-linecap="round"/><path d="M53.7 42.3h0M49.0 51.2h0M49.1 49.2h0" stroke="#70e030" stroke-opacity="1.0" stroke-width="0.5" stroke-linecap="round"/></g><rect x="0" y="0" width="71.3" height="71.3" filter="url(#nf28)" opacity="1"/><rect x="35.20" y="42.00" width="17.40" height="18.00" fill="none" stroke="#e8e8e8" stroke-width="0.8"/><text x="1.6" y="6.8" font-size="6.9" fill="#f4f4f4" textLength="17.0" lengthAdjust="spacingAndGlyphs">Merge</text></svg>
<svg x="580.2" y="554.2" width="71.3" height="71.3" viewBox="0 0 71.3 71.3" overflow="hidden"><rect x="0" y="0" width="71.3" height="71.3" filter="url(#nf29)" opacity="1"/><path d="M34.00,0.00 L72.00,0.00 L72.00,24.00 L62.00,22.00 L48.00,20.00 L38.00,12.00 Z" fill="#2a2898" opacity="0.75" filter="url(#bl2)"/><ellipse cx="64.00" cy="66.00" rx="12.00" ry="10.00" fill="#2a2898" opacity="0.55" filter="url(#bl2)"/><ellipse cx="40.00" cy="30.00" rx="8.00" ry="12.00" fill="#200000" opacity="0.5" filter="url(#bl4)"/><g filter="url(#bl1)"><path d="M19.3 7.9h0M6.7 16.7h0M11.6 15.5h0M19.8 8.4h0" stroke="#a8c830" stroke-opacity="0.75" stroke-width="2.5" stroke-linecap="round"/><path d="M12.6 21.5h0M18.0 6.0h0" stroke="#a8c830" stroke-opacity="0.75" stroke-width="3.0" stroke-linecap="round"/><path d="M10.3 11.4h0" stroke="#a8c830" stroke-opacity="1.0" stroke-width="2.0" stroke-linecap="round"/><path d="M16.5 16.2h0M14.1 18.1h0M14.3 10.5h0M19.9 15.7h0M15.0 11.8h0M13.6 8.1h0" stroke="#a8c830" stroke-opacity="0.5" stroke-width="3.0" stroke-linecap="round"/><path d="M18.7 16.8h0M10.8 8.7h0M14.1 20.0h0" stroke="#a8c830" stroke-opacity="0.5" stroke-width="1.5" stroke-linecap="round"/><path d="M15.8 21.6h0M10.4 9.0h0M8.6 9.2h0M8.0 10.8h0M14.2 17.1h0M15.7 20.9h0M12.0 10.6h0M3.7 24.4h0M16.2 8.3h0M11.3 15.7h0" stroke="#a8c830" stroke-opacity="0.75" stroke-width="2.0" stroke-linecap="round"/><path d="M14.3 15.6h0M4.7 11.1h0M18.4 21.1h0" stroke="#a8c830" stroke-opacity="0.75" stroke-width="1.5" stroke-linecap="round"/><path d="M15.2 9.7h0M17.1 17.5h0M13.0 10.3h0M9.9 6.6h0M15.8 16.4h0M18.5 7.3h0M16.5 10.3h0M7.7 8.3h0M13.4 14.9h0M13.4 11.9h0" stroke="#a8c830" stroke-opacity="0.5" stroke-width="2.0" stroke-linecap="round"/><path d="M10.5 8.7h0" stroke="#a8c830" stroke-opacity="1.0" stroke-width="2.5" stroke-linecap="round"/><path d="M10.8 13.6h0M0.5 8.4h0M21.0 15.6h0" stroke="#a8c830" stroke-opacity="0.5" stroke-width="2.5" stroke-linecap="round"/><path d="M10.4 24.2h0" stroke="#a8c830" stroke-opacity="1.0" stroke-width="1.5" stroke-linecap="round"/></g><g filter="url(#bl1)"><path d="M7.1 46.0h0M4.2 23.2h0M10.2 23.0h0" stroke="#a8c830" stroke-opacity="0.75" stroke-width="2.0" stroke-linecap="round"/><path d="M6.0 28.1h0M5.8 40.1h0M3.5 26.7h0M5.0 24.7h0M11.3 39.1h0M13.2 43.1h0M8.0 30.1h0M12.2 44.8h0M7.5 52.1h0M6.7 44.5h0" stroke="#a8c830" stroke-opacity="0.75" stroke-width="2.5" stroke-linecap="round"/><path d="M5.0 52.3h0M3.1 29.3h0" stroke="#a8c830" stroke-opacity="0.75" stroke-width="1.5" stroke-linecap="round"/><path d="M3.3 36.9h0" stroke="#a8c830" stroke-opacity="1.0" stroke-width="3.0" stroke-linecap="round"/><path d="M4.0 26.3h0M14.0 25.0h0M8.2 43.7h0M5.9 16.0h0M2.8 40.5h0M9.1 43.3h0M14.1 25.7h0M2.3 32.1h0" stroke="#a8c830" stroke-opacity="0.5" stroke-width="2.0" stroke-linecap="round"/><path d="M3.6 35.6h0M4.3 20.1h0" stroke="#a8c830" stroke-opacity="0.5" stroke-width="2.5" stroke-linecap="round"/><path d="M8.7 33.1h0M2.8 35.8h0M9.1 40.6h0M12.8 40.1h0M3.7 35.6h0" stroke="#a8c830" stroke-opacity="0.75" stroke-width="3.0" stroke-linecap="round"/><path d="M12.9 35.7h0M9.8 40.8h0M10.7 27.0h0" stroke="#a8c830" stroke-opacity="0.5" stroke-width="1.5" stroke-linecap="round"/><path d="M12.6 57.5h0" stroke="#a8c830" stroke-opacity="0.5" stroke-width="3.0" stroke-linecap="round"/></g><g filter="url(#bl1)"><path d="M48.0 21.3h0M36.8 26.1h0M41.9 26.5h0" stroke="#a8c830" stroke-opacity="0.75" stroke-width="1.5" stroke-linecap="round"/><path d="M44.2 26.4h0M52.4 20.5h0M46.8 25.2h0M41.3 21.3h0" stroke="#a8c830" stroke-opacity="0.5" stroke-width="2.5" stroke-linecap="round"/><path d="M35.4 27.3h0M46.7 26.0h0M27.8 24.5h0M34.1 27.6h0M36.4 26.6h0M52.7 23.0h0M41.0 19.3h0M37.9 23.8h0M22.1 21.6h0" stroke="#a8c830" stroke-opacity="0.75" stroke-width="2.0" stroke-linecap="round"/><path d="M24.4 27.2h0M33.9 29.2h0M41.9 28.3h0M40.8 25.3h0M36.2 26.6h0M50.7 24.5h0M32.1 32.8h0" stroke="#a8c830" stroke-opacity="0.75" stroke-width="2.5" stroke-linecap="round"/><path d="M37.5 28.6h0" stroke="#a8c830" stroke-opacity="1.0" stroke-width="2.0" stroke-linecap="round"/><path d="M44.8 31.3h0M28.2 27.8h0" stroke="#a8c830" stroke-opacity="0.5" stroke-width="3.0" stroke-linecap="round"/><path d="M39.9 35.7h0M46.0 26.8h0M33.3 29.8h0M34.7 25.7h0M38.6 24.2h0M42.7 27.8h0M35.3 22.1h0M39.9 25.1h0M43.3 23.7h0" stroke="#a8c830" stroke-opacity="0.5" stroke-width="2.0" stroke-linecap="round"/><path d="M29.3 27.3h0" stroke="#a8c830" stroke-opacity="0.5" stroke-width="1.5" stroke-linecap="round"/><path d="M41.7 29.0h0M36.9 26.3h0M51.3 21.8h0" stroke="#a8c830" stroke-opacity="0.75" stroke-width="3.0" stroke-linecap="round"/><path d="M30.2 25.7h0" stroke="#a8c830" stroke-opacity="1.0" stroke-width="2.5" stroke-linecap="round"/></g><g filter="url(#bl1)"><path d="M40.1 52.7h0M29.1 56.8h0M36.6 62.2h0M38.9 59.9h0M40.0 61.2h0M45.0 60.2h0M51.2 66.7h0M26.7 52.6h0M48.0 48.4h0M42.1 45.3h0M30.3 54.9h0M57.3 61.0h0" stroke="#a8c830" stroke-opacity="0.5" stroke-width="2.0" stroke-linecap="round"/><path d="M30.9 58.9h0M42.8 54.6h0M29.0 58.7h0M28.9 42.6h0M43.9 58.2h0M42.2 56.1h0M32.2 59.2h0M46.5 50.2h0M32.5 62.2h0M44.6 62.5h0M48.4 66.4h0M27.9 69.4h0M35.5 58.5h0" stroke="#a8c830" stroke-opacity="0.75" stroke-width="2.0" stroke-linecap="round"/><path d="M34.1 58.8h0M40.9 64.8h0M38.2 49.3h0M42.4 61.1h0M41.2 58.4h0M33.2 45.7h0M45.0 58.7h0M34.9 58.4h0M34.7 55.5h0M48.1 51.6h0M39.3 59.4h0M49.8 64.4h0M33.9 43.7h0" stroke="#a8c830" stroke-opacity="0.75" stroke-width="2.5" stroke-linecap="round"/><path d="M57.1 53.1h0M45.3 54.5h0M33.4 50.2h0" stroke="#a8c830" stroke-opacity="0.5" stroke-width="1.5" stroke-linecap="round"/><path d="M38.5 66.6h0" stroke="#a8c830" stroke-opacity="1.0" stroke-width="3.0" stroke-linecap="round"/><path d="M32.2 59.3h0M32.4 61.0h0M41.7 58.0h0M44.6 61.9h0M41.2 46.8h0M34.9 58.7h0M47.9 49.0h0M43.2 52.5h0" stroke="#a8c830" stroke-opacity="0.5" stroke-width="2.5" stroke-linecap="round"/><path d="M49.5 55.4h0M23.3 56.3h0M19.9 57.1h0M29.6 43.9h0" stroke="#a8c830" stroke-opacity="0.75" stroke-width="1.5" stroke-linecap="round"/><path d="M49.1 49.1h0" stroke="#a8c830" stroke-opacity="0.5" stroke-width="3.0" stroke-linecap="round"/><path d="M51.2 48.2h0M36.9 62.3h0M32.4 56.9h0M34.7 55.3h0" stroke="#a8c830" stroke-opacity="0.75" stroke-width="3.0" stroke-linecap="round"/><path d="M49.2 59.5h0" stroke="#a8c830" stroke-opacity="1.0" stroke-width="2.5" stroke-linecap="round"/></g><g filter="url(#bl1)"><path d="M54.9 45.4h0M59.8 42.2h0M66.2 43.1h0" stroke="#a8c830" stroke-opacity="0.5" stroke-width="2.0" stroke-linecap="round"/><path d="M57.2 42.3h0" stroke="#a8c830" stroke-opacity="0.75" stroke-width="3.0" stroke-linecap="round"/><path d="M60.0 39.9h0M65.6 43.9h0" stroke="#a8c830" stroke-opacity="1.0" stroke-width="2.5" stroke-linecap="round"/><path d="M63.7 40.6h0" stroke="#a8c830" stroke-opacity="0.75" stroke-width="2.5" stroke-linecap="round"/><path d="M64.5 46.2h0M61.2 40.0h0M56.2 36.7h0" stroke="#a8c830" stroke-opacity="0.75" stroke-width="2.0" stroke-linecap="round"/><path d="M59.7 43.3h0" stroke="#a8c830" stroke-opacity="0.5" stroke-width="1.5" stroke-linecap="round"/><path d="M55.6 46.8h0" stroke="#a8c830" stroke-opacity="0.75" stroke-width="1.5" stroke-linecap="round"/></g><g filter="url(#bl1)"><path d="M1.9 51.6h0" stroke="#a8c830" stroke-opacity="0.75" stroke-width="2.5" stroke-linecap="round"/><path d="M8.4 47.7h0M11.9 52.0h0" stroke="#a8c830" stroke-opacity="0.5" stroke-width="3.0" stroke-linecap="round"/><path d="M9.7 57.4h0M17.4 59.0h0" stroke="#a8c830" stroke-opacity="0.75" stroke-width="1.5" stroke-linecap="round"/><path d="M19.4 59.4h0M9.8 51.9h0M11.0 52.9h0" stroke="#a8c830" stroke-opacity="0.75" stroke-width="2.0" stroke-linecap="round"/><path d="M8.0 61.4h0M15.6 51.4h0" stroke="#a8c830" stroke-opacity="0.5" stroke-width="2.0" stroke-linecap="round"/><path d="M10.5 54.0h0M9.4 56.9h0" stroke="#a8c830" stroke-opacity="0.5" stroke-width="1.5" stroke-linecap="round"/><path d="M5.7 55.5h0" stroke="#a8c830" stroke-opacity="1.0" stroke-width="3.0" stroke-linecap="round"/><path d="M3.7 52.1h0" stroke="#a8c830" stroke-opacity="0.5" stroke-width="2.5" stroke-linecap="round"/><path d="M5.1 52.5h0" stroke="#a8c830" stroke-opacity="0.75" stroke-width="3.0" stroke-linecap="round"/></g><g filter="url(#bl1)"><path d="M24.5 45.7h0M29.7 42.6h0" stroke="#a8c830" stroke-opacity="0.75" stroke-width="2.5" stroke-linecap="round"/><path d="M26.3 47.1h0" stroke="#a8c830" stroke-opacity="0.75" stroke-width="3.0" stroke-linecap="round"/><path d="M21.9 50.3h0M25.6 40.3h0" stroke="#a8c830" stroke-opacity="0.5" stroke-width="1.5" stroke-linecap="round"/><path d="M24.1 41.6h0M20.7 45.5h0" stroke="#a8c830" stroke-opacity="0.75" stroke-width="2.0" stroke-linecap="round"/><path d="M28.4 38.8h0M17.8 36.3h0" stroke="#a8c830" stroke-opacity="0.5" stroke-width="2.0" stroke-linecap="round"/><path d="M27.8 40.0h0" stroke="#a8c830" stroke-opacity="0.75" stroke-width="1.5" stroke-linecap="round"/><path d="M23.9 45.8h0" stroke="#a8c830" stroke-opacity="0.5" stroke-width="3.0" stroke-linecap="round"/><path d="M26.8 45.0h0" stroke="#a8c830" stroke-opacity="1.0" stroke-width="2.5" stroke-linecap="round"/></g><g filter="url(#bl05)"><path d="M29.6 56.7h0M9.3 68.1h0M47.2 13.9h0M41.7 23.8h0M27.0 11.5h0M59.9 61.8h0" stroke="#e07020" stroke-opacity="0.5" stroke-width="1.0" stroke-linecap="round"/><path d="M19.0 27.4h0M15.5 45.8h0M32.5 43.7h0M20.7 68.5h0M5.2 40.2h0M43.8 68.1h0M46.8 55.2h0M35.5 32.7h0M33.1 63.3h0M50.4 10.2h0M13.0 54.1h0M38.1 28.5h0M24.6 27.0h0M34.0 10.8h0M49.7 51.2h0" stroke="#e07020" stroke-opacity="0.5" stroke-width="1.5" stroke-linecap="round"/><path d="M5.0 13.3h0M36.1 19.9h0M27.4 59.2h0M17.2 47.3h0M59.7 34.9h0M14.7 65.0h0M55.7 1.6h0M10.9 18.0h0M29.1 21.8h0M54.9 54.7h0M39.2 18.7h0" stroke="#e07020" stroke-opacity="0.75" stroke-width="1.5" stroke-linecap="round"/><path d="M32.5 13.0h0M28.7 61.5h0M43.1 64.4h0M23.9 50.8h0M39.9 53.2h0M34.0 13.4h0M22.5 48.1h0" stroke="#e07020" stroke-opacity="0.25" stroke-width="1.5" stroke-linecap="round"/><path d="M24.3 45.0h0M39.8 25.5h0M2.7 13.2h0M37.4 15.1h0M12.7 27.1h0M23.7 33.5h0M18.8 9.3h0" stroke="#e07020" stroke-opacity="0.5" stroke-width="2.0" stroke-linecap="round"/><path d="M48.5 26.4h0M28.8 47.0h0M59.0 23.1h0M23.8 47.4h0M42.1 44.6h0" stroke="#e07020" stroke-opacity="0.75" stroke-width="2.0" stroke-linecap="round"/><path d="M38.0 -0.4h0M38.9 41.0h0" stroke="#e07020" stroke-opacity="0.25" stroke-width="2.0" stroke-linecap="round"/><path d="M35.6 30.1h0" stroke="#e07020" stroke-opacity="0.75" stroke-width="1.0" stroke-linecap="round"/><path d="M33.5 42.1h0M13.5 50.3h0" stroke="#e07020" stroke-opacity="0.25" stroke-width="1.0" stroke-linecap="round"/></g><ellipse cx="56.80" cy="30.50" rx="1.80" ry="1.80" fill="#ff2020" opacity="1" filter="url(#bl05)"/><ellipse cx="67.30" cy="25.20" rx="1.80" ry="1.80" fill="#ff2020" opacity="1" filter="url(#bl05)"/><rect x="0" y="0" width="71.3" height="71.3" filter="url(#nf30)" opacity="1"/><text x="1.6" y="6.8" font-size="6.9" fill="#f4f4f4" textLength="14.0" lengthAdjust="spacingAndGlyphs">Inset</text></svg>
<svg x="358.2" y="628.5" width="71.3" height="71.3" viewBox="0 0 71.3 71.3" overflow="hidden"><rect x="0" y="0" width="71.3" height="71.3" filter="url(#nf31)" opacity="1"/><ellipse cx="29.00" cy="20.00" rx="11.00" ry="8.00" fill="#2a2a2a" opacity="0.9" filter="url(#bl4)"/><ellipse cx="56.00" cy="13.00" rx="9.00" ry="8.00" fill="#262626" opacity="0.8" filter="url(#bl4)"/><ellipse cx="28.00" cy="54.00" rx="12.00" ry="7.00" fill="#2a2a2a" opacity="0.8" filter="url(#bl4)"/><g><path d="M8.1 53.6h0M6.5 55.7h0M3.7 46.0h0M0.1 48.8h0M5.4 48.3h0M12.4 42.1h0M6.0 53.7h0M11.7 50.7h0M10.2 45.4h0M11.6 50.8h0M5.7 45.6h0M14.2 38.5h0M9.0 42.4h0M7.0 43.5h0M3.8 44.8h0M4.5 48.3h0M7.7 44.6h0M6.7 46.3h0M2.3 42.7h0M2.2 48.0h0M5.3 58.1h0M6.7 53.4h0M9.2 45.0h0" stroke="#fff" stroke-opacity="0.5" stroke-width="1.0" stroke-linecap="round"/><path d="M2.1 46.9h0M8.9 42.1h0M2.9 48.5h0M2.7 49.1h0" stroke="#fff" stroke-opacity="0.5" stroke-width="0.5" stroke-linecap="round"/><path d="M5.1 48.5h0M5.5 43.6h0" stroke="#fff" stroke-opacity="0.75" stroke-width="1.5" stroke-linecap="round"/><path d="M3.0 47.0h0M1.2 48.5h0M3.7 43.5h0" stroke="#fff" stroke-opacity="0.5" stroke-width="1.5" stroke-linecap="round"/><path d="M9.2 54.6h0M9.3 47.9h0M9.5 47.3h0M-0.1 46.0h0M6.2 48.2h0M4.8 41.4h0M4.8 56.7h0" stroke="#fff" stroke-opacity="0.75" stroke-width="0.5" stroke-linecap="round"/><path d="M5.2 38.5h0M6.7 47.4h0M0.3 47.1h0M6.0 49.8h0M2.6 40.1h0M4.9 59.6h0M7.7 47.6h0M5.1 46.3h0M10.3 48.0h0M2.3 45.1h0M3.0 37.1h0M7.9 54.0h0M4.0 34.0h0M8.7 46.3h0M5.1 54.8h0M8.9 49.9h0M10.4 41.5h0M1.1 38.4h0M3.5 46.3h0M4.2 43.7h0" stroke="#fff" stroke-opacity="0.75" stroke-width="1.0" stroke-linecap="round"/><path d="M8.3 51.0h0M1.9 52.5h0M2.9 49.7h0M0.5 52.5h0M5.3 41.6h0M3.7 51.0h0" stroke="#fff" stroke-opacity="0.25" stroke-width="1.0" stroke-linecap="round"/><path d="M6.8 45.5h0M2.2 47.1h0" stroke="#fff" stroke-opacity="0.25" stroke-width="0.5" stroke-linecap="round"/><path d="M9.7 35.5h0" stroke="#fff" stroke-opacity="0.25" stroke-width="1.5" stroke-linecap="round"/></g><g><path d="M28.2 55.4h0M38.3 54.3h0M31.7 56.8h0M32.8 48.0h0M31.0 49.5h0M29.5 54.1h0M26.0 51.2h0M30.8 46.5h0M29.8 54.8h0M25.9 50.5h0M23.5 53.2h0M28.5 53.2h0M20.0 58.4h0M36.7 48.0h0M26.4 51.3h0M30.5 54.1h0M27.5 47.7h0M39.0 53.7h0M35.4 59.2h0M36.9 56.8h0M23.5 49.7h0M31.6 57.4h0M33.8 53.6h0M26.5 50.5h0M28.3 48.1h0M18.0 48.8h0" stroke="#fff" stroke-opacity="0.5" stroke-width="1.0" stroke-linecap="round"/><path d="M35.7 62.4h0M38.2 53.6h0M27.8 48.2h0M20.8 55.5h0" stroke="#fff" stroke-opacity="0.75" stroke-width="0.5" stroke-linecap="round"/><path d="M39.0 50.5h0M37.8 53.2h0M28.7 54.4h0M35.2 55.0h0M35.6 50.1h0M7.4 46.6h0M37.5 46.1h0M21.1 50.3h0M21.3 58.5h0M27.4 48.2h0M34.4 54.1h0M32.1 46.5h0M15.0 60.5h0" stroke="#fff" stroke-opacity="0.5" stroke-width="0.5" stroke-linecap="round"/><path d="M14.8 55.4h0M32.4 45.8h0M26.1 58.4h0M36.6 55.0h0M44.4 49.6h0M27.7 45.7h0M31.5 46.0h0M26.6 49.9h0M23.8 58.0h0M39.3 58.8h0M19.4 47.5h0M32.1 58.9h0M38.3 48.7h0M35.0 61.2h0M22.0 60.4h0" stroke="#fff" stroke-opacity="0.25" stroke-width="1.0" stroke-linecap="round"/><path d="M33.4 45.7h0M36.9 50.9h0M36.2 59.6h0M26.9 50.5h0M23.2 57.4h0M20.1 55.6h0M41.7 54.6h0M21.4 56.6h0M17.9 53.1h0M35.6 52.1h0M24.7 55.8h0M20.9 54.3h0M25.6 52.6h0M17.5 49.6h0M34.9 53.2h0M23.7 48.0h0M19.1 58.7h0M23.8 46.8h0M25.1 50.7h0M20.2 48.7h0" stroke="#fff" stroke-opacity="0.75" stroke-width="1.0" stroke-linecap="round"/><path d="M28.8 46.3h0M24.7 47.7h0M31.6 49.5h0M29.5 54.2h0M29.4 58.4h0" stroke="#fff" stroke-opacity="0.25" stroke-width="0.5" stroke-linecap="round"/><path d="M14.0 51.2h0M26.5 51.1h0M32.5 51.2h0M28.0 46.5h0M32.8 50.9h0M39.2 48.4h0" stroke="#fff" stroke-opacity="0.5" stroke-width="1.5" stroke-linecap="round"/><path d="M31.6 52.3h0" stroke="#fff" stroke-opacity="0.75" stroke-width="1.5" stroke-linecap="round"/></g><g><path d="M42.9 52.3h0M45.3 57.9h0" stroke="#fff" stroke-opacity="0.75" stroke-width="1.5" stroke-linecap="round"/><path d="M40.0 61.1h0M47.4 50.1h0M39.5 59.9h0M43.9 56.8h0M42.1 61.2h0M40.8 46.7h0M38.9 55.3h0" stroke="#fff" stroke-opacity="0.25" stroke-width="1.0" stroke-linecap="round"/><path d="M42.8 59.8h0M45.4 62.0h0M46.8 62.1h0M45.4 53.0h0M45.0 63.8h0" stroke="#fff" stroke-opacity="0.25" stroke-width="0.5" stroke-linecap="round"/><path d="M39.1 60.4h0M45.9 63.5h0M41.2 52.7h0" stroke="#fff" stroke-opacity="0.75" stroke-width="0.5" stroke-linecap="round"/><path d="M46.7 61.8h0M46.3 57.5h0M44.6 55.1h0M47.0 51.5h0M47.2 56.8h0M45.0 61.9h0M43.1 61.6h0M44.7 61.5h0M45.1 56.7h0M44.0 52.8h0M39.5 56.2h0M49.1 56.4h0M40.0 61.7h0M47.8 55.1h0M50.5 64.3h0M45.6 64.1h0" stroke="#fff" stroke-opacity="0.5" stroke-width="1.0" stroke-linecap="round"/><path d="M43.3 53.0h0M46.1 61.1h0M46.6 56.2h0M44.0 61.5h0M42.9 61.8h0M37.7 48.6h0M48.1 62.0h0M41.6 54.9h0M46.3 51.7h0M43.0 54.0h0M39.1 56.2h0M43.7 68.0h0M41.3 65.7h0M45.9 63.9h0M37.7 65.3h0M43.2 60.1h0" stroke="#fff" stroke-opacity="0.75" stroke-width="1.0" stroke-linecap="round"/><path d="M42.3 48.8h0M43.1 66.6h0M50.0 62.6h0M42.9 53.0h0M38.6 52.5h0M46.6 52.8h0" stroke="#fff" stroke-opacity="0.5" stroke-width="0.5" stroke-linecap="round"/><path d="M44.1 55.7h0M43.6 65.4h0M45.9 60.8h0" stroke="#fff" stroke-opacity="0.5" stroke-width="1.5" stroke-linecap="round"/><path d="M42.6 60.3h0M43.6 53.0h0" stroke="#fff" stroke-opacity="1.0" stroke-width="1.0" stroke-linecap="round"/></g><g><path d="M53.7 51.5h0M57.6 49.0h0M51.7 52.2h0M64.1 50.6h0M61.6 49.4h0M46.9 53.1h0M48.2 44.5h0" stroke="#fff" stroke-opacity="0.25" stroke-width="0.5" stroke-linecap="round"/><path d="M57.6 53.7h0M50.5 55.0h0M60.2 48.1h0M62.7 50.5h0M59.2 48.7h0M56.6 54.5h0M55.2 55.2h0M67.6 52.8h0M50.2 50.3h0M49.9 46.2h0M59.8 54.3h0M71.8 49.2h0M63.4 54.7h0" stroke="#fff" stroke-opacity="0.5" stroke-width="0.5" stroke-linecap="round"/><path d="M63.8 45.8h0M61.1 47.9h0M63.7 53.7h0M66.4 50.5h0M61.3 48.2h0M56.5 63.8h0M58.9 53.1h0" stroke="#fff" stroke-opacity="0.5" stroke-width="1.0" stroke-linecap="round"/><path d="M64.6 55.9h0M53.1 48.4h0M43.9 52.5h0M60.2 54.3h0M51.3 48.9h0M55.2 43.5h0M57.4 51.1h0M58.3 49.9h0M64.3 52.7h0M46.8 51.0h0M54.8 45.4h0M53.6 52.4h0M61.6 60.9h0" stroke="#fff" stroke-opacity="0.25" stroke-width="1.0" stroke-linecap="round"/></g><g><path d="M26.3 25.6h0M36.1 30.6h0M34.1 16.7h0M29.7 20.7h0M12.2 18.2h0M35.7 20.5h0M35.4 28.4h0M34.6 11.1h0M4.1 22.8h0M14.0 15.2h0M42.1 21.1h0M40.5 26.7h0M40.2 23.6h0M30.5 20.5h0M16.6 20.5h0M30.5 14.9h0M44.8 19.3h0M19.8 17.6h0M6.0 26.7h0M22.5 15.0h0M44.0 26.4h0M32.0 17.2h0M23.4 25.3h0M21.1 16.2h0M22.2 22.0h0M31.1 18.2h0M21.1 20.7h0M17.7 24.4h0M33.2 27.8h0" stroke="#fff" stroke-opacity="0.25" stroke-width="0.5" stroke-linecap="round"/><path d="M20.9 17.1h0M30.6 16.7h0M25.9 17.3h0M22.7 22.1h0M36.4 22.2h0M26.4 21.7h0M19.5 26.4h0M33.9 17.7h0M40.6 19.6h0M23.4 24.7h0M31.7 14.7h0M30.3 7.8h0M38.6 12.8h0M24.4 18.7h0M25.6 26.0h0M40.3 12.4h0" stroke="#fff" stroke-opacity="0.25" stroke-width="1.0" stroke-linecap="round"/><path d="M39.0 21.8h0M34.5 21.8h0" stroke="#fff" stroke-opacity="0.5" stroke-width="1.0" stroke-linecap="round"/><path d="M12.6 21.1h0M30.9 8.2h0M33.6 29.2h0" stroke="#fff" stroke-opacity="0.5" stroke-width="0.5" stroke-linecap="round"/></g><g><path d="M63.3 11.1h0M63.6 14.7h0M58.7 23.3h0M67.5 24.9h0M43.3 8.3h0M43.2 8.9h0M49.8 14.9h0M38.3 12.9h0M58.9 18.2h0M70.1 13.7h0M61.7 12.4h0M37.1 8.6h0M53.3 6.7h0M60.8 16.4h0M50.4 14.0h0M54.4 6.5h0M68.6 11.7h0M48.1 10.0h0M56.0 18.6h0M60.9 11.4h0M56.9 9.9h0" stroke="#fff" stroke-opacity="0.25" stroke-width="0.5" stroke-linecap="round"/><path d="M71.3 5.9h0M59.5 15.7h0M56.5 13.2h0M46.5 11.5h0M57.1 14.1h0M48.2 12.1h0M59.1 16.0h0M60.5 10.1h0M59.6 13.5h0M59.6 11.3h0M54.3 6.9h0" stroke="#fff" stroke-opacity="0.25" stroke-width="1.0" stroke-linecap="round"/><path d="M50.0 19.6h0M57.6 13.0h0" stroke="#fff" stroke-opacity="0.5" stroke-width="1.0" stroke-linecap="round"/></g><g><path d="M7.9 31.5h0M10.1 27.8h0M7.4 29.9h0M17.2 33.2h0M6.5 30.9h0M16.4 27.0h0M14.7 30.3h0M5.9 37.6h0M10.4 30.8h0" stroke="#fff" stroke-opacity="0.5" stroke-width="0.5" stroke-linecap="round"/><path d="M18.5 37.8h0M10.6 31.5h0" stroke="#fff" stroke-opacity="0.5" stroke-width="1.0" stroke-linecap="round"/><path d="M14.1 34.7h0" stroke="#fff" stroke-opacity="0.25" stroke-width="1.0" stroke-linecap="round"/><path d="M11.1 34.1h0M15.2 29.8h0M13.1 34.4h0" stroke="#fff" stroke-opacity="0.25" stroke-width="0.5" stroke-linecap="round"/></g><text x="1.6" y="6.8" font-size="6.9" fill="#f4f4f4" textLength="31.6" lengthAdjust="spacingAndGlyphs">EGFR-RFP</text></svg>
<svg x="432.2" y="628.5" width="71.3" height="71.3" viewBox="0 0 71.3 71.3" overflow="hidden"><rect x="0" y="0" width="71.3" height="71.3" fill="#020202" /><g><path d="M28.2 21.1h0M20.5 14.2h0M33.4 24.2h0M19.5 15.5h0M14.6 15.2h0M31.5 20.5h0M22.4 25.0h0M10.0 18.1h0M18.3 28.4h0M34.5 16.2h0M28.5 22.5h0" stroke="#fff" stroke-opacity="1.0" stroke-width="0.5" stroke-linecap="round"/><path d="M25.6 24.8h0M28.5 19.2h0M33.4 30.7h0M20.8 29.7h0M27.9 19.8h0M10.1 19.6h0M31.8 18.8h0M11.3 23.6h0M33.4 22.8h0M29.8 30.1h0M25.3 26.5h0M23.4 24.7h0M24.6 16.1h0M25.4 23.6h0M5.1 21.6h0M22.5 24.6h0M28.1 28.1h0M29.0 27.4h0M23.8 20.2h0M30.2 25.4h0M12.2 24.8h0M19.8 30.3h0M21.6 23.5h0M27.6 15.2h0M20.7 18.3h0" stroke="#fff" stroke-opacity="0.5" stroke-width="1.0" stroke-linecap="round"/><path d="M9.1 13.7h0M18.8 27.0h0M27.2 11.1h0M16.7 30.1h0M24.1 21.5h0M31.9 17.3h0M29.1 21.4h0M26.7 17.3h0M19.4 20.7h0M15.3 30.5h0M37.5 26.8h0M19.4 21.2h0" stroke="#fff" stroke-opacity="1.0" stroke-width="1.0" stroke-linecap="round"/><path d="M23.3 20.2h0M22.1 25.6h0M36.8 18.1h0M18.7 31.7h0M14.4 21.7h0M29.9 19.4h0M23.1 20.2h0M13.5 20.8h0M26.7 28.7h0M29.1 15.9h0M31.1 15.9h0M43.3 24.0h0M36.0 18.5h0M25.7 19.3h0M33.1 17.9h0M35.6 24.7h0M25.2 17.8h0M24.7 18.9h0M24.4 25.2h0M23.9 22.8h0M18.9 18.1h0M32.6 18.8h0M23.1 32.1h0" stroke="#fff" stroke-opacity="0.75" stroke-width="1.0" stroke-linecap="round"/><path d="M33.2 19.9h0M44.2 26.1h0M31.6 23.4h0M23.7 24.2h0M22.1 20.9h0M27.3 18.4h0M15.2 32.0h0M12.8 23.5h0M19.0 19.9h0M34.4 33.9h0M25.7 32.7h0M25.0 27.5h0" stroke="#fff" stroke-opacity="0.25" stroke-width="1.0" stroke-linecap="round"/><path d="M20.4 27.0h0M18.8 21.7h0M41.1 26.8h0M19.8 25.8h0M30.8 32.7h0M19.4 23.0h0M25.9 19.4h0M16.3 29.4h0" stroke="#fff" stroke-opacity="0.25" stroke-width="0.5" stroke-linecap="round"/><path d="M22.2 15.4h0M32.9 16.5h0M25.7 19.6h0M19.9 17.7h0M18.4 21.6h0M21.0 21.9h0M33.3 18.2h0M17.0 9.1h0M32.1 25.6h0M31.8 25.3h0M11.7 26.4h0" stroke="#fff" stroke-opacity="0.5" stroke-width="0.5" stroke-linecap="round"/><path d="M15.7 27.9h0M3.0 20.2h0M14.3 18.4h0M16.5 23.8h0M28.9 17.3h0M25.3 18.5h0M38.2 24.8h0M28.8 25.5h0" stroke="#fff" stroke-opacity="0.75" stroke-width="0.5" stroke-linecap="round"/></g><g><path d="M54.7 21.6h0M56.7 17.7h0M55.0 26.1h0M41.2 17.0h0M52.7 19.8h0M49.1 19.4h0" stroke="#fff" stroke-opacity="0.5" stroke-width="1.0" stroke-linecap="round"/><path d="M56.6 19.4h0M53.0 27.1h0" stroke="#fff" stroke-opacity="1.0" stroke-width="0.5" stroke-linecap="round"/><path d="M58.6 14.2h0M52.3 19.8h0M56.7 23.8h0" stroke="#fff" stroke-opacity="0.5" stroke-width="0.5" stroke-linecap="round"/><path d="M54.3 14.5h0M62.4 16.1h0M51.1 10.9h0M61.9 20.3h0M50.4 21.2h0M54.4 17.1h0M53.2 21.5h0M62.6 11.8h0M44.6 11.8h0M61.3 10.5h0M55.4 4.0h0M57.6 22.8h0" stroke="#fff" stroke-opacity="0.75" stroke-width="1.0" stroke-linecap="round"/><path d="M51.5 16.6h0M53.7 18.9h0M54.6 20.2h0M51.1 16.6h0M56.1 6.4h0M56.7 20.0h0" stroke="#fff" stroke-opacity="0.25" stroke-width="1.0" stroke-linecap="round"/><path d="M53.1 15.6h0M51.6 13.6h0" stroke="#fff" stroke-opacity="0.25" stroke-width="0.5" stroke-linecap="round"/><path d="M55.2 15.4h0M52.5 13.6h0M56.0 8.8h0" stroke="#fff" stroke-opacity="0.75" stroke-width="0.5" stroke-linecap="round"/><path d="M54.7 18.0h0M57.6 17.7h0M54.5 23.8h0M54.7 11.5h0M57.4 17.4h0M57.1 17.7h0" stroke="#fff" stroke-opacity="1.0" stroke-width="1.0" stroke-linecap="round"/></g><g><path d="M27.3 58.5h0M33.6 52.8h0M42.7 50.9h0M36.2 46.1h0M21.0 53.8h0M31.3 51.1h0M26.7 50.3h0M31.9 54.9h0M7.9 51.5h0M34.7 46.7h0M33.0 51.9h0M22.9 54.5h0M34.6 65.9h0M16.2 70.6h0M33.0 51.9h0M19.5 48.4h0M26.6 46.1h0M25.5 45.3h0M19.3 55.0h0M41.7 53.3h0M12.8 45.0h0M18.3 45.8h0M37.3 53.7h0M38.3 54.1h0M37.2 57.1h0M30.4 43.9h0M20.8 49.8h0M12.7 40.8h0M12.6 56.7h0M22.5 48.9h0M22.8 42.2h0M23.3 69.4h0M17.2 53.6h0M24.8 38.1h0M31.5 51.9h0M28.3 51.8h0M25.3 58.1h0M28.4 55.9h0M25.6 37.1h0M36.4 47.9h0M16.7 52.2h0" stroke="#fff" stroke-opacity="0.5" stroke-width="1.0" stroke-linecap="round"/><path d="M23.6 56.7h0M11.0 51.8h0M21.2 41.2h0M40.1 50.1h0M28.1 49.2h0M53.6 50.0h0M39.6 46.8h0M25.9 52.3h0M30.5 44.1h0M28.4 50.7h0M21.2 44.8h0M40.9 49.3h0M32.2 36.1h0M25.1 48.0h0M36.1 56.3h0M19.9 42.2h0M30.1 61.4h0M22.3 61.8h0M39.5 48.1h0M12.5 55.8h0M36.4 58.3h0M22.9 55.9h0M32.4 46.5h0M35.8 50.4h0M40.5 49.0h0M34.8 52.8h0" stroke="#fff" stroke-opacity="0.75" stroke-width="0.5" stroke-linecap="round"/><path d="M17.1 45.0h0M32.3 57.2h0M22.1 51.4h0M35.4 57.4h0M30.3 51.7h0M23.1 45.3h0M33.6 46.7h0M16.7 59.0h0M11.0 51.8h0M21.7 44.9h0M29.3 48.8h0M38.6 39.1h0M21.3 65.7h0M42.4 35.8h0M30.1 40.3h0M35.4 50.1h0M16.0 48.2h0M30.9 59.4h0M26.1 51.9h0M24.9 55.9h0M35.8 59.5h0M36.9 42.4h0M26.8 52.0h0M34.4 38.1h0M13.7 62.8h0M17.1 52.8h0M28.8 57.6h0M11.9 49.5h0M17.6 55.3h0M9.6 58.2h0M12.4 51.8h0M34.0 55.5h0M19.2 45.1h0M26.2 51.8h0M33.4 40.4h0M14.0 56.0h0" stroke="#fff" stroke-opacity="0.75" stroke-width="1.0" stroke-linecap="round"/><path d="M28.1 44.6h0M16.5 46.9h0M18.1 41.5h0M17.4 44.7h0M25.7 53.9h0M44.6 54.5h0M38.8 58.9h0M27.2 51.3h0M40.8 49.6h0" stroke="#fff" stroke-opacity="0.25" stroke-width="0.5" stroke-linecap="round"/><path d="M10.1 46.9h0M11.8 52.7h0M14.1 53.2h0M29.3 51.5h0M40.9 55.5h0M18.1 52.5h0M27.7 58.8h0M27.7 48.4h0M25.7 52.8h0M36.5 51.0h0M29.8 57.5h0M23.0 55.0h0M15.9 60.5h0M24.2 53.4h0M16.3 59.8h0" stroke="#fff" stroke-opacity="0.5" stroke-width="0.5" stroke-linecap="round"/><path d="M16.4 42.5h0M18.5 45.6h0M21.6 58.6h0M13.9 42.7h0M19.0 53.9h0M17.2 44.6h0M37.7 56.2h0M25.0 49.3h0M17.4 59.9h0M27.6 50.8h0M22.8 48.9h0M18.6 48.6h0M25.5 53.3h0M23.2 56.1h0M11.0 58.5h0M14.6 38.6h0M23.0 56.5h0M23.0 64.6h0M35.7 43.5h0M36.8 57.1h0M17.8 49.7h0" stroke="#fff" stroke-opacity="1.0" stroke-width="1.0" stroke-linecap="round"/><path d="M32.1 51.3h0M38.3 54.5h0M22.9 54.4h0M18.5 57.0h0M41.2 51.5h0M22.1 42.9h0M42.0 54.5h0" stroke="#fff" stroke-opacity="0.25" stroke-width="1.0" stroke-linecap="round"/><path d="M20.4 55.7h0M20.9 52.0h0M31.0 53.3h0M3.3 44.7h0M20.9 55.8h0" stroke="#fff" stroke-opacity="1.0" stroke-width="0.5" stroke-linecap="round"/></g><g><path d="M55.8 55.7h0M48.4 57.6h0M59.6 60.4h0M64.0 58.3h0M57.0 62.3h0M54.1 53.4h0M58.8 62.5h0M51.6 45.7h0M54.8 58.1h0M54.7 58.5h0M56.1 50.8h0M51.5 54.7h0M57.6 52.7h0M56.8 55.3h0M52.4 53.5h0M59.7 60.9h0M59.8 54.9h0M66.9 57.0h0M51.5 58.4h0M44.9 58.0h0" stroke="#fff" stroke-opacity="0.5" stroke-width="1.0" stroke-linecap="round"/><path d="M57.8 57.7h0M64.2 59.9h0M52.4 51.5h0M65.4 55.5h0M59.1 50.2h0M57.9 58.6h0M57.6 53.8h0M65.0 67.5h0M51.1 50.4h0M55.3 56.3h0M46.3 52.3h0M64.1 57.5h0M59.3 51.3h0" stroke="#fff" stroke-opacity="0.5" stroke-width="0.5" stroke-linecap="round"/><path d="M51.0 47.1h0M60.9 55.2h0M56.4 57.3h0M61.1 61.9h0M43.7 53.1h0M50.1 49.8h0M50.7 49.8h0M57.9 54.0h0M53.2 54.1h0M49.4 65.7h0M57.8 64.0h0M53.1 52.9h0M63.2 62.3h0M58.6 57.5h0M54.0 56.2h0M64.6 51.7h0M48.0 58.4h0M55.1 47.3h0M61.7 48.7h0" stroke="#fff" stroke-opacity="0.75" stroke-width="1.0" stroke-linecap="round"/><path d="M55.9 56.2h0M55.9 55.5h0M51.1 47.2h0M48.5 48.7h0M58.4 57.2h0M57.6 54.9h0M51.6 58.6h0M64.8 56.5h0M55.9 46.0h0M59.1 54.5h0M65.2 53.0h0" stroke="#fff" stroke-opacity="1.0" stroke-width="1.0" stroke-linecap="round"/><path d="M50.1 56.3h0M56.6 57.4h0M56.5 63.0h0M54.7 55.6h0M66.4 54.5h0M53.5 55.8h0M61.2 56.1h0M58.1 56.6h0" stroke="#fff" stroke-opacity="0.75" stroke-width="0.5" stroke-linecap="round"/><path d="M56.2 54.7h0M59.0 54.0h0M49.0 59.0h0M53.6 55.9h0M52.3 49.8h0M57.8 61.2h0" stroke="#fff" stroke-opacity="0.25" stroke-width="1.0" stroke-linecap="round"/><path d="M67.9 53.0h0M52.2 55.7h0M56.4 49.9h0" stroke="#fff" stroke-opacity="1.0" stroke-width="0.5" stroke-linecap="round"/></g><text x="1.6" y="6.8" font-size="6.9" fill="#f4f4f4" textLength="37.6" lengthAdjust="spacingAndGlyphs">LAMP1-SNAP</text></svg>
<svg x="506.2" y="628.5" width="71.3" height="71.3" viewBox="0 0 71.3 71.3" overflow="hidden"><rect x="0" y="0" width="71.3" height="71.3" filter="url(#nf32)" opacity="1"/><ellipse cx="28.60" cy="26.80" rx="6.00" ry="5.00" fill="#3030c8" opacity="0.85" filter="url(#bl1)"/><ellipse cx="11.00" cy="41.80" rx="5.30" ry="5.50" fill="#3030c8" opacity="0.85" filter="url(#bl1)"/><ellipse cx="33.60" cy="44.00" rx="6.30" ry="5.30" fill="#3030c8" opacity="0.85" filter="url(#bl1)"/><ellipse cx="42.00" cy="60.00" rx="4.50" ry="5.50" fill="#3030c8" opacity="0.85" filter="url(#bl1)"/><ellipse cx="29.40" cy="6.80" rx="4.50" ry="5.00" fill="#2828a0" opacity="0.55" filter="url(#bl1)"/><ellipse cx="64.50" cy="53.40" rx="5.50" ry="5.50" fill="#2828a0" opacity="0.55" filter="url(#bl1)"/><ellipse cx="20.00" cy="1.00" rx="3.00" ry="3.00" fill="#2828a0" opacity="0.55" filter="url(#bl1)"/><ellipse cx="55.00" cy="1.00" rx="4.00" ry="3.00" fill="#2828a0" opacity="0.55" filter="url(#bl1)"/><ellipse cx="66.00" cy="9.50" rx="4.00" ry="4.50" fill="#2828a0" opacity="0.55" filter="url(#bl1)"/><g><path d="M46.4 16.5h0M22.0 19.1h0M16.0 21.4h0M18.4 18.8h0M25.3 26.2h0M30.7 15.8h0M31.6 14.3h0M30.1 23.9h0M32.1 18.8h0M20.4 23.0h0M27.6 31.7h0M32.9 19.0h0M39.6 34.0h0M31.3 23.6h0M26.8 13.7h0M33.7 16.0h0M24.2 28.8h0M40.7 21.1h0M33.3 17.8h0M26.0 14.8h0M29.0 15.2h0M16.3 33.3h0M19.0 22.3h0M28.6 20.1h0M29.6 23.7h0M35.6 26.3h0M6.1 21.9h0M26.5 22.5h0M36.6 31.2h0M37.7 15.3h0M39.7 19.7h0" stroke="#50c828" stroke-opacity="0.5" stroke-width="1.0" stroke-linecap="round"/><path d="M32.1 27.1h0M25.8 19.5h0M39.8 33.8h0M19.8 19.6h0M32.5 29.2h0M39.9 22.8h0M51.6 20.3h0M31.3 12.7h0M25.1 21.3h0M19.1 13.9h0" stroke="#50c828" stroke-opacity="0.75" stroke-width="0.5" stroke-linecap="round"/><path d="M32.3 22.3h0M31.2 15.5h0M36.5 21.1h0M16.4 23.3h0M29.0 17.4h0M28.8 27.2h0M25.2 19.2h0M37.8 26.4h0M26.1 23.0h0M25.3 16.2h0M35.1 17.6h0M23.8 19.5h0M22.5 34.0h0M16.1 26.5h0M25.0 22.6h0M40.0 26.4h0M28.1 23.9h0M16.7 23.5h0M33.7 15.9h0M22.7 23.9h0M34.4 17.9h0M26.7 23.0h0M33.6 16.1h0M36.8 23.1h0M26.7 20.9h0M36.0 27.7h0M30.7 21.8h0M32.6 14.3h0M29.1 22.0h0M19.6 19.3h0M38.1 28.9h0M35.2 24.2h0M33.8 12.9h0M29.1 26.8h0M8.5 13.6h0M34.9 27.3h0M28.4 16.4h0M19.2 26.2h0" stroke="#50c828" stroke-opacity="0.75" stroke-width="1.0" stroke-linecap="round"/><path d="M31.1 19.0h0M46.9 17.0h0M28.8 26.0h0M40.5 28.0h0M34.4 27.3h0" stroke="#50c828" stroke-opacity="0.5" stroke-width="0.5" stroke-linecap="round"/><path d="M35.2 23.0h0M11.8 18.8h0M43.4 23.3h0M35.6 10.5h0M24.2 21.4h0M19.7 30.8h0M25.9 17.2h0M30.4 15.7h0M28.4 10.6h0M23.0 18.3h0M32.8 20.3h0M27.1 19.9h0M22.6 21.7h0M11.7 21.2h0M31.7 19.0h0M31.7 24.1h0M22.6 18.5h0M19.2 21.1h0M34.6 14.9h0M36.1 24.9h0M27.5 13.5h0M26.1 27.9h0" stroke="#50c828" stroke-opacity="1.0" stroke-width="1.0" stroke-linecap="round"/><path d="M18.9 28.1h0M23.9 32.2h0M40.3 21.2h0M27.8 26.7h0" stroke="#50c828" stroke-opacity="1.0" stroke-width="0.5" stroke-linecap="round"/></g><g><path d="M58.3 10.7h0M65.7 12.1h0M68.2 10.0h0M60.3 21.8h0M64.1 16.1h0" stroke="#50c828" stroke-opacity="1.0" stroke-width="1.0" stroke-linecap="round"/><path d="M57.0 20.8h0M60.6 18.0h0M62.7 15.7h0M60.7 11.5h0M63.4 19.6h0M64.6 20.4h0M61.0 10.5h0M64.0 9.2h0M60.3 6.5h0M60.4 14.8h0M59.2 15.6h0M61.8 17.6h0" stroke="#50c828" stroke-opacity="0.75" stroke-width="1.0" stroke-linecap="round"/><path d="M60.1 18.4h0M61.4 13.6h0M57.6 21.9h0M65.3 18.1h0M56.9 9.1h0M59.5 22.1h0" stroke="#50c828" stroke-opacity="0.75" stroke-width="0.5" stroke-linecap="round"/><path d="M60.8 18.5h0M64.1 15.5h0M64.5 19.9h0M61.6 14.7h0M66.0 11.0h0M56.7 11.6h0M61.9 18.9h0M59.0 15.1h0M59.4 21.1h0M62.6 13.0h0M57.4 16.1h0" stroke="#50c828" stroke-opacity="0.5" stroke-width="1.0" stroke-linecap="round"/><path d="M61.4 13.6h0M64.3 11.2h0M63.4 24.5h0M59.4 12.8h0M62.6 17.8h0" stroke="#50c828" stroke-opacity="0.5" stroke-width="0.5" stroke-linecap="round"/><path d="M63.8 11.5h0" stroke="#50c828" stroke-opacity="1.0" stroke-width="0.5" stroke-linecap="round"/></g><g><path d="M68.5 52.3h0M69.7 52.9h0M69.4 49.3h0M50.3 55.9h0M53.7 61.1h0M62.0 47.4h0M59.0 53.3h0M58.0 52.6h0M68.0 49.0h0M52.5 46.1h0M61.1 54.3h0M69.0 51.4h0" stroke="#40d028" stroke-opacity="1.0" stroke-width="1.0" stroke-linecap="round"/><path d="M67.2 46.3h0M63.7 44.7h0M60.8 57.7h0M70.5 59.1h0M61.5 51.1h0M59.5 42.4h0M52.5 62.4h0M63.0 49.0h0M57.4 49.9h0M63.7 53.0h0M56.8 59.3h0M60.0 44.9h0M54.4 51.4h0M59.1 50.6h0M61.8 49.2h0M67.8 54.6h0M60.1 60.2h0" stroke="#40d028" stroke-opacity="0.5" stroke-width="1.0" stroke-linecap="round"/><path d="M64.8 50.3h0M57.9 53.3h0M44.9 56.8h0M59.1 50.8h0M52.9 51.7h0M62.9 59.8h0M58.1 50.5h0M58.5 48.8h0M56.5 52.1h0M59.0 49.1h0M62.4 49.7h0M48.6 54.5h0M60.6 46.0h0M55.4 51.0h0M63.3 44.8h0M60.7 58.8h0M55.9 53.8h0M52.5 53.1h0M55.6 49.0h0M62.1 54.5h0M58.6 57.8h0M55.5 50.5h0M59.4 55.4h0M65.1 53.3h0M60.8 49.5h0M63.7 50.5h0M62.6 52.0h0M57.6 59.0h0" stroke="#40d028" stroke-opacity="0.75" stroke-width="1.0" stroke-linecap="round"/><path d="M64.0 52.0h0M55.0 53.2h0M61.3 56.9h0M61.4 49.3h0M60.5 54.8h0M60.7 46.3h0M57.9 57.3h0M64.1 57.6h0M59.3 57.6h0M48.2 64.0h0M55.5 54.9h0M62.8 44.2h0" stroke="#40d028" stroke-opacity="0.75" stroke-width="0.5" stroke-linecap="round"/><path d="M61.2 59.2h0M66.1 60.8h0M69.6 58.4h0M56.8 49.2h0M66.1 45.5h0M63.6 57.4h0M61.2 55.6h0" stroke="#40d028" stroke-opacity="0.5" stroke-width="0.5" stroke-linecap="round"/><path d="M59.3 56.4h0M52.4 52.8h0M53.9 52.9h0M58.0 54.4h0" stroke="#40d028" stroke-opacity="1.0" stroke-width="0.5" stroke-linecap="round"/></g><g><path d="M8.2 37.7h0M12.6 46.0h0M11.4 30.8h0M4.8 38.4h0M15.8 49.2h0M13.1 40.8h0M8.0 39.6h0M11.9 39.3h0M3.4 47.2h0M6.8 42.9h0M10.8 31.2h0M10.1 34.6h0M9.9 36.0h0M11.1 55.0h0M-0.6 49.8h0M6.0 48.6h0M6.1 41.6h0M11.5 43.0h0M6.6 52.4h0M14.5 45.3h0M9.0 40.0h0M12.6 39.9h0M12.5 54.5h0M11.0 33.6h0M8.6 43.5h0M15.7 40.5h0M6.8 51.3h0M10.9 39.7h0M12.4 38.1h0M0.8 45.0h0M1.8 43.9h0M5.1 31.9h0M3.0 48.6h0M6.7 37.1h0M8.6 34.8h0M4.6 48.8h0M4.8 40.4h0" stroke="#e02020" stroke-opacity="0.75" stroke-width="1.0" stroke-linecap="round"/><path d="M8.1 45.4h0M10.0 49.0h0M7.5 35.4h0M11.7 53.5h0M3.0 43.5h0M5.0 48.5h0M12.2 34.0h0M11.4 38.8h0M10.3 47.1h0M9.0 46.5h0M0.8 53.0h0" stroke="#e02020" stroke-opacity="1.0" stroke-width="1.0" stroke-linecap="round"/><path d="M12.5 46.6h0M14.4 43.0h0M7.2 51.6h0M10.8 45.6h0M12.0 51.4h0M10.7 44.7h0M6.4 39.6h0M8.0 45.8h0M6.0 51.8h0M8.2 35.7h0M14.2 41.1h0" stroke="#e02020" stroke-opacity="0.75" stroke-width="0.5" stroke-linecap="round"/><path d="M13.2 55.5h0M0.5 47.7h0M9.6 52.7h0M7.0 38.9h0" stroke="#e02020" stroke-opacity="1.0" stroke-width="0.5" stroke-linecap="round"/><path d="M10.1 39.2h0M2.6 45.0h0M6.9 44.0h0M3.2 27.6h0M6.5 49.7h0M13.9 49.2h0M5.8 53.8h0M10.4 49.4h0M6.6 44.6h0M8.3 44.4h0M6.5 43.5h0M3.4 43.1h0M10.9 50.8h0M1.1 40.6h0M2.4 57.1h0M15.2 44.2h0M6.6 44.0h0" stroke="#e02020" stroke-opacity="0.5" stroke-width="1.0" stroke-linecap="round"/><path d="M7.0 50.4h0M11.8 51.4h0M3.0 43.3h0M11.5 52.2h0M5.8 32.5h0M0.6 52.6h0M2.1 46.1h0M12.4 47.7h0M8.9 48.6h0M5.4 48.2h0" stroke="#e02020" stroke-opacity="0.5" stroke-width="0.5" stroke-linecap="round"/></g><g><path d="M36.2 45.7h0M41.2 58.2h0M43.7 53.4h0M39.8 54.6h0M41.0 62.0h0M43.9 56.8h0M39.4 71.1h0M38.3 57.4h0M39.0 54.6h0M37.7 57.3h0M43.1 50.9h0M42.3 57.1h0M38.0 61.9h0M46.6 42.9h0M38.0 51.9h0M42.1 65.5h0M44.9 54.3h0M34.4 70.5h0" stroke="#e02020" stroke-opacity="0.5" stroke-width="1.0" stroke-linecap="round"/><path d="M52.2 58.3h0M53.2 52.9h0M47.2 48.8h0M42.4 57.2h0M49.1 49.2h0M42.2 61.9h0M34.9 65.2h0M43.3 71.1h0M40.5 63.6h0M42.4 70.3h0M37.7 65.8h0M34.4 57.8h0M35.2 57.7h0M41.4 47.5h0M43.9 54.4h0M45.9 63.0h0M42.2 58.1h0M41.0 66.7h0M39.6 55.0h0" stroke="#e02020" stroke-opacity="0.75" stroke-width="1.0" stroke-linecap="round"/><path d="M36.8 53.0h0M48.3 59.9h0M42.1 56.4h0" stroke="#e02020" stroke-opacity="1.0" stroke-width="0.5" stroke-linecap="round"/><path d="M46.0 58.1h0M42.7 40.1h0M37.6 60.9h0M38.5 58.1h0M52.0 58.3h0M45.2 54.6h0M40.9 60.9h0M42.7 60.1h0M38.3 58.1h0M36.0 57.0h0M42.0 61.7h0M47.0 60.5h0M39.4 59.0h0M39.6 60.6h0" stroke="#e02020" stroke-opacity="1.0" stroke-width="1.0" stroke-linecap="round"/><path d="M37.2 59.0h0M40.7 57.2h0M45.5 64.5h0M42.7 58.9h0M37.7 59.2h0M38.1 44.8h0M44.4 57.1h0M44.2 65.5h0M36.6 57.5h0M48.7 48.8h0" stroke="#e02020" stroke-opacity="0.75" stroke-width="0.5" stroke-linecap="round"/><path d="M38.7 65.8h0M45.6 55.2h0M36.3 71.0h0M45.8 58.4h0" stroke="#e02020" stroke-opacity="0.5" stroke-width="0.5" stroke-linecap="round"/></g><g><path d="M27.7 49.1h0M20.5 60.6h0M35.1 54.3h0M16.3 55.5h0M27.8 50.9h0M22.9 52.6h0M36.3 52.1h0M32.5 46.4h0M40.7 41.3h0M25.8 41.2h0M18.8 58.0h0M27.2 52.9h0M25.2 57.1h0M34.2 62.2h0M25.5 46.6h0M31.6 39.1h0M26.5 59.2h0M23.7 59.0h0M29.5 47.4h0M27.1 59.4h0M18.5 51.6h0M23.3 44.6h0M37.8 50.1h0M26.7 53.1h0M33.5 52.4h0M35.1 52.0h0M23.7 44.7h0M25.1 47.3h0M27.5 61.3h0M27.1 61.7h0M25.5 46.9h0M24.8 44.2h0M39.8 45.0h0M31.9 52.2h0M32.0 54.9h0M32.8 50.5h0" stroke="#b8b020" stroke-opacity="0.75" stroke-width="1.0" stroke-linecap="round"/><path d="M30.1 54.6h0M27.7 56.2h0M26.6 52.3h0M32.6 59.5h0M28.4 47.2h0M38.9 48.9h0M28.6 55.1h0M28.6 55.8h0M19.7 55.6h0M24.4 45.3h0M35.9 58.2h0M27.9 48.0h0M30.3 55.3h0M37.1 46.6h0M42.3 57.6h0M38.3 42.7h0M28.0 48.9h0M26.9 50.2h0" stroke="#b8b020" stroke-opacity="1.0" stroke-width="1.0" stroke-linecap="round"/><path d="M31.0 58.5h0M23.4 47.5h0M22.8 63.7h0M30.2 57.0h0M12.0 47.3h0M25.5 51.2h0M20.4 49.3h0M23.7 48.8h0M37.3 53.1h0M35.8 45.9h0M28.8 59.7h0M23.2 60.8h0M38.2 52.6h0M24.7 59.1h0M32.6 52.5h0M24.6 60.1h0M30.3 44.9h0M20.9 43.5h0M34.9 39.9h0M21.4 55.2h0M30.7 53.6h0M25.7 46.6h0" stroke="#b8b020" stroke-opacity="0.5" stroke-width="1.0" stroke-linecap="round"/><path d="M28.5 51.5h0M29.5 61.6h0M29.8 40.2h0M25.1 59.2h0M36.7 52.1h0M33.6 59.1h0M25.9 47.1h0M22.4 55.0h0M32.2 58.9h0M16.9 53.3h0M28.1 53.6h0M38.2 50.0h0M23.3 58.6h0" stroke="#b8b020" stroke-opacity="0.75" stroke-width="0.5" stroke-linecap="round"/><path d="M33.3 62.0h0M25.0 44.9h0M21.0 53.4h0M30.5 46.4h0M24.6 53.5h0M23.9 60.1h0M38.5 58.3h0" stroke="#b8b020" stroke-opacity="0.5" stroke-width="0.5" stroke-linecap="round"/><path d="M26.4 57.9h0M20.8 56.0h0M24.5 49.4h0M20.2 54.7h0" stroke="#b8b020" stroke-opacity="1.0" stroke-width="0.5" stroke-linecap="round"/></g><g><path d="M16.5 63.6h0M12.1 51.8h0M17.2 51.3h0M17.4 57.8h0M18.1 60.6h0M20.0 53.8h0" stroke="#50c828" stroke-opacity="0.5" stroke-width="0.5" stroke-linecap="round"/><path d="M19.5 53.1h0M14.0 56.0h0M17.9 60.7h0M18.5 57.0h0M18.4 59.3h0M11.9 59.3h0" stroke="#50c828" stroke-opacity="0.5" stroke-width="1.0" stroke-linecap="round"/><path d="M11.5 57.8h0" stroke="#50c828" stroke-opacity="1.0" stroke-width="0.5" stroke-linecap="round"/><path d="M14.7 55.2h0M17.1 52.3h0M13.2 53.4h0M18.2 59.0h0" stroke="#50c828" stroke-opacity="0.75" stroke-width="1.0" stroke-linecap="round"/><path d="M14.6 55.8h0M10.6 58.3h0M23.9 59.2h0" stroke="#50c828" stroke-opacity="0.75" stroke-width="0.5" stroke-linecap="round"/></g><g><path d="M57.8 5.0h0M54.5 10.5h0M51.6 6.7h0" stroke="#906010" stroke-opacity="0.75" stroke-width="0.5" stroke-linecap="round"/><path d="M53.0 16.4h0M51.0 22.1h0M57.0 18.8h0M60.0 10.8h0M50.1 3.1h0M54.8 11.9h0M55.9 9.7h0M48.4 14.5h0M55.7 9.8h0" stroke="#906010" stroke-opacity="0.5" stroke-width="1.0" stroke-linecap="round"/><path d="M55.2 10.8h0M53.2 17.9h0M54.2 9.4h0M55.3 10.7h0M48.2 7.1h0M58.6 9.2h0M49.7 10.7h0M56.7 11.1h0" stroke="#906010" stroke-opacity="0.75" stroke-width="1.0" stroke-linecap="round"/><path d="M57.1 7.5h0M59.9 9.4h0M59.6 17.2h0" stroke="#906010" stroke-opacity="0.5" stroke-width="0.5" stroke-linecap="round"/><path d="M50.0 10.5h0M54.9 11.2h0" stroke="#906010" stroke-opacity="1.0" stroke-width="0.5" stroke-linecap="round"/></g><rect x="19.10" y="45.70" width="17.70" height="17.20" fill="none" stroke="#e8e8e8" stroke-width="0.8"/><text x="1.6" y="6.8" font-size="6.9" fill="#f4f4f4" textLength="17.0" lengthAdjust="spacingAndGlyphs">Merge</text></svg>
<svg x="580.2" y="628.5" width="71.3" height="71.3" viewBox="0 0 71.3 71.3" overflow="hidden"><rect x="0" y="0" width="71.3" height="71.3" filter="url(#nf33)" opacity="1"/><path d="M31,0 C34,8 40,14 50,18 C58,21 66,20 72,18 L72,0 Z" fill="#2020a0" opacity="0.85" filter="url(#bl1)"/><g filter="url(#bl1)"><path d="M8.4 -0.7h0M13.7 20.8h0" stroke="#68c030" stroke-opacity="1.0" stroke-width="2.0" stroke-linecap="round"/><path d="M16.1 28.6h0M12.9 5.0h0M0.3 1.5h0M20.8 17.2h0M7.3 17.9h0M8.8 33.8h0M13.0 20.8h0M20.0 30.9h0M21.4 23.3h0M12.1 15.3h0" stroke="#68c030" stroke-opacity="0.75" stroke-width="2.0" stroke-linecap="round"/><path d="M19.3 27.5h0M15.3 17.7h0M11.2 28.9h0M35.4 22.3h0M11.2 27.2h0M12.5 8.1h0M7.0 7.8h0M12.0 23.7h0M16.7 17.6h0M7.5 30.9h0M8.6 20.6h0M19.3 8.8h0M22.9 8.2h0M9.0 10.1h0" stroke="#68c030" stroke-opacity="0.75" stroke-width="3.0" stroke-linecap="round"/><path d="M16.0 15.7h0M11.4 6.3h0M26.3 3.3h0M10.3 19.3h0M17.3 25.1h0M13.5 21.3h0" stroke="#68c030" stroke-opacity="1.0" stroke-width="2.5" stroke-linecap="round"/><path d="M23.6 23.8h0M24.0 7.1h0M17.5 6.9h0M28.6 22.0h0M14.8 5.9h0M27.4 14.9h0M4.7 28.8h0" stroke="#68c030" stroke-opacity="0.5" stroke-width="3.0" stroke-linecap="round"/><path d="M8.8 22.8h0M14.3 7.2h0M12.0 21.8h0M5.4 18.4h0M1.8 13.2h0M29.7 22.8h0M17.0 40.6h0M12.9 22.5h0M5.4 14.1h0M3.1 12.2h0" stroke="#68c030" stroke-opacity="0.75" stroke-width="2.5" stroke-linecap="round"/><path d="M16.0 10.5h0M16.7 27.1h0" stroke="#68c030" stroke-opacity="1.0" stroke-width="3.0" stroke-linecap="round"/><path d="M19.8 21.8h0M17.6 13.8h0" stroke="#68c030" stroke-opacity="0.5" stroke-width="2.0" stroke-linecap="round"/><path d="M0.2 17.7h0M21.5 12.2h0" stroke="#68c030" stroke-opacity="0.5" stroke-width="3.5" stroke-linecap="round"/><path d="M16.3 11.2h0M13.2 23.5h0M13.8 20.5h0M11.9 9.4h0M6.6 23.7h0M14.5 13.7h0M11.7 26.2h0" stroke="#68c030" stroke-opacity="0.5" stroke-width="2.5" stroke-linecap="round"/><path d="M5.0 7.4h0M14.0 32.5h0M2.8 15.4h0" stroke="#68c030" stroke-opacity="0.75" stroke-width="3.5" stroke-linecap="round"/><path d="M19.5 22.9h0" stroke="#68c030" stroke-opacity="1.0" stroke-width="3.5" stroke-linecap="round"/></g><g filter="url(#bl1)"><path d="M13.1 18.6h0M2.5 35.1h0M17.4 65.5h0" stroke="#68c030" stroke-opacity="0.5" stroke-width="2.5" stroke-linecap="round"/><path d="M-0.9 54.5h0M13.3 44.2h0M1.3 44.8h0M24.6 33.9h0M7.3 55.9h0M5.1 27.0h0M7.0 48.7h0" stroke="#68c030" stroke-opacity="0.75" stroke-width="3.0" stroke-linecap="round"/><path d="M18.1 64.5h0M10.8 33.4h0M21.7 36.2h0M8.0 37.4h0M13.6 24.7h0" stroke="#68c030" stroke-opacity="1.0" stroke-width="2.0" stroke-linecap="round"/><path d="M8.1 28.1h0M27.7 40.3h0M24.8 38.7h0M16.3 51.8h0M10.4 50.8h0M15.8 32.9h0M18.1 22.4h0M14.7 31.3h0M15.1 49.5h0M4.0 45.5h0" stroke="#68c030" stroke-opacity="0.75" stroke-width="2.0" stroke-linecap="round"/><path d="M19.0 51.4h0M17.8 25.9h0M29.0 19.5h0M0.2 32.5h0M20.1 28.5h0M16.2 43.3h0M11.9 42.3h0M7.1 42.7h0M9.2 56.2h0M21.6 39.1h0M10.5 37.8h0" stroke="#68c030" stroke-opacity="0.5" stroke-width="3.0" stroke-linecap="round"/><path d="M8.9 45.3h0M6.4 43.8h0M4.0 41.3h0M8.9 61.7h0M17.4 37.1h0M10.4 37.4h0M23.1 14.6h0" stroke="#68c030" stroke-opacity="0.5" stroke-width="2.0" stroke-linecap="round"/><path d="M8.4 44.1h0M11.5 41.7h0M9.7 54.9h0M11.6 56.4h0" stroke="#68c030" stroke-opacity="1.0" stroke-width="3.0" stroke-linecap="round"/><path d="M18.3 38.8h0M6.0 12.8h0M26.3 22.4h0M16.2 40.5h0" stroke="#68c030" stroke-opacity="1.0" stroke-width="2.5" stroke-linecap="round"/><path d="M16.6 50.2h0M5.1 28.8h0" stroke="#68c030" stroke-opacity="1.0" stroke-width="3.5" stroke-linecap="round"/><path d="M18.0 58.3h0M15.4 46.5h0M18.2 44.0h0M14.2 46.6h0M16.7 28.7h0M12.4 27.0h0M17.7 28.7h0M9.4 30.2h0" stroke="#68c030" stroke-opacity="0.75" stroke-width="2.5" stroke-linecap="round"/><path d="M16.1 48.1h0M11.8 55.9h0M8.1 44.7h0M13.3 47.0h0M3.6 59.3h0" stroke="#68c030" stroke-opacity="0.75" stroke-width="3.5" stroke-linecap="round"/></g><g filter="url(#bl1)"><path d="M17.3 48.9h0M19.2 47.9h0M18.6 47.0h0M22.0 49.3h0M20.3 48.3h0M11.3 60.4h0" stroke="#68c030" stroke-opacity="0.75" stroke-width="2.0" stroke-linecap="round"/><path d="M12.1 48.0h0M19.2 54.1h0M19.7 60.6h0M26.1 54.5h0M24.3 54.7h0M15.8 53.2h0M28.9 54.1h0M5.0 51.8h0M28.7 42.1h0M13.3 35.2h0M15.6 51.2h0M3.0 52.7h0" stroke="#68c030" stroke-opacity="0.75" stroke-width="3.0" stroke-linecap="round"/><path d="M11.4 62.7h0M5.3 43.0h0M19.5 52.6h0M29.5 48.9h0M15.0 48.4h0M23.6 48.3h0M21.4 54.8h0" stroke="#68c030" stroke-opacity="0.5" stroke-width="2.0" stroke-linecap="round"/><path d="M14.6 47.7h0" stroke="#68c030" stroke-opacity="0.5" stroke-width="3.0" stroke-linecap="round"/><path d="M9.0 52.8h0M12.1 60.3h0M18.3 56.4h0" stroke="#68c030" stroke-opacity="0.5" stroke-width="2.5" stroke-linecap="round"/><path d="M26.1 54.5h0M42.0 51.3h0M26.1 56.1h0" stroke="#68c030" stroke-opacity="1.0" stroke-width="2.5" stroke-linecap="round"/><path d="M32.1 56.1h0M25.5 59.2h0M31.1 57.7h0M26.3 52.5h0" stroke="#68c030" stroke-opacity="0.75" stroke-width="3.5" stroke-linecap="round"/><path d="M18.4 45.2h0M13.6 44.6h0" stroke="#68c030" stroke-opacity="1.0" stroke-width="2.0" stroke-linecap="round"/><path d="M14.4 46.7h0M30.8 47.3h0M5.1 55.0h0" stroke="#68c030" stroke-opacity="0.5" stroke-width="3.5" stroke-linecap="round"/><path d="M16.8 59.5h0M31.9 44.1h0M27.7 52.7h0" stroke="#68c030" stroke-opacity="0.75" stroke-width="2.5" stroke-linecap="round"/><path d="M34.6 55.3h0" stroke="#68c030" stroke-opacity="1.0" stroke-width="3.0" stroke-linecap="round"/></g><g filter="url(#bl1)"><path d="M42.1 45.5h0M48.1 48.6h0M40.2 37.9h0M43.0 39.8h0M32.1 53.2h0M20.8 42.2h0M25.0 34.8h0M57.4 35.0h0M41.7 40.6h0" stroke="#68c030" stroke-opacity="0.5" stroke-width="2.0" stroke-linecap="round"/><path d="M41.5 40.5h0M36.7 37.8h0M12.8 30.7h0M25.3 53.7h0M28.7 43.3h0M38.5 54.3h0M27.4 45.1h0M36.4 37.6h0M37.4 34.3h0M19.9 32.5h0" stroke="#68c030" stroke-opacity="0.5" stroke-width="3.0" stroke-linecap="round"/><path d="M32.6 33.8h0M31.5 40.2h0M26.3 48.8h0M47.9 37.4h0M39.5 39.9h0M49.2 52.0h0M52.0 40.4h0M41.1 43.9h0M19.4 26.1h0M46.6 33.2h0M25.5 45.3h0M30.7 37.3h0" stroke="#68c030" stroke-opacity="0.75" stroke-width="2.0" stroke-linecap="round"/><path d="M38.8 46.9h0M46.6 31.2h0M41.4 49.6h0M30.9 28.2h0M24.4 35.5h0M39.2 46.9h0M50.9 26.9h0" stroke="#68c030" stroke-opacity="1.0" stroke-width="2.5" stroke-linecap="round"/><path d="M35.4 45.6h0M14.2 43.3h0M37.1 45.5h0M23.1 35.9h0M52.6 39.2h0M33.6 47.6h0M16.0 48.3h0M48.1 42.2h0M34.4 42.0h0M28.5 37.2h0M34.2 47.9h0M40.9 44.8h0M39.7 41.1h0" stroke="#68c030" stroke-opacity="0.75" stroke-width="3.0" stroke-linecap="round"/><path d="M46.6 38.3h0M30.0 38.3h0M52.9 43.2h0M51.2 39.0h0" stroke="#68c030" stroke-opacity="1.0" stroke-width="3.0" stroke-linecap="round"/><path d="M35.8 34.7h0M49.1 41.9h0" stroke="#68c030" stroke-opacity="0.75" stroke-width="3.5" stroke-linecap="round"/><path d="M45.2 42.1h0M21.9 49.0h0M14.2 39.6h0M26.8 47.5h0M23.2 52.3h0M52.5 32.2h0M48.5 43.5h0M47.1 39.1h0M28.6 35.6h0" stroke="#68c030" stroke-opacity="0.5" stroke-width="2.5" stroke-linecap="round"/><path d="M35.0 29.2h0M24.5 42.2h0M39.6 40.0h0M38.2 42.9h0M51.6 40.3h0M29.4 52.8h0M56.3 36.9h0M50.9 53.5h0M44.9 42.6h0M29.1 37.9h0" stroke="#68c030" stroke-opacity="0.75" stroke-width="2.5" stroke-linecap="round"/><path d="M28.9 43.3h0M53.4 43.2h0" stroke="#68c030" stroke-opacity="1.0" stroke-width="2.0" stroke-linecap="round"/><path d="M25.9 43.5h0M35.5 43.7h0" stroke="#68c030" stroke-opacity="0.5" stroke-width="3.5" stroke-linecap="round"/></g><g filter="url(#bl1)"><path d="M32.5 34.9h0M45.8 37.1h0M23.7 43.4h0M39.3 44.5h0M58.0 43.9h0M40.3 46.6h0" stroke="#68c030" stroke-opacity="0.5" stroke-width="2.5" stroke-linecap="round"/><path d="M52.7 40.9h0M50.2 51.4h0M60.5 48.9h0M46.5 41.1h0M42.9 41.4h0M33.5 56.1h0M64.6 49.3h0M56.9 36.4h0M35.0 35.8h0M57.1 40.3h0M64.8 36.4h0M64.2 41.4h0M59.6 46.6h0M49.3 34.7h0" stroke="#68c030" stroke-opacity="0.75" stroke-width="3.0" stroke-linecap="round"/><path d="M45.5 45.1h0M55.3 48.8h0M52.1 30.8h0M50.8 49.3h0M50.0 49.1h0M46.6 47.6h0M69.6 46.4h0M46.9 39.5h0" stroke="#68c030" stroke-opacity="0.75" stroke-width="2.0" stroke-linecap="round"/><path d="M45.6 37.1h0M61.9 34.6h0M47.0 50.1h0M47.8 41.5h0M43.7 42.9h0M69.7 52.3h0M40.6 40.0h0M54.8 40.4h0M33.0 37.9h0M60.1 46.4h0M56.7 37.1h0M58.8 48.0h0M48.9 46.4h0M49.8 60.5h0M43.9 50.1h0" stroke="#68c030" stroke-opacity="0.75" stroke-width="2.5" stroke-linecap="round"/><path d="M33.4 49.3h0M64.1 47.3h0M39.1 40.1h0M45.8 48.2h0M65.5 30.2h0M61.1 56.8h0" stroke="#68c030" stroke-opacity="0.5" stroke-width="3.0" stroke-linecap="round"/><path d="M56.9 40.4h0M51.7 47.7h0" stroke="#68c030" stroke-opacity="0.5" stroke-width="3.5" stroke-linecap="round"/><path d="M39.8 55.0h0M38.0 42.6h0M38.3 43.2h0" stroke="#68c030" stroke-opacity="1.0" stroke-width="3.5" stroke-linecap="round"/><path d="M56.9 57.4h0M39.2 45.2h0" stroke="#68c030" stroke-opacity="0.75" stroke-width="3.5" stroke-linecap="round"/><path d="M47.0 44.8h0M45.9 51.4h0M44.0 46.9h0M58.9 33.7h0M55.1 51.9h0M33.2 40.6h0M51.4 50.3h0" stroke="#68c030" stroke-opacity="0.5" stroke-width="2.0" stroke-linecap="round"/><path d="M61.5 39.4h0M52.9 45.1h0M58.8 41.0h0M47.3 39.0h0M48.5 38.4h0" stroke="#68c030" stroke-opacity="1.0" stroke-width="2.0" stroke-linecap="round"/><path d="M46.4 45.1h0M41.4 39.6h0" stroke="#68c030" stroke-opacity="1.0" stroke-width="2.5" stroke-linecap="round"/></g><g filter="url(#bl1)"><path d="M41.6 19.9h0M36.1 15.4h0M35.8 10.2h0M32.2 6.9h0M38.3 4.2h0M41.2 19.1h0M34.2 18.9h0M37.4 9.3h0" stroke="#68c030" stroke-opacity="0.75" stroke-width="2.5" stroke-linecap="round"/><path d="M41.8 4.9h0M30.2 35.4h0" stroke="#68c030" stroke-opacity="1.0" stroke-width="2.0" stroke-linecap="round"/><path d="M43.2 10.8h0M32.6 10.2h0M36.6 26.1h0M34.3 11.8h0M30.4 22.0h0" stroke="#68c030" stroke-opacity="0.5" stroke-width="3.0" stroke-linecap="round"/><path d="M35.6 26.2h0M36.8 14.6h0" stroke="#68c030" stroke-opacity="0.5" stroke-width="2.0" stroke-linecap="round"/><path d="M29.7 -0.6h0M30.8 17.2h0" stroke="#68c030" stroke-opacity="0.75" stroke-width="3.5" stroke-linecap="round"/><path d="M36.2 8.9h0M34.8 36.6h0M43.5 14.8h0M33.7 14.1h0" stroke="#68c030" stroke-opacity="0.75" stroke-width="2.0" stroke-linecap="round"/><path d="M29.7 18.2h0" stroke="#68c030" stroke-opacity="1.0" stroke-width="3.5" stroke-linecap="round"/><path d="M37.8 27.1h0M41.6 17.4h0M40.0 0.1h0" stroke="#68c030" stroke-opacity="1.0" stroke-width="3.0" stroke-linecap="round"/><path d="M32.4 7.6h0M37.4 12.5h0M31.7 19.9h0M32.2 12.5h0" stroke="#68c030" stroke-opacity="0.5" stroke-width="2.5" stroke-linecap="round"/><path d="M38.4 14.6h0M40.2 10.6h0" stroke="#68c030" stroke-opacity="0.75" stroke-width="3.0" stroke-linecap="round"/><path d="M40.2 9.2h0" stroke="#68c030" stroke-opacity="0.5" stroke-width="3.5" stroke-linecap="round"/></g><g filter="url(#bl1)"><path d="M61.5 29.8h0M66.8 25.6h0M51.3 29.7h0M67.0 28.8h0M61.9 38.4h0M66.4 26.2h0M62.4 47.7h0M53.0 34.1h0M57.9 24.2h0M67.9 18.7h0M55.5 24.8h0" stroke="#68c030" stroke-opacity="0.75" stroke-width="2.5" stroke-linecap="round"/><path d="M57.2 33.4h0" stroke="#68c030" stroke-opacity="0.75" stroke-width="3.5" stroke-linecap="round"/><path d="M56.1 22.0h0M58.9 20.2h0" stroke="#68c030" stroke-opacity="1.0" stroke-width="2.5" stroke-linecap="round"/><path d="M60.2 31.8h0M59.8 32.6h0M67.5 25.7h0M56.4 39.6h0M63.4 32.4h0M61.0 18.2h0M60.5 18.4h0" stroke="#68c030" stroke-opacity="0.5" stroke-width="2.5" stroke-linecap="round"/><path d="M58.3 28.4h0M55.5 21.8h0M63.1 26.8h0M51.6 39.4h0M63.8 30.3h0M65.9 31.5h0M56.0 24.3h0" stroke="#68c030" stroke-opacity="0.75" stroke-width="3.0" stroke-linecap="round"/><path d="M58.8 4.9h0M61.3 24.6h0M67.6 33.5h0M62.1 34.1h0" stroke="#68c030" stroke-opacity="0.75" stroke-width="2.0" stroke-linecap="round"/><path d="M59.2 22.5h0" stroke="#68c030" stroke-opacity="1.0" stroke-width="2.0" stroke-linecap="round"/><path d="M64.5 20.7h0M64.2 31.1h0M64.8 23.2h0M63.8 15.3h0M63.1 17.6h0" stroke="#68c030" stroke-opacity="0.5" stroke-width="2.0" stroke-linecap="round"/><path d="M56.9 28.0h0" stroke="#68c030" stroke-opacity="0.5" stroke-width="3.5" stroke-linecap="round"/><path d="M55.3 26.8h0M60.1 30.0h0M63.1 9.6h0" stroke="#68c030" stroke-opacity="1.0" stroke-width="3.0" stroke-linecap="round"/><path d="M69.3 22.7h0" stroke="#68c030" stroke-opacity="0.5" stroke-width="3.0" stroke-linecap="round"/></g><g filter="url(#bl1)"><path d="M34.2 55.2h0M38.4 62.9h0M16.0 58.8h0M40.1 59.6h0M14.1 58.9h0M48.5 59.9h0" stroke="#68c030" stroke-opacity="0.5" stroke-width="2.0" stroke-linecap="round"/><path d="M32.4 51.2h0M30.1 59.5h0M32.3 59.9h0M27.5 60.9h0" stroke="#68c030" stroke-opacity="0.75" stroke-width="3.0" stroke-linecap="round"/><path d="M15.0 55.5h0M42.1 59.3h0M30.4 53.3h0" stroke="#68c030" stroke-opacity="0.5" stroke-width="2.5" stroke-linecap="round"/><path d="M22.7 57.1h0M25.9 65.3h0M27.7 64.1h0M27.8 58.3h0M25.2 57.0h0M15.7 65.4h0" stroke="#68c030" stroke-opacity="0.75" stroke-width="2.5" stroke-linecap="round"/><path d="M27.3 46.9h0M28.9 63.9h0M30.5 61.6h0" stroke="#68c030" stroke-opacity="1.0" stroke-width="2.5" stroke-linecap="round"/><path d="M29.7 52.6h0M25.1 54.3h0M36.3 64.7h0M43.5 55.0h0" stroke="#68c030" stroke-opacity="0.75" stroke-width="2.0" stroke-linecap="round"/><path d="M36.8 52.0h0" stroke="#68c030" stroke-opacity="1.0" stroke-width="3.0" stroke-linecap="round"/><path d="M27.4 61.0h0" stroke="#68c030" stroke-opacity="1.0" stroke-width="2.0" stroke-linecap="round"/><path d="M33.8 56.9h0" stroke="#68c030" stroke-opacity="0.5" stroke-width="3.5" stroke-linecap="round"/><path d="M21.5 61.1h0" stroke="#68c030" stroke-opacity="0.5" stroke-width="3.0" stroke-linecap="round"/></g><g filter="url(#bl1)"><path d="M56.1 53.0h0" stroke="#68c030" stroke-opacity="0.75" stroke-width="3.5" stroke-linecap="round"/><path d="M57.4 49.6h0M61.9 52.6h0M55.6 44.4h0" stroke="#68c030" stroke-opacity="0.75" stroke-width="2.0" stroke-linecap="round"/><path d="M56.7 51.3h0M64.3 64.5h0" stroke="#68c030" stroke-opacity="1.0" stroke-width="3.0" stroke-linecap="round"/><path d="M48.8 51.9h0M54.5 50.1h0M57.8 44.1h0" stroke="#68c030" stroke-opacity="0.75" stroke-width="3.0" stroke-linecap="round"/><path d="M58.4 50.6h0M51.0 51.4h0" stroke="#68c030" stroke-opacity="1.0" stroke-width="2.0" stroke-linecap="round"/><path d="M69.5 46.2h0M56.1 53.4h0" stroke="#68c030" stroke-opacity="1.0" stroke-width="2.5" stroke-linecap="round"/><path d="M61.3 57.2h0M50.1 52.8h0M62.3 51.6h0" stroke="#68c030" stroke-opacity="0.75" stroke-width="2.5" stroke-linecap="round"/><path d="M62.8 52.2h0M61.8 44.1h0M54.6 49.6h0M57.8 53.6h0" stroke="#68c030" stroke-opacity="0.5" stroke-width="2.5" stroke-linecap="round"/></g><g filter="url(#bl05)"><path d="M3.0 20.8h0M8.6 26.1h0M2.7 8.5h0M-0.2 15.8h0M13.8 26.2h0M22.5 12.3h0M12.3 19.5h0" stroke="#f06018" stroke-opacity="0.75" stroke-width="1.5" stroke-linecap="round"/><path d="M6.2 9.3h0M7.8 14.8h0" stroke="#f06018" stroke-opacity="0.75" stroke-width="2.0" stroke-linecap="round"/><path d="M26.6 7.4h0M8.1 15.0h0" stroke="#f06018" stroke-opacity="1.0" stroke-width="2.5" stroke-linecap="round"/><path d="M20.0 18.3h0M7.9 12.2h0M13.1 19.5h0" stroke="#f06018" stroke-opacity="1.0" stroke-width="2.0" stroke-linecap="round"/><path d="M19.1 18.3h0" stroke="#f06018" stroke-opacity="1.0" stroke-width="1.5" stroke-linecap="round"/><path d="M12.3 19.0h0M9.5 33.1h0" stroke="#f06018" stroke-opacity="0.75" stroke-width="2.5" stroke-linecap="round"/></g><g filter="url(#bl05)"><path d="M9.0 48.4h0M4.3 37.3h0M19.1 43.4h0M7.4 34.7h0M17.6 52.4h0" stroke="#f06018" stroke-opacity="0.75" stroke-width="1.5" stroke-linecap="round"/><path d="M8.6 37.1h0M5.9 38.1h0M9.2 54.7h0M14.8 30.9h0" stroke="#f06018" stroke-opacity="0.75" stroke-width="2.5" stroke-linecap="round"/><path d="M2.2 40.4h0M3.5 27.1h0M16.2 25.5h0" stroke="#f06018" stroke-opacity="1.0" stroke-width="2.0" stroke-linecap="round"/><path d="M11.0 29.9h0M17.2 34.5h0" stroke="#f06018" stroke-opacity="0.75" stroke-width="2.0" stroke-linecap="round"/><path d="M-1.0 39.9h0M9.4 54.5h0M24.9 47.7h0" stroke="#f06018" stroke-opacity="1.0" stroke-width="2.5" stroke-linecap="round"/><path d="M11.3 30.9h0" stroke="#f06018" stroke-opacity="1.0" stroke-width="1.5" stroke-linecap="round"/></g><g filter="url(#bl05)"><path d="M51.2 38.7h0M55.0 36.2h0M47.9 33.5h0M55.0 40.7h0M3.5 34.7h0M40.8 38.2h0" stroke="#f06018" stroke-opacity="0.75" stroke-width="2.5" stroke-linecap="round"/><path d="M23.1 30.1h0M52.8 47.0h0M33.1 33.9h0" stroke="#f06018" stroke-opacity="1.0" stroke-width="2.0" stroke-linecap="round"/><path d="M37.4 32.7h0M54.5 41.5h0M38.1 42.8h0M30.0 45.8h0M38.7 40.6h0M57.1 40.2h0" stroke="#f06018" stroke-opacity="0.75" stroke-width="1.5" stroke-linecap="round"/><path d="M25.2 35.9h0M26.4 45.6h0M37.0 45.1h0M42.0 35.2h0" stroke="#f06018" stroke-opacity="1.0" stroke-width="2.5" stroke-linecap="round"/><path d="M41.3 37.8h0M44.4 37.2h0M46.6 37.0h0M36.2 35.7h0M31.6 40.4h0M33.8 32.2h0M27.3 48.3h0M42.0 34.4h0M51.8 41.9h0M38.1 42.5h0M46.6 39.0h0M48.9 41.0h0" stroke="#f06018" stroke-opacity="0.75" stroke-width="2.0" stroke-linecap="round"/><path d="M26.2 29.6h0" stroke="#f06018" stroke-opacity="1.0" stroke-width="1.5" stroke-linecap="round"/></g><g filter="url(#bl05)"><path d="M51.3 55.2h0M41.8 61.1h0M52.3 45.0h0M49.8 59.6h0M61.0 43.1h0M54.5 40.0h0M49.5 30.2h0" stroke="#f06018" stroke-opacity="0.75" stroke-width="2.5" stroke-linecap="round"/><path d="M47.0 43.4h0M51.4 49.2h0M50.6 54.7h0M43.6 47.8h0M67.8 42.8h0M52.4 40.1h0M54.6 36.1h0" stroke="#f06018" stroke-opacity="0.75" stroke-width="2.0" stroke-linecap="round"/><path d="M42.9 39.0h0M40.2 39.5h0M54.2 41.4h0M35.6 44.2h0" stroke="#f06018" stroke-opacity="1.0" stroke-width="2.0" stroke-linecap="round"/><path d="M53.6 41.3h0M38.8 46.7h0M48.3 53.6h0M48.1 48.6h0" stroke="#f06018" stroke-opacity="0.75" stroke-width="1.5" stroke-linecap="round"/><path d="M57.8 43.6h0M55.6 49.8h0M36.2 48.8h0" stroke="#f06018" stroke-opacity="1.0" stroke-width="2.5" stroke-linecap="round"/><path d="M61.3 47.6h0" stroke="#f06018" stroke-opacity="1.0" stroke-width="1.5" stroke-linecap="round"/></g><g filter="url(#bl05)"><path d="M43.3 0.7h0M32.8 17.7h0" stroke="#f06018" stroke-opacity="1.0" stroke-width="2.0" stroke-linecap="round"/><path d="M38.2 -0.7h0M38.1 -0.9h0M40.4 6.7h0M40.4 17.6h0" stroke="#f06018" stroke-opacity="0.75" stroke-width="2.0" stroke-linecap="round"/><path d="M34.9 5.7h0" stroke="#f06018" stroke-opacity="1.0" stroke-width="1.5" stroke-linecap="round"/><path d="M46.0 23.3h0M37.3 23.4h0M39.1 20.0h0" stroke="#f06018" stroke-opacity="0.75" stroke-width="1.5" stroke-linecap="round"/></g><g filter="url(#bl05)"><path d="M68.1 22.0h0" stroke="#f06018" stroke-opacity="0.75" stroke-width="1.5" stroke-linecap="round"/><path d="M67.3 17.6h0M64.8 31.7h0M67.8 40.6h0M62.3 27.2h0M60.8 26.8h0M59.5 20.6h0" stroke="#f06018" stroke-opacity="0.75" stroke-width="2.0" stroke-linecap="round"/><path d="M67.9 24.6h0M69.3 30.2h0" stroke="#f06018" stroke-opacity="0.75" stroke-width="2.5" stroke-linecap="round"/><path d="M64.7 26.5h0M56.5 33.5h0M65.1 25.3h0" stroke="#f06018" stroke-opacity="1.0" stroke-width="1.5" stroke-linecap="round"/><path d="M60.5 34.0h0M58.4 12.6h0M49.9 22.9h0" stroke="#f06018" stroke-opacity="1.0" stroke-width="2.0" stroke-linecap="round"/><path d="M66.1 33.8h0" stroke="#f06018" stroke-opacity="1.0" stroke-width="2.5" stroke-linecap="round"/></g><path d="M52.00,52.00 L72.00,48.00 L72.00,72.00 L48.00,72.00 Z" fill="#000" opacity="0.75" filter="url(#bl2)"/><path d="M0.00,62.00 L10.00,60.00 L12.00,72.00 L0.00,72.00 Z" fill="#000" opacity="0.7" filter="url(#bl2)"/><path d="M18.00,24.00 L28.00,26.00 L30.00,32.00 L22.00,34.00 L16.00,30.00 Z" fill="#000" opacity="0.5" filter="url(#bl2)"/><rect x="0" y="0" width="71.3" height="71.3" filter="url(#nf34)" opacity="1"/><line x1="51.5" y1="66" x2="66.6" y2="66" stroke="#fff" stroke-width="1.3"/><text x="1.6" y="6.8" font-size="6.9" fill="#f4f4f4" textLength="14.0" lengthAdjust="spacingAndGlyphs">Inset</text></svg>
<text x="194.00" y="443.30" font-size="11.4" text-anchor="middle" fill="#000" stroke="#000" stroke-width="0.2" >Control</text>
<line x1="48.50" y1="448.20" x2="340.50" y2="448.20" stroke="#222" stroke-width="0.9" />
<text x="505.50" y="443.30" font-size="11.2" text-anchor="middle" fill="#000" stroke="#000" stroke-width="0.2" >PQLC2<tspan font-size="6.8" dy="-4.2">KO</tspan></text>
<line x1="357.70" y1="448.00" x2="652.00" y2="448.00" stroke="#222" stroke-width="0.9" />
<text x="308.20" y="461.80" font-size="7.9" text-anchor="middle" fill="#1eb24a" stroke="#1eb24a" stroke-width="0.2" >LAMP1-SNAP</text>
<text x="308.20" y="470.20" font-size="7.9" text-anchor="middle" fill="#ee1c24" stroke="#ee1c24" stroke-width="0.2" >EGFR-RFP</text>
<text x="308.20" y="478.60" font-size="7.9" text-anchor="middle" fill="#2e3192" stroke="#2e3192" stroke-width="0.2" >Hoechst</text>
<text x="616.80" y="461.80" font-size="7.9" text-anchor="middle" fill="#1eb24a" stroke="#1eb24a" stroke-width="0.2" >LAMP1-SNAP</text>
<text x="616.80" y="470.20" font-size="7.9" text-anchor="middle" fill="#ee1c24" stroke="#ee1c24" stroke-width="0.2" >EGFR-RFP</text>
<text x="616.80" y="478.60" font-size="7.9" text-anchor="middle" fill="#2e3192" stroke="#2e3192" stroke-width="0.2" >Hoechst</text>
<text x="40.70" y="518.70" font-size="7.6" text-anchor="end" fill="#000" stroke="#000" stroke-width="0.2" >Control</text>
<text x="0.00" y="595.30" font-size="7.6" text-anchor="start" fill="#000" stroke="#000" stroke-width="0.2" >Lap-VHL<tspan font-size="4.4" dy="2.2">Inactive</tspan></text>
<text x="42.10" y="673.60" font-size="7.6" text-anchor="end" fill="#000" stroke="#000" stroke-width="0.2" >Lap-VHL</text></svg></body></html>
